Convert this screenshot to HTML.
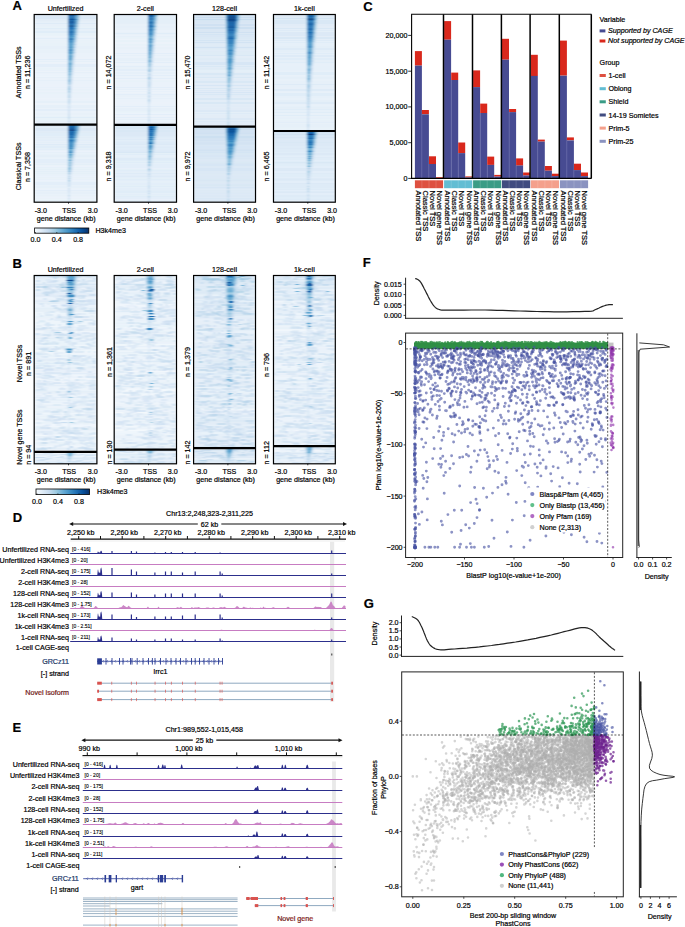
<!DOCTYPE html>
<html><head><meta charset="utf-8"><style>
html,body{margin:0;padding:0;background:#fff;}
body{width:685px;height:927px;overflow:hidden;}
svg{display:block;font-family:"Liberation Sans",sans-serif;font-size:7.15px;}
text{stroke:#000;stroke-width:0.2px;}
</style></head><body>
<svg width="685" height="927" viewBox="0 0 685 927">
<defs><filter id="hb" x="-2%" y="-1%" width="104%" height="102%"><feGaussianBlur stdDeviation="0.8 0.35"/></filter></defs>
<text x="12.6" y="10.1" font-size="13" font-weight="bold">A</text>
<text x="65.5" y="11.2" text-anchor="middle">Unfertilized</text>
<text x="145.3" y="11.2" text-anchor="middle">2-cell</text>
<text x="224.5" y="11.2" text-anchor="middle">128-cell</text>
<text x="304.4" y="11.2" text-anchor="middle">1k-cell</text>
<g filter="url(#hb)">
<path fill="#eaf3fb" d="M34.2 74.5h62.7v1.1h-62.7zM34.2 75.5h62.7v1.1h-62.7zM34.2 198.7h62.7v1.1h-62.7zM114.2 112.5h62.3v1.1h-62.3zM114.2 120.5h62.3v1.1h-62.3z"/>
<path fill="#e8f1fa" d="M34.2 35.5h62.7v1.1h-62.7zM34.2 41.5h62.7v1.1h-62.7zM34.2 57.5h62.7v1.1h-62.7zM34.2 62.5h62.7v1.1h-62.7zM34.2 69.5h62.7v1.1h-62.7zM34.2 70.5h62.7v1.1h-62.7zM34.2 84.5h62.7v1.1h-62.7zM34.2 86.5h62.7v1.1h-62.7zM34.2 87.5h62.7v1.1h-62.7zM34.2 90.5h62.7v1.1h-62.7zM34.2 98.5h62.7v1.1h-62.7zM34.2 103.5h62.7v1.1h-62.7zM34.2 150.7h62.7v1.1h-62.7zM34.2 165.7h62.7v1.1h-62.7zM34.2 174.7h62.7v1.1h-62.7zM34.2 175.7h62.7v1.1h-62.7zM34.2 178.7h62.7v1.1h-62.7zM34.2 179.7h62.7v1.1h-62.7zM34.2 188.7h62.7v1.1h-62.7zM34.2 196.7h62.7v1.1h-62.7zM34.2 201.7h62.7v0.6h-62.7zM114.2 38.5h62.3v1.1h-62.3zM114.2 42.5h62.3v1.1h-62.3zM114.2 45.5h62.3v1.1h-62.3zM114.2 51.5h62.3v1.1h-62.3zM114.2 63.5h62.3v1.1h-62.3zM114.2 79.5h62.3v1.1h-62.3zM114.2 90.5h62.3v1.1h-62.3zM114.2 91.5h62.3v1.1h-62.3zM114.2 102.5h62.3v1.1h-62.3zM114.2 115.5h62.3v1.1h-62.3zM114.2 122.5h62.3v1.1h-62.3zM114.2 124.5h62.3v0.4h-62.3zM114.2 167.8h62.3v1.1h-62.3zM114.2 198.8h62.3v1.1h-62.3z"/>
<path fill="#e6f0f9" d="M34.2 26.5h62.7v1.1h-62.7zM34.2 33.5h62.7v1.1h-62.7zM34.2 36.5h62.7v1.1h-62.7zM34.2 39.5h62.7v1.1h-62.7zM34.2 43.5h62.7v1.1h-62.7zM34.2 45.5h62.7v1.1h-62.7zM34.2 46.5h62.7v1.1h-62.7zM34.2 47.5h62.7v1.1h-62.7zM34.2 48.5h62.7v1.1h-62.7zM34.2 53.5h62.7v1.1h-62.7zM34.2 55.5h62.7v1.1h-62.7zM34.2 60.5h62.7v1.1h-62.7zM34.2 61.5h62.7v1.1h-62.7zM34.2 67.5h62.7v1.1h-62.7zM34.2 71.5h62.7v1.1h-62.7zM34.2 72.5h62.7v1.1h-62.7zM34.2 76.5h62.7v1.1h-62.7zM34.2 77.5h62.7v1.1h-62.7zM34.2 79.5h62.7v1.1h-62.7zM34.2 80.5h62.7v1.1h-62.7zM34.2 82.5h62.7v1.1h-62.7zM34.2 93.5h62.7v1.1h-62.7zM34.2 95.5h62.7v1.1h-62.7zM34.2 97.5h62.7v1.1h-62.7zM34.2 100.5h62.7v1.1h-62.7zM34.2 101.5h62.7v1.1h-62.7zM34.2 102.5h62.7v1.1h-62.7zM34.2 104.5h62.7v1.1h-62.7zM34.2 105.5h62.7v1.1h-62.7zM34.2 106.5h62.7v1.1h-62.7zM34.2 107.5h62.7v1.1h-62.7zM34.2 111.5h62.7v1.1h-62.7zM34.2 115.5h62.7v1.1h-62.7zM34.2 118.5h62.7v1.1h-62.7zM34.2 120.5h62.7v1.1h-62.7zM34.2 121.5h62.7v1.1h-62.7zM34.2 124.5h62.7v0.3h-62.7zM34.2 151.7h62.7v1.1h-62.7zM34.2 152.7h62.7v1.1h-62.7zM34.2 157.7h62.7v1.1h-62.7zM34.2 164.7h62.7v1.1h-62.7zM34.2 166.7h62.7v1.1h-62.7zM34.2 167.7h62.7v1.1h-62.7zM34.2 169.7h62.7v1.1h-62.7zM34.2 177.7h62.7v1.1h-62.7zM34.2 180.7h62.7v1.1h-62.7zM34.2 185.7h62.7v1.1h-62.7zM34.2 186.7h62.7v1.1h-62.7zM34.2 187.7h62.7v1.1h-62.7zM34.2 191.7h62.7v1.1h-62.7zM34.2 192.7h62.7v1.1h-62.7zM34.2 193.7h62.7v1.1h-62.7zM34.2 195.7h62.7v1.1h-62.7zM34.2 197.7h62.7v1.1h-62.7zM34.2 200.7h62.7v1.1h-62.7zM114.2 30.5h62.3v1.1h-62.3zM114.2 35.5h62.3v1.1h-62.3zM114.2 36.5h62.3v1.1h-62.3zM114.2 39.5h62.3v1.1h-62.3zM114.2 41.5h62.3v1.1h-62.3zM114.2 43.5h62.3v1.1h-62.3zM114.2 49.5h62.3v1.1h-62.3zM114.2 54.5h62.3v1.1h-62.3zM114.2 55.5h62.3v1.1h-62.3zM114.2 57.5h62.3v1.1h-62.3zM114.2 58.5h62.3v1.1h-62.3zM114.2 59.5h62.3v1.1h-62.3zM114.2 60.5h62.3v1.1h-62.3zM114.2 64.5h62.3v1.1h-62.3zM114.2 71.5h62.3v1.1h-62.3zM114.2 72.5h62.3v1.1h-62.3zM114.2 73.5h62.3v1.1h-62.3zM114.2 76.5h62.3v1.1h-62.3zM114.2 81.5h62.3v1.1h-62.3zM114.2 83.5h62.3v1.1h-62.3zM114.2 85.5h62.3v1.1h-62.3zM114.2 88.5h62.3v1.1h-62.3zM114.2 89.5h62.3v1.1h-62.3zM114.2 92.5h62.3v1.1h-62.3zM114.2 97.5h62.3v1.1h-62.3zM114.2 98.5h62.3v1.1h-62.3zM114.2 100.5h62.3v1.1h-62.3zM114.2 104.5h62.3v1.1h-62.3zM114.2 107.5h62.3v1.1h-62.3zM114.2 108.5h62.3v1.1h-62.3zM114.2 109.5h62.3v1.1h-62.3zM114.2 110.5h62.3v1.1h-62.3zM114.2 118.5h62.3v1.1h-62.3zM114.2 119.5h62.3v1.1h-62.3zM114.2 152.8h62.3v1.1h-62.3zM114.2 154.8h62.3v1.1h-62.3zM114.2 155.8h62.3v1.1h-62.3zM114.2 156.8h62.3v1.1h-62.3zM114.2 160.8h62.3v1.1h-62.3zM114.2 162.8h62.3v1.1h-62.3zM114.2 168.8h62.3v1.1h-62.3zM114.2 171.8h62.3v1.1h-62.3zM114.2 177.8h62.3v1.1h-62.3zM114.2 180.8h62.3v1.1h-62.3zM114.2 181.8h62.3v1.1h-62.3zM114.2 184.8h62.3v1.1h-62.3zM114.2 186.8h62.3v1.1h-62.3zM114.2 192.8h62.3v1.1h-62.3zM114.2 194.8h62.3v1.1h-62.3zM114.2 199.8h62.3v1.1h-62.3zM114.2 201.8h62.3v0.5h-62.3zM273.5 119.5h61.8v1.1h-61.8zM273.5 127.5h61.8v1.1h-61.8zM273.5 200h61.8v1.1h-61.8z"/>
<path fill="#e3eef9" d="M34.2 24.5h62.7v1.1h-62.7zM34.2 37.5h62.7v1.1h-62.7zM34.2 38.5h62.7v1.1h-62.7zM34.2 50.5h62.7v1.1h-62.7zM34.2 52.5h62.7v1.1h-62.7zM34.2 54.5h62.7v1.1h-62.7zM34.2 56.5h62.7v1.1h-62.7zM34.2 58.5h62.7v1.1h-62.7zM34.2 59.5h62.7v1.1h-62.7zM34.2 63.5h62.7v1.1h-62.7zM34.2 64.5h62.7v1.1h-62.7zM34.2 65.5h62.7v1.1h-62.7zM34.2 66.5h62.7v1.1h-62.7zM34.2 73.5h62.7v1.1h-62.7zM34.2 78.5h62.7v1.1h-62.7zM34.2 81.5h62.7v1.1h-62.7zM34.2 83.5h62.7v1.1h-62.7zM34.2 85.5h62.7v1.1h-62.7zM34.2 88.5h62.7v1.1h-62.7zM34.2 91.5h62.7v1.1h-62.7zM34.2 94.5h62.7v1.1h-62.7zM34.2 96.5h62.7v1.1h-62.7zM34.2 99.5h62.7v1.1h-62.7zM34.2 108.5h62.7v1.1h-62.7zM34.2 109.5h62.7v1.1h-62.7zM34.2 110.5h62.7v1.1h-62.7zM34.2 112.5h62.7v1.1h-62.7zM34.2 114.5h62.7v1.1h-62.7zM34.2 122.5h62.7v1.1h-62.7zM34.2 123.5h62.7v1.1h-62.7zM34.2 139.7h62.7v1.1h-62.7zM34.2 140.7h62.7v1.1h-62.7zM34.2 142.7h62.7v1.1h-62.7zM34.2 148.7h62.7v1.1h-62.7zM34.2 149.7h62.7v1.1h-62.7zM34.2 153.7h62.7v1.1h-62.7zM34.2 156.7h62.7v1.1h-62.7zM34.2 158.7h62.7v1.1h-62.7zM34.2 159.7h62.7v1.1h-62.7zM34.2 160.7h62.7v1.1h-62.7zM34.2 161.7h62.7v1.1h-62.7zM34.2 162.7h62.7v1.1h-62.7zM34.2 171.7h62.7v1.1h-62.7zM34.2 173.7h62.7v1.1h-62.7zM34.2 176.7h62.7v1.1h-62.7zM34.2 181.7h62.7v1.1h-62.7zM34.2 182.7h62.7v1.1h-62.7zM34.2 183.7h62.7v1.1h-62.7zM34.2 184.7h62.7v1.1h-62.7zM34.2 189.7h62.7v1.1h-62.7zM34.2 190.7h62.7v1.1h-62.7zM34.2 194.7h62.7v1.1h-62.7zM114.2 24.5h62.3v1.1h-62.3zM114.2 27.5h62.3v1.1h-62.3zM114.2 29.5h62.3v1.1h-62.3zM114.2 31.5h62.3v1.1h-62.3zM114.2 34.5h62.3v1.1h-62.3zM114.2 46.5h62.3v1.1h-62.3zM114.2 48.5h62.3v1.1h-62.3zM114.2 50.5h62.3v1.1h-62.3zM114.2 52.5h62.3v1.1h-62.3zM114.2 53.5h62.3v1.1h-62.3zM114.2 56.5h62.3v1.1h-62.3zM114.2 61.5h62.3v1.1h-62.3zM114.2 62.5h62.3v1.1h-62.3zM114.2 65.5h62.3v1.1h-62.3zM114.2 66.5h62.3v1.1h-62.3zM114.2 68.5h62.3v1.1h-62.3zM114.2 69.5h62.3v1.1h-62.3zM114.2 70.5h62.3v1.1h-62.3zM114.2 74.5h62.3v1.1h-62.3zM114.2 75.5h62.3v1.1h-62.3zM114.2 77.5h62.3v1.1h-62.3zM114.2 78.5h62.3v1.1h-62.3zM114.2 82.5h62.3v1.1h-62.3zM114.2 84.5h62.3v1.1h-62.3zM114.2 86.5h62.3v1.1h-62.3zM114.2 87.5h62.3v1.1h-62.3zM114.2 93.5h62.3v1.1h-62.3zM114.2 94.5h62.3v1.1h-62.3zM114.2 96.5h62.3v1.1h-62.3zM114.2 99.5h62.3v1.1h-62.3zM114.2 101.5h62.3v1.1h-62.3zM114.2 103.5h62.3v1.1h-62.3zM114.2 105.5h62.3v1.1h-62.3zM114.2 106.5h62.3v1.1h-62.3zM114.2 113.5h62.3v1.1h-62.3zM114.2 114.5h62.3v1.1h-62.3zM114.2 116.5h62.3v1.1h-62.3zM114.2 117.5h62.3v1.1h-62.3zM114.2 121.5h62.3v1.1h-62.3zM114.2 123.5h62.3v1.1h-62.3zM114.2 137.8h62.3v1.1h-62.3zM114.2 139.8h62.3v1.1h-62.3zM114.2 144.8h62.3v1.1h-62.3zM114.2 163.8h62.3v1.1h-62.3zM114.2 164.8h62.3v1.1h-62.3zM114.2 165.8h62.3v1.1h-62.3zM114.2 166.8h62.3v1.1h-62.3zM114.2 170.8h62.3v1.1h-62.3zM114.2 173.8h62.3v1.1h-62.3zM114.2 174.8h62.3v1.1h-62.3zM114.2 176.8h62.3v1.1h-62.3zM114.2 179.8h62.3v1.1h-62.3zM114.2 182.8h62.3v1.1h-62.3zM114.2 183.8h62.3v1.1h-62.3zM114.2 187.8h62.3v1.1h-62.3zM114.2 188.8h62.3v1.1h-62.3zM114.2 189.8h62.3v1.1h-62.3zM114.2 193.8h62.3v1.1h-62.3zM114.2 196.8h62.3v1.1h-62.3zM114.2 197.8h62.3v1.1h-62.3zM273.5 64.5h61.8v1.1h-61.8zM273.5 70.5h61.8v1.1h-61.8zM273.5 75.5h61.8v1.1h-61.8zM273.5 79.5h61.8v1.1h-61.8zM273.5 87.5h61.8v1.1h-61.8zM273.5 91.5h61.8v1.1h-61.8zM273.5 98.5h61.8v1.1h-61.8zM273.5 104.5h61.8v1.1h-61.8zM273.5 113.5h61.8v1.1h-61.8zM273.5 116.5h61.8v1.1h-61.8zM273.5 121.5h61.8v1.1h-61.8zM273.5 122.5h61.8v1.1h-61.8zM273.5 129.5h61.8v1.1h-61.8zM273.5 156h61.8v1.1h-61.8zM273.5 160h61.8v1.1h-61.8zM273.5 166h61.8v1.1h-61.8zM273.5 167h61.8v1.1h-61.8zM273.5 171h61.8v1.1h-61.8zM273.5 172h61.8v1.1h-61.8zM273.5 177h61.8v1.1h-61.8zM273.5 181h61.8v1.1h-61.8zM273.5 182h61.8v1.1h-61.8zM273.5 190h61.8v1.1h-61.8zM273.5 193h61.8v1.1h-61.8zM273.5 194h61.8v1.1h-61.8zM273.5 202h61.8v0.3h-61.8z"/>
<path fill="#e0edf8" d="M34.2 21.5h62.7v1.1h-62.7zM34.2 27.5h62.7v1.1h-62.7zM34.2 28.5h62.7v1.1h-62.7zM34.2 30.5h62.7v1.1h-62.7zM34.2 31.5h62.7v1.1h-62.7zM34.2 32.5h62.7v1.1h-62.7zM34.2 34.5h62.7v1.1h-62.7zM34.2 40.5h62.7v1.1h-62.7zM34.2 42.5h62.7v1.1h-62.7zM34.2 44.5h62.7v1.1h-62.7zM34.2 49.5h62.7v1.1h-62.7zM34.2 51.5h62.7v1.1h-62.7zM34.2 68.5h62.7v1.1h-62.7zM34.2 89.5h62.7v1.1h-62.7zM34.2 92.5h62.7v1.1h-62.7zM34.2 113.5h62.7v1.1h-62.7zM34.2 116.5h62.7v1.1h-62.7zM34.2 117.5h62.7v1.1h-62.7zM34.2 119.5h62.7v1.1h-62.7zM34.2 132.7h62.7v1.1h-62.7zM34.2 133.7h62.7v1.1h-62.7zM34.2 134.7h62.7v1.1h-62.7zM34.2 135.7h62.7v1.1h-62.7zM34.2 137.7h62.7v1.1h-62.7zM34.2 145.7h62.7v1.1h-62.7zM34.2 146.7h62.7v1.1h-62.7zM34.2 147.7h62.7v1.1h-62.7zM34.2 154.7h62.7v1.1h-62.7zM34.2 168.7h62.7v1.1h-62.7zM34.2 172.7h62.7v1.1h-62.7zM34.2 199.7h62.7v1.1h-62.7zM114.2 23.5h62.3v1.1h-62.3zM114.2 25.5h62.3v1.1h-62.3zM114.2 28.5h62.3v1.1h-62.3zM114.2 32.5h62.3v1.1h-62.3zM114.2 33.5h62.3v1.1h-62.3zM114.2 37.5h62.3v1.1h-62.3zM114.2 40.5h62.3v1.1h-62.3zM114.2 44.5h62.3v1.1h-62.3zM114.2 47.5h62.3v1.1h-62.3zM114.2 67.5h62.3v1.1h-62.3zM114.2 80.5h62.3v1.1h-62.3zM114.2 95.5h62.3v1.1h-62.3zM114.2 111.5h62.3v1.1h-62.3zM114.2 136.8h62.3v1.1h-62.3zM114.2 140.8h62.3v1.1h-62.3zM114.2 145.8h62.3v1.1h-62.3zM114.2 147.8h62.3v1.1h-62.3zM114.2 148.8h62.3v1.1h-62.3zM114.2 153.8h62.3v1.1h-62.3zM114.2 159.8h62.3v1.1h-62.3zM114.2 161.8h62.3v1.1h-62.3zM114.2 169.8h62.3v1.1h-62.3zM114.2 178.8h62.3v1.1h-62.3zM114.2 185.8h62.3v1.1h-62.3zM114.2 190.8h62.3v1.1h-62.3zM114.2 191.8h62.3v1.1h-62.3zM114.2 195.8h62.3v1.1h-62.3zM114.2 200.8h62.3v1.1h-62.3zM273.5 41.5h61.8v1.1h-61.8zM273.5 42.5h61.8v1.1h-61.8zM273.5 44.5h61.8v1.1h-61.8zM273.5 52.5h61.8v1.1h-61.8zM273.5 53.5h61.8v1.1h-61.8zM273.5 57.5h61.8v1.1h-61.8zM273.5 58.5h61.8v1.1h-61.8zM273.5 59.5h61.8v1.1h-61.8zM273.5 61.5h61.8v1.1h-61.8zM273.5 62.5h61.8v1.1h-61.8zM273.5 66.5h61.8v1.1h-61.8zM273.5 68.5h61.8v1.1h-61.8zM273.5 71.5h61.8v1.1h-61.8zM273.5 72.5h61.8v1.1h-61.8zM273.5 73.5h61.8v1.1h-61.8zM273.5 74.5h61.8v1.1h-61.8zM273.5 78.5h61.8v1.1h-61.8zM273.5 80.5h61.8v1.1h-61.8zM273.5 82.5h61.8v1.1h-61.8zM273.5 85.5h61.8v1.1h-61.8zM273.5 92.5h61.8v1.1h-61.8zM273.5 93.5h61.8v1.1h-61.8zM273.5 94.5h61.8v1.1h-61.8zM273.5 95.5h61.8v1.1h-61.8zM273.5 97.5h61.8v1.1h-61.8zM273.5 99.5h61.8v1.1h-61.8zM273.5 105.5h61.8v1.1h-61.8zM273.5 108.5h61.8v1.1h-61.8zM273.5 109.5h61.8v1.1h-61.8zM273.5 111.5h61.8v1.1h-61.8zM273.5 112.5h61.8v1.1h-61.8zM273.5 114.5h61.8v1.1h-61.8zM273.5 115.5h61.8v1.1h-61.8zM273.5 118.5h61.8v1.1h-61.8zM273.5 123.5h61.8v1.1h-61.8zM273.5 125.5h61.8v1.1h-61.8zM273.5 128.5h61.8v1.1h-61.8zM273.5 152h61.8v1.1h-61.8zM273.5 155h61.8v1.1h-61.8zM273.5 158h61.8v1.1h-61.8zM273.5 159h61.8v1.1h-61.8zM273.5 161h61.8v1.1h-61.8zM273.5 164h61.8v1.1h-61.8zM273.5 165h61.8v1.1h-61.8zM273.5 174h61.8v1.1h-61.8zM273.5 175h61.8v1.1h-61.8zM273.5 176h61.8v1.1h-61.8zM273.5 188h61.8v1.1h-61.8zM273.5 197h61.8v1.1h-61.8zM273.5 198h61.8v1.1h-61.8z"/>
<path fill="#deebf7" d="M34.2 22.5h62.7v1.1h-62.7zM34.2 23.5h62.7v1.1h-62.7zM34.2 25.5h62.7v1.1h-62.7zM34.2 29.5h62.7v1.1h-62.7zM34.2 126.7h62.7v1.1h-62.7zM34.2 138.7h62.7v1.1h-62.7zM34.2 141.7h62.7v1.1h-62.7zM34.2 143.7h62.7v1.1h-62.7zM34.2 144.7h62.7v1.1h-62.7zM34.2 155.7h62.7v1.1h-62.7zM34.2 163.7h62.7v1.1h-62.7zM34.2 170.7h62.7v1.1h-62.7zM114.2 17.5h62.3v1.1h-62.3zM114.2 19.5h62.3v1.1h-62.3zM114.2 21.5h62.3v1.1h-62.3zM114.2 26.5h62.3v1.1h-62.3zM114.2 128.8h62.3v1.1h-62.3zM114.2 135.8h62.3v1.1h-62.3zM114.2 138.8h62.3v1.1h-62.3zM114.2 141.8h62.3v1.1h-62.3zM114.2 142.8h62.3v1.1h-62.3zM114.2 146.8h62.3v1.1h-62.3zM114.2 149.8h62.3v1.1h-62.3zM114.2 150.8h62.3v1.1h-62.3zM114.2 157.8h62.3v1.1h-62.3zM114.2 158.8h62.3v1.1h-62.3zM114.2 172.8h62.3v1.1h-62.3zM114.2 175.8h62.3v1.1h-62.3zM193.6 70.5h61.9v1.1h-61.9zM193.6 112.5h61.9v1.1h-61.9zM193.6 113.5h61.9v1.1h-61.9zM193.6 120.5h61.9v1.1h-61.9zM193.6 121.5h61.9v1.1h-61.9zM193.6 123.5h61.9v1.1h-61.9zM193.6 188.6h61.9v1.1h-61.9zM273.5 29.5h61.8v1.1h-61.8zM273.5 30.5h61.8v1.1h-61.8zM273.5 39.5h61.8v1.1h-61.8zM273.5 40.5h61.8v1.1h-61.8zM273.5 43.5h61.8v1.1h-61.8zM273.5 45.5h61.8v1.1h-61.8zM273.5 47.5h61.8v1.1h-61.8zM273.5 48.5h61.8v1.1h-61.8zM273.5 49.5h61.8v1.1h-61.8zM273.5 51.5h61.8v1.1h-61.8zM273.5 54.5h61.8v1.1h-61.8zM273.5 55.5h61.8v1.1h-61.8zM273.5 56.5h61.8v1.1h-61.8zM273.5 63.5h61.8v1.1h-61.8zM273.5 65.5h61.8v1.1h-61.8zM273.5 67.5h61.8v1.1h-61.8zM273.5 69.5h61.8v1.1h-61.8zM273.5 76.5h61.8v1.1h-61.8zM273.5 81.5h61.8v1.1h-61.8zM273.5 83.5h61.8v1.1h-61.8zM273.5 84.5h61.8v1.1h-61.8zM273.5 86.5h61.8v1.1h-61.8zM273.5 88.5h61.8v1.1h-61.8zM273.5 89.5h61.8v1.1h-61.8zM273.5 90.5h61.8v1.1h-61.8zM273.5 96.5h61.8v1.1h-61.8zM273.5 101.5h61.8v1.1h-61.8zM273.5 102.5h61.8v1.1h-61.8zM273.5 103.5h61.8v1.1h-61.8zM273.5 106.5h61.8v1.1h-61.8zM273.5 110.5h61.8v1.1h-61.8zM273.5 117.5h61.8v1.1h-61.8zM273.5 120.5h61.8v1.1h-61.8zM273.5 124.5h61.8v1.1h-61.8zM273.5 126.5h61.8v1.1h-61.8zM273.5 139h61.8v1.1h-61.8zM273.5 146h61.8v1.1h-61.8zM273.5 147h61.8v1.1h-61.8zM273.5 149h61.8v1.1h-61.8zM273.5 150h61.8v1.1h-61.8zM273.5 151h61.8v1.1h-61.8zM273.5 157h61.8v1.1h-61.8zM273.5 163h61.8v1.1h-61.8zM273.5 173h61.8v1.1h-61.8zM273.5 178h61.8v1.1h-61.8zM273.5 180h61.8v1.1h-61.8zM273.5 184h61.8v1.1h-61.8zM273.5 185h61.8v1.1h-61.8zM273.5 186h61.8v1.1h-61.8zM273.5 187h61.8v1.1h-61.8zM273.5 189h61.8v1.1h-61.8zM273.5 191h61.8v1.1h-61.8zM273.5 195h61.8v1.1h-61.8zM273.5 196h61.8v1.1h-61.8zM273.5 199h61.8v1.1h-61.8zM273.5 201h61.8v1.1h-61.8z"/>
<path fill="#dce9f6" d="M34.2 15.5h62.7v1.1h-62.7zM34.2 16.5h62.7v1.1h-62.7zM34.2 17.5h62.7v1.1h-62.7zM34.2 18.5h62.7v1.1h-62.7zM34.2 20.5h62.7v1.1h-62.7zM34.2 124.7h62.7v1.1h-62.7zM34.2 127.7h62.7v1.1h-62.7zM34.2 128.7h62.7v1.1h-62.7zM34.2 129.7h62.7v1.1h-62.7zM34.2 130.7h62.7v1.1h-62.7zM34.2 136.7h62.7v1.1h-62.7zM114.2 16.5h62.3v1.1h-62.3zM114.2 20.5h62.3v1.1h-62.3zM114.2 22.5h62.3v1.1h-62.3zM114.2 131.8h62.3v1.1h-62.3zM114.2 132.8h62.3v1.1h-62.3zM114.2 133.8h62.3v1.1h-62.3zM114.2 134.8h62.3v1.1h-62.3zM114.2 143.8h62.3v1.1h-62.3zM193.6 56.5h61.9v1.1h-61.9zM193.6 69.5h61.9v1.1h-61.9zM193.6 71.5h61.9v1.1h-61.9zM193.6 78.5h61.9v1.1h-61.9zM193.6 83.5h61.9v1.1h-61.9zM193.6 86.5h61.9v1.1h-61.9zM193.6 89.5h61.9v1.1h-61.9zM193.6 90.5h61.9v1.1h-61.9zM193.6 96.5h61.9v1.1h-61.9zM193.6 100.5h61.9v1.1h-61.9zM193.6 104.5h61.9v1.1h-61.9zM193.6 107.5h61.9v1.1h-61.9zM193.6 109.5h61.9v1.1h-61.9zM193.6 110.5h61.9v1.1h-61.9zM193.6 111.5h61.9v1.1h-61.9zM193.6 115.5h61.9v1.1h-61.9zM193.6 117.5h61.9v1.1h-61.9zM193.6 118.5h61.9v1.1h-61.9zM193.6 119.5h61.9v1.1h-61.9zM193.6 125.5h61.9v1.1h-61.9zM193.6 126.5h61.9v0.2h-61.9zM193.6 159.6h61.9v1.1h-61.9zM193.6 174.6h61.9v1.1h-61.9zM193.6 182.6h61.9v1.1h-61.9zM193.6 190.6h61.9v1.1h-61.9zM193.6 192.6h61.9v1.1h-61.9zM193.6 193.6h61.9v1.1h-61.9zM193.6 196.6h61.9v1.1h-61.9zM193.6 200.6h61.9v1.1h-61.9zM193.6 201.6h61.9v0.7h-61.9zM273.5 26.5h61.8v1.1h-61.8zM273.5 31.5h61.8v1.1h-61.8zM273.5 32.5h61.8v1.1h-61.8zM273.5 33.5h61.8v1.1h-61.8zM273.5 34.5h61.8v1.1h-61.8zM273.5 35.5h61.8v1.1h-61.8zM273.5 46.5h61.8v1.1h-61.8zM273.5 50.5h61.8v1.1h-61.8zM273.5 60.5h61.8v1.1h-61.8zM273.5 77.5h61.8v1.1h-61.8zM273.5 100.5h61.8v1.1h-61.8zM273.5 107.5h61.8v1.1h-61.8zM273.5 130.5h61.8v0.6h-61.8zM273.5 136h61.8v1.1h-61.8zM273.5 138h61.8v1.1h-61.8zM273.5 140h61.8v1.1h-61.8zM273.5 141h61.8v1.1h-61.8zM273.5 143h61.8v1.1h-61.8zM273.5 144h61.8v1.1h-61.8zM273.5 145h61.8v1.1h-61.8zM273.5 148h61.8v1.1h-61.8zM273.5 153h61.8v1.1h-61.8zM273.5 154h61.8v1.1h-61.8zM273.5 168h61.8v1.1h-61.8zM273.5 169h61.8v1.1h-61.8zM273.5 170h61.8v1.1h-61.8zM273.5 179h61.8v1.1h-61.8zM273.5 183h61.8v1.1h-61.8zM273.5 192h61.8v1.1h-61.8z"/>
<path fill="#d9e8f5" d="M34.2 14.5h62.7v1.1h-62.7zM34.2 19.5h62.7v1.1h-62.7zM34.2 131.7h62.7v1.1h-62.7zM114.2 15.5h62.3v1.1h-62.3zM114.2 18.5h62.3v1.1h-62.3zM114.2 125.8h62.3v1.1h-62.3zM114.2 126.8h62.3v1.1h-62.3zM114.2 127.8h62.3v1.1h-62.3zM114.2 129.8h62.3v1.1h-62.3zM114.2 130.8h62.3v1.1h-62.3zM114.2 151.8h62.3v1.1h-62.3zM193.6 49.5h61.9v1.1h-61.9zM193.6 52.5h61.9v1.1h-61.9zM193.6 54.5h61.9v1.1h-61.9zM193.6 55.5h61.9v1.1h-61.9zM193.6 57.5h61.9v1.1h-61.9zM193.6 60.5h61.9v1.1h-61.9zM193.6 65.5h61.9v1.1h-61.9zM193.6 66.5h61.9v1.1h-61.9zM193.6 72.5h61.9v1.1h-61.9zM193.6 73.5h61.9v1.1h-61.9zM193.6 74.5h61.9v1.1h-61.9zM193.6 76.5h61.9v1.1h-61.9zM193.6 77.5h61.9v1.1h-61.9zM193.6 80.5h61.9v1.1h-61.9zM193.6 81.5h61.9v1.1h-61.9zM193.6 82.5h61.9v1.1h-61.9zM193.6 87.5h61.9v1.1h-61.9zM193.6 88.5h61.9v1.1h-61.9zM193.6 93.5h61.9v1.1h-61.9zM193.6 94.5h61.9v1.1h-61.9zM193.6 97.5h61.9v1.1h-61.9zM193.6 98.5h61.9v1.1h-61.9zM193.6 99.5h61.9v1.1h-61.9zM193.6 101.5h61.9v1.1h-61.9zM193.6 102.5h61.9v1.1h-61.9zM193.6 103.5h61.9v1.1h-61.9zM193.6 106.5h61.9v1.1h-61.9zM193.6 114.5h61.9v1.1h-61.9zM193.6 116.5h61.9v1.1h-61.9zM193.6 153.6h61.9v1.1h-61.9zM193.6 161.6h61.9v1.1h-61.9zM193.6 166.6h61.9v1.1h-61.9zM193.6 171.6h61.9v1.1h-61.9zM193.6 173.6h61.9v1.1h-61.9zM193.6 176.6h61.9v1.1h-61.9zM193.6 178.6h61.9v1.1h-61.9zM193.6 181.6h61.9v1.1h-61.9zM193.6 185.6h61.9v1.1h-61.9zM193.6 189.6h61.9v1.1h-61.9zM193.6 191.6h61.9v1.1h-61.9zM193.6 194.6h61.9v1.1h-61.9zM193.6 197.6h61.9v1.1h-61.9zM193.6 198.6h61.9v1.1h-61.9zM273.5 19.5h61.8v1.1h-61.8zM273.5 20.5h61.8v1.1h-61.8zM273.5 21.5h61.8v1.1h-61.8zM273.5 22.5h61.8v1.1h-61.8zM273.5 23.5h61.8v1.1h-61.8zM273.5 25.5h61.8v1.1h-61.8zM273.5 27.5h61.8v1.1h-61.8zM273.5 28.5h61.8v1.1h-61.8zM273.5 36.5h61.8v1.1h-61.8zM273.5 37.5h61.8v1.1h-61.8zM273.5 38.5h61.8v1.1h-61.8zM273.5 133h61.8v1.1h-61.8zM273.5 135h61.8v1.1h-61.8zM273.5 142h61.8v1.1h-61.8zM273.5 162h61.8v1.1h-61.8z"/>
<path fill="#d7e6f5" d="M114.2 14.5h62.3v1.1h-62.3zM193.6 44.5h61.9v1.1h-61.9zM193.6 50.5h61.9v1.1h-61.9zM193.6 59.5h61.9v1.1h-61.9zM193.6 61.5h61.9v1.1h-61.9zM193.6 62.5h61.9v1.1h-61.9zM193.6 63.5h61.9v1.1h-61.9zM193.6 64.5h61.9v1.1h-61.9zM193.6 67.5h61.9v1.1h-61.9zM193.6 75.5h61.9v1.1h-61.9zM193.6 79.5h61.9v1.1h-61.9zM193.6 84.5h61.9v1.1h-61.9zM193.6 85.5h61.9v1.1h-61.9zM193.6 91.5h61.9v1.1h-61.9zM193.6 92.5h61.9v1.1h-61.9zM193.6 95.5h61.9v1.1h-61.9zM193.6 105.5h61.9v1.1h-61.9zM193.6 108.5h61.9v1.1h-61.9zM193.6 122.5h61.9v1.1h-61.9zM193.6 124.5h61.9v1.1h-61.9zM193.6 145.6h61.9v1.1h-61.9zM193.6 146.6h61.9v1.1h-61.9zM193.6 147.6h61.9v1.1h-61.9zM193.6 155.6h61.9v1.1h-61.9zM193.6 156.6h61.9v1.1h-61.9zM193.6 158.6h61.9v1.1h-61.9zM193.6 160.6h61.9v1.1h-61.9zM193.6 163.6h61.9v1.1h-61.9zM193.6 164.6h61.9v1.1h-61.9zM193.6 165.6h61.9v1.1h-61.9zM193.6 167.6h61.9v1.1h-61.9zM193.6 168.6h61.9v1.1h-61.9zM193.6 169.6h61.9v1.1h-61.9zM193.6 170.6h61.9v1.1h-61.9zM193.6 172.6h61.9v1.1h-61.9zM193.6 175.6h61.9v1.1h-61.9zM193.6 177.6h61.9v1.1h-61.9zM193.6 180.6h61.9v1.1h-61.9zM193.6 183.6h61.9v1.1h-61.9zM193.6 186.6h61.9v1.1h-61.9zM193.6 187.6h61.9v1.1h-61.9zM193.6 195.6h61.9v1.1h-61.9zM193.6 199.6h61.9v1.1h-61.9zM273.5 14.5h61.8v1.1h-61.8zM273.5 16.5h61.8v1.1h-61.8zM273.5 24.5h61.8v1.1h-61.8zM273.5 137h61.8v1.1h-61.8z"/>
<path fill="#d4e5f4" d="M34.2 125.7h62.7v1.1h-62.7zM114.2 124.8h62.3v1.1h-62.3zM193.6 33.5h61.9v1.1h-61.9zM193.6 34.5h61.9v1.1h-61.9zM193.6 39.5h61.9v1.1h-61.9zM193.6 40.5h61.9v1.1h-61.9zM193.6 43.5h61.9v1.1h-61.9zM193.6 45.5h61.9v1.1h-61.9zM193.6 48.5h61.9v1.1h-61.9zM193.6 51.5h61.9v1.1h-61.9zM193.6 53.5h61.9v1.1h-61.9zM193.6 58.5h61.9v1.1h-61.9zM193.6 68.5h61.9v1.1h-61.9zM193.6 134.6h61.9v1.1h-61.9zM193.6 144.6h61.9v1.1h-61.9zM193.6 151.6h61.9v1.1h-61.9zM193.6 152.6h61.9v1.1h-61.9zM193.6 157.6h61.9v1.1h-61.9zM193.6 162.6h61.9v1.1h-61.9zM193.6 179.6h61.9v1.1h-61.9zM193.6 184.6h61.9v1.1h-61.9zM273.5 17.5h61.8v1.1h-61.8zM273.5 18.5h61.8v1.1h-61.8zM273.5 131h61.8v1.1h-61.8z"/>
<path fill="#d2e3f3" d="M193.6 36.5h61.9v1.1h-61.9zM193.6 38.5h61.9v1.1h-61.9zM193.6 41.5h61.9v1.1h-61.9zM193.6 42.5h61.9v1.1h-61.9zM193.6 46.5h61.9v1.1h-61.9zM193.6 47.5h61.9v1.1h-61.9zM193.6 138.6h61.9v1.1h-61.9zM193.6 140.6h61.9v1.1h-61.9zM193.6 149.6h61.9v1.1h-61.9zM193.6 150.6h61.9v1.1h-61.9zM193.6 154.6h61.9v1.1h-61.9zM273.5 132h61.8v1.1h-61.8zM273.5 134h61.8v1.1h-61.8z"/>
<path fill="#d0e1f2" d="M193.6 23.5h61.9v1.1h-61.9zM193.6 24.5h61.9v1.1h-61.9zM193.6 25.5h61.9v1.1h-61.9zM193.6 29.5h61.9v1.1h-61.9zM193.6 31.5h61.9v1.1h-61.9zM193.6 32.5h61.9v1.1h-61.9zM193.6 37.5h61.9v1.1h-61.9zM193.6 130.6h61.9v1.1h-61.9zM193.6 132.6h61.9v1.1h-61.9zM193.6 133.6h61.9v1.1h-61.9zM193.6 141.6h61.9v1.1h-61.9zM193.6 143.6h61.9v1.1h-61.9zM193.6 148.6h61.9v1.1h-61.9zM273.5 15.5h61.8v1.1h-61.8z"/>
<path fill="#cde0f1" d="M193.6 20.5h61.9v1.1h-61.9zM193.6 22.5h61.9v1.1h-61.9zM193.6 26.5h61.9v1.1h-61.9zM193.6 27.5h61.9v1.1h-61.9zM193.6 28.5h61.9v1.1h-61.9zM193.6 30.5h61.9v1.1h-61.9zM193.6 128.6h61.9v1.1h-61.9zM193.6 129.6h61.9v1.1h-61.9zM193.6 135.6h61.9v1.1h-61.9zM193.6 136.6h61.9v1.1h-61.9zM193.6 137.6h61.9v1.1h-61.9zM193.6 142.6h61.9v1.1h-61.9z"/>
<path fill="#cbdef1" d="M193.6 16.5h61.9v1.1h-61.9zM193.6 17.5h61.9v1.1h-61.9zM193.6 21.5h61.9v1.1h-61.9zM193.6 35.5h61.9v1.1h-61.9zM193.6 131.6h61.9v1.1h-61.9zM193.6 139.6h61.9v1.1h-61.9z"/>
<path fill="#c8ddf0" d="M193.6 15.5h61.9v1.1h-61.9zM193.6 18.5h61.9v1.1h-61.9zM193.6 19.5h61.9v1.1h-61.9zM193.6 126.6h61.9v1.1h-61.9zM193.6 127.6h61.9v1.1h-61.9z"/>
<path fill="#c2d9ee" d="M193.6 14.5h61.9v1.1h-61.9z"/>
<path fill="#e6f0f9" d="M67.7 104.5h3v1.1h-3zM67.7 186.7h2.8v1.1h-2.8z"/>
<path fill="#e0edf8" d="M147.7 88.5h3.5v1.1h-3.5zM147.7 97.5h3v1.1h-3zM147.7 102.5h2.8v1.1h-2.8zM147.7 171.8h3.5v1.1h-3.5z"/>
<path fill="#deebf7" d="M67.7 98.5h3.4v1.1h-3.4zM67.7 102.5h3.1v1.1h-3.1zM67.7 106.5h2.9v1.1h-2.9zM67.7 174.7h4.2v1.1h-4.2zM67.7 178.7h3.7v1.1h-3.7zM67.7 185.7h2.9v1.1h-2.9zM147.7 72.5h4.7v1.1h-4.7zM147.7 91.5h3.3v1.1h-3.3zM147.7 93.5h3.2v1.1h-3.2zM147.7 166.8h4.1v1.1h-4.1zM147.7 167.8h4v1.1h-4zM147.7 176.8h3v1.1h-3zM147.7 177.8h2.9v1.1h-2.9zM147.7 178.8h2.8v1.1h-2.8zM306.9 104.5h3.3v1.1h-3.3zM307 112.5h2.8v1.1h-2.8z"/>
<path fill="#dce9f6" d="M67.7 93.5h3.8v1.1h-3.8zM67.7 97.5h3.5v1.1h-3.5zM67.7 100.5h3.3v1.1h-3.3zM67.7 103.5h3.1v1.1h-3.1zM67.7 105.5h2.9v1.1h-2.9zM67.7 107.5h2.8v1.1h-2.8zM67.7 176.7h3.9v1.1h-3.9zM67.7 181.7h3.3v1.1h-3.3zM67.7 182.7h3.2v1.1h-3.2zM67.7 183.7h3.1v1.1h-3.1zM67.7 184.7h3v1.1h-3zM147.7 71.5h4.7v1.1h-4.7zM147.7 90.5h3.4v1.1h-3.4zM147.7 94.5h3.1v1.1h-3.1zM147.7 98.5h2.9v1.1h-2.9zM147.7 101.5h2.8v1.1h-2.8zM147.7 174.8h3.2v1.1h-3.2zM307 109.5h3v1.1h-3zM307 110.5h2.9v1.1h-2.9zM306.9 181h3.4v1.1h-3.4zM307 184h2.9v1.1h-2.9z"/>
<path fill="#d9e8f5" d="M67.7 75.5h5.5v1.1h-5.5zM67.7 84.5h4.6v1.1h-4.6zM67.7 95.5h3.7v1.1h-3.7zM67.7 175.7h4.1v1.1h-4.1zM147.7 73.5h4.6v1.1h-4.6zM147.7 75.5h4.4v1.1h-4.4zM147.7 79.5h4.1v1.1h-4.1zM147.7 80.5h4.1v1.1h-4.1zM147.7 86.5h3.6v1.1h-3.6zM147.7 87.5h3.6v1.1h-3.6zM147.7 89.5h3.4v1.1h-3.4zM147.7 165.8h4.3v1.1h-4.3zM147.7 170.8h3.6v1.1h-3.6zM147.7 172.8h3.4v1.1h-3.4zM147.7 173.8h3.3v1.1h-3.3zM226.9 171.6h4.5v1.1h-4.5zM307 107.5h3.1v1.1h-3.1zM307 111.5h2.9v1.1h-2.9zM307 113.5h2.8v1.1h-2.8zM306.7 167h5.7v1.1h-5.7zM306.9 180h3.5v1.1h-3.5zM307 182h3.2v1.1h-3.2z"/>
<path fill="#d7e6f5" d="M67.7 85.5h4.5v1.1h-4.5zM67.7 87.5h4.3v1.1h-4.3zM67.7 101.5h3.2v1.1h-3.2zM67.7 171.7h4.6v1.1h-4.6zM67.7 173.7h4.3v1.1h-4.3zM67.7 180.7h3.4v1.1h-3.4zM147.7 67.5h5.1v1.1h-5.1zM147.7 74.5h4.5v1.1h-4.5zM147.7 76.5h4.4v1.1h-4.4zM147.7 81.5h4v1.1h-4zM147.7 82.5h3.9v1.1h-3.9zM147.7 83.5h3.8v1.1h-3.8zM147.7 84.5h3.8v1.1h-3.8zM147.7 95.5h3.1v1.1h-3.1zM147.7 96.5h3v1.1h-3zM147.7 100.5h2.9v1.1h-2.9zM147.7 162.8h4.7v1.1h-4.7zM147.7 175.8h3.1v1.1h-3.1zM227 99.5h3.4v1.1h-3.4zM227.1 178.6h3v1.1h-3zM306.7 82.5h5v1.1h-5zM306.9 102.5h3.5v1.1h-3.5zM307 108.5h3.1v1.1h-3.1zM306.9 176h4.2v1.1h-4.2zM306.9 177h4v1.1h-4zM306.9 178h3.9v1.1h-3.9z"/>
<path fill="#d4e5f4" d="M67.7 77.5h5.3v1.1h-5.3zM67.7 90.5h4.1v1.1h-4.1zM67.7 92.5h3.9v1.1h-3.9zM67.7 94.5h3.7v1.1h-3.7zM67.7 99.5h3.3v1.1h-3.3zM67.7 165.7h5.5v1.1h-5.5zM67.7 177.7h3.8v1.1h-3.8zM67.7 179.7h3.5v1.1h-3.5zM147.7 62.5h5.5v1.1h-5.5zM147.7 66.5h5.2v1.1h-5.2zM147.7 85.5h3.7v1.1h-3.7zM147.7 92.5h3.3v1.1h-3.3zM147.7 160.8h5v1.1h-5zM147.7 169.8h3.8v1.1h-3.8zM227 100.5h3.3v1.1h-3.3zM227.1 102.5h3v1.1h-3zM227.1 103.5h2.9v1.1h-2.9zM227 175.6h3.7v1.1h-3.7zM306.8 91.5h4.3v1.1h-4.3zM306.8 92.5h4.2v1.1h-4.2zM306.9 97.5h3.8v1.1h-3.8zM306.9 99.5h3.7v1.1h-3.7zM306.8 169h5.3v1.1h-5.3zM306.8 170h5.2v1.1h-5.2zM306.8 172h4.8v1.1h-4.8zM306.8 174h4.5v1.1h-4.5zM306.9 175h4.3v1.1h-4.3z"/>
<path fill="#d2e3f3" d="M67.7 72.5h5.8v1.1h-5.8zM67.7 81.5h4.9v1.1h-4.9zM67.7 82.5h4.8v1.1h-4.8zM67.7 83.5h4.7v1.1h-4.7zM67.7 86.5h4.4v1.1h-4.4zM67.7 89.5h4.2v1.1h-4.2zM67.7 96.5h3.6v1.1h-3.6zM67.7 157.7h6.8v1.1h-6.8zM67.7 158.7h6.7v1.1h-6.7zM67.7 160.7h6.3v1.1h-6.3zM67.7 166.7h5.4v1.1h-5.4zM67.7 169.7h4.9v1.1h-4.9zM67.7 172.7h4.5v1.1h-4.5zM147.7 58.5h5.9v1.1h-5.9zM147.7 63.5h5.4v1.1h-5.4zM147.7 64.5h5.3v1.1h-5.3zM147.7 68.5h5v1.1h-5zM147.7 69.5h4.9v1.1h-4.9zM147.7 78.5h4.2v1.1h-4.2zM147.7 99.5h2.9v1.1h-2.9zM147.7 159.8h5.1v1.1h-5.1zM147.7 163.8h4.5v1.1h-4.5zM147.7 164.8h4.4v1.1h-4.4zM147.7 168.8h3.9v1.1h-3.9zM227.1 101.5h3.1v1.1h-3.1zM227 174.6h3.9v1.1h-3.9zM227 176.6h3.4v1.1h-3.4zM306.8 83.5h5v1.1h-5zM306.8 87.5h4.6v1.1h-4.6zM306.8 88.5h4.5v1.1h-4.5zM306.8 93.5h4.1v1.1h-4.1zM306.8 94.5h4.1v1.1h-4.1zM306.9 96.5h3.9v1.1h-3.9zM306.9 98.5h3.8v1.1h-3.8zM306.9 100.5h3.6v1.1h-3.6zM306.9 101.5h3.5v1.1h-3.5zM306.9 103.5h3.4v1.1h-3.4zM306.9 105.5h3.3v1.1h-3.3zM306.6 161h6.7v1.1h-6.7zM306.7 164h6.2v1.1h-6.2zM306.7 165h6v1.1h-6zM306.8 168h5.5v1.1h-5.5zM306.8 171h5v1.1h-5zM306.8 173h4.7v1.1h-4.7zM306.9 179h3.7v1.1h-3.7zM307 183h3v1.1h-3z"/>
<path fill="#d0e1f2" d="M67.7 60.5h7v1.1h-7zM67.7 61.5h6.9v1.1h-6.9zM67.7 62.5h6.8v1.1h-6.8zM67.7 67.5h6.3v1.1h-6.3zM67.7 70.5h6v1.1h-6zM67.7 71.5h5.9v1.1h-5.9zM67.7 74.5h5.6v1.1h-5.6zM67.7 76.5h5.4v1.1h-5.4zM67.7 78.5h5.2v1.1h-5.2zM67.7 79.5h5.1v1.1h-5.1zM67.7 91.5h4v1.1h-4zM67.7 152.7h7.7v1.1h-7.7zM67.7 161.7h6.2v1.1h-6.2zM67.7 162.7h6v1.1h-6zM67.7 163.7h5.8v1.1h-5.8zM67.7 164.7h5.7v1.1h-5.7zM147.7 65.5h5.2v1.1h-5.2zM147.7 152.8h6.1v1.1h-6.1zM147.7 153.8h6v1.1h-6zM147.7 154.8h5.8v1.1h-5.8zM147.7 156.8h5.5v1.1h-5.5zM147.7 161.8h4.8v1.1h-4.8zM226.8 83.5h5.5v1.1h-5.5zM226.8 87.5h4.9v1.1h-4.9zM226.7 165.6h5.8v1.1h-5.8zM306.6 66.5h6.5v1.1h-6.5zM306.7 74.5h5.7v1.1h-5.7zM306.7 79.5h5.3v1.1h-5.3zM306.7 80.5h5.2v1.1h-5.2zM306.7 81.5h5.1v1.1h-5.1zM306.8 84.5h4.9v1.1h-4.9zM306.8 89.5h4.5v1.1h-4.5zM306.9 106.5h3.2v1.1h-3.2zM306.6 159h7v1.1h-7z"/>
<path fill="#cde0f1" d="M67.7 48.5h8.3v1.1h-8.3zM67.7 53.5h7.8v1.1h-7.8zM67.7 57.5h7.3v1.1h-7.3zM67.7 64.5h6.6v1.1h-6.6zM67.7 69.5h6.1v1.1h-6.1zM67.7 73.5h5.7v1.1h-5.7zM67.7 156.7h7v1.1h-7zM67.7 167.7h5.2v1.1h-5.2zM147.7 42.5h7.4v1.1h-7.4zM147.7 55.5h6.1v1.1h-6.1zM147.7 57.5h5.9v1.1h-5.9zM147.7 59.5h5.8v1.1h-5.8zM147.7 70.5h4.8v1.1h-4.8zM147.7 77.5h4.3v1.1h-4.3zM147.7 149.8h6.6v1.1h-6.6zM147.7 155.8h5.7v1.1h-5.7zM147.7 157.8h5.4v1.1h-5.4zM147.7 158.8h5.2v1.1h-5.2zM226.6 76.5h6.3v1.1h-6.3zM226.8 86.5h5.1v1.1h-5.1zM226.9 90.5h4.6v1.1h-4.6zM226.9 92.5h4.3v1.1h-4.3zM227 97.5h3.7v1.1h-3.7zM226.8 169.6h5v1.1h-5zM227 177.6h3.2v1.1h-3.2zM306.7 70.5h6.1v1.1h-6.1zM306.7 73.5h5.8v1.1h-5.8zM306.7 76.5h5.6v1.1h-5.6zM306.8 85.5h4.8v1.1h-4.8zM306.8 90.5h4.4v1.1h-4.4zM306.9 95.5h4v1.1h-4zM306.6 155h7.6v1.1h-7.6zM306.6 160h6.8v1.1h-6.8zM306.7 162h6.5v1.1h-6.5zM306.7 166h5.8v1.1h-5.8z"/>
<path fill="#cbdef1" d="M67.7 45.5h8.7v1.1h-8.7zM67.7 54.5h7.7v1.1h-7.7zM67.7 66.5h6.4v1.1h-6.4zM67.7 80.5h5v1.1h-5zM67.7 88.5h4.3v1.1h-4.3zM67.7 149.7h8.2v1.1h-8.2zM67.7 150.7h8v1.1h-8zM67.7 155.7h7.2v1.1h-7.2zM67.7 159.7h6.5v1.1h-6.5zM67.7 168.7h5.1v1.1h-5.1zM67.7 170.7h4.8v1.1h-4.8zM147.7 36.5h8v1.1h-8zM147.7 43.5h7.3v1.1h-7.3zM147.7 48.5h6.8v1.1h-6.8zM147.7 50.5h6.6v1.1h-6.6zM147.7 51.5h6.5v1.1h-6.5zM147.7 54.5h6.2v1.1h-6.2zM147.7 56.5h6v1.1h-6zM147.7 60.5h5.7v1.1h-5.7zM147.7 61.5h5.6v1.1h-5.6zM226.7 78.5h6.1v1.1h-6.1zM226.7 82.5h5.6v1.1h-5.6zM226.8 88.5h4.8v1.1h-4.8zM226.9 89.5h4.7v1.1h-4.7zM226.9 91.5h4.4v1.1h-4.4zM226.9 93.5h4.2v1.1h-4.2zM226.9 94.5h4v1.1h-4zM227 96.5h3.8v1.1h-3.8zM227 98.5h3.5v1.1h-3.5zM226.5 159.6h7.1v1.1h-7.1zM226.7 166.6h5.6v1.1h-5.6zM226.8 167.6h5.4v1.1h-5.4zM226.8 168.6h5.2v1.1h-5.2zM306.6 64.5h6.6v1.1h-6.6zM306.6 65.5h6.5v1.1h-6.5zM306.6 67.5h6.4v1.1h-6.4zM306.6 68.5h6.3v1.1h-6.3zM306.7 71.5h6v1.1h-6zM306.7 75.5h5.6v1.1h-5.6zM306.8 86.5h4.7v1.1h-4.7zM306.5 149h8.6v1.1h-8.6zM306.5 152h8.1v1.1h-8.1zM306.6 156h7.5v1.1h-7.5zM306.6 157h7.3v1.1h-7.3zM306.7 163h6.3v1.1h-6.3z"/>
<path fill="#c8ddf0" d="M67.7 42.5h9v1.1h-9zM67.7 50.5h8.1v1.1h-8.1zM67.7 55.5h7.6v1.1h-7.6zM67.7 59.5h7.1v1.1h-7.1zM67.7 65.5h6.5v1.1h-6.5zM67.7 148.7h8.4v1.1h-8.4zM67.7 153.7h7.5v1.1h-7.5zM67.7 154.7h7.3v1.1h-7.3zM147.7 37.5h7.9v1.1h-7.9zM147.7 40.5h7.6v1.1h-7.6zM147.7 46.5h7v1.1h-7zM147.7 52.5h6.4v1.1h-6.4zM147.7 53.5h6.3v1.1h-6.3zM147.7 139.8h8.2v1.1h-8.2zM147.7 144.8h7.4v1.1h-7.4zM147.7 148.8h6.8v1.1h-6.8zM226.5 70.5h7.1v1.1h-7.1zM226.6 73.5h6.7v1.1h-6.7zM226.7 80.5h5.8v1.1h-5.8zM226.8 84.5h5.3v1.1h-5.3zM226.6 161.6h6.7v1.1h-6.7zM226.7 164.6h6v1.1h-6zM226.8 170.6h4.7v1.1h-4.7zM226.9 172.6h4.3v1.1h-4.3zM226.9 173.6h4.1v1.1h-4.1zM306.7 72.5h5.9v1.1h-5.9zM306.7 77.5h5.5v1.1h-5.5zM306.5 148h8.8v1.1h-8.8zM306.6 158h7.2v1.1h-7.2z"/>
<path fill="#c6dbef" d="M67.7 35.5h9.8v1.1h-9.8zM67.7 43.5h8.9v1.1h-8.9zM67.7 44.5h8.8v1.1h-8.8zM67.7 46.5h8.6v1.1h-8.6zM67.7 47.5h8.4v1.1h-8.4zM67.7 56.5h7.5v1.1h-7.5zM67.7 58.5h7.2v1.1h-7.2zM67.7 68.5h6.2v1.1h-6.2zM147.7 34.5h8.2v1.1h-8.2zM147.7 35.5h8.1v1.1h-8.1zM147.7 38.5h7.8v1.1h-7.8zM147.7 39.5h7.7v1.1h-7.7zM147.7 44.5h7.2v1.1h-7.2zM147.7 45.5h7.1v1.1h-7.1zM147.7 49.5h6.7v1.1h-6.7zM147.7 137.8h8.6v1.1h-8.6zM147.7 140.8h8.1v1.1h-8.1zM147.7 143.8h7.6v1.1h-7.6zM147.7 147.8h6.9v1.1h-6.9zM147.7 150.8h6.5v1.1h-6.5zM147.7 151.8h6.3v1.1h-6.3zM226.5 69.5h7.2v1.1h-7.2zM226.7 77.5h6.2v1.1h-6.2zM226.7 79.5h6v1.1h-6zM226.7 81.5h5.7v1.1h-5.7zM227 95.5h3.9v1.1h-3.9zM226.5 158.6h7.3v1.1h-7.3zM226.6 160.6h6.9v1.1h-6.9zM226.6 162.6h6.5v1.1h-6.5zM306.4 42.5h8.7v1.1h-8.7zM306.5 48.5h8.2v1.1h-8.2zM306.5 50.5h8v1.1h-8zM306.5 54.5h7.6v1.1h-7.6zM306.5 55.5h7.5v1.1h-7.5zM306.5 57.5h7.3v1.1h-7.3zM306.6 58.5h7.2v1.1h-7.2zM306.6 62.5h6.8v1.1h-6.8zM306.7 78.5h5.4v1.1h-5.4zM306.5 150h8.5v1.1h-8.5zM306.5 153h8v1.1h-8z"/>
<path fill="#c2d9ee" d="M67.7 36.5h9.7v1.1h-9.7zM67.7 37.5h9.6v1.1h-9.6zM67.7 39.5h9.3v1.1h-9.3zM67.7 40.5h9.2v1.1h-9.2zM67.7 41.5h9.1v1.1h-9.1zM67.7 51.5h8v1.1h-8zM67.7 52.5h7.9v1.1h-7.9zM67.7 63.5h6.7v1.1h-6.7zM67.7 137.7h10.3v1.1h-10.3zM67.7 142.7h9.4v1.1h-9.4zM67.7 145.7h8.9v1.1h-8.9zM67.7 146.7h8.7v1.1h-8.7zM67.7 151.7h7.8v1.1h-7.8zM147.7 27.5h8.9v1.1h-8.9zM147.7 30.5h8.6v1.1h-8.6zM147.7 41.5h7.5v1.1h-7.5zM147.7 47.5h6.9v1.1h-6.9zM147.7 135.8h8.9v1.1h-8.9zM147.7 145.8h7.2v1.1h-7.2zM147.7 146.8h7.1v1.1h-7.1zM226.3 56.5h8.9v1.1h-8.9zM226.3 57.5h8.8v1.1h-8.8zM226.5 66.5h7.6v1.1h-7.6zM226.6 71.5h7v1.1h-7zM226.8 85.5h5.2v1.1h-5.2zM226.4 154.6h8.2v1.1h-8.2zM226.5 157.6h7.6v1.1h-7.6zM306.4 44.5h8.5v1.1h-8.5zM306.5 47.5h8.3v1.1h-8.3zM306.5 49.5h8.1v1.1h-8.1zM306.5 53.5h7.7v1.1h-7.7zM306.6 59.5h7.1v1.1h-7.1zM306.6 60.5h7v1.1h-7zM306.6 61.5h6.9v1.1h-6.9zM306.6 69.5h6.2v1.1h-6.2zM306.4 146h9.1v1.1h-9.1zM306.5 154h7.8v1.1h-7.8z"/>
<path fill="#bed8ec" d="M67.7 24.5h11.1v1.1h-11.1zM67.7 30.5h10.4v1.1h-10.4zM67.7 144.7h9.1v1.1h-9.1zM147.7 23.5h9.3v1.1h-9.3zM147.7 31.5h8.5v1.1h-8.5zM147.7 32.5h8.4v1.1h-8.4zM147.7 141.8h7.9v1.1h-7.9zM226.3 54.5h9.2v1.1h-9.2zM226.4 63.5h8v1.1h-8zM226.5 65.5h7.8v1.1h-7.8zM226.6 72.5h6.9v1.1h-6.9zM226.6 75.5h6.5v1.1h-6.5zM226.4 153.6h8.4v1.1h-8.4zM226.4 155.6h8v1.1h-8zM226.5 156.6h7.8v1.1h-7.8zM306.4 43.5h8.6v1.1h-8.6zM306.5 45.5h8.4v1.1h-8.4zM306.5 56.5h7.4v1.1h-7.4zM306.6 63.5h6.7v1.1h-6.7zM306.3 139h10.3v1.1h-10.3z"/>
<path fill="#bad6eb" d="M67.7 26.5h10.9v1.1h-10.9zM67.7 33.5h10v1.1h-10zM67.7 34.5h9.9v1.1h-9.9zM67.7 49.5h8.2v1.1h-8.2zM67.7 138.7h10.2v1.1h-10.2zM67.7 139.7h10v1.1h-10zM67.7 140.7h9.8v1.1h-9.8zM67.7 141.7h9.6v1.1h-9.6zM67.7 143.7h9.2v1.1h-9.2zM67.7 147.7h8.5v1.1h-8.5zM147.7 136.8h8.7v1.1h-8.7zM226.3 55.5h9v1.1h-9zM226.4 64.5h7.9v1.1h-7.9zM226.6 74.5h6.6v1.1h-6.6zM226.2 146.6h10v1.1h-10zM226.6 163.6h6.3v1.1h-6.3zM306.4 40.5h8.9v1.1h-8.9zM306.4 41.5h8.8v1.1h-8.8zM306.5 51.5h7.9v1.1h-7.9zM306.4 145h9.3v1.1h-9.3zM306.4 147h9v1.1h-9zM306.5 151h8.3v1.1h-8.3z"/>
<path fill="#b6d4e9" d="M67.7 27.5h10.7v1.1h-10.7zM67.7 28.5h10.6v1.1h-10.6zM67.7 32.5h10.2v1.1h-10.2zM67.7 38.5h9.5v1.1h-9.5zM67.7 135.7h10.7v1.1h-10.7zM147.7 17.5h10v1.1h-10zM147.7 19.5h9.8v1.1h-9.8zM147.7 20.5h9.6v1.1h-9.6zM147.7 24.5h9.2v1.1h-9.2zM147.7 28.5h8.8v1.1h-8.8zM147.7 29.5h8.7v1.1h-8.7zM147.7 33.5h8.3v1.1h-8.3zM147.7 138.8h8.4v1.1h-8.4zM226.2 49.5h9.8v1.1h-9.8zM226.2 52.5h9.4v1.1h-9.4zM226.4 60.5h8.4v1.1h-8.4zM226.4 61.5h8.3v1.1h-8.3zM226.4 62.5h8.1v1.1h-8.1zM226.5 67.5h7.5v1.1h-7.5zM226.5 68.5h7.4v1.1h-7.4zM226.1 145.6h10.2v1.1h-10.2zM226.2 147.6h9.7v1.1h-9.7zM226.3 149.6h9.3v1.1h-9.3zM226.3 152.6h8.6v1.1h-8.6zM306.3 30.5h9.9v1.1h-9.9zM306.4 38.5h9.1v1.1h-9.1zM306.4 39.5h9v1.1h-9zM306.5 46.5h8.3v1.1h-8.3zM306.5 52.5h7.8v1.1h-7.8zM306.3 140h10.1v1.1h-10.1z"/>
<path fill="#b2d2e8" d="M67.7 29.5h10.5v1.1h-10.5zM67.7 134.7h10.9v1.1h-10.9zM147.7 16.5h10.1v1.1h-10.1zM147.7 21.5h9.5v1.1h-9.5zM147.7 125.8h10.6v1.1h-10.6zM147.7 131.8h9.6v1.1h-9.6zM147.7 132.8h9.4v1.1h-9.4zM147.7 134.8h9.1v1.1h-9.1zM147.7 142.8h7.7v1.1h-7.7zM226.1 43.5h10.6v1.1h-10.6zM226.1 45.5h10.3v1.1h-10.3zM226.1 46.5h10.2v1.1h-10.2zM226.2 47.5h10.1v1.1h-10.1zM226.2 48.5h9.9v1.1h-9.9zM226.2 50.5h9.7v1.1h-9.7zM226.2 51.5h9.6v1.1h-9.6zM226.3 58.5h8.7v1.1h-8.7zM226.4 59.5h8.5v1.1h-8.5zM226 141.6h11v1.1h-11zM226.1 142.6h10.8v1.1h-10.8zM226.2 148.6h9.5v1.1h-9.5zM226.3 150.6h9.1v1.1h-9.1zM226.3 151.6h8.9v1.1h-8.9zM306.4 34.5h9.5v1.1h-9.5zM306.4 37.5h9.2v1.1h-9.2zM306.3 136h10.8v1.1h-10.8zM306.3 141h10v1.1h-10zM306.4 143h9.6v1.1h-9.6zM306.4 144h9.5v1.1h-9.5z"/>
<path fill="#aed1e7" d="M67.7 15.5h12.2v1.1h-12.2zM67.7 16.5h12.1v1.1h-12.1zM67.7 17.5h11.9v1.1h-11.9zM67.7 132.7h11.3v1.1h-11.3zM67.7 133.7h11.1v1.1h-11.1zM147.7 25.5h9.1v1.1h-9.1zM147.7 26.5h9v1.1h-9zM147.7 127.8h10.3v1.1h-10.3zM147.7 129.8h9.9v1.1h-9.9zM147.7 130.8h9.7v1.1h-9.7zM147.7 133.8h9.2v1.1h-9.2zM226.1 44.5h10.5v1.1h-10.5zM306.2 20.5h11v1.1h-11zM306.3 25.5h10.5v1.1h-10.5zM306.3 27.5h10.3v1.1h-10.3zM306.3 29.5h10v1.1h-10zM306.3 31.5h9.8v1.1h-9.8zM306.3 32.5h9.7v1.1h-9.7zM306.4 33.5h9.6v1.1h-9.6zM306.4 35.5h9.4v1.1h-9.4zM306.3 135h10.9v1.1h-10.9zM306.3 137h10.6v1.1h-10.6zM306.4 142h9.8v1.1h-9.8z"/>
<path fill="#aacfe5" d="M67.7 20.5h11.6v1.1h-11.6zM67.7 22.5h11.3v1.1h-11.3zM67.7 23.5h11.2v1.1h-11.2zM67.7 31.5h10.3v1.1h-10.3zM67.7 126.7h12.4v1.1h-12.4zM67.7 130.7h11.7v1.1h-11.7zM67.7 136.7h10.5v1.1h-10.5zM147.7 18.5h9.9v1.1h-9.9zM147.7 22.5h9.4v1.1h-9.4zM147.7 128.8h10.1v1.1h-10.1zM225.9 33.5h11.9v1.1h-11.9zM226 39.5h11.1v1.1h-11.1zM226.1 41.5h10.8v1.1h-10.8zM226.3 53.5h9.3v1.1h-9.3zM226 140.6h11.3v1.1h-11.3zM226.1 143.6h10.6v1.1h-10.6zM226.1 144.6h10.4v1.1h-10.4zM306.2 14.5h11.6v1.1h-11.6zM306.2 17.5h11.3v1.1h-11.3zM306.3 21.5h10.9v1.1h-10.9zM306.3 22.5h10.8v1.1h-10.8zM306.3 26.5h10.4v1.1h-10.4zM306.4 36.5h9.3v1.1h-9.3zM306.3 138h10.4v1.1h-10.4z"/>
<path fill="#a6cde4" d="M67.7 21.5h11.5v1.1h-11.5zM67.7 124.7h12.8v1.1h-12.8zM67.7 127.7h12.2v1.1h-12.2zM67.7 131.7h11.5v1.1h-11.5zM147.7 126.8h10.4v1.1h-10.4zM225.9 34.5h11.7v1.1h-11.7zM226 35.5h11.6v1.1h-11.6zM226 40.5h11v1.1h-11zM225.9 138.6h11.7v1.1h-11.7zM226 139.6h11.5v1.1h-11.5zM306.3 24.5h10.6v1.1h-10.6zM306.2 133h11.3v1.1h-11.3z"/>
<path fill="#a2cce2" d="M67.7 18.5h11.8v1.1h-11.8zM67.7 19.5h11.7v1.1h-11.7zM67.7 25.5h11v1.1h-11zM67.7 125.7h12.6v1.1h-12.6zM67.7 128.7h12v1.1h-12zM147.7 124.8h10.8v1.1h-10.8zM225.8 28.5h12.5v1.1h-12.5zM225.9 32.5h12v1.1h-12zM226 37.5h11.4v1.1h-11.4zM226 38.5h11.2v1.1h-11.2zM226.1 42.5h10.7v1.1h-10.7zM225.8 134.6h12.6v1.1h-12.6zM225.9 135.6h12.3v1.1h-12.3zM225.9 137.6h11.9v1.1h-11.9zM306.2 16.5h11.4v1.1h-11.4zM306.2 19.5h11.1v1.1h-11.1zM306.3 23.5h10.7v1.1h-10.7zM306.3 28.5h10.1v1.1h-10.1zM306.2 132h11.4v1.1h-11.4z"/>
<path fill="#9ecae1" d="M67.7 14.5h12.3v1.1h-12.3zM147.7 14.5h10.3v1.1h-10.3zM147.7 15.5h10.2v1.1h-10.2zM225.8 23.5h13.1v1.1h-13.1zM225.9 30.5h12.2v1.1h-12.2zM225.9 31.5h12.1v1.1h-12.1zM225.6 127.6h14.1v1.1h-14.1zM225.8 133.6h12.8v1.1h-12.8zM225.9 136.6h12.1v1.1h-12.1z"/>
<path fill="#99c7e0" d="M67.7 129.7h11.8v1.1h-11.8zM225.8 25.5h12.9v1.1h-12.9zM226 36.5h11.5v1.1h-11.5zM225.8 132.6h13v1.1h-13zM306.2 131h11.6v1.1h-11.6z"/>
<path fill="#94c4df" d="M225.7 21.5h13.4v1.1h-13.4zM225.8 24.5h13v1.1h-13zM225.9 29.5h12.4v1.1h-12.4zM306.2 15.5h11.5v1.1h-11.5z"/>
<path fill="#8fc2de" d="M225.7 22.5h13.3v1.1h-13.3zM225.8 26.5h12.8v1.1h-12.8zM225.8 27.5h12.6v1.1h-12.6zM225.6 126.6h14.3v1.1h-14.3zM225.7 129.6h13.6v1.1h-13.6zM225.7 130.6h13.4v1.1h-13.4zM225.7 131.6h13.2v1.1h-13.2zM306.2 18.5h11.2v1.1h-11.2zM306.2 134h11.1v1.1h-11.1z"/>
<path fill="#8abfdd" d="M225.6 15.5h14.2v1.1h-14.2zM225.7 17.5h13.9v1.1h-13.9zM225.7 20.5h13.5v1.1h-13.5zM225.7 128.6h13.9v1.1h-13.9z"/>
<path fill="#7fb9da" d="M225.6 14.5h14.3v1.1h-14.3zM225.6 16.5h14v1.1h-14zM225.7 19.5h13.7v1.1h-13.7z"/>
<path fill="#7ab6d9" d="M225.7 18.5h13.8v1.1h-13.8z"/>
<path fill="#e3eef9" d="M68.5 104.5h1.2v1.1h-1.2zM68.5 186.7h1.2v1.1h-1.2z"/>
<path fill="#dce9f6" d="M148.5 178.8h1.2v1.1h-1.2z"/>
<path fill="#d9e8f5" d="M68.2 124.5h1.6v0.3h-1.6zM68.2 193.7h1.6v1.1h-1.6zM148.5 88.5h1.2v1.1h-1.2zM148.2 107.5h1.6v1.1h-1.6zM148.2 122.5h1.6v1.1h-1.6zM148.5 171.8h1.2v1.1h-1.2zM148.5 176.8h1.2v1.1h-1.2zM148.2 194.8h1.6v1.1h-1.6zM307.8 110.5h1.2v1.1h-1.2zM307.8 184h1.2v1.1h-1.2z"/>
<path fill="#d7e6f5" d="M68.2 196.7h1.6v1.1h-1.6zM148.5 93.5h1.2v1.1h-1.2zM148.5 97.5h1.2v1.1h-1.2zM148.2 180.8h1.6v1.1h-1.6zM148.2 188.8h1.6v1.1h-1.6zM148.2 191.8h1.6v1.1h-1.6zM148.2 198.8h1.6v1.1h-1.6zM148.2 201.8h1.6v0.5h-1.6zM227.7 171.6h1.7v1.1h-1.7zM307.8 107.5h1.2v1.1h-1.2zM307.8 109.5h1.2v1.1h-1.2zM307.8 112.5h1.2v1.1h-1.2zM307.5 193h1.6v1.1h-1.6z"/>
<path fill="#d4e5f4" d="M68.5 98.5h1.2v1.1h-1.2zM68.5 106.5h1.2v1.1h-1.2zM68.2 108.5h1.6v1.1h-1.6zM68.2 122.5h1.6v1.1h-1.6zM68.5 181.7h1.2v1.1h-1.2zM68.2 198.7h1.6v1.1h-1.6zM68.2 199.7h1.6v1.1h-1.6zM148.5 91.5h1.2v1.1h-1.2zM148.5 102.5h1.2v1.1h-1.2zM148.2 104.5h1.6v1.1h-1.6zM148.2 124.5h1.6v0.4h-1.6zM148.5 166.8h1.3v1.1h-1.3zM148.5 174.8h1.2v1.1h-1.2zM148.5 177.8h1.2v1.1h-1.2zM148.2 183.8h1.6v1.1h-1.6zM148.2 193.8h1.6v1.1h-1.6zM227.9 178.6h1.2v1.1h-1.2zM307.7 104.5h1.2v1.1h-1.2zM307.7 180h1.2v1.1h-1.2zM307.7 181h1.2v1.1h-1.2z"/>
<path fill="#d2e3f3" d="M68.5 102.5h1.2v1.1h-1.2zM68.5 105.5h1.2v1.1h-1.2zM68.5 107.5h1.2v1.1h-1.2zM68.5 174.7h1.4v1.1h-1.4zM68.5 183.7h1.2v1.1h-1.2zM68.5 185.7h1.2v1.1h-1.2zM68.2 192.7h1.6v1.1h-1.6zM68.2 200.7h1.6v1.1h-1.6zM148.5 72.5h1.9v1.1h-1.9zM148.5 94.5h1.2v1.1h-1.2zM148.2 115.5h1.6v1.1h-1.6zM148.5 172.8h1.2v1.1h-1.2zM148.2 179.8h1.6v1.1h-1.6zM148.2 197.8h1.6v1.1h-1.6zM227.8 99.5h1.2v1.1h-1.2zM307.5 115.5h1.6v1.1h-1.6zM307.5 116.5h1.6v1.1h-1.6zM307.5 185h1.6v1.1h-1.6zM307.5 200h1.6v1.1h-1.6z"/>
<path fill="#d0e1f2" d="M68.5 93.5h1.2v1.1h-1.2zM68.5 100.5h1.2v1.1h-1.2zM68.5 178.7h1.2v1.1h-1.2zM68.5 182.7h1.2v1.1h-1.2zM68.5 184.7h1.2v1.1h-1.2zM68.2 188.7h1.6v1.1h-1.6zM68.2 189.7h1.6v1.1h-1.6zM68.2 191.7h1.6v1.1h-1.6zM148.5 80.5h1.3v1.1h-1.3zM148.5 98.5h1.2v1.1h-1.2zM148.5 101.5h1.2v1.1h-1.2zM148.2 117.5h1.6v1.1h-1.6zM148.2 121.5h1.6v1.1h-1.6zM148.5 175.8h1.2v1.1h-1.2zM148.2 182.8h1.6v1.1h-1.6zM227.9 103.5h1.2v1.1h-1.2zM227.6 120.5h1.6v1.1h-1.6zM227.8 175.6h1.2v1.1h-1.2zM227.6 188.6h1.6v1.1h-1.6zM307.8 111.5h1.2v1.1h-1.2zM307.5 117.5h1.6v1.1h-1.6zM307.8 182h1.2v1.1h-1.2zM307.5 187h1.6v1.1h-1.6zM307.5 197h1.6v1.1h-1.6zM307.5 202h1.6v0.3h-1.6z"/>
<path fill="#cde0f1" d="M68.5 97.5h1.2v1.1h-1.2zM68.2 119.5h1.6v1.1h-1.6zM68.5 176.7h1.2v1.1h-1.2zM68.2 201.7h1.6v0.6h-1.6zM148.5 71.5h1.9v1.1h-1.9zM148.5 75.5h1.6v1.1h-1.6zM148.5 86.5h1.2v1.1h-1.2zM148.5 89.5h1.2v1.1h-1.2zM148.5 90.5h1.2v1.1h-1.2zM148.2 105.5h1.6v1.1h-1.6zM148.2 109.5h1.6v1.1h-1.6zM148.2 114.5h1.6v1.1h-1.6zM148.5 167.8h1.2v1.1h-1.2zM148.5 170.8h1.2v1.1h-1.2zM148.2 181.8h1.6v1.1h-1.6zM148.2 187.8h1.6v1.1h-1.6zM148.2 189.8h1.6v1.1h-1.6zM227.9 102.5h1.2v1.1h-1.2zM227.6 106.5h1.6v1.1h-1.6zM227.6 126.5h1.6v0.2h-1.6zM227.6 194.6h1.6v1.1h-1.6zM227.6 197.6h1.6v1.1h-1.6zM227.6 200.6h1.6v1.1h-1.6zM307.8 113.5h1.2v1.1h-1.2zM307.5 120.5h1.6v1.1h-1.6zM307.5 122.5h1.6v1.1h-1.6zM307.5 127.5h1.6v1.1h-1.6zM307.7 178h1.2v1.1h-1.2zM307.5 192h1.6v1.1h-1.6zM307.5 194h1.6v1.1h-1.6zM307.5 196h1.6v1.1h-1.6z"/>
<path fill="#cbdef1" d="M68.5 85.5h1.7v1.1h-1.7zM68.5 103.5h1.2v1.1h-1.2zM68.2 111.5h1.6v1.1h-1.6zM68.2 113.5h1.6v1.1h-1.6zM68.2 120.5h1.6v1.1h-1.6zM68.2 121.5h1.6v1.1h-1.6zM68.2 123.5h1.6v1.1h-1.6zM68.2 187.7h1.6v1.1h-1.6zM68.2 195.7h1.6v1.1h-1.6zM148.5 82.5h1.2v1.1h-1.2zM148.5 87.5h1.2v1.1h-1.2zM148.5 95.5h1.2v1.1h-1.2zM148.2 103.5h1.6v1.1h-1.6zM148.2 106.5h1.6v1.1h-1.6zM148.5 165.8h1.5v1.1h-1.5zM148.5 173.8h1.2v1.1h-1.2zM227.8 100.5h1.2v1.1h-1.2zM227.6 108.5h1.6v1.1h-1.6zM227.8 176.6h1.2v1.1h-1.2zM227.6 185.6h1.6v1.1h-1.6zM227.6 196.6h1.6v1.1h-1.6zM307.5 82.5h2.2v1.1h-2.2zM307.7 102.5h1.2v1.1h-1.2zM307.8 108.5h1.2v1.1h-1.2zM307.5 119.5h1.6v1.1h-1.6zM307.5 128.5h1.6v1.1h-1.6zM307.5 167h2.9v1.1h-2.9zM307.6 169h2.5v1.1h-2.5zM307.6 170h2.4v1.1h-2.4z"/>
<path fill="#c8ddf0" d="M68.5 84.5h1.8v1.1h-1.8zM68.5 95.5h1.2v1.1h-1.2zM68.2 109.5h1.6v1.1h-1.6zM68.2 190.7h1.6v1.1h-1.6zM68.2 197.7h1.6v1.1h-1.6zM148.5 67.5h2.3v1.1h-2.3zM148.5 79.5h1.3v1.1h-1.3zM148.5 96.5h1.2v1.1h-1.2zM148.2 108.5h1.6v1.1h-1.6zM148.2 111.5h1.6v1.1h-1.6zM148.2 184.8h1.6v1.1h-1.6zM148.2 185.8h1.6v1.1h-1.6zM148.2 199.8h1.6v1.1h-1.6zM227.9 101.5h1.2v1.1h-1.2zM227.6 104.5h1.6v1.1h-1.6zM227.6 105.5h1.6v1.1h-1.6zM227.6 121.5h1.6v1.1h-1.6zM227.6 198.6h1.6v1.1h-1.6zM307.7 99.5h1.2v1.1h-1.2zM307.7 176h1.4v1.1h-1.4zM307.7 177h1.2v1.1h-1.2zM307.5 198h1.6v1.1h-1.6z"/>
<path fill="#c6dbef" d="M68.2 118.5h1.6v1.1h-1.6zM68.5 171.7h1.8v1.1h-1.8zM68.5 173.7h1.5v1.1h-1.5zM68.5 175.7h1.3v1.1h-1.3zM148.5 73.5h1.8v1.1h-1.8zM148.5 84.5h1.2v1.1h-1.2zM148.2 112.5h1.6v1.1h-1.6zM148.2 119.5h1.6v1.1h-1.6zM148.2 120.5h1.6v1.1h-1.6zM148.5 162.8h1.9v1.1h-1.9zM148.2 186.8h1.6v1.1h-1.6zM148.2 190.8h1.6v1.1h-1.6zM148.2 196.8h1.6v1.1h-1.6zM227.6 87.5h2.1v1.1h-2.1zM227.6 119.5h1.6v1.1h-1.6zM227.6 123.5h1.6v1.1h-1.6zM227.5 165.6h3v1.1h-3zM227.8 174.6h1.2v1.1h-1.2zM227.6 182.6h1.6v1.1h-1.6zM227.6 189.6h1.6v1.1h-1.6zM307.7 97.5h1.2v1.1h-1.2zM307.7 100.5h1.2v1.1h-1.2zM307.5 118.5h1.6v1.1h-1.6zM307.5 121.5h1.6v1.1h-1.6zM307.5 123.5h1.6v1.1h-1.6zM307.6 173h1.9v1.1h-1.9zM307.6 174h1.7v1.1h-1.7zM307.7 175h1.5v1.1h-1.5zM307.8 183h1.2v1.1h-1.2z"/>
<path fill="#c2d9ee" d="M68.5 75.5h2.7v1.1h-2.7zM68.5 92.5h1.2v1.1h-1.2zM68.5 99.5h1.2v1.1h-1.2zM68.2 110.5h1.6v1.1h-1.6zM68.2 112.5h1.6v1.1h-1.6zM68.2 115.5h1.6v1.1h-1.6zM68.5 180.7h1.2v1.1h-1.2zM148.5 74.5h1.7v1.1h-1.7zM148.5 76.5h1.6v1.1h-1.6zM148.5 83.5h1.2v1.1h-1.2zM148.5 100.5h1.2v1.1h-1.2zM148.2 116.5h1.6v1.1h-1.6zM148.2 118.5h1.6v1.1h-1.6zM148.5 169.8h1.2v1.1h-1.2zM148.2 200.8h1.6v1.1h-1.6zM227.6 110.5h1.6v1.1h-1.6zM227.6 181.6h1.6v1.1h-1.6zM227.6 183.6h1.6v1.1h-1.6zM227.6 186.6h1.6v1.1h-1.6zM227.6 192.6h1.6v1.1h-1.6zM227.6 193.6h1.6v1.1h-1.6zM307.6 92.5h1.4v1.1h-1.4zM307.7 96.5h1.2v1.1h-1.2zM307.7 101.5h1.2v1.1h-1.2zM307.5 114.5h1.6v1.1h-1.6zM307.5 129.5h1.6v1.1h-1.6zM307.6 168h2.7v1.1h-2.7zM307.7 179h1.2v1.1h-1.2zM307.5 190h1.6v1.1h-1.6zM307.5 195h1.6v1.1h-1.6zM307.5 199h1.6v1.1h-1.6z"/>
<path fill="#bed8ec" d="M68.5 89.5h1.4v1.1h-1.4zM68.5 94.5h1.2v1.1h-1.2zM68.2 114.5h1.6v1.1h-1.6zM68.2 116.5h1.6v1.1h-1.6zM68.2 194.7h1.6v1.1h-1.6zM148.5 62.5h2.7v1.1h-2.7zM148.5 81.5h1.2v1.1h-1.2zM148.5 159.8h2.3v1.1h-2.3zM148.5 160.8h2.2v1.1h-2.2zM148.2 192.8h1.6v1.1h-1.6zM148.2 195.8h1.6v1.1h-1.6zM227.6 109.5h1.6v1.1h-1.6zM227.6 113.5h1.6v1.1h-1.6zM227.6 118.5h1.6v1.1h-1.6zM227.6 169.6h2.2v1.1h-2.2zM227.8 177.6h1.2v1.1h-1.2zM227.6 195.6h1.6v1.1h-1.6zM307.6 88.5h1.7v1.1h-1.7zM307.6 91.5h1.5v1.1h-1.5zM307.7 105.5h1.2v1.1h-1.2zM307.5 126.5h1.6v1.1h-1.6zM307.5 164h3.4v1.1h-3.4zM307.5 186h1.6v1.1h-1.6zM307.5 201h1.6v1.1h-1.6z"/>
<path fill="#bad6eb" d="M68.5 101.5h1.2v1.1h-1.2zM68.5 160.7h3.5v1.1h-3.5zM68.5 177.7h1.2v1.1h-1.2zM68.5 179.7h1.2v1.1h-1.2zM148.5 66.5h2.4v1.1h-2.4zM148.5 85.5h1.2v1.1h-1.2zM148.5 99.5h1.2v1.1h-1.2zM148.2 110.5h1.6v1.1h-1.6zM148.2 113.5h1.6v1.1h-1.6zM148.2 123.5h1.6v1.1h-1.6zM227.6 83.5h2.7v1.1h-2.7zM227.7 91.5h1.6v1.1h-1.6zM227.7 92.5h1.5v1.1h-1.5zM227.8 97.5h1.2v1.1h-1.2zM227.6 116.5h1.6v1.1h-1.6zM227.6 125.5h1.6v1.1h-1.6zM227.6 167.6h2.6v1.1h-2.6zM307.6 83.5h2.2v1.1h-2.2zM307.6 94.5h1.3v1.1h-1.3zM307.7 103.5h1.2v1.1h-1.2zM307.4 161h3.9v1.1h-3.9zM307.6 171h2.2v1.1h-2.2zM307.6 172h2v1.1h-2zM307.5 189h1.6v1.1h-1.6zM307.5 191h1.6v1.1h-1.6z"/>
<path fill="#b6d4e9" d="M68.5 77.5h2.5v1.1h-2.5zM68.5 87.5h1.5v1.1h-1.5zM68.5 96.5h1.2v1.1h-1.2zM68.2 117.5h1.6v1.1h-1.6zM68.5 158.7h3.9v1.1h-3.9zM68.5 165.7h2.7v1.1h-2.7zM68.5 172.7h1.7v1.1h-1.7zM148.5 68.5h2.2v1.1h-2.2zM148.5 92.5h1.2v1.1h-1.2zM227.4 76.5h3.5v1.1h-3.5zM227.6 114.5h1.6v1.1h-1.6zM227.6 201.6h1.6v0.7h-1.6zM307.6 93.5h1.3v1.1h-1.3zM307.5 125.5h1.6v1.1h-1.6zM307.5 165h3.2v1.1h-3.2zM307.5 188h1.6v1.1h-1.6z"/>
<path fill="#b2d2e8" d="M68.5 81.5h2.1v1.1h-2.1zM68.5 82.5h2v1.1h-2zM68.5 83.5h1.9v1.1h-1.9zM68.5 90.5h1.3v1.1h-1.3zM68.5 157.7h4v1.1h-4zM68.5 163.7h3v1.1h-3zM68.5 169.7h2.1v1.1h-2.1zM148.5 64.5h2.5v1.1h-2.5zM148.5 69.5h2.1v1.1h-2.1zM148.5 78.5h1.4v1.1h-1.4zM148.5 163.8h1.7v1.1h-1.7zM148.5 164.8h1.6v1.1h-1.6zM227.5 82.5h2.8v1.1h-2.8zM227.7 90.5h1.8v1.1h-1.8zM227.6 107.5h1.6v1.1h-1.6zM227.6 111.5h1.6v1.1h-1.6zM227.6 115.5h1.6v1.1h-1.6zM307.5 74.5h2.9v1.1h-2.9zM307.5 81.5h2.3v1.1h-2.3zM307.6 84.5h2.1v1.1h-2.1zM307.6 87.5h1.8v1.1h-1.8zM307.6 89.5h1.7v1.1h-1.7zM307.7 98.5h1.2v1.1h-1.2zM307.7 106.5h1.2v1.1h-1.2zM307.5 162h3.7v1.1h-3.7z"/>
<path fill="#aed1e7" d="M68.5 78.5h2.4v1.1h-2.4zM68.5 86.5h1.6v1.1h-1.6zM68.5 91.5h1.2v1.1h-1.2zM68.5 161.7h3.4v1.1h-3.4zM68.5 162.7h3.2v1.1h-3.2zM68.5 166.7h2.6v1.1h-2.6zM148.5 58.5h3.1v1.1h-3.1zM148.5 153.8h3.2v1.1h-3.2zM148.5 154.8h3v1.1h-3zM148.5 168.8h1.2v1.1h-1.2zM227.6 86.5h2.3v1.1h-2.3zM227.6 88.5h2v1.1h-2zM227.7 94.5h1.2v1.1h-1.2zM227.8 98.5h1.2v1.1h-1.2zM227.5 166.6h2.8v1.1h-2.8zM227.6 168.6h2.4v1.1h-2.4zM227.6 170.6h1.9v1.1h-1.9zM227.7 172.6h1.5v1.1h-1.5zM227.6 190.6h1.6v1.1h-1.6zM227.6 191.6h1.6v1.1h-1.6zM227.6 199.6h1.6v1.1h-1.6zM307.4 66.5h3.7v1.1h-3.7zM307.5 80.5h2.4v1.1h-2.4zM307.6 90.5h1.6v1.1h-1.6zM307.5 124.5h1.6v1.1h-1.6z"/>
<path fill="#aacfe5" d="M68.5 72.5h3v1.1h-3zM68.5 164.7h2.9v1.1h-2.9zM148.5 149.8h3.8v1.1h-3.8zM148.5 152.8h3.3v1.1h-3.3zM148.5 158.8h2.4v1.1h-2.4zM148.5 161.8h2v1.1h-2zM227.7 89.5h1.9v1.1h-1.9zM227.7 93.5h1.4v1.1h-1.4zM227.6 112.5h1.6v1.1h-1.6zM227.6 117.5h1.6v1.1h-1.6zM227.3 159.6h4.3v1.1h-4.3zM227.4 161.6h3.9v1.1h-3.9zM227.7 173.6h1.3v1.1h-1.3zM227.6 180.6h1.6v1.1h-1.6zM227.6 184.6h1.6v1.1h-1.6zM307.5 73.5h3v1.1h-3zM307.5 76.5h2.8v1.1h-2.8zM307.5 79.5h2.5v1.1h-2.5zM307.6 86.5h1.9v1.1h-1.9zM307.4 155h4.8v1.1h-4.8zM307.4 159h4.2v1.1h-4.2z"/>
<path fill="#a6cde4" d="M68.5 60.5h4.2v1.1h-4.2zM68.5 76.5h2.6v1.1h-2.6zM68.5 79.5h2.3v1.1h-2.3zM68.5 152.7h4.9v1.1h-4.9zM148.5 63.5h2.6v1.1h-2.6zM148.5 65.5h2.4v1.1h-2.4zM148.5 156.8h2.7v1.1h-2.7zM148.5 157.8h2.6v1.1h-2.6zM227.4 73.5h3.9v1.1h-3.9zM227.5 78.5h3.3v1.1h-3.3zM227.5 80.5h3v1.1h-3zM227.6 84.5h2.5v1.1h-2.5zM227.8 95.5h1.2v1.1h-1.2zM227.8 96.5h1.2v1.1h-1.2zM227.6 122.5h1.6v1.1h-1.6zM227.3 158.6h4.5v1.1h-4.5zM227.5 164.6h3.2v1.1h-3.2zM227.6 179.6h1.6v1.1h-1.6zM227.6 187.6h1.6v1.1h-1.6zM307.4 67.5h3.6v1.1h-3.6zM307.5 70.5h3.3v1.1h-3.3zM307.6 85.5h2v1.1h-2zM307.7 95.5h1.2v1.1h-1.2zM307.5 130.5h1.6v0.6h-1.6zM307.5 163h3.5v1.1h-3.5z"/>
<path fill="#a2cce2" d="M68.5 61.5h4.1v1.1h-4.1zM68.5 67.5h3.5v1.1h-3.5zM68.5 70.5h3.2v1.1h-3.2zM68.5 71.5h3.1v1.1h-3.1zM68.5 168.7h2.3v1.1h-2.3zM68.5 170.7h2v1.1h-2zM148.5 70.5h2v1.1h-2zM227.6 124.5h1.6v1.1h-1.6zM227.2 154.6h5.4v1.1h-5.4zM227.4 160.6h4.1v1.1h-4.1zM227.4 162.6h3.7v1.1h-3.7zM307.4 157h4.5v1.1h-4.5zM307.4 160h4v1.1h-4zM307.5 166h3v1.1h-3z"/>
<path fill="#9ecae1" d="M68.5 62.5h4v1.1h-4zM68.5 73.5h2.9v1.1h-2.9zM68.5 155.7h4.4v1.1h-4.4zM68.5 156.7h4.2v1.1h-4.2zM68.5 167.7h2.4v1.1h-2.4zM148.5 77.5h1.5v1.1h-1.5zM227.3 70.5h4.3v1.1h-4.3zM227.5 77.5h3.4v1.1h-3.4zM227.5 79.5h3.2v1.1h-3.2zM227.5 81.5h2.9v1.1h-2.9zM307.4 65.5h3.7v1.1h-3.7zM307.4 68.5h3.5v1.1h-3.5zM307.3 149h5.8v1.1h-5.8z"/>
<path fill="#99c7e0" d="M68.5 48.5h5.5v1.1h-5.5zM68.5 54.5h4.9v1.1h-4.9zM68.5 64.5h3.8v1.1h-3.8zM68.5 69.5h3.3v1.1h-3.3zM68.5 74.5h2.8v1.1h-2.8zM68.5 88.5h1.5v1.1h-1.5zM68.5 159.7h3.7v1.1h-3.7zM148.5 42.5h4.6v1.1h-4.6zM148.5 48.5h4v1.1h-4zM148.5 55.5h3.3v1.1h-3.3zM148.5 56.5h3.2v1.1h-3.2zM148.5 57.5h3.1v1.1h-3.1zM148.5 59.5h3v1.1h-3zM148.5 143.8h4.8v1.1h-4.8zM148.5 151.8h3.5v1.1h-3.5zM148.5 155.8h2.9v1.1h-2.9zM227.6 85.5h2.4v1.1h-2.4zM227.3 157.6h4.8v1.1h-4.8zM307.4 64.5h3.8v1.1h-3.8zM307.5 71.5h3.2v1.1h-3.2zM307.5 75.5h2.8v1.1h-2.8zM307.5 77.5h2.7v1.1h-2.7zM307.3 148h6v1.1h-6zM307.3 152h5.3v1.1h-5.3zM307.3 153h5.2v1.1h-5.2z"/>
<path fill="#94c4df" d="M68.5 53.5h5v1.1h-5zM68.5 59.5h4.3v1.1h-4.3zM68.5 66.5h3.6v1.1h-3.6zM68.5 80.5h2.2v1.1h-2.2zM68.5 149.7h5.4v1.1h-5.4zM148.5 36.5h5.2v1.1h-5.2zM148.5 43.5h4.5v1.1h-4.5zM148.5 50.5h3.8v1.1h-3.8zM148.5 54.5h3.4v1.1h-3.4zM148.5 61.5h2.8v1.1h-2.8zM148.5 148.8h4v1.1h-4zM227.3 69.5h4.4v1.1h-4.4zM307.5 72.5h3.1v1.1h-3.1zM307.4 156h4.7v1.1h-4.7z"/>
<path fill="#8fc2de" d="M68.5 45.5h5.9v1.1h-5.9zM68.5 57.5h4.5v1.1h-4.5zM68.5 65.5h3.7v1.1h-3.7zM68.5 148.7h5.6v1.1h-5.6zM68.5 153.7h4.7v1.1h-4.7zM68.5 154.7h4.5v1.1h-4.5zM148.5 40.5h4.8v1.1h-4.8zM148.5 46.5h4.2v1.1h-4.2zM148.5 51.5h3.7v1.1h-3.7zM148.5 144.8h4.6v1.1h-4.6zM148.5 150.8h3.7v1.1h-3.7zM227.4 71.5h4.2v1.1h-4.2zM307.3 50.5h5.2v1.1h-5.2zM307.3 54.5h4.8v1.1h-4.8zM307.4 62.5h4v1.1h-4zM307.3 150h5.7v1.1h-5.7zM307.3 154h5v1.1h-5zM307.4 158h4.4v1.1h-4.4z"/>
<path fill="#8abfdd" d="M68.5 42.5h6.2v1.1h-6.2zM68.5 44.5h6v1.1h-6zM68.5 68.5h3.4v1.1h-3.4zM68.5 150.7h5.2v1.1h-5.2zM148.5 37.5h5.1v1.1h-5.1zM148.5 44.5h4.4v1.1h-4.4zM148.5 53.5h3.5v1.1h-3.5zM148.5 60.5h2.9v1.1h-2.9zM148.5 139.8h5.4v1.1h-5.4zM148.5 147.8h4.1v1.1h-4.1zM227.1 57.5h6v1.1h-6zM227.3 66.5h4.8v1.1h-4.8zM227.4 75.5h3.7v1.1h-3.7zM227.2 155.6h5.2v1.1h-5.2zM227.3 156.6h5v1.1h-5zM307.2 42.5h5.9v1.1h-5.9zM307.3 48.5h5.4v1.1h-5.4zM307.3 55.5h4.7v1.1h-4.7zM307.4 58.5h4.4v1.1h-4.4zM307.4 60.5h4.2v1.1h-4.2zM307.5 78.5h2.6v1.1h-2.6z"/>
<path fill="#84bcdc" d="M68.5 50.5h5.3v1.1h-5.3zM68.5 55.5h4.8v1.1h-4.8zM148.5 52.5h3.6v1.1h-3.6zM148.5 135.8h6.1v1.1h-6.1zM148.5 140.8h5.3v1.1h-5.3zM227.1 56.5h6.1v1.1h-6.1zM227.2 63.5h5.2v1.1h-5.2zM227.3 65.5h5v1.1h-5zM227 146.6h7.2v1.1h-7.2zM307.3 47.5h5.5v1.1h-5.5zM307.4 59.5h4.3v1.1h-4.3zM307.4 69.5h3.4v1.1h-3.4z"/>
<path fill="#7fb9da" d="M68.5 56.5h4.7v1.1h-4.7zM148.5 34.5h5.4v1.1h-5.4zM148.5 137.8h5.8v1.1h-5.8zM148.5 146.8h4.3v1.1h-4.3zM227.1 54.5h6.4v1.1h-6.4zM227.4 72.5h4.1v1.1h-4.1zM227.1 149.6h6.5v1.1h-6.5zM227.2 153.6h5.6v1.1h-5.6zM227.4 163.6h3.5v1.1h-3.5zM307.3 49.5h5.3v1.1h-5.3zM307.3 53.5h4.9v1.1h-4.9zM307.3 57.5h4.5v1.1h-4.5zM307.4 61.5h4.1v1.1h-4.1z"/>
<path fill="#7ab6d9" d="M68.5 43.5h6.1v1.1h-6.1zM68.5 47.5h5.6v1.1h-5.6zM68.5 58.5h4.4v1.1h-4.4zM68.5 63.5h3.9v1.1h-3.9zM148.5 35.5h5.3v1.1h-5.3zM148.5 47.5h4.1v1.1h-4.1zM227.2 64.5h5.1v1.1h-5.1zM226.9 142.6h8v1.1h-8zM227.1 152.6h5.8v1.1h-5.8zM307.2 44.5h5.7v1.1h-5.7zM307.4 63.5h3.9v1.1h-3.9zM307.2 146h6.3v1.1h-6.3z"/>
<path fill="#75b4d8" d="M68.5 37.5h6.8v1.1h-6.8zM68.5 40.5h6.4v1.1h-6.4zM68.5 46.5h5.8v1.1h-5.8zM68.5 51.5h5.2v1.1h-5.2zM68.5 137.7h7.5v1.1h-7.5zM68.5 142.7h6.6v1.1h-6.6zM68.5 145.7h6.1v1.1h-6.1zM68.5 146.7h5.9v1.1h-5.9zM148.5 27.5h6.1v1.1h-6.1zM148.5 38.5h5v1.1h-5zM148.5 39.5h4.9v1.1h-4.9zM148.5 49.5h3.9v1.1h-3.9zM148.5 145.8h4.4v1.1h-4.4zM227 47.5h7.3v1.1h-7.3zM227.1 55.5h6.2v1.1h-6.2zM227.3 67.5h4.7v1.1h-4.7zM227.3 68.5h4.6v1.1h-4.6zM227 148.6h6.7v1.1h-6.7zM307.3 56.5h4.6v1.1h-4.6zM307.2 145h6.5v1.1h-6.5z"/>
<path fill="#70b1d7" d="M68.5 35.5h7v1.1h-7zM68.5 36.5h6.9v1.1h-6.9zM68.5 52.5h5.1v1.1h-5.1zM68.5 144.7h6.3v1.1h-6.3zM148.5 32.5h5.6v1.1h-5.6zM148.5 41.5h4.7v1.1h-4.7zM148.5 45.5h4.3v1.1h-4.3zM226.9 46.5h7.4v1.1h-7.4zM227 48.5h7.1v1.1h-7.1zM227.1 58.5h5.9v1.1h-5.9zM227.2 60.5h5.6v1.1h-5.6zM227.2 61.5h5.5v1.1h-5.5zM227.2 62.5h5.3v1.1h-5.3zM227.4 74.5h3.8v1.1h-3.8zM226.8 141.6h8.2v1.1h-8.2zM227 147.6h6.9v1.1h-6.9zM227.1 151.6h6.1v1.1h-6.1zM307.2 40.5h6.1v1.1h-6.1zM307.2 43.5h5.8v1.1h-5.8zM307.3 45.5h5.6v1.1h-5.6zM307.3 51.5h5.1v1.1h-5.1zM307.1 139h7.5v1.1h-7.5z"/>
<path fill="#6baed6" d="M68.5 39.5h6.5v1.1h-6.5zM68.5 41.5h6.3v1.1h-6.3zM68.5 138.7h7.4v1.1h-7.4zM68.5 141.7h6.8v1.1h-6.8zM68.5 143.7h6.4v1.1h-6.4zM68.5 151.7h5v1.1h-5zM148.5 23.5h6.5v1.1h-6.5zM148.5 30.5h5.8v1.1h-5.8zM148.5 141.8h5.1v1.1h-5.1zM226.9 43.5h7.8v1.1h-7.8zM227 51.5h6.8v1.1h-6.8zM227.2 59.5h5.7v1.1h-5.7zM226.8 139.6h8.7v1.1h-8.7zM226.9 145.6h7.4v1.1h-7.4zM227.1 150.6h6.3v1.1h-6.3zM307.2 41.5h6v1.1h-6zM307.3 151h5.5v1.1h-5.5z"/>
<path fill="#67abd4" d="M68.5 24.5h8.3v1.1h-8.3zM68.5 30.5h7.6v1.1h-7.6zM68.5 147.7h5.7v1.1h-5.7zM148.5 31.5h5.7v1.1h-5.7zM226.9 45.5h7.5v1.1h-7.5zM227 49.5h7v1.1h-7zM227 50.5h6.9v1.1h-6.9zM227 52.5h6.6v1.1h-6.6zM307.2 37.5h6.4v1.1h-6.4zM307.2 38.5h6.3v1.1h-6.3zM307.1 140h7.3v1.1h-7.3zM307.2 147h6.2v1.1h-6.2z"/>
<path fill="#63a8d3" d="M68.5 34.5h7.1v1.1h-7.1zM68.5 49.5h5.4v1.1h-5.4zM148.5 20.5h6.8v1.1h-6.8zM148.5 125.8h7.8v1.1h-7.8zM148.5 138.8h5.6v1.1h-5.6zM226.9 44.5h7.7v1.1h-7.7zM226.9 143.6h7.8v1.1h-7.8zM307.2 34.5h6.7v1.1h-6.7zM307.3 46.5h5.5v1.1h-5.5z"/>
<path fill="#5fa6d1" d="M68.5 26.5h8.1v1.1h-8.1zM68.5 32.5h7.4v1.1h-7.4zM68.5 139.7h7.2v1.1h-7.2zM68.5 140.7h7v1.1h-7zM148.5 19.5h7v1.1h-7zM148.5 28.5h6v1.1h-6zM148.5 131.8h6.8v1.1h-6.8zM148.5 136.8h5.9v1.1h-5.9zM226.7 33.5h9.1v1.1h-9.1zM226.8 35.5h8.8v1.1h-8.8zM226.9 41.5h8v1.1h-8zM227.1 53.5h6.5v1.1h-6.5zM226.8 140.6h8.5v1.1h-8.5zM307.1 30.5h7.1v1.1h-7.1zM307.2 39.5h6.2v1.1h-6.2zM307.3 52.5h5v1.1h-5zM307.1 136h8v1.1h-8zM307.1 141h7.2v1.1h-7.2zM307.2 143h6.8v1.1h-6.8z"/>
<path fill="#5ba3d0" d="M68.5 27.5h7.9v1.1h-7.9zM68.5 28.5h7.8v1.1h-7.8zM148.5 17.5h7.2v1.1h-7.2zM148.5 33.5h5.5v1.1h-5.5zM148.5 129.8h7.1v1.1h-7.1zM226.9 144.6h7.6v1.1h-7.6zM307.1 135h8.1v1.1h-8.1zM307.1 137h7.8v1.1h-7.8zM307.2 144h6.7v1.1h-6.7z"/>
<path fill="#56a0ce" d="M68.5 33.5h7.2v1.1h-7.2zM68.5 134.7h8.1v1.1h-8.1zM68.5 135.7h7.9v1.1h-7.9zM148.5 16.5h7.3v1.1h-7.3zM148.5 24.5h6.4v1.1h-6.4zM148.5 29.5h5.9v1.1h-5.9zM148.5 127.8h7.5v1.1h-7.5zM148.5 132.8h6.6v1.1h-6.6zM148.5 133.8h6.4v1.1h-6.4zM148.5 134.8h6.3v1.1h-6.3zM226.6 28.5h9.7v1.1h-9.7zM226.8 39.5h8.3v1.1h-8.3zM226.4 127.6h11.3v1.1h-11.3zM226.7 137.6h9.1v1.1h-9.1zM226.7 138.6h8.9v1.1h-8.9zM307 14.5h8.8v1.1h-8.8zM307 17.5h8.5v1.1h-8.5zM307 20.5h8.2v1.1h-8.2zM307.1 25.5h7.7v1.1h-7.7zM307.1 27.5h7.5v1.1h-7.5zM307.2 35.5h6.6v1.1h-6.6zM307.2 142h7v1.1h-7z"/>
<path fill="#529dcc" d="M68.5 15.5h9.4v1.1h-9.4zM68.5 17.5h9.1v1.1h-9.1zM68.5 29.5h7.7v1.1h-7.7zM68.5 38.5h6.7v1.1h-6.7zM148.5 21.5h6.7v1.1h-6.7zM148.5 130.8h6.9v1.1h-6.9zM148.5 142.8h4.9v1.1h-4.9zM226.7 34.5h8.9v1.1h-8.9zM226.8 40.5h8.2v1.1h-8.2zM307.1 21.5h8.1v1.1h-8.1zM307.1 31.5h7v1.1h-7zM307.1 32.5h6.9v1.1h-6.9z"/>
<path fill="#4e9acb" d="M68.5 16.5h9.3v1.1h-9.3zM68.5 136.7h7.7v1.1h-7.7zM148.5 25.5h6.3v1.1h-6.3zM148.5 26.5h6.2v1.1h-6.2zM226.9 42.5h7.9v1.1h-7.9zM226.7 135.6h9.5v1.1h-9.5zM226.7 136.6h9.3v1.1h-9.3zM307.1 26.5h7.6v1.1h-7.6zM307.1 29.5h7.2v1.1h-7.2zM307.2 33.5h6.8v1.1h-6.8zM307.1 138h7.6v1.1h-7.6z"/>
<path fill="#4a98c9" d="M68.5 20.5h8.8v1.1h-8.8zM68.5 130.7h8.9v1.1h-8.9zM68.5 132.7h8.5v1.1h-8.5zM148.5 18.5h7.1v1.1h-7.1zM148.5 124.8h8v1.1h-8zM226.7 30.5h9.4v1.1h-9.4zM226.7 32.5h9.2v1.1h-9.2zM226.8 37.5h8.6v1.1h-8.6zM226.8 38.5h8.4v1.1h-8.4zM307.1 22.5h8v1.1h-8zM307.2 36.5h6.5v1.1h-6.5z"/>
<path fill="#4695c8" d="M68.5 124.7h10v1.1h-10zM68.5 125.7h9.8v1.1h-9.8zM68.5 133.7h8.3v1.1h-8.3zM148.5 22.5h6.6v1.1h-6.6zM148.5 126.8h7.6v1.1h-7.6zM226.6 23.5h10.3v1.1h-10.3zM226.7 31.5h9.3v1.1h-9.3zM226.6 134.6h9.8v1.1h-9.8zM307.1 24.5h7.8v1.1h-7.8zM307 132h8.6v1.1h-8.6zM307 133h8.5v1.1h-8.5z"/>
<path fill="#4292c6" d="M68.5 22.5h8.5v1.1h-8.5zM68.5 126.7h9.6v1.1h-9.6zM68.5 131.7h8.7v1.1h-8.7zM148.5 128.8h7.3v1.1h-7.3zM226.5 21.5h10.6v1.1h-10.6zM226.6 133.6h10v1.1h-10zM307 16.5h8.6v1.1h-8.6z"/>
<path fill="#3f8fc4" d="M68.5 23.5h8.4v1.1h-8.4zM68.5 31.5h7.5v1.1h-7.5zM68.5 127.7h9.4v1.1h-9.4zM226.6 25.5h10.1v1.1h-10.1zM226.8 36.5h8.7v1.1h-8.7zM226.6 132.6h10.2v1.1h-10.2zM307.1 28.5h7.3v1.1h-7.3z"/>
<path fill="#3b8bc3" d="M68.5 18.5h9v1.1h-9zM68.5 19.5h8.9v1.1h-8.9zM148.5 14.5h7.5v1.1h-7.5zM226.4 126.6h11.5v1.1h-11.5zM307 19.5h8.3v1.1h-8.3zM307.1 23.5h7.9v1.1h-7.9z"/>
<path fill="#3888c1" d="M68.5 128.7h9.2v1.1h-9.2zM148.5 15.5h7.4v1.1h-7.4zM226.4 15.5h11.4v1.1h-11.4zM226.7 29.5h9.6v1.1h-9.6zM226.5 129.6h10.8v1.1h-10.8zM307 15.5h8.7v1.1h-8.7z"/>
<path fill="#3585bf" d="M68.5 21.5h8.7v1.1h-8.7zM226.5 17.5h11.1v1.1h-11.1zM226.5 22.5h10.5v1.1h-10.5zM226.6 24.5h10.2v1.1h-10.2zM226.6 27.5h9.8v1.1h-9.8zM226.5 131.6h10.4v1.1h-10.4zM307 131h8.8v1.1h-8.8z"/>
<path fill="#3282be" d="M68.5 14.5h9.5v1.1h-9.5zM68.5 25.5h8.2v1.1h-8.2zM226.4 14.5h11.5v1.1h-11.5zM226.6 26.5h10v1.1h-10zM226.5 130.6h10.6v1.1h-10.6z"/>
<path fill="#2e7ebc" d="M68.5 129.7h9v1.1h-9z"/>
<path fill="#2b7bba" d="M226.5 128.6h11.1v1.1h-11.1z"/>
<path fill="#2878b8" d="M226.5 19.5h10.9v1.1h-10.9zM226.5 20.5h10.7v1.1h-10.7zM307 134h8.3v1.1h-8.3z"/>
<path fill="#2474b7" d="M307 18.5h8.4v1.1h-8.4z"/>
<path fill="#2171b5" d="M226.4 16.5h11.2v1.1h-11.2z"/>
<path fill="#1f6eb2" d="M226.5 18.5h11v1.1h-11z"/>
<path fill="#e0edf8" d="M68.5 104.5h1v1.1h-1zM68.5 186.7h1v1.1h-1z"/>
<path fill="#d9e8f5" d="M148.5 178.8h1v1.1h-1z"/>
<path fill="#d7e6f5" d="M307.8 184h1v1.1h-1z"/>
<path fill="#d4e5f4" d="M148.5 88.5h1v1.1h-1zM148.5 176.8h1v1.1h-1zM227.9 171.6h1.2v1.1h-1.2zM307.8 107.5h1v1.1h-1zM307.8 110.5h1v1.1h-1zM307.8 112.5h1v1.1h-1z"/>
<path fill="#d2e3f3" d="M148.5 93.5h1v1.1h-1zM148.5 171.8h1v1.1h-1zM227.9 178.6h1v1.1h-1zM307.8 109.5h1v1.1h-1z"/>
<path fill="#d0e1f2" d="M68.5 181.7h1v1.1h-1zM148.5 97.5h1v1.1h-1zM227.9 99.5h1v1.1h-1zM307.8 104.5h1v1.1h-1zM307.8 180h1v1.1h-1z"/>
<path fill="#cde0f1" d="M68.5 98.5h1v1.1h-1zM68.5 106.5h1v1.1h-1zM148.5 102.5h1v1.1h-1zM148.5 166.8h1v1.1h-1zM148.5 174.8h1v1.1h-1zM148.5 177.8h1v1.1h-1zM227.9 175.6h1v1.1h-1zM307.8 181h1v1.1h-1z"/>
<path fill="#cbdef1" d="M68.5 102.5h1v1.1h-1zM68.5 107.5h1v1.1h-1zM68.5 174.7h1v1.1h-1zM68.5 183.7h1v1.1h-1zM148.5 80.5h1v1.1h-1zM148.5 91.5h1v1.1h-1zM148.5 94.5h1v1.1h-1zM148.5 172.8h1v1.1h-1z"/>
<path fill="#c8ddf0" d="M68.5 105.5h1v1.1h-1zM68.5 182.7h1v1.1h-1zM68.5 184.7h1v1.1h-1zM68.5 185.7h1v1.1h-1zM148.5 72.5h1.3v1.1h-1.3zM148.5 98.5h1v1.1h-1zM148.5 175.8h1v1.1h-1zM227.9 102.5h1v1.1h-1zM227.9 103.5h1v1.1h-1zM307.8 111.5h1v1.1h-1zM307.8 182h1v1.1h-1z"/>
<path fill="#c6dbef" d="M68.5 93.5h1v1.1h-1zM68.5 100.5h1v1.1h-1zM68.5 176.7h1v1.1h-1zM68.5 178.7h1v1.1h-1zM148.5 101.5h1v1.1h-1zM307.8 178h1v1.1h-1z"/>
<path fill="#c2d9ee" d="M148.5 71.5h1.4v1.1h-1.4zM148.5 86.5h1v1.1h-1zM148.5 90.5h1v1.1h-1zM148.5 170.8h1v1.1h-1zM227.9 100.5h1v1.1h-1zM227.9 176.6h1v1.1h-1zM307.8 102.5h1v1.1h-1zM307.8 113.5h1v1.1h-1zM307.8 169h1.8v1.1h-1.8z"/>
<path fill="#bed8ec" d="M68.5 97.5h1v1.1h-1zM68.5 103.5h1v1.1h-1zM148.5 75.5h1.1v1.1h-1.1zM148.5 87.5h1v1.1h-1zM148.5 89.5h1v1.1h-1zM148.5 167.8h1v1.1h-1zM227.9 101.5h1v1.1h-1zM307.8 82.5h1.6v1.1h-1.6zM307.8 108.5h1v1.1h-1zM307.8 167h2v1.1h-2zM307.8 170h1.7v1.1h-1.7z"/>
<path fill="#bad6eb" d="M68.5 85.5h1.2v1.1h-1.2zM148.5 67.5h1.6v1.1h-1.6zM148.5 82.5h1v1.1h-1zM148.5 95.5h1v1.1h-1zM148.5 165.8h1v1.1h-1zM148.5 173.8h1v1.1h-1zM227.9 165.6h2.1v1.1h-2.1zM307.8 176h1v1.1h-1z"/>
<path fill="#b6d4e9" d="M148.5 79.5h1v1.1h-1zM148.5 96.5h1v1.1h-1zM227.9 87.5h1.5v1.1h-1.5zM227.9 174.6h1v1.1h-1zM307.8 99.5h1v1.1h-1zM307.8 100.5h1v1.1h-1zM307.8 173h1.3v1.1h-1.3zM307.8 177h1v1.1h-1zM307.8 183h1v1.1h-1z"/>
<path fill="#b2d2e8" d="M68.5 84.5h1.3v1.1h-1.3zM68.5 95.5h1v1.1h-1zM148.5 84.5h1v1.1h-1zM307.8 96.5h1v1.1h-1zM307.8 97.5h1v1.1h-1zM307.8 168h1.9v1.1h-1.9zM307.8 174h1.2v1.1h-1.2zM307.8 175h1.1v1.1h-1.1zM307.8 179h1v1.1h-1z"/>
<path fill="#aed1e7" d="M68.5 92.5h1v1.1h-1zM68.5 99.5h1v1.1h-1zM68.5 171.7h1.3v1.1h-1.3zM68.5 173.7h1.1v1.1h-1.1zM68.5 175.7h1v1.1h-1zM148.5 73.5h1.2v1.1h-1.2zM148.5 74.5h1.2v1.1h-1.2zM148.5 162.8h1.3v1.1h-1.3zM227.9 169.6h1.5v1.1h-1.5zM227.9 177.6h1v1.1h-1zM307.8 101.5h1v1.1h-1z"/>
<path fill="#aacfe5" d="M68.5 180.7h1v1.1h-1zM148.5 76.5h1.1v1.1h-1.1zM148.5 100.5h1v1.1h-1zM148.5 169.8h1v1.1h-1zM227.9 92.5h1v1.1h-1zM307.8 88.5h1.2v1.1h-1.2zM307.8 91.5h1v1.1h-1zM307.8 92.5h1v1.1h-1zM307.8 105.5h1v1.1h-1z"/>
<path fill="#a6cde4" d="M68.5 75.5h1.9v1.1h-1.9zM68.5 89.5h1v1.1h-1zM148.5 62.5h1.9v1.1h-1.9zM148.5 81.5h1v1.1h-1zM148.5 83.5h1v1.1h-1zM148.5 159.8h1.6v1.1h-1.6zM148.5 160.8h1.5v1.1h-1.5zM227.9 76.5h2.5v1.1h-2.5zM227.9 83.5h1.9v1.1h-1.9zM227.9 91.5h1.1v1.1h-1.1zM227.9 97.5h1v1.1h-1zM227.9 167.6h1.8v1.1h-1.8zM307.8 103.5h1v1.1h-1zM307.8 164h2.4v1.1h-2.4z"/>
<path fill="#a2cce2" d="M68.5 94.5h1v1.1h-1zM68.5 101.5h1v1.1h-1zM148.5 66.5h1.7v1.1h-1.7zM148.5 99.5h1v1.1h-1zM307.8 83.5h1.5v1.1h-1.5zM307.8 172h1.4v1.1h-1.4z"/>
<path fill="#9ecae1" d="M68.5 160.7h2.5v1.1h-2.5zM68.5 177.7h1v1.1h-1zM148.5 68.5h1.5v1.1h-1.5zM148.5 85.5h1v1.1h-1zM307.8 93.5h1v1.1h-1zM307.8 94.5h1v1.1h-1zM307.8 161h2.7v1.1h-2.7zM307.8 171h1.5v1.1h-1.5z"/>
<path fill="#99c7e0" d="M68.5 77.5h1.7v1.1h-1.7zM68.5 87.5h1.1v1.1h-1.1zM68.5 96.5h1v1.1h-1zM68.5 158.7h2.7v1.1h-2.7zM68.5 165.7h1.9v1.1h-1.9zM68.5 172.7h1.2v1.1h-1.2zM68.5 179.7h1v1.1h-1zM148.5 92.5h1v1.1h-1zM227.9 82.5h1.9v1.1h-1.9zM227.9 168.6h1.7v1.1h-1.7zM227.9 170.6h1.4v1.1h-1.4zM307.8 81.5h1.6v1.1h-1.6zM307.8 84.5h1.4v1.1h-1.4zM307.8 89.5h1.2v1.1h-1.2zM307.8 162h2.6v1.1h-2.6zM307.8 165h2.2v1.1h-2.2z"/>
<path fill="#94c4df" d="M68.5 81.5h1.5v1.1h-1.5zM68.5 82.5h1.4v1.1h-1.4zM68.5 157.7h2.8v1.1h-2.8zM68.5 163.7h2.1v1.1h-2.1zM148.5 64.5h1.8v1.1h-1.8zM148.5 78.5h1v1.1h-1zM148.5 163.8h1.2v1.1h-1.2zM227.9 88.5h1.4v1.1h-1.4zM227.9 90.5h1.2v1.1h-1.2zM227.9 94.5h1v1.1h-1zM227.9 166.6h2v1.1h-2zM227.9 172.6h1.1v1.1h-1.1zM307.8 74.5h2.1v1.1h-2.1zM307.8 80.5h1.7v1.1h-1.7zM307.8 98.5h1v1.1h-1zM307.8 106.5h1v1.1h-1z"/>
<path fill="#8fc2de" d="M68.5 83.5h1.3v1.1h-1.3zM68.5 161.7h2.4v1.1h-2.4zM68.5 169.7h1.5v1.1h-1.5zM148.5 69.5h1.5v1.1h-1.5zM148.5 164.8h1.1v1.1h-1.1zM227.9 86.5h1.6v1.1h-1.6zM227.9 98.5h1v1.1h-1zM307.8 66.5h2.6v1.1h-2.6zM307.8 87.5h1.3v1.1h-1.3zM307.8 90.5h1.1v1.1h-1.1z"/>
<path fill="#8abfdd" d="M68.5 78.5h1.7v1.1h-1.7zM68.5 90.5h1v1.1h-1zM68.5 91.5h1v1.1h-1zM68.5 162.7h2.2v1.1h-2.2zM68.5 166.7h1.8v1.1h-1.8zM148.5 58.5h2.1v1.1h-2.1zM148.5 149.8h2.7v1.1h-2.7zM148.5 153.8h2.2v1.1h-2.2zM148.5 168.8h1v1.1h-1zM227.9 73.5h2.8v1.1h-2.8zM227.9 84.5h1.8v1.1h-1.8zM227.9 89.5h1.3v1.1h-1.3zM227.9 93.5h1v1.1h-1zM227.9 159.6h3v1.1h-3zM227.9 161.6h2.7v1.1h-2.7zM227.9 173.6h1v1.1h-1zM307.8 76.5h1.9v1.1h-1.9z"/>
<path fill="#84bcdc" d="M68.5 72.5h2.1v1.1h-2.1zM68.5 86.5h1.1v1.1h-1.1zM148.5 152.8h2.3v1.1h-2.3zM148.5 154.8h2.1v1.1h-2.1zM148.5 158.8h1.7v1.1h-1.7zM148.5 161.8h1.4v1.1h-1.4zM227.9 80.5h2.1v1.1h-2.1zM227.9 95.5h1v1.1h-1zM227.9 96.5h1v1.1h-1zM227.9 154.6h3.8v1.1h-3.8zM227.9 158.6h3.2v1.1h-3.2zM227.9 162.6h2.6v1.1h-2.6zM227.9 164.6h2.3v1.1h-2.3zM307.8 73.5h2.1v1.1h-2.1zM307.8 86.5h1.3v1.1h-1.3zM307.8 155h3.4v1.1h-3.4zM307.8 159h2.9v1.1h-2.9zM307.8 163h2.5v1.1h-2.5z"/>
<path fill="#7fb9da" d="M68.5 164.7h2v1.1h-2zM148.5 65.5h1.7v1.1h-1.7zM148.5 157.8h1.8v1.1h-1.8zM227.9 78.5h2.3v1.1h-2.3zM227.9 160.6h2.9v1.1h-2.9zM307.8 67.5h2.5v1.1h-2.5zM307.8 79.5h1.7v1.1h-1.7zM307.8 85.5h1.4v1.1h-1.4zM307.8 95.5h1v1.1h-1z"/>
<path fill="#7ab6d9" d="M68.5 60.5h3v1.1h-3zM68.5 76.5h1.8v1.1h-1.8zM68.5 79.5h1.6v1.1h-1.6zM68.5 152.7h3.4v1.1h-3.4zM68.5 168.7h1.6v1.1h-1.6zM148.5 156.8h1.9v1.1h-1.9zM307.8 70.5h2.3v1.1h-2.3zM307.8 157h3.2v1.1h-3.2z"/>
<path fill="#75b4d8" d="M68.5 67.5h2.4v1.1h-2.4zM68.5 155.7h3v1.1h-3zM68.5 170.7h1.4v1.1h-1.4zM148.5 63.5h1.8v1.1h-1.8zM227.9 77.5h2.4v1.1h-2.4zM227.9 79.5h2.2v1.1h-2.2zM227.9 81.5h2v1.1h-2zM227.9 157.6h3.3v1.1h-3.3zM307.8 149h4.1v1.1h-4.1zM307.8 160h2.8v1.1h-2.8zM307.8 166h2.1v1.1h-2.1z"/>
<path fill="#70b1d7" d="M68.5 61.5h2.9v1.1h-2.9zM68.5 70.5h2.2v1.1h-2.2zM68.5 71.5h2.2v1.1h-2.2zM68.5 73.5h2v1.1h-2zM68.5 156.7h2.9v1.1h-2.9zM148.5 70.5h1.4v1.1h-1.4zM148.5 77.5h1v1.1h-1zM148.5 151.8h2.4v1.1h-2.4zM227.9 70.5h3v1.1h-3zM227.9 85.5h1.7v1.1h-1.7zM307.8 65.5h2.6v1.1h-2.6zM307.8 68.5h2.4v1.1h-2.4zM307.8 77.5h1.9v1.1h-1.9z"/>
<path fill="#6baed6" d="M68.5 88.5h1v1.1h-1zM68.5 167.7h1.7v1.1h-1.7zM148.5 143.8h3.3v1.1h-3.3zM307.8 71.5h2.2v1.1h-2.2zM307.8 148h4.2v1.1h-4.2zM307.8 152h3.7v1.1h-3.7zM307.8 153h3.6v1.1h-3.6z"/>
<path fill="#67abd4" d="M68.5 54.5h3.4v1.1h-3.4zM68.5 62.5h2.8v1.1h-2.8zM68.5 64.5h2.7v1.1h-2.7zM68.5 159.7h2.6v1.1h-2.6zM148.5 42.5h3.2v1.1h-3.2zM148.5 48.5h2.8v1.1h-2.8zM148.5 56.5h2.3v1.1h-2.3zM148.5 57.5h2.2v1.1h-2.2zM148.5 59.5h2.1v1.1h-2.1zM148.5 148.8h2.8v1.1h-2.8zM148.5 155.8h2v1.1h-2zM227.9 69.5h3.1v1.1h-3.1zM307.8 64.5h2.7v1.1h-2.7zM307.8 72.5h2.2v1.1h-2.2zM307.8 75.5h2v1.1h-2z"/>
<path fill="#63a8d3" d="M68.5 48.5h3.9v1.1h-3.9zM68.5 59.5h3v1.1h-3zM68.5 66.5h2.5v1.1h-2.5zM68.5 69.5h2.3v1.1h-2.3zM68.5 74.5h1.9v1.1h-1.9zM68.5 149.7h3.8v1.1h-3.8zM148.5 36.5h3.6v1.1h-3.6zM148.5 50.5h2.7v1.1h-2.7zM148.5 55.5h2.3v1.1h-2.3zM148.5 61.5h2v1.1h-2zM227.9 71.5h2.9v1.1h-2.9zM227.9 155.6h3.6v1.1h-3.6zM307.8 154h3.5v1.1h-3.5zM307.8 156h3.3v1.1h-3.3z"/>
<path fill="#5fa6d1" d="M68.5 53.5h3.5v1.1h-3.5zM68.5 80.5h1.5v1.1h-1.5zM68.5 148.7h3.9v1.1h-3.9zM68.5 153.7h3.3v1.1h-3.3zM68.5 154.7h3.2v1.1h-3.2zM148.5 40.5h3.3v1.1h-3.3zM148.5 43.5h3.1v1.1h-3.1zM148.5 54.5h2.4v1.1h-2.4zM148.5 150.8h2.6v1.1h-2.6zM227.9 57.5h4.2v1.1h-4.2zM227.9 75.5h2.6v1.1h-2.6zM227.9 156.6h3.5v1.1h-3.5zM307.8 50.5h3.6v1.1h-3.6zM307.8 62.5h2.8v1.1h-2.8zM307.8 150h4v1.1h-4z"/>
<path fill="#5ba3d0" d="M68.5 42.5h4.3v1.1h-4.3zM68.5 44.5h4.2v1.1h-4.2zM68.5 45.5h4.1v1.1h-4.1zM68.5 57.5h3.2v1.1h-3.2zM68.5 65.5h2.6v1.1h-2.6zM68.5 68.5h2.4v1.1h-2.4zM148.5 37.5h3.5v1.1h-3.5zM148.5 46.5h2.9v1.1h-2.9zM148.5 144.8h3.2v1.1h-3.2zM227.9 66.5h3.4v1.1h-3.4zM307.8 54.5h3.3v1.1h-3.3zM307.8 55.5h3.3v1.1h-3.3zM307.8 60.5h2.9v1.1h-2.9zM307.8 158h3v1.1h-3z"/>
<path fill="#56a0ce" d="M148.5 44.5h3.1v1.1h-3.1zM148.5 51.5h2.6v1.1h-2.6zM148.5 60.5h2v1.1h-2zM148.5 139.8h3.8v1.1h-3.8zM148.5 147.8h2.9v1.1h-2.9zM227.9 63.5h3.7v1.1h-3.7zM227.9 65.5h3.5v1.1h-3.5zM227.9 146.6h5v1.1h-5zM227.9 149.6h4.6v1.1h-4.6zM307.8 42.5h4.2v1.1h-4.2zM307.8 48.5h3.7v1.1h-3.7zM307.8 58.5h3.1v1.1h-3.1zM307.8 78.5h1.8v1.1h-1.8z"/>
<path fill="#529dcc" d="M68.5 150.7h3.6v1.1h-3.6zM148.5 53.5h2.5v1.1h-2.5zM148.5 135.8h4.3v1.1h-4.3zM148.5 140.8h3.7v1.1h-3.7zM227.9 56.5h4.3v1.1h-4.3zM227.9 72.5h2.8v1.1h-2.8zM227.9 142.6h5.6v1.1h-5.6zM227.9 153.6h3.9v1.1h-3.9zM227.9 163.6h2.4v1.1h-2.4zM307.8 47.5h3.8v1.1h-3.8zM307.8 59.5h3v1.1h-3zM307.8 69.5h2.4v1.1h-2.4z"/>
<path fill="#4e9acb" d="M68.5 50.5h3.7v1.1h-3.7zM68.5 55.5h3.3v1.1h-3.3zM148.5 52.5h2.5v1.1h-2.5zM227.9 47.5h5.1v1.1h-5.1zM227.9 54.5h4.5v1.1h-4.5zM227.9 64.5h3.6v1.1h-3.6zM227.9 152.6h4.1v1.1h-4.1zM307.8 49.5h3.7v1.1h-3.7zM307.8 53.5h3.4v1.1h-3.4zM307.8 57.5h3.1v1.1h-3.1zM307.8 61.5h2.9v1.1h-2.9z"/>
<path fill="#4a98c9" d="M68.5 56.5h3.3v1.1h-3.3zM148.5 34.5h3.8v1.1h-3.8zM148.5 137.8h4v1.1h-4zM148.5 146.8h3v1.1h-3zM227.9 55.5h4.4v1.1h-4.4zM227.9 68.5h3.2v1.1h-3.2zM227.9 141.6h5.8v1.1h-5.8zM227.9 148.6h4.7v1.1h-4.7zM307.8 44.5h4v1.1h-4zM307.8 146h4.4v1.1h-4.4z"/>
<path fill="#4695c8" d="M68.5 63.5h2.7v1.1h-2.7zM148.5 47.5h2.9v1.1h-2.9zM227.9 61.5h3.8v1.1h-3.8zM227.9 67.5h3.3v1.1h-3.3zM307.8 56.5h3.2v1.1h-3.2zM307.8 63.5h2.8v1.1h-2.8zM307.8 145h4.5v1.1h-4.5z"/>
<path fill="#4292c6" d="M68.5 43.5h4.3v1.1h-4.3zM68.5 47.5h3.9v1.1h-3.9zM68.5 58.5h3.1v1.1h-3.1zM68.5 137.7h5.3v1.1h-5.3zM148.5 35.5h3.7v1.1h-3.7zM148.5 145.8h3.1v1.1h-3.1zM227.9 46.5h5.2v1.1h-5.2zM227.9 48.5h5v1.1h-5zM227.9 58.5h4.1v1.1h-4.1zM227.9 74.5h2.7v1.1h-2.7zM227.9 139.6h6.1v1.1h-6.1zM227.9 147.6h4.9v1.1h-4.9zM227.9 151.6h4.2v1.1h-4.2z"/>
<path fill="#3f8fc4" d="M68.5 37.5h4.7v1.1h-4.7zM68.5 40.5h4.5v1.1h-4.5zM68.5 46.5h4v1.1h-4zM68.5 51.5h3.6v1.1h-3.6zM68.5 144.7h4.4v1.1h-4.4zM68.5 145.7h4.3v1.1h-4.3zM68.5 146.7h4.1v1.1h-4.1zM148.5 27.5h4.3v1.1h-4.3zM148.5 39.5h3.4v1.1h-3.4zM148.5 49.5h2.7v1.1h-2.7zM227.9 43.5h5.4v1.1h-5.4zM227.9 60.5h3.9v1.1h-3.9zM227.9 62.5h3.7v1.1h-3.7zM227.9 150.6h4.4v1.1h-4.4zM307.8 43.5h4.1v1.1h-4.1zM307.8 51.5h3.5v1.1h-3.5z"/>
<path fill="#3b8bc3" d="M68.5 36.5h4.8v1.1h-4.8zM68.5 52.5h3.6v1.1h-3.6zM68.5 142.7h4.6v1.1h-4.6zM148.5 32.5h3.9v1.1h-3.9zM148.5 38.5h3.5v1.1h-3.5zM148.5 141.8h3.6v1.1h-3.6zM227.9 45.5h5.3v1.1h-5.3zM227.9 51.5h4.7v1.1h-4.7zM227.9 59.5h4v1.1h-4zM227.9 145.6h5.2v1.1h-5.2zM307.8 40.5h4.3v1.1h-4.3zM307.8 45.5h4v1.1h-4zM307.8 139h5.2v1.1h-5.2z"/>
<path fill="#3888c1" d="M68.5 35.5h4.9v1.1h-4.9zM68.5 138.7h5.1v1.1h-5.1zM68.5 143.7h4.5v1.1h-4.5zM148.5 23.5h4.6v1.1h-4.6zM148.5 41.5h3.3v1.1h-3.3zM148.5 45.5h3v1.1h-3zM227.9 35.5h6.2v1.1h-6.2zM227.9 49.5h4.9v1.1h-4.9zM227.9 50.5h4.8v1.1h-4.8zM227.9 52.5h4.6v1.1h-4.6zM227.9 143.6h5.5v1.1h-5.5zM307.8 151h3.9v1.1h-3.9z"/>
<path fill="#3585bf" d="M68.5 30.5h5.3v1.1h-5.3zM68.5 141.7h4.8v1.1h-4.8zM68.5 147.7h4v1.1h-4zM68.5 151.7h3.5v1.1h-3.5zM148.5 30.5h4v1.1h-4zM307.8 37.5h4.5v1.1h-4.5zM307.8 38.5h4.4v1.1h-4.4zM307.8 41.5h4.2v1.1h-4.2zM307.8 140h5.1v1.1h-5.1zM307.8 147h4.3v1.1h-4.3z"/>
<path fill="#3282be" d="M68.5 24.5h5.8v1.1h-5.8zM68.5 39.5h4.6v1.1h-4.6zM68.5 41.5h4.4v1.1h-4.4zM148.5 20.5h4.8v1.1h-4.8zM148.5 125.8h5.5v1.1h-5.5zM227.9 33.5h6.3v1.1h-6.3zM227.9 41.5h5.6v1.1h-5.6zM227.9 44.5h5.4v1.1h-5.4zM227.9 140.6h5.9v1.1h-5.9zM307.8 46.5h3.9v1.1h-3.9z"/>
<path fill="#2e7ebc" d="M148.5 31.5h4v1.1h-4zM148.5 138.8h3.9v1.1h-3.9zM227.9 53.5h4.5v1.1h-4.5zM307.8 30.5h5v1.1h-5zM307.8 34.5h4.7v1.1h-4.7z"/>
<path fill="#2b7bba" d="M68.5 32.5h5.1v1.1h-5.1zM68.5 34.5h5v1.1h-5zM68.5 49.5h3.8v1.1h-3.8zM148.5 19.5h4.9v1.1h-4.9zM148.5 131.8h4.7v1.1h-4.7zM148.5 136.8h4.1v1.1h-4.1zM227.9 28.5h6.8v1.1h-6.8zM227.9 127.6h7.9v1.1h-7.9zM227.9 137.6h6.4v1.1h-6.4zM227.9 144.6h5.3v1.1h-5.3zM307.8 39.5h4.4v1.1h-4.4zM307.8 52.5h3.5v1.1h-3.5zM307.8 136h5.6v1.1h-5.6zM307.8 141h5v1.1h-5zM307.8 143h4.8v1.1h-4.8z"/>
<path fill="#2878b8" d="M68.5 139.7h5v1.1h-5zM68.5 140.7h4.9v1.1h-4.9zM148.5 17.5h5v1.1h-5zM148.5 28.5h4.2v1.1h-4.2zM148.5 129.8h5v1.1h-5zM227.9 39.5h5.8v1.1h-5.8zM227.9 138.6h6.2v1.1h-6.2zM307.8 14.5h6.2v1.1h-6.2zM307.8 17.5h5.9v1.1h-5.9zM307.8 135h5.7v1.1h-5.7zM307.8 137h5.5v1.1h-5.5zM307.8 144h4.7v1.1h-4.7z"/>
<path fill="#2474b7" d="M68.5 26.5h5.6v1.1h-5.6zM68.5 27.5h5.6v1.1h-5.6zM68.5 28.5h5.5v1.1h-5.5zM148.5 33.5h3.8v1.1h-3.8zM148.5 132.8h4.6v1.1h-4.6zM148.5 134.8h4.4v1.1h-4.4zM227.9 135.6h6.7v1.1h-6.7zM307.8 20.5h5.7v1.1h-5.7zM307.8 27.5h5.2v1.1h-5.2z"/>
<path fill="#2171b5" d="M68.5 135.7h5.5v1.1h-5.5zM148.5 16.5h5.1v1.1h-5.1zM148.5 24.5h4.5v1.1h-4.5zM148.5 127.8h5.2v1.1h-5.2zM148.5 130.8h4.9v1.1h-4.9zM148.5 133.8h4.5v1.1h-4.5zM227.9 34.5h6.3v1.1h-6.3zM227.9 40.5h5.7v1.1h-5.7zM227.9 136.6h6.5v1.1h-6.5zM307.8 25.5h5.4v1.1h-5.4zM307.8 35.5h4.6v1.1h-4.6zM307.8 142h4.9v1.1h-4.9z"/>
<path fill="#1f6eb2" d="M68.5 15.5h6.6v1.1h-6.6zM68.5 29.5h5.4v1.1h-5.4zM68.5 33.5h5.1v1.1h-5.1zM68.5 134.7h5.7v1.1h-5.7zM148.5 29.5h4.1v1.1h-4.1zM148.5 142.8h3.4v1.1h-3.4zM227.9 42.5h5.5v1.1h-5.5zM307.8 21.5h5.6v1.1h-5.6zM307.8 31.5h4.9v1.1h-4.9zM307.8 32.5h4.9v1.1h-4.9z"/>
<path fill="#1c6bb0" d="M68.5 17.5h6.4v1.1h-6.4zM68.5 38.5h4.7v1.1h-4.7zM148.5 21.5h4.7v1.1h-4.7zM148.5 26.5h4.3v1.1h-4.3zM227.9 30.5h6.6v1.1h-6.6zM227.9 32.5h6.4v1.1h-6.4zM227.9 37.5h6v1.1h-6zM227.9 38.5h5.9v1.1h-5.9zM307.8 26.5h5.3v1.1h-5.3zM307.8 138h5.4v1.1h-5.4z"/>
<path fill="#1a67ae" d="M68.5 16.5h6.5v1.1h-6.5zM68.5 136.7h5.4v1.1h-5.4zM148.5 18.5h4.9v1.1h-4.9zM148.5 25.5h4.4v1.1h-4.4zM148.5 124.8h5.6v1.1h-5.6zM227.9 23.5h7.2v1.1h-7.2zM227.9 31.5h6.5v1.1h-6.5zM307.8 29.5h5.1v1.1h-5.1zM307.8 33.5h4.8v1.1h-4.8zM307.8 36.5h4.6v1.1h-4.6zM307.8 132h6v1.1h-6z"/>
<path fill="#1764ab" d="M68.5 20.5h6.1v1.1h-6.1zM68.5 125.7h6.9v1.1h-6.9zM68.5 130.7h6.2v1.1h-6.2zM148.5 126.8h5.4v1.1h-5.4zM227.9 21.5h7.4v1.1h-7.4zM227.9 134.6h6.8v1.1h-6.8zM307.8 22.5h5.6v1.1h-5.6zM307.8 133h5.9v1.1h-5.9z"/>
<path fill="#1461a8" d="M68.5 132.7h5.9v1.1h-5.9zM227.9 133.6h7v1.1h-7zM307.8 24.5h5.4v1.1h-5.4z"/>
<path fill="#125ea6" d="M68.5 124.7h7v1.1h-7zM68.5 131.7h6.1v1.1h-6.1zM68.5 133.7h5.8v1.1h-5.8zM148.5 22.5h4.6v1.1h-4.6zM227.9 25.5h7.1v1.1h-7.1zM227.9 36.5h6.1v1.1h-6.1zM227.9 126.6h8v1.1h-8zM227.9 132.6h7.1v1.1h-7.1zM307.8 16.5h6v1.1h-6z"/>
<path fill="#0f5ba4" d="M68.5 22.5h6v1.1h-6zM68.5 126.7h6.7v1.1h-6.7zM148.5 128.8h5.1v1.1h-5.1z"/>
<path fill="#0d57a1" d="M68.5 23.5h5.9v1.1h-5.9zM68.5 31.5h5.2v1.1h-5.2zM68.5 127.7h6.6v1.1h-6.6zM227.9 15.5h8v1.1h-8zM307.8 28.5h5.1v1.1h-5.1z"/>
<path fill="#0a549e" d="M68.5 18.5h6.3v1.1h-6.3zM68.5 19.5h6.2v1.1h-6.2zM148.5 14.5h5.2v1.1h-5.2zM227.9 27.5h6.9v1.1h-6.9zM227.9 129.6h7.6v1.1h-7.6zM307.8 15.5h6.1v1.1h-6.1zM307.8 19.5h5.8v1.1h-5.8zM307.8 23.5h5.5v1.1h-5.5z"/>
<path fill="#08519c" d="M148.5 15.5h5.2v1.1h-5.2zM227.9 14.5h8v1.1h-8zM227.9 17.5h7.8v1.1h-7.8zM227.9 24.5h7.2v1.1h-7.2zM227.9 29.5h6.7v1.1h-6.7zM227.9 131.6h7.3v1.1h-7.3z"/>
<path fill="#084e97" d="M68.5 128.7h6.5v1.1h-6.5zM227.9 22.5h7.3v1.1h-7.3z"/>
<path fill="#084a92" d="M227.9 26.5h7v1.1h-7zM227.9 130.6h7.4v1.1h-7.4zM307.8 131h6.2v1.1h-6.2z"/>
<path fill="#08478d" d="M68.5 14.5h6.6v1.1h-6.6zM68.5 21.5h6.1v1.1h-6.1z"/>
<path fill="#084488" d="M227.9 19.5h7.6v1.1h-7.6z"/>
<path fill="#084084" d="M68.5 25.5h5.7v1.1h-5.7zM227.9 20.5h7.5v1.1h-7.5zM227.9 128.6h7.7v1.1h-7.7z"/>
<path fill="#083d7f" d="M68.5 129.7h6.3v1.1h-6.3zM307.8 134h5.8v1.1h-5.8z"/>
<path fill="#083775" d="M227.9 16.5h7.9v1.1h-7.9zM307.8 18.5h5.9v1.1h-5.9z"/>
<path fill="#083370" d="M227.9 18.5h7.7v1.1h-7.7z"/>
</g>
<rect x="34.2" y="14.5" width="62.7" height="187.7" fill="none" stroke="#000" stroke-width="1.2"/>
<line x1="34.2" y1="124.7" x2="96.9" y2="124.7" stroke="#000" stroke-width="2.2"/>
<line x1="68.5" y1="202.2" x2="68.5" y2="203.7" stroke="#000" stroke-width="0.8"/>
<rect x="114.2" y="14.5" width="62.3" height="187.7" fill="none" stroke="#000" stroke-width="1.2"/>
<line x1="114.2" y1="124.8" x2="176.5" y2="124.8" stroke="#000" stroke-width="2.2"/>
<line x1="148.5" y1="202.2" x2="148.5" y2="203.7" stroke="#000" stroke-width="0.8"/>
<rect x="193.6" y="14.5" width="61.9" height="187.7" fill="none" stroke="#000" stroke-width="1.2"/>
<line x1="193.6" y1="126.6" x2="255.5" y2="126.6" stroke="#000" stroke-width="2.2"/>
<line x1="227.9" y1="202.2" x2="227.9" y2="203.7" stroke="#000" stroke-width="0.8"/>
<rect x="273.5" y="14.5" width="61.8" height="187.7" fill="none" stroke="#000" stroke-width="1.2"/>
<line x1="273.5" y1="131" x2="335.3" y2="131" stroke="#000" stroke-width="2.2"/>
<line x1="307.8" y1="202.2" x2="307.8" y2="203.7" stroke="#000" stroke-width="0.8"/>
<text transform="translate(21.3,72.3) rotate(-90)" text-anchor="middle">Annotated TSSs</text>
<text transform="translate(29.9,72.3) rotate(-90)" text-anchor="middle">n = 11,236</text>
<text transform="translate(21.3,166.4) rotate(-90)" text-anchor="middle">Classical TSSs</text>
<text transform="translate(29.9,167) rotate(-90)" text-anchor="middle">n = 7,358</text>
<text transform="translate(110.8,72.5) rotate(-90)" text-anchor="middle">n = 14,072</text>
<text transform="translate(110.8,166.4) rotate(-90)" text-anchor="middle">n = 9,318</text>
<text transform="translate(190.4,72.5) rotate(-90)" text-anchor="middle">n = 15,470</text>
<text transform="translate(190.4,166.4) rotate(-90)" text-anchor="middle">n = 9,972</text>
<text transform="translate(269.4,72.5) rotate(-90)" text-anchor="middle">n = 11,142</text>
<text transform="translate(269.4,166.4) rotate(-90)" text-anchor="middle">n = 6,465</text>
<text x="40.9" y="212.6" text-anchor="middle">-3.0</text>
<text x="69.2" y="212.6" text-anchor="middle">TSS</text>
<text x="92.8" y="212.6" text-anchor="middle">3.0</text>
<text x="66.2" y="221" text-anchor="middle">gene distance (kb)</text>
<text x="121.7" y="212.6" text-anchor="middle">-3.0</text>
<text x="150" y="212.6" text-anchor="middle">TSS</text>
<text x="172.8" y="212.6" text-anchor="middle">3.0</text>
<text x="146.2" y="221" text-anchor="middle">gene distance (kb)</text>
<text x="201.1" y="212.6" text-anchor="middle">-3.0</text>
<text x="229.4" y="212.6" text-anchor="middle">TSS</text>
<text x="252.2" y="212.6" text-anchor="middle">3.0</text>
<text x="225.6" y="221" text-anchor="middle">gene distance (kb)</text>
<text x="281" y="212.6" text-anchor="middle">-3.0</text>
<text x="309.3" y="212.6" text-anchor="middle">TSS</text>
<text x="332.1" y="212.6" text-anchor="middle">3.0</text>
<text x="305.5" y="221" text-anchor="middle">gene distance (kb)</text>
<defs><linearGradient id="cb228" x1="0" x2="1" y1="0" y2="0">
<stop offset="0%" stop-color="#f7fbff"/>
<stop offset="12.5%" stop-color="#deebf7"/>
<stop offset="25%" stop-color="#c6dbef"/>
<stop offset="37.5%" stop-color="#9ecae1"/>
<stop offset="50%" stop-color="#6baed6"/>
<stop offset="62.5%" stop-color="#4292c6"/>
<stop offset="75%" stop-color="#2171b5"/>
<stop offset="87.5%" stop-color="#08519c"/>
<stop offset="100%" stop-color="#08306b"/>
</linearGradient></defs>
<rect x="34.6" y="228" width="54.2" height="5.2" fill="url(#cb228)" stroke="#000" stroke-width="0.8"/>
<line x1="35.5" y1="232" x2="35.5" y2="233.2" stroke="#000" stroke-width="0.6"/>
<text x="35.5" y="242.3" text-anchor="middle">0.0</text>
<line x1="56.8" y1="232" x2="56.8" y2="233.2" stroke="#000" stroke-width="0.6"/>
<text x="56.8" y="242.3" text-anchor="middle">0.4</text>
<line x1="78.1" y1="232" x2="78.1" y2="233.2" stroke="#000" stroke-width="0.6"/>
<text x="78.1" y="242.3" text-anchor="middle">0.8</text>
<text x="95.4" y="233.2">H3k4me3</text>
<text x="12.5" y="267.6" font-size="13" font-weight="bold">B</text>
<text x="65.5" y="272.3" text-anchor="middle">Unfertilized</text>
<text x="145.3" y="272.3" text-anchor="middle">2-cell</text>
<text x="224.5" y="272.3" text-anchor="middle">128-cell</text>
<text x="304.4" y="272.3" text-anchor="middle">1k-cell</text>
<g filter="url(#hb)">
<path fill="#f7fbff" d="M114.2 389.5h62.3v1.1h-62.3zM114.2 393.5h62.3v1.1h-62.3zM114.2 429.5h62.3v1.1h-62.3z"/>
<path fill="#f4f9fe" d="M114.2 362.5h62.3v1.1h-62.3zM114.2 412.5h62.3v1.1h-62.3zM114.2 425.5h62.3v1.1h-62.3zM273.5 329.5h61.8v1.1h-61.8zM273.5 389.5h61.8v1.1h-61.8z"/>
<path fill="#f2f8fd" d="M34.2 350.5h62.7v1.1h-62.7zM34.2 417.5h62.7v1.1h-62.7zM34.2 434.5h62.7v1.1h-62.7zM114.2 344.5h62.3v1.1h-62.3zM114.2 350.5h62.3v1.1h-62.3zM114.2 353.5h62.3v1.1h-62.3zM114.2 373.5h62.3v1.1h-62.3zM114.2 376.5h62.3v1.1h-62.3zM114.2 409.5h62.3v1.1h-62.3zM114.2 441.5h62.3v1.1h-62.3zM114.2 444.5h62.3v1.1h-62.3zM273.5 450.2h61.8v1.1h-61.8z"/>
<path fill="#f0f6fd" d="M34.2 325.5h62.7v1.1h-62.7zM34.2 331.5h62.7v1.1h-62.7zM34.2 336.5h62.7v1.1h-62.7zM34.2 352.5h62.7v1.1h-62.7zM34.2 378.5h62.7v1.1h-62.7zM34.2 381.5h62.7v1.1h-62.7zM34.2 423.5h62.7v1.1h-62.7zM34.2 424.5h62.7v1.1h-62.7zM34.2 425.5h62.7v1.1h-62.7zM34.2 446.5h62.7v1.1h-62.7zM34.2 449.5h62.7v1.1h-62.7zM34.2 450.5h62.7v1.1h-62.7zM114.2 304.5h62.3v1.1h-62.3zM114.2 370.5h62.3v1.1h-62.3zM114.2 387.5h62.3v1.1h-62.3zM114.2 395.5h62.3v1.1h-62.3zM114.2 452.6h62.3v1.1h-62.3zM193.6 409.5h61.9v1.1h-61.9zM273.5 300.5h61.8v1.1h-61.8zM273.5 341.5h61.8v1.1h-61.8zM273.5 363.5h61.8v1.1h-61.8zM273.5 396.5h61.8v1.1h-61.8zM273.5 430.5h61.8v1.1h-61.8zM273.5 437.5h61.8v1.1h-61.8z"/>
<path fill="#edf5fc" d="M34.2 319.5h62.7v1.1h-62.7zM34.2 321.5h62.7v1.1h-62.7zM34.2 344.5h62.7v1.1h-62.7zM34.2 347.5h62.7v1.1h-62.7zM34.2 349.5h62.7v1.1h-62.7zM34.2 375.5h62.7v1.1h-62.7zM34.2 389.5h62.7v1.1h-62.7zM34.2 412.5h62.7v1.1h-62.7zM34.2 420.5h62.7v1.1h-62.7zM34.2 435.5h62.7v1.1h-62.7zM34.2 440.5h62.7v1.1h-62.7zM34.2 452.9h62.7v1.1h-62.7zM34.2 455.9h62.7v1.1h-62.7zM114.2 282.5h62.3v1.1h-62.3zM114.2 301.5h62.3v1.1h-62.3zM114.2 306.5h62.3v1.1h-62.3zM114.2 314.5h62.3v1.1h-62.3zM114.2 327.5h62.3v1.1h-62.3zM114.2 334.5h62.3v1.1h-62.3zM114.2 338.5h62.3v1.1h-62.3zM114.2 347.5h62.3v1.1h-62.3zM114.2 371.5h62.3v1.1h-62.3zM114.2 390.5h62.3v1.1h-62.3zM114.2 402.5h62.3v1.1h-62.3zM114.2 411.5h62.3v1.1h-62.3zM114.2 430.5h62.3v1.1h-62.3zM114.2 432.5h62.3v1.1h-62.3zM114.2 433.5h62.3v1.1h-62.3zM193.6 331.5h61.9v1.1h-61.9zM273.5 305.5h61.8v1.1h-61.8zM273.5 365.5h61.8v1.1h-61.8zM273.5 377.5h61.8v1.1h-61.8zM273.5 378.5h61.8v1.1h-61.8zM273.5 384.5h61.8v1.1h-61.8zM273.5 419.5h61.8v1.1h-61.8zM273.5 429.5h61.8v1.1h-61.8zM273.5 446.2h61.8v1.1h-61.8z"/>
<path fill="#eaf3fb" d="M34.2 297.5h62.7v1.1h-62.7zM34.2 304.5h62.7v1.1h-62.7zM34.2 306.5h62.7v1.1h-62.7zM34.2 312.5h62.7v1.1h-62.7zM34.2 314.5h62.7v1.1h-62.7zM34.2 323.5h62.7v1.1h-62.7zM34.2 326.5h62.7v1.1h-62.7zM34.2 339.5h62.7v1.1h-62.7zM34.2 340.5h62.7v1.1h-62.7zM34.2 342.5h62.7v1.1h-62.7zM34.2 345.5h62.7v1.1h-62.7zM34.2 351.5h62.7v1.1h-62.7zM34.2 354.5h62.7v1.1h-62.7zM34.2 356.5h62.7v1.1h-62.7zM34.2 364.5h62.7v1.1h-62.7zM34.2 365.5h62.7v1.1h-62.7zM34.2 374.5h62.7v1.1h-62.7zM34.2 377.5h62.7v1.1h-62.7zM34.2 379.5h62.7v1.1h-62.7zM34.2 387.5h62.7v1.1h-62.7zM34.2 395.5h62.7v1.1h-62.7zM34.2 398.5h62.7v1.1h-62.7zM34.2 401.5h62.7v1.1h-62.7zM34.2 402.5h62.7v1.1h-62.7zM34.2 409.5h62.7v1.1h-62.7zM34.2 410.5h62.7v1.1h-62.7zM34.2 413.5h62.7v1.1h-62.7zM34.2 421.5h62.7v1.1h-62.7zM34.2 426.5h62.7v1.1h-62.7zM34.2 431.5h62.7v1.1h-62.7zM34.2 437.5h62.7v1.1h-62.7zM34.2 441.5h62.7v1.1h-62.7zM34.2 445.5h62.7v1.1h-62.7zM114.2 294.5h62.3v1.1h-62.3zM114.2 303.5h62.3v1.1h-62.3zM114.2 305.5h62.3v1.1h-62.3zM114.2 312.5h62.3v1.1h-62.3zM114.2 321.5h62.3v1.1h-62.3zM114.2 324.5h62.3v1.1h-62.3zM114.2 326.5h62.3v1.1h-62.3zM114.2 330.5h62.3v1.1h-62.3zM114.2 339.5h62.3v1.1h-62.3zM114.2 343.5h62.3v1.1h-62.3zM114.2 348.5h62.3v1.1h-62.3zM114.2 356.5h62.3v1.1h-62.3zM114.2 358.5h62.3v1.1h-62.3zM114.2 364.5h62.3v1.1h-62.3zM114.2 365.5h62.3v1.1h-62.3zM114.2 367.5h62.3v1.1h-62.3zM114.2 377.5h62.3v1.1h-62.3zM114.2 378.5h62.3v1.1h-62.3zM114.2 388.5h62.3v1.1h-62.3zM114.2 399.5h62.3v1.1h-62.3zM114.2 401.5h62.3v1.1h-62.3zM114.2 418.5h62.3v1.1h-62.3zM114.2 422.5h62.3v1.1h-62.3zM114.2 426.5h62.3v1.1h-62.3zM114.2 431.5h62.3v1.1h-62.3zM114.2 438.5h62.3v1.1h-62.3zM114.2 451.6h62.3v1.1h-62.3zM114.2 457.6h62.3v1.1h-62.3zM193.6 408.5h61.9v1.1h-61.9zM193.6 432.5h61.9v1.1h-61.9zM193.6 458.2h61.9v1.1h-61.9zM273.5 313.5h61.8v1.1h-61.8zM273.5 316.5h61.8v1.1h-61.8zM273.5 330.5h61.8v1.1h-61.8zM273.5 344.5h61.8v1.1h-61.8zM273.5 367.5h61.8v1.1h-61.8zM273.5 382.5h61.8v1.1h-61.8zM273.5 386.5h61.8v1.1h-61.8zM273.5 387.5h61.8v1.1h-61.8zM273.5 402.5h61.8v1.1h-61.8zM273.5 409.5h61.8v1.1h-61.8zM273.5 417.5h61.8v1.1h-61.8zM273.5 439.5h61.8v1.1h-61.8zM273.5 448.2h61.8v1.1h-61.8zM273.5 451.2h61.8v1.1h-61.8z"/>
<path fill="#e8f1fa" d="M34.2 288.5h62.7v1.1h-62.7zM34.2 311.5h62.7v1.1h-62.7zM34.2 313.5h62.7v1.1h-62.7zM34.2 317.5h62.7v1.1h-62.7zM34.2 320.5h62.7v1.1h-62.7zM34.2 322.5h62.7v1.1h-62.7zM34.2 324.5h62.7v1.1h-62.7zM34.2 328.5h62.7v1.1h-62.7zM34.2 330.5h62.7v1.1h-62.7zM34.2 332.5h62.7v1.1h-62.7zM34.2 353.5h62.7v1.1h-62.7zM34.2 357.5h62.7v1.1h-62.7zM34.2 358.5h62.7v1.1h-62.7zM34.2 359.5h62.7v1.1h-62.7zM34.2 369.5h62.7v1.1h-62.7zM34.2 370.5h62.7v1.1h-62.7zM34.2 371.5h62.7v1.1h-62.7zM34.2 392.5h62.7v1.1h-62.7zM34.2 393.5h62.7v1.1h-62.7zM34.2 403.5h62.7v1.1h-62.7zM34.2 406.5h62.7v1.1h-62.7zM34.2 415.5h62.7v1.1h-62.7zM34.2 444.5h62.7v1.1h-62.7zM34.2 451.5h62.7v0.5h-62.7zM34.2 459.9h62.7v1.1h-62.7zM114.2 276.5h62.3v1.1h-62.3zM114.2 290.5h62.3v1.1h-62.3zM114.2 300.5h62.3v1.1h-62.3zM114.2 302.5h62.3v1.1h-62.3zM114.2 309.5h62.3v1.1h-62.3zM114.2 313.5h62.3v1.1h-62.3zM114.2 329.5h62.3v1.1h-62.3zM114.2 341.5h62.3v1.1h-62.3zM114.2 345.5h62.3v1.1h-62.3zM114.2 346.5h62.3v1.1h-62.3zM114.2 359.5h62.3v1.1h-62.3zM114.2 363.5h62.3v1.1h-62.3zM114.2 379.5h62.3v1.1h-62.3zM114.2 381.5h62.3v1.1h-62.3zM114.2 384.5h62.3v1.1h-62.3zM114.2 391.5h62.3v1.1h-62.3zM114.2 394.5h62.3v1.1h-62.3zM114.2 397.5h62.3v1.1h-62.3zM114.2 403.5h62.3v1.1h-62.3zM114.2 405.5h62.3v1.1h-62.3zM114.2 415.5h62.3v1.1h-62.3zM114.2 416.5h62.3v1.1h-62.3zM114.2 420.5h62.3v1.1h-62.3zM114.2 428.5h62.3v1.1h-62.3zM114.2 434.5h62.3v1.1h-62.3zM114.2 439.5h62.3v1.1h-62.3zM114.2 446.5h62.3v1.1h-62.3zM114.2 456.6h62.3v1.1h-62.3zM114.2 460.6h62.3v1.1h-62.3zM193.6 348.5h61.9v1.1h-61.9zM193.6 359.5h61.9v1.1h-61.9zM193.6 387.5h61.9v1.1h-61.9zM193.6 392.5h61.9v1.1h-61.9zM273.5 289.5h61.8v1.1h-61.8zM273.5 301.5h61.8v1.1h-61.8zM273.5 326.5h61.8v1.1h-61.8zM273.5 334.5h61.8v1.1h-61.8zM273.5 337.5h61.8v1.1h-61.8zM273.5 339.5h61.8v1.1h-61.8zM273.5 342.5h61.8v1.1h-61.8zM273.5 345.5h61.8v1.1h-61.8zM273.5 346.5h61.8v1.1h-61.8zM273.5 352.5h61.8v1.1h-61.8zM273.5 354.5h61.8v1.1h-61.8zM273.5 366.5h61.8v1.1h-61.8zM273.5 368.5h61.8v1.1h-61.8zM273.5 373.5h61.8v1.1h-61.8zM273.5 374.5h61.8v1.1h-61.8zM273.5 376.5h61.8v1.1h-61.8zM273.5 381.5h61.8v1.1h-61.8zM273.5 400.5h61.8v1.1h-61.8zM273.5 424.5h61.8v1.1h-61.8zM273.5 433.5h61.8v1.1h-61.8zM273.5 444.5h61.8v1.1h-61.8zM273.5 447.2h61.8v1.1h-61.8zM273.5 460.2h61.8v1.1h-61.8zM273.5 461.2h61.8v1.1h-61.8z"/>
<path fill="#e6f0f9" d="M34.2 281.5h62.7v1.1h-62.7zM34.2 298.5h62.7v1.1h-62.7zM34.2 302.5h62.7v1.1h-62.7zM34.2 303.5h62.7v1.1h-62.7zM34.2 309.5h62.7v1.1h-62.7zM34.2 315.5h62.7v1.1h-62.7zM34.2 361.5h62.7v1.1h-62.7zM34.2 366.5h62.7v1.1h-62.7zM34.2 380.5h62.7v1.1h-62.7zM34.2 382.5h62.7v1.1h-62.7zM34.2 383.5h62.7v1.1h-62.7zM34.2 386.5h62.7v1.1h-62.7zM34.2 388.5h62.7v1.1h-62.7zM34.2 394.5h62.7v1.1h-62.7zM34.2 400.5h62.7v1.1h-62.7zM34.2 404.5h62.7v1.1h-62.7zM34.2 405.5h62.7v1.1h-62.7zM34.2 407.5h62.7v1.1h-62.7zM34.2 414.5h62.7v1.1h-62.7zM34.2 430.5h62.7v1.1h-62.7zM34.2 438.5h62.7v1.1h-62.7zM34.2 443.5h62.7v1.1h-62.7zM34.2 454.9h62.7v1.1h-62.7zM34.2 457.9h62.7v1.1h-62.7zM114.2 281.5h62.3v1.1h-62.3zM114.2 285.5h62.3v1.1h-62.3zM114.2 288.5h62.3v1.1h-62.3zM114.2 315.5h62.3v1.1h-62.3zM114.2 317.5h62.3v1.1h-62.3zM114.2 319.5h62.3v1.1h-62.3zM114.2 333.5h62.3v1.1h-62.3zM114.2 335.5h62.3v1.1h-62.3zM114.2 336.5h62.3v1.1h-62.3zM114.2 351.5h62.3v1.1h-62.3zM114.2 355.5h62.3v1.1h-62.3zM114.2 372.5h62.3v1.1h-62.3zM114.2 380.5h62.3v1.1h-62.3zM114.2 404.5h62.3v1.1h-62.3zM114.2 406.5h62.3v1.1h-62.3zM114.2 407.5h62.3v1.1h-62.3zM114.2 413.5h62.3v1.1h-62.3zM114.2 417.5h62.3v1.1h-62.3zM114.2 419.5h62.3v1.1h-62.3zM114.2 427.5h62.3v1.1h-62.3zM114.2 435.5h62.3v1.1h-62.3zM114.2 437.5h62.3v1.1h-62.3zM114.2 440.5h62.3v1.1h-62.3zM114.2 455.6h62.3v1.1h-62.3zM114.2 462.6h62.3v1.1h-62.3zM193.6 294.5h61.9v1.1h-61.9zM193.6 316.5h61.9v1.1h-61.9zM193.6 324.5h61.9v1.1h-61.9zM193.6 341.5h61.9v1.1h-61.9zM193.6 371.5h61.9v1.1h-61.9zM193.6 375.5h61.9v1.1h-61.9zM193.6 376.5h61.9v1.1h-61.9zM193.6 389.5h61.9v1.1h-61.9zM193.6 390.5h61.9v1.1h-61.9zM193.6 396.5h61.9v1.1h-61.9zM193.6 399.5h61.9v1.1h-61.9zM193.6 405.5h61.9v1.1h-61.9zM273.5 296.5h61.8v1.1h-61.8zM273.5 302.5h61.8v1.1h-61.8zM273.5 306.5h61.8v1.1h-61.8zM273.5 311.5h61.8v1.1h-61.8zM273.5 312.5h61.8v1.1h-61.8zM273.5 314.5h61.8v1.1h-61.8zM273.5 315.5h61.8v1.1h-61.8zM273.5 317.5h61.8v1.1h-61.8zM273.5 320.5h61.8v1.1h-61.8zM273.5 325.5h61.8v1.1h-61.8zM273.5 328.5h61.8v1.1h-61.8zM273.5 332.5h61.8v1.1h-61.8zM273.5 335.5h61.8v1.1h-61.8zM273.5 336.5h61.8v1.1h-61.8zM273.5 338.5h61.8v1.1h-61.8zM273.5 347.5h61.8v1.1h-61.8zM273.5 349.5h61.8v1.1h-61.8zM273.5 351.5h61.8v1.1h-61.8zM273.5 355.5h61.8v1.1h-61.8zM273.5 361.5h61.8v1.1h-61.8zM273.5 362.5h61.8v1.1h-61.8zM273.5 364.5h61.8v1.1h-61.8zM273.5 369.5h61.8v1.1h-61.8zM273.5 375.5h61.8v1.1h-61.8zM273.5 391.5h61.8v1.1h-61.8zM273.5 394.5h61.8v1.1h-61.8zM273.5 406.5h61.8v1.1h-61.8zM273.5 408.5h61.8v1.1h-61.8zM273.5 413.5h61.8v1.1h-61.8zM273.5 420.5h61.8v1.1h-61.8zM273.5 422.5h61.8v1.1h-61.8zM273.5 431.5h61.8v1.1h-61.8zM273.5 442.5h61.8v1.1h-61.8zM273.5 449.2h61.8v1.1h-61.8zM273.5 454.2h61.8v1.1h-61.8z"/>
<path fill="#e3eef9" d="M34.2 278.5h62.7v1.1h-62.7zM34.2 287.5h62.7v1.1h-62.7zM34.2 292.5h62.7v1.1h-62.7zM34.2 293.5h62.7v1.1h-62.7zM34.2 296.5h62.7v1.1h-62.7zM34.2 299.5h62.7v1.1h-62.7zM34.2 305.5h62.7v1.1h-62.7zM34.2 318.5h62.7v1.1h-62.7zM34.2 368.5h62.7v1.1h-62.7zM34.2 372.5h62.7v1.1h-62.7zM34.2 373.5h62.7v1.1h-62.7zM34.2 376.5h62.7v1.1h-62.7zM34.2 384.5h62.7v1.1h-62.7zM34.2 385.5h62.7v1.1h-62.7zM34.2 396.5h62.7v1.1h-62.7zM34.2 397.5h62.7v1.1h-62.7zM34.2 419.5h62.7v1.1h-62.7zM34.2 429.5h62.7v1.1h-62.7zM34.2 433.5h62.7v1.1h-62.7zM34.2 456.9h62.7v1.1h-62.7zM34.2 458.9h62.7v1.1h-62.7zM34.2 460.9h62.7v1.1h-62.7zM114.2 280.5h62.3v1.1h-62.3zM114.2 291.5h62.3v1.1h-62.3zM114.2 298.5h62.3v1.1h-62.3zM114.2 307.5h62.3v1.1h-62.3zM114.2 310.5h62.3v1.1h-62.3zM114.2 311.5h62.3v1.1h-62.3zM114.2 316.5h62.3v1.1h-62.3zM114.2 318.5h62.3v1.1h-62.3zM114.2 320.5h62.3v1.1h-62.3zM114.2 323.5h62.3v1.1h-62.3zM114.2 328.5h62.3v1.1h-62.3zM114.2 332.5h62.3v1.1h-62.3zM114.2 342.5h62.3v1.1h-62.3zM114.2 357.5h62.3v1.1h-62.3zM114.2 369.5h62.3v1.1h-62.3zM114.2 383.5h62.3v1.1h-62.3zM114.2 398.5h62.3v1.1h-62.3zM114.2 400.5h62.3v1.1h-62.3zM114.2 410.5h62.3v1.1h-62.3zM114.2 423.5h62.3v1.1h-62.3zM114.2 436.5h62.3v1.1h-62.3zM114.2 447.5h62.3v1.1h-62.3zM114.2 459.6h62.3v1.1h-62.3zM114.2 463.6h62.3v0.3h-62.3zM193.6 309.5h61.9v1.1h-61.9zM193.6 318.5h61.9v1.1h-61.9zM193.6 320.5h61.9v1.1h-61.9zM193.6 322.5h61.9v1.1h-61.9zM193.6 326.5h61.9v1.1h-61.9zM193.6 340.5h61.9v1.1h-61.9zM193.6 379.5h61.9v1.1h-61.9zM193.6 381.5h61.9v1.1h-61.9zM193.6 397.5h61.9v1.1h-61.9zM193.6 413.5h61.9v1.1h-61.9zM193.6 441.5h61.9v1.1h-61.9zM193.6 442.5h61.9v1.1h-61.9zM193.6 448.2h61.9v1.1h-61.9zM273.5 290.5h61.8v1.1h-61.8zM273.5 291.5h61.8v1.1h-61.8zM273.5 292.5h61.8v1.1h-61.8zM273.5 303.5h61.8v1.1h-61.8zM273.5 321.5h61.8v1.1h-61.8zM273.5 331.5h61.8v1.1h-61.8zM273.5 348.5h61.8v1.1h-61.8zM273.5 350.5h61.8v1.1h-61.8zM273.5 371.5h61.8v1.1h-61.8zM273.5 372.5h61.8v1.1h-61.8zM273.5 398.5h61.8v1.1h-61.8zM273.5 403.5h61.8v1.1h-61.8zM273.5 410.5h61.8v1.1h-61.8zM273.5 412.5h61.8v1.1h-61.8zM273.5 414.5h61.8v1.1h-61.8zM273.5 416.5h61.8v1.1h-61.8zM273.5 418.5h61.8v1.1h-61.8zM273.5 421.5h61.8v1.1h-61.8zM273.5 428.5h61.8v1.1h-61.8zM273.5 434.5h61.8v1.1h-61.8zM273.5 440.5h61.8v1.1h-61.8zM273.5 443.5h61.8v1.1h-61.8zM273.5 455.2h61.8v1.1h-61.8zM273.5 459.2h61.8v1.1h-61.8zM273.5 462.2h61.8v1.1h-61.8zM273.5 463.2h61.8v0.7h-61.8z"/>
<path fill="#e0edf8" d="M34.2 279.5h62.7v1.1h-62.7zM34.2 285.5h62.7v1.1h-62.7zM34.2 291.5h62.7v1.1h-62.7zM34.2 316.5h62.7v1.1h-62.7zM34.2 334.5h62.7v1.1h-62.7zM34.2 338.5h62.7v1.1h-62.7zM34.2 341.5h62.7v1.1h-62.7zM34.2 343.5h62.7v1.1h-62.7zM34.2 346.5h62.7v1.1h-62.7zM34.2 360.5h62.7v1.1h-62.7zM34.2 362.5h62.7v1.1h-62.7zM34.2 363.5h62.7v1.1h-62.7zM34.2 367.5h62.7v1.1h-62.7zM34.2 390.5h62.7v1.1h-62.7zM34.2 408.5h62.7v1.1h-62.7zM34.2 416.5h62.7v1.1h-62.7zM34.2 422.5h62.7v1.1h-62.7zM34.2 427.5h62.7v1.1h-62.7zM34.2 432.5h62.7v1.1h-62.7zM34.2 439.5h62.7v1.1h-62.7zM34.2 442.5h62.7v1.1h-62.7zM34.2 451.9h62.7v1.1h-62.7zM114.2 289.5h62.3v1.1h-62.3zM114.2 292.5h62.3v1.1h-62.3zM114.2 295.5h62.3v1.1h-62.3zM114.2 322.5h62.3v1.1h-62.3zM114.2 325.5h62.3v1.1h-62.3zM114.2 331.5h62.3v1.1h-62.3zM114.2 337.5h62.3v1.1h-62.3zM114.2 340.5h62.3v1.1h-62.3zM114.2 354.5h62.3v1.1h-62.3zM114.2 366.5h62.3v1.1h-62.3zM114.2 368.5h62.3v1.1h-62.3zM114.2 374.5h62.3v1.1h-62.3zM114.2 382.5h62.3v1.1h-62.3zM114.2 385.5h62.3v1.1h-62.3zM114.2 386.5h62.3v1.1h-62.3zM114.2 392.5h62.3v1.1h-62.3zM114.2 421.5h62.3v1.1h-62.3zM114.2 443.5h62.3v1.1h-62.3zM114.2 445.5h62.3v1.1h-62.3zM114.2 449.5h62.3v0.2h-62.3zM114.2 453.6h62.3v1.1h-62.3zM114.2 454.6h62.3v1.1h-62.3zM193.6 295.5h61.9v1.1h-61.9zM193.6 299.5h61.9v1.1h-61.9zM193.6 300.5h61.9v1.1h-61.9zM193.6 333.5h61.9v1.1h-61.9zM193.6 337.5h61.9v1.1h-61.9zM193.6 339.5h61.9v1.1h-61.9zM193.6 344.5h61.9v1.1h-61.9zM193.6 357.5h61.9v1.1h-61.9zM193.6 364.5h61.9v1.1h-61.9zM193.6 365.5h61.9v1.1h-61.9zM193.6 372.5h61.9v1.1h-61.9zM193.6 373.5h61.9v1.1h-61.9zM193.6 374.5h61.9v1.1h-61.9zM193.6 385.5h61.9v1.1h-61.9zM193.6 386.5h61.9v1.1h-61.9zM193.6 391.5h61.9v1.1h-61.9zM193.6 398.5h61.9v1.1h-61.9zM193.6 402.5h61.9v1.1h-61.9zM193.6 407.5h61.9v1.1h-61.9zM193.6 411.5h61.9v1.1h-61.9zM193.6 417.5h61.9v1.1h-61.9zM193.6 418.5h61.9v1.1h-61.9zM193.6 424.5h61.9v1.1h-61.9zM193.6 429.5h61.9v1.1h-61.9zM193.6 433.5h61.9v1.1h-61.9zM193.6 435.5h61.9v1.1h-61.9zM193.6 437.5h61.9v1.1h-61.9zM193.6 444.5h61.9v1.1h-61.9zM193.6 459.2h61.9v1.1h-61.9zM273.5 285.5h61.8v1.1h-61.8zM273.5 307.5h61.8v1.1h-61.8zM273.5 309.5h61.8v1.1h-61.8zM273.5 318.5h61.8v1.1h-61.8zM273.5 319.5h61.8v1.1h-61.8zM273.5 323.5h61.8v1.1h-61.8zM273.5 324.5h61.8v1.1h-61.8zM273.5 327.5h61.8v1.1h-61.8zM273.5 353.5h61.8v1.1h-61.8zM273.5 356.5h61.8v1.1h-61.8zM273.5 370.5h61.8v1.1h-61.8zM273.5 379.5h61.8v1.1h-61.8zM273.5 380.5h61.8v1.1h-61.8zM273.5 392.5h61.8v1.1h-61.8zM273.5 393.5h61.8v1.1h-61.8zM273.5 399.5h61.8v1.1h-61.8zM273.5 411.5h61.8v1.1h-61.8zM273.5 423.5h61.8v1.1h-61.8zM273.5 425.5h61.8v1.1h-61.8zM273.5 426.5h61.8v1.1h-61.8zM273.5 427.5h61.8v1.1h-61.8zM273.5 432.5h61.8v1.1h-61.8zM273.5 438.5h61.8v1.1h-61.8zM273.5 445.5h61.8v0.8h-61.8zM273.5 456.2h61.8v1.1h-61.8zM273.5 457.2h61.8v1.1h-61.8zM273.5 458.2h61.8v1.1h-61.8z"/>
<path fill="#deebf7" d="M34.2 280.5h62.7v1.1h-62.7zM34.2 282.5h62.7v1.1h-62.7zM34.2 290.5h62.7v1.1h-62.7zM34.2 307.5h62.7v1.1h-62.7zM34.2 327.5h62.7v1.1h-62.7zM34.2 333.5h62.7v1.1h-62.7zM34.2 348.5h62.7v1.1h-62.7zM34.2 355.5h62.7v1.1h-62.7zM34.2 399.5h62.7v1.1h-62.7zM34.2 447.5h62.7v1.1h-62.7zM34.2 453.9h62.7v1.1h-62.7zM34.2 461.9h62.7v1.1h-62.7zM34.2 462.9h62.7v1h-62.7zM114.2 275.5h62.3v1.1h-62.3zM114.2 278.5h62.3v1.1h-62.3zM114.2 279.5h62.3v1.1h-62.3zM114.2 287.5h62.3v1.1h-62.3zM114.2 293.5h62.3v1.1h-62.3zM114.2 296.5h62.3v1.1h-62.3zM114.2 308.5h62.3v1.1h-62.3zM114.2 352.5h62.3v1.1h-62.3zM114.2 360.5h62.3v1.1h-62.3zM114.2 361.5h62.3v1.1h-62.3zM114.2 414.5h62.3v1.1h-62.3zM114.2 424.5h62.3v1.1h-62.3zM114.2 442.5h62.3v1.1h-62.3zM193.6 287.5h61.9v1.1h-61.9zM193.6 288.5h61.9v1.1h-61.9zM193.6 301.5h61.9v1.1h-61.9zM193.6 306.5h61.9v1.1h-61.9zM193.6 307.5h61.9v1.1h-61.9zM193.6 319.5h61.9v1.1h-61.9zM193.6 330.5h61.9v1.1h-61.9zM193.6 332.5h61.9v1.1h-61.9zM193.6 335.5h61.9v1.1h-61.9zM193.6 355.5h61.9v1.1h-61.9zM193.6 358.5h61.9v1.1h-61.9zM193.6 362.5h61.9v1.1h-61.9zM193.6 378.5h61.9v1.1h-61.9zM193.6 388.5h61.9v1.1h-61.9zM193.6 393.5h61.9v1.1h-61.9zM193.6 412.5h61.9v1.1h-61.9zM193.6 414.5h61.9v1.1h-61.9zM193.6 415.5h61.9v1.1h-61.9zM193.6 416.5h61.9v1.1h-61.9zM193.6 425.5h61.9v1.1h-61.9zM193.6 430.5h61.9v1.1h-61.9zM193.6 431.5h61.9v1.1h-61.9zM193.6 434.5h61.9v1.1h-61.9zM193.6 447.5h61.9v0.8h-61.9zM193.6 451.2h61.9v1.1h-61.9zM193.6 456.2h61.9v1.1h-61.9zM273.5 276.5h61.8v1.1h-61.8zM273.5 277.5h61.8v1.1h-61.8zM273.5 280.5h61.8v1.1h-61.8zM273.5 288.5h61.8v1.1h-61.8zM273.5 293.5h61.8v1.1h-61.8zM273.5 294.5h61.8v1.1h-61.8zM273.5 295.5h61.8v1.1h-61.8zM273.5 308.5h61.8v1.1h-61.8zM273.5 322.5h61.8v1.1h-61.8zM273.5 343.5h61.8v1.1h-61.8zM273.5 357.5h61.8v1.1h-61.8zM273.5 360.5h61.8v1.1h-61.8zM273.5 385.5h61.8v1.1h-61.8zM273.5 388.5h61.8v1.1h-61.8zM273.5 404.5h61.8v1.1h-61.8zM273.5 407.5h61.8v1.1h-61.8zM273.5 435.5h61.8v1.1h-61.8zM273.5 452.2h61.8v1.1h-61.8z"/>
<path fill="#dce9f6" d="M34.2 277.5h62.7v1.1h-62.7zM34.2 301.5h62.7v1.1h-62.7zM34.2 308.5h62.7v1.1h-62.7zM34.2 310.5h62.7v1.1h-62.7zM34.2 329.5h62.7v1.1h-62.7zM34.2 335.5h62.7v1.1h-62.7zM34.2 337.5h62.7v1.1h-62.7zM34.2 391.5h62.7v1.1h-62.7zM34.2 411.5h62.7v1.1h-62.7zM34.2 428.5h62.7v1.1h-62.7zM34.2 436.5h62.7v1.1h-62.7zM34.2 448.5h62.7v1.1h-62.7zM114.2 277.5h62.3v1.1h-62.3zM114.2 349.5h62.3v1.1h-62.3zM114.2 375.5h62.3v1.1h-62.3zM114.2 408.5h62.3v1.1h-62.3zM114.2 448.5h62.3v1.1h-62.3zM114.2 449.6h62.3v1.1h-62.3zM114.2 458.6h62.3v1.1h-62.3zM193.6 298.5h61.9v1.1h-61.9zM193.6 302.5h61.9v1.1h-61.9zM193.6 303.5h61.9v1.1h-61.9zM193.6 321.5h61.9v1.1h-61.9zM193.6 323.5h61.9v1.1h-61.9zM193.6 327.5h61.9v1.1h-61.9zM193.6 329.5h61.9v1.1h-61.9zM193.6 334.5h61.9v1.1h-61.9zM193.6 342.5h61.9v1.1h-61.9zM193.6 346.5h61.9v1.1h-61.9zM193.6 350.5h61.9v1.1h-61.9zM193.6 356.5h61.9v1.1h-61.9zM193.6 360.5h61.9v1.1h-61.9zM193.6 368.5h61.9v1.1h-61.9zM193.6 370.5h61.9v1.1h-61.9zM193.6 380.5h61.9v1.1h-61.9zM193.6 384.5h61.9v1.1h-61.9zM193.6 422.5h61.9v1.1h-61.9zM193.6 427.5h61.9v1.1h-61.9zM193.6 436.5h61.9v1.1h-61.9zM193.6 453.2h61.9v1.1h-61.9zM193.6 462.2h61.9v1.1h-61.9zM273.5 286.5h61.8v1.1h-61.8zM273.5 359.5h61.8v1.1h-61.8zM273.5 390.5h61.8v1.1h-61.8zM273.5 395.5h61.8v1.1h-61.8zM273.5 397.5h61.8v1.1h-61.8zM273.5 401.5h61.8v1.1h-61.8zM273.5 405.5h61.8v1.1h-61.8zM273.5 415.5h61.8v1.1h-61.8zM273.5 441.5h61.8v1.1h-61.8z"/>
<path fill="#d9e8f5" d="M34.2 275.5h62.7v1.1h-62.7zM34.2 276.5h62.7v1.1h-62.7zM34.2 283.5h62.7v1.1h-62.7zM34.2 284.5h62.7v1.1h-62.7zM34.2 289.5h62.7v1.1h-62.7zM34.2 294.5h62.7v1.1h-62.7zM34.2 418.5h62.7v1.1h-62.7zM114.2 283.5h62.3v1.1h-62.3zM114.2 284.5h62.3v1.1h-62.3zM114.2 286.5h62.3v1.1h-62.3zM114.2 297.5h62.3v1.1h-62.3zM114.2 299.5h62.3v1.1h-62.3zM114.2 396.5h62.3v1.1h-62.3zM114.2 450.6h62.3v1.1h-62.3zM114.2 461.6h62.3v1.1h-62.3zM193.6 283.5h61.9v1.1h-61.9zM193.6 285.5h61.9v1.1h-61.9zM193.6 290.5h61.9v1.1h-61.9zM193.6 293.5h61.9v1.1h-61.9zM193.6 305.5h61.9v1.1h-61.9zM193.6 308.5h61.9v1.1h-61.9zM193.6 315.5h61.9v1.1h-61.9zM193.6 325.5h61.9v1.1h-61.9zM193.6 336.5h61.9v1.1h-61.9zM193.6 338.5h61.9v1.1h-61.9zM193.6 343.5h61.9v1.1h-61.9zM193.6 349.5h61.9v1.1h-61.9zM193.6 351.5h61.9v1.1h-61.9zM193.6 353.5h61.9v1.1h-61.9zM193.6 363.5h61.9v1.1h-61.9zM193.6 366.5h61.9v1.1h-61.9zM193.6 367.5h61.9v1.1h-61.9zM193.6 377.5h61.9v1.1h-61.9zM193.6 383.5h61.9v1.1h-61.9zM193.6 400.5h61.9v1.1h-61.9zM193.6 401.5h61.9v1.1h-61.9zM193.6 404.5h61.9v1.1h-61.9zM193.6 406.5h61.9v1.1h-61.9zM193.6 410.5h61.9v1.1h-61.9zM193.6 421.5h61.9v1.1h-61.9zM193.6 423.5h61.9v1.1h-61.9zM193.6 426.5h61.9v1.1h-61.9zM193.6 428.5h61.9v1.1h-61.9zM193.6 438.5h61.9v1.1h-61.9zM193.6 440.5h61.9v1.1h-61.9zM193.6 445.5h61.9v1.1h-61.9zM193.6 446.5h61.9v1.1h-61.9zM193.6 449.2h61.9v1.1h-61.9zM193.6 452.2h61.9v1.1h-61.9zM193.6 454.2h61.9v1.1h-61.9zM193.6 457.2h61.9v1.1h-61.9zM193.6 461.2h61.9v1.1h-61.9zM273.5 278.5h61.8v1.1h-61.8zM273.5 279.5h61.8v1.1h-61.8zM273.5 297.5h61.8v1.1h-61.8zM273.5 304.5h61.8v1.1h-61.8zM273.5 310.5h61.8v1.1h-61.8zM273.5 333.5h61.8v1.1h-61.8zM273.5 340.5h61.8v1.1h-61.8zM273.5 358.5h61.8v1.1h-61.8zM273.5 436.5h61.8v1.1h-61.8z"/>
<path fill="#d7e6f5" d="M34.2 295.5h62.7v1.1h-62.7zM34.2 300.5h62.7v1.1h-62.7zM193.6 276.5h61.9v1.1h-61.9zM193.6 284.5h61.9v1.1h-61.9zM193.6 296.5h61.9v1.1h-61.9zM193.6 311.5h61.9v1.1h-61.9zM193.6 317.5h61.9v1.1h-61.9zM193.6 345.5h61.9v1.1h-61.9zM193.6 352.5h61.9v1.1h-61.9zM193.6 382.5h61.9v1.1h-61.9zM193.6 394.5h61.9v1.1h-61.9zM193.6 439.5h61.9v1.1h-61.9zM193.6 443.5h61.9v1.1h-61.9zM273.5 275.5h61.8v1.1h-61.8zM273.5 383.5h61.8v1.1h-61.8z"/>
<path fill="#d4e5f4" d="M193.6 275.5h61.9v1.1h-61.9zM193.6 282.5h61.9v1.1h-61.9zM193.6 289.5h61.9v1.1h-61.9zM193.6 292.5h61.9v1.1h-61.9zM193.6 312.5h61.9v1.1h-61.9zM193.6 313.5h61.9v1.1h-61.9zM193.6 328.5h61.9v1.1h-61.9zM193.6 347.5h61.9v1.1h-61.9zM193.6 354.5h61.9v1.1h-61.9zM193.6 361.5h61.9v1.1h-61.9zM193.6 369.5h61.9v1.1h-61.9zM193.6 395.5h61.9v1.1h-61.9zM193.6 419.5h61.9v1.1h-61.9zM193.6 450.2h61.9v1.1h-61.9zM193.6 460.2h61.9v1.1h-61.9zM273.5 281.5h61.8v1.1h-61.8zM273.5 283.5h61.8v1.1h-61.8zM273.5 284.5h61.8v1.1h-61.8zM273.5 298.5h61.8v1.1h-61.8z"/>
<path fill="#d2e3f3" d="M34.2 286.5h62.7v1.1h-62.7zM193.6 277.5h61.9v1.1h-61.9zM193.6 280.5h61.9v1.1h-61.9zM193.6 286.5h61.9v1.1h-61.9zM193.6 291.5h61.9v1.1h-61.9zM193.6 310.5h61.9v1.1h-61.9zM193.6 403.5h61.9v1.1h-61.9zM193.6 420.5h61.9v1.1h-61.9zM193.6 455.2h61.9v1.1h-61.9zM273.5 287.5h61.8v1.1h-61.8zM273.5 453.2h61.8v1.1h-61.8z"/>
<path fill="#d0e1f2" d="M193.6 281.5h61.9v1.1h-61.9zM193.6 297.5h61.9v1.1h-61.9zM193.6 304.5h61.9v1.1h-61.9zM193.6 314.5h61.9v1.1h-61.9zM193.6 463.2h61.9v0.7h-61.9zM273.5 282.5h61.8v1.1h-61.8zM273.5 299.5h61.8v1.1h-61.8z"/>
<path fill="#cde0f1" d="M193.6 279.5h61.9v1.1h-61.9z"/>
<path fill="#c6dbef" d="M193.6 278.5h61.9v1.1h-61.9z"/>
<path fill="#f0f6fd" d="M320 389.5h5v1.1h-5z"/>
<path fill="#edf5fc" d="M60 434.5h7v1.1h-7zM169 362.5h7v1.1h-7zM161 425.5h2v1.1h-2z"/>
<path fill="#eaf3fb" d="M80 350.5h6v1.1h-6zM88 350.5h4v1.1h-4zM63 417.5h6v1.1h-6zM150 373.5h8v1.1h-8zM151 409.5h9v1.1h-9zM149 412.5h8v1.1h-8zM157 444.5h4v1.1h-4zM280 450.2h8v1.1h-8z"/>
<path fill="#e8f1fa" d="M81 325.5h10v1.1h-10zM62 336.5h9v1.1h-9zM43 344.5h4v1.1h-4zM37 423.5h6v1.1h-6zM82 423.5h8v1.1h-8zM37 425.5h6v1.1h-6zM59 446.5h3v1.1h-3zM138 362.5h7v1.1h-7zM152 362.5h9v1.1h-9zM139 389.5h8v1.1h-8zM129 409.5h4v1.1h-4zM170 412.5h3v1.1h-3zM144 425.5h4v1.1h-4zM143 432.5h10v1.1h-10zM154 444.5h8v1.1h-8zM324 300.5h5v1.1h-5zM288 363.5h4v1.1h-4zM299 450.2h5v1.1h-5z"/>
<path fill="#e6f0f9" d="M78 297.5h4v1.1h-4zM37 354.5h7v1.1h-7zM63 375.5h9v1.1h-9zM93 375.5h3v1.1h-3zM91 378.5h4v1.1h-4zM43 378.5h6v1.1h-6zM69 381.5h8v1.1h-8zM71 423.5h9v1.1h-9zM71 423.5h5v1.1h-5zM84 435.5h5v1.1h-5zM89 455.9h3v1.1h-3zM142 282.5h8v1.1h-8zM147 301.5h6v1.1h-6zM138 373.5h5v1.1h-5zM142 376.5h6v1.1h-6zM156 393.5h10v1.1h-10zM129 409.5h8v1.1h-8zM155 425.5h7v1.1h-7zM144 433.5h5v1.1h-5zM147 444.5h2v1.1h-2zM230 331.5h7v1.1h-7zM311 341.5h3v1.1h-3zM310 365.5h7v1.1h-7zM278 429.5h8v1.1h-8zM320 429.5h2v1.1h-2zM289 430.5h5v1.1h-5zM315 430.5h8v1.1h-8zM292 446.2h3v1.1h-3zM325 450.2h8v1.1h-8z"/>
<path fill="#e3eef9" d="M82 319.5h6v1.1h-6zM88 324.5h7v1.1h-7zM73 326.5h3v1.1h-3zM36 340.5h8v1.1h-8zM76 340.5h5v1.1h-5zM38 347.5h5v1.1h-5zM63 349.5h9v1.1h-9zM35 352.5h6v1.1h-6zM73 357.5h4v1.1h-4zM85 375.5h3v1.1h-3zM36 395.5h6v1.1h-6zM39 398.5h3v1.1h-3zM87 409.5h7v1.1h-7zM86 410.5h4v1.1h-4zM36 417.5h3v1.1h-3zM81 420.5h8v1.1h-8zM52 421.5h5v1.1h-5zM83 426.5h5v1.1h-5zM47 435.5h8v1.1h-8zM89 440.5h4v1.1h-4zM120 294.5h5v1.1h-5zM143 301.5h10v1.1h-10zM166 305.5h9v1.1h-9zM133 305.5h3v1.1h-3zM126 305.5h8v1.1h-8zM167 312.5h3v1.1h-3zM158 312.5h5v1.1h-5zM133 313.5h7v1.1h-7zM170 321.5h6v1.1h-6zM127 345.5h9v1.1h-9zM134 358.5h5v1.1h-5zM168 373.5h5v1.1h-5zM163 387.5h4v1.1h-4zM150 388.5h3v1.1h-3zM152 389.5h5v1.1h-5zM170 394.5h5v1.1h-5zM158 401.5h4v1.1h-4zM158 401.5h8v1.1h-8zM151 411.5h5v1.1h-5zM171 415.5h5v1.1h-5zM118 422.5h7v1.1h-7zM160 426.5h6v1.1h-6zM152 430.5h8v1.1h-8zM168 431.5h2v1.1h-2zM162 432.5h5v1.1h-5zM126 439.5h7v1.1h-7zM135 441.5h8v1.1h-8zM149 444.5h7v1.1h-7zM122 451.6h7v1.1h-7zM209 331.5h3v1.1h-3zM212 408.5h5v1.1h-5zM208 409.5h8v1.1h-8zM195 432.5h6v1.1h-6zM316 316.5h3v1.1h-3zM319 329.5h8v1.1h-8zM329 329.5h4v1.1h-4zM325 365.5h7v1.1h-7zM292 386.5h6v1.1h-6zM278 387.5h6v1.1h-6zM314 389.5h9v1.1h-9zM328 396.5h7v1.1h-7zM276 396.5h10v1.1h-10zM291 402.5h7v1.1h-7zM305 417.5h7v1.1h-7zM278 430.5h2v1.1h-2zM299 439.5h3v1.1h-3zM283 446.2h6v1.1h-6zM291 450.2h5v1.1h-5zM304 450.2h7v1.1h-7z"/>
<path fill="#e0edf8" d="M47 311.5h7v1.1h-7zM68 315.5h2v1.1h-2zM48 319.5h4v1.1h-4zM38 321.5h8v1.1h-8zM46 324.5h6v1.1h-6zM66 325.5h8v1.1h-8zM65 325.5h5v1.1h-5zM44 331.5h10v1.1h-10zM78 331.5h2v1.1h-2zM53 332.5h9v1.1h-9zM88 344.5h2v1.1h-2zM60 345.5h10v1.1h-10zM48 354.5h3v1.1h-3zM36 357.5h3v1.1h-3zM71 359.5h2v1.1h-2zM39 364.5h5v1.1h-5zM44 364.5h5v1.1h-5zM77 364.5h8v1.1h-8zM88 366.5h8v1.1h-8zM44 366.5h5v1.1h-5zM46 371.5h6v1.1h-6zM48 378.5h10v1.1h-10zM77 379.5h9v1.1h-9zM72 392.5h3v1.1h-3zM85 395.5h9v1.1h-9zM94 401.5h2v1.1h-2zM81 402.5h5v1.1h-5zM40 406.5h7v1.1h-7zM39 406.5h6v1.1h-6zM94 409.5h2v1.1h-2zM65 413.5h5v1.1h-5zM68 415.5h3v1.1h-3zM83 434.5h9v1.1h-9zM39 444.5h6v1.1h-6zM44 444.5h2v1.1h-2zM89 449.5h7v1.1h-7zM72 450.5h3v1.1h-3zM47 451.5h4v0.5h-4zM46 452.9h4v1.1h-4zM47 455.9h6v1.1h-6zM41 459.9h4v1.1h-4zM130 282.5h5v1.1h-5zM170 282.5h3v1.1h-3zM120 290.5h3v1.1h-3zM121 300.5h7v1.1h-7zM149 300.5h4v1.1h-4zM128 300.5h7v1.1h-7zM130 303.5h4v1.1h-4zM153 303.5h10v1.1h-10zM172 304.5h4v1.1h-4zM128 309.5h3v1.1h-3zM165 312.5h5v1.1h-5zM173 324.5h3v1.1h-3zM119 327.5h4v1.1h-4zM128 333.5h9v1.1h-9zM115 334.5h6v1.1h-6zM167 338.5h3v1.1h-3zM116 338.5h7v1.1h-7zM157 345.5h6v1.1h-6zM159 350.5h6v1.1h-6zM136 350.5h6v1.1h-6zM169 356.5h4v1.1h-4zM116 358.5h8v1.1h-8zM155 359.5h10v1.1h-10zM116 370.5h5v1.1h-5zM119 371.5h9v1.1h-9zM131 384.5h9v1.1h-9zM168 387.5h6v1.1h-6zM118 388.5h8v1.1h-8zM167 390.5h4v1.1h-4zM154 397.5h4v1.1h-4zM132 402.5h6v1.1h-6zM171 403.5h5v1.1h-5zM160 405.5h10v1.1h-10zM130 412.5h4v1.1h-4zM132 417.5h9v1.1h-9zM148 420.5h8v1.1h-8zM161 430.5h6v1.1h-6zM117 452.6h3v1.1h-3zM222 392.5h7v1.1h-7zM234 408.5h4v1.1h-4zM199 409.5h3v1.1h-3zM286 289.5h6v1.1h-6zM284 301.5h8v1.1h-8zM308 305.5h2v1.1h-2zM326 325.5h7v1.1h-7zM322 326.5h6v1.1h-6zM328 330.5h3v1.1h-3zM280 338.5h7v1.1h-7zM291 341.5h8v1.1h-8zM330 341.5h5v1.1h-5zM296 341.5h6v1.1h-6zM304 342.5h5v1.1h-5zM278 345.5h3v1.1h-3zM274 363.5h3v1.1h-3zM322 366.5h9v1.1h-9zM275 374.5h4v1.1h-4zM277 382.5h5v1.1h-5zM274 396.5h10v1.1h-10zM282 400.5h10v1.1h-10zM322 430.5h4v1.1h-4zM298 437.5h6v1.1h-6zM301 439.5h4v1.1h-4zM328 444.5h7v1.1h-7zM297 447.2h4v1.1h-4zM324 448.2h8v1.1h-8zM286 449.2h9v1.1h-9z"/>
<path fill="#deebf7" d="M92 288.5h3v1.1h-3zM89 302.5h5v1.1h-5zM74 313.5h7v1.1h-7zM38 313.5h3v1.1h-3zM66 319.5h7v1.1h-7zM74 320.5h8v1.1h-8zM47 322.5h3v1.1h-3zM63 326.5h7v1.1h-7zM72 330.5h3v1.1h-3zM81 332.5h8v1.1h-8zM76 349.5h4v1.1h-4zM45 350.5h4v1.1h-4zM54 352.5h10v1.1h-10zM35 352.5h4v1.1h-4zM82 358.5h6v1.1h-6zM39 364.5h5v1.1h-5zM80 369.5h6v1.1h-6zM39 374.5h6v1.1h-6zM42 375.5h4v1.1h-4zM59 377.5h5v1.1h-5zM63 379.5h5v1.1h-5zM87 380.5h5v1.1h-5zM48 381.5h5v1.1h-5zM79 386.5h7v1.1h-7zM43 387.5h5v1.1h-5zM73 387.5h9v1.1h-9zM70 388.5h7v1.1h-7zM57 392.5h4v1.1h-4zM92 393.5h4v1.1h-4zM39 397.5h9v1.1h-9zM44 398.5h6v1.1h-6zM81 398.5h5v1.1h-5zM72 401.5h9v1.1h-9zM38 403.5h5v1.1h-5zM38 405.5h4v1.1h-4zM65 407.5h8v1.1h-8zM58 410.5h5v1.1h-5zM51 413.5h10v1.1h-10zM47 415.5h7v1.1h-7zM56 417.5h5v1.1h-5zM45 420.5h9v1.1h-9zM56 424.5h6v1.1h-6zM45 424.5h6v1.1h-6zM35 426.5h5v1.1h-5zM36 426.5h5v1.1h-5zM63 430.5h7v1.1h-7zM76 435.5h5v1.1h-5zM63 435.5h5v1.1h-5zM68 438.5h4v1.1h-4zM41 438.5h10v1.1h-10zM85 446.5h4v1.1h-4zM87 456.9h5v1.1h-5zM57 459.9h3v1.1h-3zM145 281.5h7v1.1h-7zM170 285.5h2v1.1h-2zM168 294.5h3v1.1h-3zM158 304.5h4v1.1h-4zM171 309.5h5v1.1h-5zM163 309.5h3v1.1h-3zM118 319.5h5v1.1h-5zM133 329.5h6v1.1h-6zM119 335.5h9v1.1h-9zM119 336.5h8v1.1h-8zM157 339.5h5v1.1h-5zM127 343.5h4v1.1h-4zM136 343.5h7v1.1h-7zM133 344.5h6v1.1h-6zM133 346.5h4v1.1h-4zM171 348.5h5v1.1h-5zM130 357.5h5v1.1h-5zM166 358.5h4v1.1h-4zM118 365.5h3v1.1h-3zM117 376.5h2v1.1h-2zM172 377.5h4v1.1h-4zM151 377.5h8v1.1h-8zM150 379.5h8v1.1h-8zM135 391.5h8v1.1h-8zM130 393.5h10v1.1h-10zM144 395.5h3v1.1h-3zM119 397.5h3v1.1h-3zM161 399.5h3v1.1h-3zM154 401.5h2v1.1h-2zM116 406.5h6v1.1h-6zM148 411.5h9v1.1h-9zM151 412.5h6v1.1h-6zM124 412.5h7v1.1h-7zM155 413.5h5v1.1h-5zM132 419.5h6v1.1h-6zM170 425.5h6v1.1h-6zM139 425.5h8v1.1h-8zM146 430.5h6v1.1h-6zM156 432.5h5v1.1h-5zM154 434.5h10v1.1h-10zM144 434.5h8v1.1h-8zM159 439.5h3v1.1h-3zM156 452.6h7v1.1h-7zM131 456.6h8v1.1h-8zM117 462.6h4v1.1h-4zM121 463.6h7v0.3h-7zM210 316.5h8v1.1h-8zM214 359.5h9v1.1h-9zM227 390.5h6v1.1h-6zM214 397.5h5v1.1h-5zM211 409.5h6v1.1h-6zM316 296.5h4v1.1h-4zM295 301.5h8v1.1h-8zM320 312.5h6v1.1h-6zM284 313.5h5v1.1h-5zM302 314.5h3v1.1h-3zM321 317.5h8v1.1h-8zM306 325.5h9v1.1h-9zM316 334.5h8v1.1h-8zM319 335.5h8v1.1h-8zM298 339.5h6v1.1h-6zM287 349.5h4v1.1h-4zM291 352.5h7v1.1h-7zM299 362.5h6v1.1h-6zM312 375.5h3v1.1h-3zM330 376.5h5v1.1h-5zM319 403.5h7v1.1h-7zM293 417.5h10v1.1h-10zM320 417.5h6v1.1h-6zM285 433.5h4v1.1h-4zM315 443.5h6v1.1h-6zM279 444.5h7v1.1h-7zM292 451.2h3v1.1h-3zM303 454.2h2v1.1h-2zM324 455.2h4v1.1h-4zM299 462.2h8v1.1h-8z"/>
<path fill="#dce9f6" d="M54 296.5h7v1.1h-7zM57 296.5h10v1.1h-10zM70 302.5h6v1.1h-6zM52 302.5h5v1.1h-5zM51 302.5h7v1.1h-7zM47 303.5h3v1.1h-3zM74 305.5h7v1.1h-7zM79 321.5h5v1.1h-5zM73 322.5h4v1.1h-4zM36 322.5h3v1.1h-3zM46 322.5h3v1.1h-3zM39 328.5h8v1.1h-8zM77 328.5h7v1.1h-7zM68 331.5h5v1.1h-5zM84 332.5h2v1.1h-2zM49 332.5h2v1.1h-2zM73 346.5h4v1.1h-4zM40 351.5h5v1.1h-5zM37 353.5h5v1.1h-5zM64 358.5h3v1.1h-3zM47 359.5h9v1.1h-9zM38 359.5h8v1.1h-8zM55 369.5h4v1.1h-4zM58 374.5h8v1.1h-8zM79 376.5h4v1.1h-4zM84 382.5h5v1.1h-5zM49 383.5h5v1.1h-5zM37 384.5h10v1.1h-10zM77 392.5h4v1.1h-4zM74 394.5h3v1.1h-3zM81 397.5h9v1.1h-9zM77 400.5h9v1.1h-9zM85 400.5h9v1.1h-9zM93 403.5h3v1.1h-3zM79 403.5h10v1.1h-10zM87 404.5h7v1.1h-7zM53 410.5h9v1.1h-9zM85 412.5h10v1.1h-10zM64 413.5h5v1.1h-5zM77 421.5h6v1.1h-6zM41 426.5h4v1.1h-4zM75 430.5h4v1.1h-4zM54 430.5h9v1.1h-9zM35 431.5h9v1.1h-9zM76 432.5h8v1.1h-8zM84 449.5h9v1.1h-9zM43 452.9h7v1.1h-7zM76 454.9h5v1.1h-5zM84 455.9h3v1.1h-3zM62 457.9h5v1.1h-5zM81 457.9h9v1.1h-9zM79 457.9h3v1.1h-3zM82 458.9h8v1.1h-8zM123 280.5h2v1.1h-2zM162 285.5h4v1.1h-4zM119 294.5h4v1.1h-4zM166 295.5h4v1.1h-4zM120 295.5h7v1.1h-7zM136 303.5h10v1.1h-10zM151 306.5h3v1.1h-3zM154 307.5h10v1.1h-10zM121 310.5h9v1.1h-9zM170 312.5h6v1.1h-6zM150 313.5h3v1.1h-3zM132 314.5h7v1.1h-7zM148 317.5h5v1.1h-5zM129 320.5h4v1.1h-4zM171 321.5h5v1.1h-5zM167 321.5h9v1.1h-9zM148 322.5h6v1.1h-6zM171 323.5h3v1.1h-3zM168 324.5h3v1.1h-3zM153 332.5h3v1.1h-3zM161 335.5h3v1.1h-3zM147 338.5h9v1.1h-9zM161 338.5h4v1.1h-4zM135 343.5h5v1.1h-5zM165 353.5h6v1.1h-6zM143 355.5h6v1.1h-6zM133 356.5h4v1.1h-4zM164 356.5h5v1.1h-5zM126 363.5h4v1.1h-4zM165 365.5h10v1.1h-10zM171 367.5h5v1.1h-5zM118 371.5h6v1.1h-6zM162 376.5h7v1.1h-7zM120 376.5h7v1.1h-7zM119 380.5h8v1.1h-8zM116 389.5h9v1.1h-9zM163 391.5h10v1.1h-10zM155 394.5h7v1.1h-7zM119 395.5h7v1.1h-7zM128 397.5h5v1.1h-5zM146 399.5h3v1.1h-3zM165 399.5h3v1.1h-3zM138 401.5h4v1.1h-4zM140 402.5h6v1.1h-6zM132 407.5h9v1.1h-9zM155 418.5h4v1.1h-4zM173 418.5h3v1.1h-3zM146 419.5h4v1.1h-4zM119 422.5h8v1.1h-8zM152 422.5h8v1.1h-8zM138 426.5h3v1.1h-3zM163 429.5h5v1.1h-5zM124 429.5h4v1.1h-4zM148 430.5h9v1.1h-9zM151 431.5h8v1.1h-8zM149 433.5h9v1.1h-9zM166 435.5h4v1.1h-4zM147 437.5h3v1.1h-3zM119 440.5h8v1.1h-8zM152 447.5h4v1.1h-4zM147 455.6h4v1.1h-4zM138 459.6h2v1.1h-2zM130 460.6h3v1.1h-3zM252 294.5h3v1.1h-3zM197 326.5h5v1.1h-5zM219 340.5h8v1.1h-8zM196 441.5h6v1.1h-6zM206 448.2h9v1.1h-9zM197 458.2h4v1.1h-4zM277 291.5h9v1.1h-9zM323 300.5h3v1.1h-3zM298 302.5h8v1.1h-8zM293 305.5h7v1.1h-7zM305 314.5h3v1.1h-3zM291 314.5h5v1.1h-5zM315 320.5h9v1.1h-9zM316 320.5h5v1.1h-5zM311 325.5h4v1.1h-4zM331 328.5h4v1.1h-4zM292 330.5h7v1.1h-7zM306 332.5h8v1.1h-8zM326 337.5h6v1.1h-6zM306 337.5h8v1.1h-8zM305 339.5h9v1.1h-9zM316 344.5h7v1.1h-7zM300 346.5h3v1.1h-3zM286 349.5h5v1.1h-5zM295 351.5h9v1.1h-9zM303 352.5h5v1.1h-5zM307 367.5h8v1.1h-8zM321 367.5h6v1.1h-6zM326 368.5h7v1.1h-7zM324 369.5h7v1.1h-7zM321 381.5h7v1.1h-7zM281 381.5h4v1.1h-4zM276 382.5h8v1.1h-8zM313 382.5h7v1.1h-7zM311 386.5h3v1.1h-3zM326 387.5h4v1.1h-4zM309 391.5h5v1.1h-5zM280 394.5h5v1.1h-5zM282 396.5h5v1.1h-5zM281 400.5h9v1.1h-9zM297 400.5h6v1.1h-6zM277 412.5h7v1.1h-7zM320 414.5h8v1.1h-8zM311 418.5h5v1.1h-5zM282 428.5h3v1.1h-3zM304 431.5h4v1.1h-4zM326 437.5h9v1.1h-9zM304 439.5h9v1.1h-9zM285 440.5h3v1.1h-3zM321 443.5h3v1.1h-3zM286 444.5h5v1.1h-5zM281 447.2h4v1.1h-4zM325 451.2h7v1.1h-7zM331 451.2h4v1.1h-4zM280 454.2h3v1.1h-3zM323 455.2h3v1.1h-3zM304 459.2h8v1.1h-8zM289 460.2h6v1.1h-6zM318 461.2h2v1.1h-2zM279 462.2h4v1.1h-4z"/>
<path fill="#d9e8f5" d="M75 287.5h6v1.1h-6zM56 288.5h5v1.1h-5zM61 291.5h2v1.1h-2zM58 309.5h10v1.1h-10zM56 309.5h3v1.1h-3zM44 312.5h6v1.1h-6zM89 312.5h7v1.1h-7zM77 313.5h9v1.1h-9zM91 315.5h2v1.1h-2zM54 319.5h10v1.1h-10zM88 323.5h3v1.1h-3zM36 325.5h6v1.1h-6zM59 326.5h8v1.1h-8zM40 339.5h7v1.1h-7zM72 345.5h2v1.1h-2zM59 347.5h6v1.1h-6zM48 349.5h9v1.1h-9zM43 350.5h2v1.1h-2zM45 362.5h4v1.1h-4zM93 362.5h3v1.1h-3zM54 362.5h4v1.1h-4zM62 363.5h9v1.1h-9zM60 365.5h4v1.1h-4zM60 368.5h10v1.1h-10zM90 371.5h2v1.1h-2zM64 372.5h6v1.1h-6zM44 372.5h9v1.1h-9zM87 374.5h7v1.1h-7zM46 375.5h5v1.1h-5zM37 376.5h5v1.1h-5zM73 383.5h8v1.1h-8zM94 388.5h2v1.1h-2zM90 394.5h5v1.1h-5zM41 397.5h7v1.1h-7zM77 401.5h10v1.1h-10zM93 403.5h3v1.1h-3zM37 406.5h8v1.1h-8zM85 407.5h5v1.1h-5zM72 409.5h7v1.1h-7zM90 417.5h6v1.1h-6zM47 417.5h7v1.1h-7zM50 420.5h8v1.1h-8zM36 422.5h5v1.1h-5zM61 426.5h5v1.1h-5zM63 429.5h7v1.1h-7zM61 433.5h6v1.1h-6zM46 433.5h7v1.1h-7zM62 435.5h5v1.1h-5zM84 437.5h8v1.1h-8zM69 438.5h10v1.1h-10zM88 438.5h5v1.1h-5zM89 441.5h5v1.1h-5zM72 443.5h3v1.1h-3zM82 443.5h6v1.1h-6zM54 445.5h8v1.1h-8zM74 452.9h2v1.1h-2zM50 454.9h7v1.1h-7zM91 456.9h5v1.1h-5zM71 457.9h8v1.1h-8zM116 288.5h5v1.1h-5zM156 294.5h4v1.1h-4zM134 295.5h8v1.1h-8zM162 301.5h4v1.1h-4zM171 302.5h5v1.1h-5zM118 306.5h5v1.1h-5zM122 307.5h7v1.1h-7zM144 309.5h8v1.1h-8zM134 310.5h3v1.1h-3zM154 311.5h9v1.1h-9zM165 312.5h9v1.1h-9zM159 314.5h7v1.1h-7zM149 317.5h5v1.1h-5zM166 323.5h5v1.1h-5zM128 326.5h2v1.1h-2zM155 331.5h3v1.1h-3zM138 332.5h8v1.1h-8zM140 338.5h7v1.1h-7zM126 341.5h6v1.1h-6zM152 342.5h5v1.1h-5zM128 342.5h8v1.1h-8zM152 345.5h3v1.1h-3zM128 345.5h9v1.1h-9zM170 346.5h4v1.1h-4zM169 363.5h7v1.1h-7zM119 365.5h6v1.1h-6zM123 367.5h8v1.1h-8zM123 369.5h5v1.1h-5zM128 377.5h4v1.1h-4zM138 381.5h6v1.1h-6zM167 384.5h9v1.1h-9zM162 387.5h5v1.1h-5zM155 390.5h6v1.1h-6zM146 397.5h9v1.1h-9zM120 401.5h5v1.1h-5zM160 404.5h8v1.1h-8zM136 413.5h7v1.1h-7zM146 419.5h10v1.1h-10zM146 420.5h5v1.1h-5zM161 423.5h8v1.1h-8zM116 427.5h5v1.1h-5zM127 428.5h9v1.1h-9zM130 428.5h5v1.1h-5zM138 431.5h8v1.1h-8zM136 436.5h8v1.1h-8zM151 438.5h4v1.1h-4zM172 440.5h2v1.1h-2zM138 444.5h6v1.1h-6zM158 446.5h5v1.1h-5zM168 453.6h6v1.1h-6zM162 454.6h3v1.1h-3zM137 459.6h6v1.1h-6zM147 460.6h2v1.1h-2zM123 460.6h9v1.1h-9zM148 460.6h3v1.1h-3zM138 462.6h8v1.1h-8zM122 462.6h4v1.1h-4zM204 295.5h7v1.1h-7zM218 300.5h5v1.1h-5zM199 316.5h9v1.1h-9zM203 316.5h6v1.1h-6zM249 318.5h4v1.1h-4zM225 319.5h3v1.1h-3zM227 337.5h6v1.1h-6zM222 344.5h10v1.1h-10zM202 344.5h3v1.1h-3zM215 365.5h3v1.1h-3zM230 371.5h7v1.1h-7zM223 371.5h4v1.1h-4zM199 373.5h6v1.1h-6zM213 375.5h8v1.1h-8zM240 381.5h8v1.1h-8zM246 390.5h8v1.1h-8zM232 391.5h5v1.1h-5zM214 392.5h8v1.1h-8zM246 396.5h2v1.1h-2zM196 396.5h8v1.1h-8zM245 405.5h3v1.1h-3zM236 411.5h4v1.1h-4zM230 417.5h3v1.1h-3zM252 429.5h3v1.1h-3zM198 429.5h8v1.1h-8zM199 435.5h8v1.1h-8zM211 437.5h5v1.1h-5zM249 444.5h6v1.1h-6zM251 448.2h4v1.1h-4zM327 302.5h7v1.1h-7zM305 303.5h4v1.1h-4zM281 314.5h9v1.1h-9zM288 317.5h2v1.1h-2zM285 317.5h6v1.1h-6zM286 318.5h5v1.1h-5zM289 321.5h9v1.1h-9zM315 324.5h7v1.1h-7zM317 326.5h8v1.1h-8zM326 326.5h7v1.1h-7zM323 328.5h4v1.1h-4zM316 328.5h3v1.1h-3zM317 330.5h8v1.1h-8zM331 349.5h4v1.1h-4zM290 351.5h10v1.1h-10zM305 351.5h10v1.1h-10zM286 352.5h4v1.1h-4zM324 363.5h4v1.1h-4zM328 365.5h7v1.1h-7zM308 368.5h6v1.1h-6zM312 369.5h3v1.1h-3zM316 373.5h9v1.1h-9zM291 375.5h6v1.1h-6zM314 376.5h9v1.1h-9zM322 400.5h9v1.1h-9zM314 406.5h4v1.1h-4zM307 406.5h7v1.1h-7zM290 409.5h8v1.1h-8zM323 411.5h8v1.1h-8zM310 414.5h3v1.1h-3zM313 420.5h6v1.1h-6zM317 428.5h8v1.1h-8zM299 430.5h8v1.1h-8zM279 431.5h4v1.1h-4zM293 433.5h6v1.1h-6zM315 443.5h5v1.1h-5zM313 448.2h10v1.1h-10zM304 448.2h6v1.1h-6zM290 449.2h7v1.1h-7zM278 452.2h2v1.1h-2zM329 454.2h6v1.1h-6zM294 457.2h8v1.1h-8zM318 457.2h9v1.1h-9zM322 460.2h3v1.1h-3zM309 460.2h6v1.1h-6zM316 461.2h9v1.1h-9z"/>
<path fill="#d7e6f5" d="M50 293.5h3v1.1h-3zM70 296.5h8v1.1h-8zM79 306.5h6v1.1h-6zM57 316.5h9v1.1h-9zM55 317.5h4v1.1h-4zM44 324.5h7v1.1h-7zM68 326.5h2v1.1h-2zM80 327.5h9v1.1h-9zM62 329.5h3v1.1h-3zM51 330.5h9v1.1h-9zM82 332.5h8v1.1h-8zM73 333.5h7v1.1h-7zM66 334.5h8v1.1h-8zM41 337.5h8v1.1h-8zM78 337.5h4v1.1h-4zM85 338.5h4v1.1h-4zM93 341.5h3v1.1h-3zM52 341.5h4v1.1h-4zM39 343.5h3v1.1h-3zM72 343.5h5v1.1h-5zM42 347.5h8v1.1h-8zM69 350.5h5v1.1h-5zM54 353.5h4v1.1h-4zM55 355.5h6v1.1h-6zM41 356.5h5v1.1h-5zM64 359.5h3v1.1h-3zM94 361.5h2v1.1h-2zM80 364.5h5v1.1h-5zM49 365.5h5v1.1h-5zM49 365.5h6v1.1h-6zM92 366.5h4v1.1h-4zM66 370.5h3v1.1h-3zM45 372.5h8v1.1h-8zM94 377.5h2v1.1h-2zM76 379.5h2v1.1h-2zM36 382.5h8v1.1h-8zM71 382.5h9v1.1h-9zM48 383.5h6v1.1h-6zM61 387.5h2v1.1h-2zM71 390.5h9v1.1h-9zM47 392.5h4v1.1h-4zM51 398.5h5v1.1h-5zM74 401.5h9v1.1h-9zM63 402.5h7v1.1h-7zM73 402.5h5v1.1h-5zM87 403.5h8v1.1h-8zM91 406.5h5v1.1h-5zM87 408.5h9v1.1h-9zM44 410.5h6v1.1h-6zM83 414.5h9v1.1h-9zM81 414.5h2v1.1h-2zM58 417.5h6v1.1h-6zM79 420.5h7v1.1h-7zM43 425.5h6v1.1h-6zM47 431.5h6v1.1h-6zM41 431.5h6v1.1h-6zM61 435.5h2v1.1h-2zM82 437.5h5v1.1h-5zM77 439.5h7v1.1h-7zM78 439.5h8v1.1h-8zM85 439.5h6v1.1h-6zM50 441.5h7v1.1h-7zM82 447.5h8v1.1h-8zM66 452.9h4v1.1h-4zM50 452.9h3v1.1h-3zM68 453.9h5v1.1h-5zM60 455.9h4v1.1h-4zM62 455.9h2v1.1h-2zM83 456.9h3v1.1h-3zM92 456.9h4v1.1h-4zM91 457.9h5v1.1h-5zM40 459.9h3v1.1h-3zM145 276.5h8v1.1h-8zM120 281.5h5v1.1h-5zM118 282.5h5v1.1h-5zM135 285.5h9v1.1h-9zM129 288.5h4v1.1h-4zM145 291.5h4v1.1h-4zM116 292.5h3v1.1h-3zM124 300.5h4v1.1h-4zM121 302.5h10v1.1h-10zM160 306.5h10v1.1h-10zM142 314.5h6v1.1h-6zM157 316.5h4v1.1h-4zM162 321.5h9v1.1h-9zM147 322.5h4v1.1h-4zM152 329.5h7v1.1h-7zM125 330.5h3v1.1h-3zM152 331.5h7v1.1h-7zM133 332.5h7v1.1h-7zM151 334.5h7v1.1h-7zM150 337.5h2v1.1h-2zM142 339.5h7v1.1h-7zM124 340.5h9v1.1h-9zM145 342.5h4v1.1h-4zM134 351.5h9v1.1h-9zM160 351.5h5v1.1h-5zM146 358.5h6v1.1h-6zM122 359.5h6v1.1h-6zM126 362.5h7v1.1h-7zM135 362.5h8v1.1h-8zM149 364.5h7v1.1h-7zM141 364.5h5v1.1h-5zM157 366.5h6v1.1h-6zM167 373.5h8v1.1h-8zM160 374.5h4v1.1h-4zM129 381.5h7v1.1h-7zM131 381.5h4v1.1h-4zM153 389.5h8v1.1h-8zM118 391.5h3v1.1h-3zM161 399.5h5v1.1h-5zM145 402.5h8v1.1h-8zM160 402.5h6v1.1h-6zM147 403.5h5v1.1h-5zM164 409.5h4v1.1h-4zM130 411.5h7v1.1h-7zM171 411.5h4v1.1h-4zM154 421.5h8v1.1h-8zM135 423.5h10v1.1h-10zM136 423.5h6v1.1h-6zM141 424.5h7v1.1h-7zM122 425.5h2v1.1h-2zM143 437.5h8v1.1h-8zM150 441.5h3v1.1h-3zM146 446.5h7v1.1h-7zM125 451.6h9v1.1h-9zM152 454.6h8v1.1h-8zM230 301.5h8v1.1h-8zM201 324.5h8v1.1h-8zM213 330.5h7v1.1h-7zM218 333.5h8v1.1h-8zM203 335.5h9v1.1h-9zM223 341.5h4v1.1h-4zM198 357.5h7v1.1h-7zM239 357.5h8v1.1h-8zM205 359.5h8v1.1h-8zM217 364.5h8v1.1h-8zM248 365.5h3v1.1h-3zM222 368.5h8v1.1h-8zM217 371.5h8v1.1h-8zM201 375.5h5v1.1h-5zM252 376.5h3v1.1h-3zM204 378.5h5v1.1h-5zM223 379.5h8v1.1h-8zM219 379.5h4v1.1h-4zM247 387.5h3v1.1h-3zM211 389.5h10v1.1h-10zM219 408.5h6v1.1h-6zM198 413.5h8v1.1h-8zM212 413.5h9v1.1h-9zM204 416.5h2v1.1h-2zM236 432.5h5v1.1h-5zM249 433.5h3v1.1h-3zM210 433.5h3v1.1h-3zM205 444.5h7v1.1h-7zM224 459.2h5v1.1h-5zM279 277.5h3v1.1h-3zM325 277.5h10v1.1h-10zM289 280.5h5v1.1h-5zM332 296.5h3v1.1h-3zM284 296.5h9v1.1h-9zM327 300.5h8v1.1h-8zM321 303.5h10v1.1h-10zM329 305.5h6v1.1h-6zM331 309.5h4v1.1h-4zM329 309.5h6v1.1h-6zM302 312.5h2v1.1h-2zM324 312.5h9v1.1h-9zM305 315.5h7v1.1h-7zM325 317.5h7v1.1h-7zM296 321.5h3v1.1h-3zM298 321.5h9v1.1h-9zM285 322.5h2v1.1h-2zM292 324.5h2v1.1h-2zM315 332.5h7v1.1h-7zM295 336.5h8v1.1h-8zM309 341.5h8v1.1h-8zM291 346.5h2v1.1h-2zM293 351.5h10v1.1h-10zM296 354.5h3v1.1h-3zM307 355.5h5v1.1h-5zM275 356.5h7v1.1h-7zM285 361.5h4v1.1h-4zM311 361.5h5v1.1h-5zM287 362.5h8v1.1h-8zM311 363.5h4v1.1h-4zM325 370.5h3v1.1h-3zM309 371.5h3v1.1h-3zM308 372.5h9v1.1h-9zM318 377.5h8v1.1h-8zM309 378.5h6v1.1h-6zM332 382.5h3v1.1h-3zM330 384.5h4v1.1h-4zM295 388.5h9v1.1h-9zM319 393.5h7v1.1h-7zM312 395.5h10v1.1h-10zM288 399.5h4v1.1h-4zM309 406.5h6v1.1h-6zM304 406.5h5v1.1h-5zM326 407.5h7v1.1h-7zM293 408.5h6v1.1h-6zM284 409.5h3v1.1h-3zM287 409.5h10v1.1h-10zM290 409.5h8v1.1h-8zM304 410.5h3v1.1h-3zM327 415.5h5v1.1h-5zM296 416.5h6v1.1h-6zM306 417.5h8v1.1h-8zM306 417.5h9v1.1h-9zM284 422.5h9v1.1h-9zM327 427.5h8v1.1h-8zM295 431.5h9v1.1h-9zM323 431.5h9v1.1h-9zM300 450.2h7v1.1h-7zM285 452.2h5v1.1h-5zM279 454.2h5v1.1h-5zM293 456.2h4v1.1h-4zM305 458.2h7v1.1h-7zM277 459.2h2v1.1h-2zM315 462.2h7v1.1h-7zM322 463.2h4v0.7h-4z"/>
<path fill="#d4e5f4" d="M46 279.5h5v1.1h-5zM93 280.5h3v1.1h-3zM72 282.5h2v1.1h-2zM42 293.5h5v1.1h-5zM64 296.5h2v1.1h-2zM57 298.5h5v1.1h-5zM79 301.5h6v1.1h-6zM75 303.5h9v1.1h-9zM51 305.5h6v1.1h-6zM60 311.5h9v1.1h-9zM57 315.5h4v1.1h-4zM57 317.5h10v1.1h-10zM39 320.5h6v1.1h-6zM93 321.5h3v1.1h-3zM61 321.5h9v1.1h-9zM57 336.5h7v1.1h-7zM81 336.5h7v1.1h-7zM45 342.5h2v1.1h-2zM92 342.5h3v1.1h-3zM46 342.5h7v1.1h-7zM50 342.5h9v1.1h-9zM91 345.5h5v1.1h-5zM79 346.5h8v1.1h-8zM56 347.5h5v1.1h-5zM41 349.5h5v1.1h-5zM47 350.5h10v1.1h-10zM88 351.5h2v1.1h-2zM73 355.5h5v1.1h-5zM73 359.5h7v1.1h-7zM57 360.5h3v1.1h-3zM85 361.5h5v1.1h-5zM61 364.5h4v1.1h-4zM49 366.5h2v1.1h-2zM44 374.5h7v1.1h-7zM44 375.5h8v1.1h-8zM44 381.5h5v1.1h-5zM70 385.5h2v1.1h-2zM35 389.5h5v1.1h-5zM74 390.5h5v1.1h-5zM89 400.5h7v1.1h-7zM53 404.5h8v1.1h-8zM57 409.5h5v1.1h-5zM65 415.5h7v1.1h-7zM72 422.5h4v1.1h-4zM73 430.5h3v1.1h-3zM93 433.5h3v1.1h-3zM40 442.5h8v1.1h-8zM59 444.5h6v1.1h-6zM87 445.5h9v1.1h-9zM54 446.5h3v1.1h-3zM73 449.5h4v1.1h-4zM51 450.5h4v1.1h-4zM84 451.5h4v0.5h-4zM75 451.9h7v1.1h-7zM85 454.9h10v1.1h-10zM56 456.9h8v1.1h-8zM45 457.9h7v1.1h-7zM76 459.9h7v1.1h-7zM71 461.9h7v1.1h-7zM167 279.5h3v1.1h-3zM125 289.5h2v1.1h-2zM157 291.5h2v1.1h-2zM143 293.5h3v1.1h-3zM124 296.5h8v1.1h-8zM135 300.5h5v1.1h-5zM150 302.5h3v1.1h-3zM135 306.5h2v1.1h-2zM171 315.5h5v1.1h-5zM128 316.5h7v1.1h-7zM150 316.5h4v1.1h-4zM147 319.5h2v1.1h-2zM136 325.5h6v1.1h-6zM168 327.5h4v1.1h-4zM173 340.5h3v1.1h-3zM141 341.5h3v1.1h-3zM167 345.5h9v1.1h-9zM159 351.5h6v1.1h-6zM164 352.5h2v1.1h-2zM168 353.5h3v1.1h-3zM122 355.5h4v1.1h-4zM161 356.5h5v1.1h-5zM142 364.5h3v1.1h-3zM158 369.5h7v1.1h-7zM140 370.5h6v1.1h-6zM139 371.5h6v1.1h-6zM149 374.5h6v1.1h-6zM118 376.5h8v1.1h-8zM137 380.5h2v1.1h-2zM167 380.5h2v1.1h-2zM139 383.5h2v1.1h-2zM162 384.5h5v1.1h-5zM116 385.5h3v1.1h-3zM116 387.5h6v1.1h-6zM129 392.5h6v1.1h-6zM173 394.5h3v1.1h-3zM133 394.5h8v1.1h-8zM148 395.5h5v1.1h-5zM125 402.5h7v1.1h-7zM149 403.5h2v1.1h-2zM134 407.5h5v1.1h-5zM126 409.5h5v1.1h-5zM154 411.5h8v1.1h-8zM161 412.5h8v1.1h-8zM117 415.5h5v1.1h-5zM139 418.5h7v1.1h-7zM152 418.5h9v1.1h-9zM171 420.5h5v1.1h-5zM173 428.5h3v1.1h-3zM137 444.5h6v1.1h-6zM127 448.5h2v1.1h-2zM117 448.5h10v1.1h-10zM133 448.5h8v1.1h-8zM139 449.5h3v0.2h-3zM159 449.6h3v1.1h-3zM138 451.6h4v1.1h-4zM156 462.6h5v1.1h-5zM235 288.5h6v1.1h-6zM237 295.5h9v1.1h-9zM211 300.5h10v1.1h-10zM218 302.5h8v1.1h-8zM245 307.5h4v1.1h-4zM208 307.5h3v1.1h-3zM248 320.5h7v1.1h-7zM235 335.5h6v1.1h-6zM231 335.5h9v1.1h-9zM197 337.5h3v1.1h-3zM219 338.5h4v1.1h-4zM236 340.5h9v1.1h-9zM217 341.5h4v1.1h-4zM231 342.5h7v1.1h-7zM210 350.5h4v1.1h-4zM247 355.5h3v1.1h-3zM207 355.5h7v1.1h-7zM223 356.5h7v1.1h-7zM231 358.5h3v1.1h-3zM226 365.5h5v1.1h-5zM218 372.5h6v1.1h-6zM197 373.5h4v1.1h-4zM225 378.5h7v1.1h-7zM236 386.5h10v1.1h-10zM207 388.5h8v1.1h-8zM242 389.5h5v1.1h-5zM237 407.5h5v1.1h-5zM204 408.5h6v1.1h-6zM244 409.5h3v1.1h-3zM226 416.5h10v1.1h-10zM217 416.5h9v1.1h-9zM233 416.5h7v1.1h-7zM237 416.5h4v1.1h-4zM196 425.5h8v1.1h-8zM220 428.5h7v1.1h-7zM234 428.5h2v1.1h-2zM237 429.5h8v1.1h-8zM224 432.5h5v1.1h-5zM231 433.5h7v1.1h-7zM204 435.5h7v1.1h-7zM216 441.5h7v1.1h-7zM247 442.5h8v1.1h-8zM236 451.2h4v1.1h-4zM213 453.2h5v1.1h-5zM221 453.2h3v1.1h-3zM219 458.2h9v1.1h-9zM230 462.2h8v1.1h-8zM321 277.5h5v1.1h-5zM276 280.5h2v1.1h-2zM299 288.5h5v1.1h-5zM285 293.5h3v1.1h-3zM294 296.5h6v1.1h-6zM312 306.5h8v1.1h-8zM277 308.5h5v1.1h-5zM322 311.5h8v1.1h-8zM279 313.5h4v1.1h-4zM326 327.5h5v1.1h-5zM292 327.5h4v1.1h-4zM318 335.5h7v1.1h-7zM289 335.5h5v1.1h-5zM309 336.5h4v1.1h-4zM305 336.5h7v1.1h-7zM319 342.5h7v1.1h-7zM293 344.5h8v1.1h-8zM326 345.5h7v1.1h-7zM297 346.5h5v1.1h-5zM283 349.5h3v1.1h-3zM302 349.5h3v1.1h-3zM275 357.5h8v1.1h-8zM328 360.5h7v1.1h-7zM308 360.5h5v1.1h-5zM277 361.5h7v1.1h-7zM331 362.5h4v1.1h-4zM297 365.5h10v1.1h-10zM329 367.5h6v1.1h-6zM276 368.5h5v1.1h-5zM326 369.5h3v1.1h-3zM327 369.5h8v1.1h-8zM290 377.5h2v1.1h-2zM287 378.5h5v1.1h-5zM306 378.5h3v1.1h-3zM290 379.5h5v1.1h-5zM290 384.5h10v1.1h-10zM311 390.5h10v1.1h-10zM309 392.5h8v1.1h-8zM309 393.5h4v1.1h-4zM322 393.5h4v1.1h-4zM323 398.5h2v1.1h-2zM294 402.5h8v1.1h-8zM290 405.5h3v1.1h-3zM331 407.5h4v1.1h-4zM327 410.5h4v1.1h-4zM284 415.5h10v1.1h-10zM331 416.5h4v1.1h-4zM275 421.5h2v1.1h-2zM295 425.5h7v1.1h-7zM279 430.5h7v1.1h-7zM307 432.5h9v1.1h-9zM330 434.5h4v1.1h-4zM292 437.5h3v1.1h-3zM282 438.5h5v1.1h-5zM277 439.5h3v1.1h-3zM328 447.2h4v1.1h-4zM321 449.2h10v1.1h-10zM304 452.2h9v1.1h-9zM284 454.2h9v1.1h-9zM276 454.2h2v1.1h-2z"/>
<path fill="#d2e3f3" d="M62 282.5h2v1.1h-2zM49 285.5h8v1.1h-8zM66 287.5h5v1.1h-5zM45 292.5h4v1.1h-4zM45 293.5h4v1.1h-4zM87 299.5h9v1.1h-9zM59 299.5h9v1.1h-9zM87 301.5h9v1.1h-9zM69 306.5h8v1.1h-8zM83 307.5h4v1.1h-4zM59 309.5h6v1.1h-6zM50 311.5h5v1.1h-5zM74 314.5h4v1.1h-4zM40 315.5h3v1.1h-3zM45 323.5h5v1.1h-5zM50 324.5h5v1.1h-5zM58 324.5h3v1.1h-3zM46 325.5h4v1.1h-4zM66 326.5h2v1.1h-2zM58 327.5h9v1.1h-9zM42 327.5h3v1.1h-3zM77 327.5h3v1.1h-3zM54 334.5h3v1.1h-3zM91 338.5h5v1.1h-5zM46 340.5h3v1.1h-3zM48 343.5h7v1.1h-7zM88 344.5h5v1.1h-5zM61 346.5h9v1.1h-9zM42 349.5h6v1.1h-6zM42 349.5h4v1.1h-4zM38 353.5h10v1.1h-10zM45 356.5h3v1.1h-3zM85 357.5h6v1.1h-6zM81 358.5h3v1.1h-3zM92 358.5h4v1.1h-4zM92 361.5h4v1.1h-4zM69 362.5h10v1.1h-10zM35 365.5h6v1.1h-6zM52 372.5h10v1.1h-10zM78 376.5h3v1.1h-3zM37 380.5h4v1.1h-4zM91 380.5h5v1.1h-5zM79 384.5h5v1.1h-5zM89 386.5h7v1.1h-7zM37 389.5h10v1.1h-10zM78 393.5h2v1.1h-2zM43 393.5h3v1.1h-3zM77 396.5h7v1.1h-7zM61 396.5h10v1.1h-10zM86 404.5h9v1.1h-9zM78 412.5h2v1.1h-2zM36 413.5h6v1.1h-6zM76 414.5h7v1.1h-7zM52 416.5h8v1.1h-8zM92 422.5h3v1.1h-3zM88 426.5h3v1.1h-3zM73 427.5h5v1.1h-5zM73 428.5h5v1.1h-5zM53 429.5h6v1.1h-6zM70 430.5h10v1.1h-10zM92 432.5h4v1.1h-4zM74 433.5h9v1.1h-9zM89 433.5h4v1.1h-4zM65 436.5h10v1.1h-10zM73 437.5h9v1.1h-9zM89 437.5h6v1.1h-6zM79 440.5h6v1.1h-6zM85 442.5h8v1.1h-8zM81 446.5h3v1.1h-3zM37 449.5h2v1.1h-2zM40 458.9h9v1.1h-9zM43 458.9h6v1.1h-6zM36 459.9h9v1.1h-9zM72 460.9h9v1.1h-9zM90 460.9h2v1.1h-2zM168 275.5h5v1.1h-5zM117 277.5h4v1.1h-4zM169 277.5h3v1.1h-3zM159 281.5h3v1.1h-3zM139 284.5h6v1.1h-6zM137 288.5h4v1.1h-4zM123 292.5h5v1.1h-5zM173 293.5h3v1.1h-3zM162 295.5h5v1.1h-5zM150 296.5h4v1.1h-4zM138 298.5h3v1.1h-3zM122 298.5h6v1.1h-6zM165 300.5h8v1.1h-8zM140 301.5h5v1.1h-5zM120 301.5h8v1.1h-8zM141 302.5h8v1.1h-8zM165 304.5h3v1.1h-3zM160 304.5h3v1.1h-3zM150 305.5h4v1.1h-4zM119 308.5h9v1.1h-9zM157 308.5h7v1.1h-7zM144 310.5h9v1.1h-9zM162 310.5h5v1.1h-5zM169 311.5h7v1.1h-7zM164 313.5h10v1.1h-10zM171 313.5h5v1.1h-5zM131 316.5h10v1.1h-10zM147 317.5h9v1.1h-9zM136 322.5h4v1.1h-4zM151 324.5h9v1.1h-9zM151 327.5h6v1.1h-6zM144 328.5h9v1.1h-9zM157 329.5h6v1.1h-6zM138 330.5h7v1.1h-7zM154 334.5h9v1.1h-9zM137 336.5h6v1.1h-6zM149 337.5h4v1.1h-4zM119 340.5h7v1.1h-7zM147 344.5h8v1.1h-8zM131 347.5h4v1.1h-4zM151 349.5h6v1.1h-6zM159 351.5h10v1.1h-10zM125 357.5h5v1.1h-5zM157 358.5h5v1.1h-5zM158 359.5h7v1.1h-7zM117 361.5h5v1.1h-5zM172 363.5h4v1.1h-4zM140 363.5h3v1.1h-3zM157 366.5h8v1.1h-8zM153 369.5h3v1.1h-3zM169 370.5h3v1.1h-3zM127 372.5h7v1.1h-7zM128 375.5h7v1.1h-7zM154 375.5h3v1.1h-3zM125 381.5h8v1.1h-8zM145 381.5h7v1.1h-7zM170 383.5h6v1.1h-6zM160 383.5h3v1.1h-3zM119 384.5h2v1.1h-2zM160 387.5h4v1.1h-4zM141 387.5h4v1.1h-4zM136 390.5h7v1.1h-7zM153 391.5h5v1.1h-5zM170 395.5h2v1.1h-2zM142 396.5h9v1.1h-9zM133 397.5h7v1.1h-7zM128 403.5h3v1.1h-3zM150 407.5h8v1.1h-8zM148 408.5h3v1.1h-3zM129 409.5h10v1.1h-10zM154 410.5h9v1.1h-9zM156 414.5h10v1.1h-10zM173 417.5h2v1.1h-2zM171 428.5h5v1.1h-5zM170 432.5h5v1.1h-5zM156 438.5h7v1.1h-7zM173 443.5h3v1.1h-3zM171 448.5h3v1.1h-3zM138 453.6h9v1.1h-9zM158 457.6h8v1.1h-8zM140 460.6h7v1.1h-7zM131 462.6h10v1.1h-10zM247 287.5h5v1.1h-5zM251 288.5h4v1.1h-4zM228 288.5h7v1.1h-7zM219 294.5h8v1.1h-8zM238 302.5h10v1.1h-10zM204 307.5h5v1.1h-5zM233 308.5h6v1.1h-6zM232 309.5h4v1.1h-4zM197 315.5h5v1.1h-5zM224 316.5h9v1.1h-9zM221 334.5h8v1.1h-8zM226 335.5h5v1.1h-5zM205 337.5h8v1.1h-8zM200 346.5h8v1.1h-8zM242 348.5h4v1.1h-4zM226 353.5h5v1.1h-5zM240 356.5h4v1.1h-4zM234 359.5h4v1.1h-4zM219 367.5h5v1.1h-5zM246 372.5h4v1.1h-4zM194 374.5h9v1.1h-9zM218 378.5h4v1.1h-4zM245 378.5h3v1.1h-3zM216 378.5h9v1.1h-9zM231 380.5h6v1.1h-6zM205 381.5h7v1.1h-7zM195 385.5h9v1.1h-9zM228 385.5h3v1.1h-3zM229 386.5h9v1.1h-9zM245 390.5h6v1.1h-6zM205 390.5h2v1.1h-2zM224 400.5h6v1.1h-6zM196 401.5h10v1.1h-10zM211 408.5h6v1.1h-6zM205 411.5h5v1.1h-5zM229 413.5h10v1.1h-10zM224 421.5h5v1.1h-5zM227 423.5h4v1.1h-4zM233 423.5h7v1.1h-7zM214 426.5h8v1.1h-8zM223 427.5h7v1.1h-7zM236 432.5h4v1.1h-4zM226 433.5h3v1.1h-3zM210 435.5h5v1.1h-5zM233 437.5h7v1.1h-7zM202 439.5h7v1.1h-7zM217 440.5h3v1.1h-3zM241 444.5h3v1.1h-3zM208 447.5h5v0.8h-5zM231 448.2h10v1.1h-10zM246 453.2h9v1.1h-9zM232 459.2h3v1.1h-3zM317 276.5h8v1.1h-8zM329 279.5h6v1.1h-6zM325 280.5h7v1.1h-7zM315 290.5h8v1.1h-8zM320 295.5h5v1.1h-5zM298 297.5h6v1.1h-6zM296 308.5h6v1.1h-6zM276 313.5h5v1.1h-5zM312 315.5h9v1.1h-9zM292 316.5h3v1.1h-3zM283 320.5h9v1.1h-9zM325 327.5h10v1.1h-10zM290 327.5h8v1.1h-8zM290 331.5h8v1.1h-8zM318 332.5h6v1.1h-6zM327 334.5h3v1.1h-3zM282 337.5h5v1.1h-5zM312 337.5h9v1.1h-9zM317 337.5h7v1.1h-7zM297 341.5h9v1.1h-9zM285 342.5h10v1.1h-10zM306 342.5h4v1.1h-4zM306 343.5h6v1.1h-6zM327 345.5h8v1.1h-8zM305 345.5h6v1.1h-6zM308 345.5h5v1.1h-5zM326 345.5h6v1.1h-6zM307 347.5h6v1.1h-6zM327 348.5h8v1.1h-8zM306 350.5h6v1.1h-6zM312 351.5h6v1.1h-6zM329 355.5h5v1.1h-5zM328 357.5h5v1.1h-5zM288 358.5h3v1.1h-3zM328 363.5h3v1.1h-3zM283 364.5h7v1.1h-7zM300 366.5h3v1.1h-3zM311 367.5h7v1.1h-7zM312 371.5h7v1.1h-7zM303 376.5h9v1.1h-9zM291 382.5h3v1.1h-3zM311 385.5h5v1.1h-5zM332 387.5h3v1.1h-3zM275 390.5h6v1.1h-6zM303 391.5h7v1.1h-7zM304 391.5h4v1.1h-4zM327 396.5h3v1.1h-3zM328 397.5h4v1.1h-4zM310 404.5h4v1.1h-4zM312 404.5h9v1.1h-9zM328 406.5h4v1.1h-4zM313 409.5h2v1.1h-2zM290 411.5h10v1.1h-10zM274 413.5h6v1.1h-6zM315 413.5h5v1.1h-5zM293 415.5h8v1.1h-8zM299 420.5h9v1.1h-9zM320 420.5h8v1.1h-8zM294 423.5h5v1.1h-5zM294 424.5h4v1.1h-4zM318 424.5h4v1.1h-4zM323 425.5h8v1.1h-8zM282 428.5h4v1.1h-4zM283 431.5h5v1.1h-5zM329 433.5h3v1.1h-3zM310 435.5h7v1.1h-7zM294 437.5h7v1.1h-7zM295 438.5h3v1.1h-3zM309 439.5h7v1.1h-7zM322 439.5h10v1.1h-10zM304 444.5h5v1.1h-5zM307 445.5h10v0.8h-10zM317 446.2h2v1.1h-2zM280 447.2h2v1.1h-2zM314 447.2h5v1.1h-5zM316 448.2h5v1.1h-5zM277 455.2h8v1.1h-8zM289 455.2h8v1.1h-8zM329 456.2h6v1.1h-6zM301 456.2h9v1.1h-9zM310 458.2h5v1.1h-5zM277 458.2h3v1.1h-3zM323 459.2h3v1.1h-3zM309 460.2h9v1.1h-9z"/>
<path fill="#d0e1f2" d="M35 275.5h6v1.1h-6zM48 276.5h7v1.1h-7zM86 276.5h6v1.1h-6zM87 280.5h7v1.1h-7zM44 285.5h7v1.1h-7zM44 288.5h8v1.1h-8zM58 288.5h7v1.1h-7zM87 288.5h9v1.1h-9zM51 290.5h6v1.1h-6zM86 290.5h7v1.1h-7zM44 292.5h10v1.1h-10zM68 293.5h8v1.1h-8zM82 296.5h3v1.1h-3zM78 297.5h7v1.1h-7zM43 298.5h4v1.1h-4zM85 303.5h6v1.1h-6zM45 314.5h8v1.1h-8zM83 319.5h10v1.1h-10zM62 320.5h5v1.1h-5zM93 320.5h3v1.1h-3zM73 322.5h8v1.1h-8zM88 322.5h7v1.1h-7zM91 323.5h5v1.1h-5zM93 324.5h2v1.1h-2zM78 325.5h8v1.1h-8zM85 335.5h10v1.1h-10zM47 335.5h3v1.1h-3zM73 335.5h3v1.1h-3zM59 339.5h8v1.1h-8zM86 339.5h8v1.1h-8zM69 344.5h5v1.1h-5zM65 348.5h4v1.1h-4zM74 351.5h10v1.1h-10zM72 355.5h8v1.1h-8zM78 356.5h4v1.1h-4zM83 359.5h5v1.1h-5zM93 362.5h3v1.1h-3zM67 363.5h3v1.1h-3zM76 367.5h8v1.1h-8zM43 370.5h3v1.1h-3zM71 370.5h10v1.1h-10zM75 379.5h4v1.1h-4zM55 379.5h5v1.1h-5zM65 382.5h9v1.1h-9zM88 382.5h8v1.1h-8zM68 383.5h2v1.1h-2zM49 392.5h2v1.1h-2zM69 393.5h7v1.1h-7zM88 393.5h5v1.1h-5zM45 395.5h7v1.1h-7zM71 406.5h3v1.1h-3zM86 409.5h6v1.1h-6zM75 414.5h2v1.1h-2zM48 415.5h5v1.1h-5zM43 419.5h8v1.1h-8zM93 420.5h3v1.1h-3zM74 427.5h5v1.1h-5zM47 427.5h4v1.1h-4zM58 432.5h6v1.1h-6zM80 442.5h3v1.1h-3zM90 443.5h6v1.1h-6zM85 444.5h2v1.1h-2zM53 447.5h2v1.1h-2zM46 447.5h5v1.1h-5zM41 451.5h9v0.5h-9zM80 453.9h4v1.1h-4zM135 278.5h4v1.1h-4zM138 279.5h8v1.1h-8zM144 279.5h7v1.1h-7zM126 281.5h8v1.1h-8zM153 282.5h9v1.1h-9zM127 282.5h2v1.1h-2zM130 286.5h5v1.1h-5zM139 287.5h8v1.1h-8zM169 287.5h7v1.1h-7zM132 288.5h8v1.1h-8zM140 291.5h6v1.1h-6zM154 292.5h4v1.1h-4zM173 293.5h3v1.1h-3zM157 294.5h3v1.1h-3zM135 294.5h6v1.1h-6zM154 298.5h2v1.1h-2zM149 301.5h5v1.1h-5zM164 302.5h7v1.1h-7zM147 306.5h8v1.1h-8zM164 309.5h5v1.1h-5zM130 311.5h10v1.1h-10zM145 313.5h7v1.1h-7zM123 315.5h7v1.1h-7zM121 316.5h4v1.1h-4zM120 317.5h8v1.1h-8zM148 318.5h7v1.1h-7zM165 320.5h8v1.1h-8zM132 328.5h5v1.1h-5zM121 333.5h9v1.1h-9zM153 334.5h8v1.1h-8zM142 334.5h5v1.1h-5zM161 334.5h7v1.1h-7zM150 336.5h5v1.1h-5zM145 338.5h9v1.1h-9zM128 340.5h2v1.1h-2zM119 342.5h7v1.1h-7zM169 347.5h5v1.1h-5zM139 352.5h8v1.1h-8zM147 356.5h6v1.1h-6zM160 360.5h9v1.1h-9zM144 365.5h8v1.1h-8zM159 367.5h8v1.1h-8zM123 378.5h9v1.1h-9zM118 380.5h6v1.1h-6zM130 380.5h6v1.1h-6zM117 382.5h6v1.1h-6zM139 382.5h9v1.1h-9zM168 386.5h8v1.1h-8zM129 390.5h3v1.1h-3zM123 392.5h6v1.1h-6zM155 394.5h6v1.1h-6zM166 395.5h7v1.1h-7zM156 395.5h4v1.1h-4zM147 398.5h6v1.1h-6zM129 400.5h4v1.1h-4zM126 402.5h6v1.1h-6zM160 404.5h3v1.1h-3zM135 404.5h8v1.1h-8zM145 405.5h10v1.1h-10zM162 406.5h10v1.1h-10zM154 407.5h6v1.1h-6zM151 413.5h5v1.1h-5zM137 415.5h2v1.1h-2zM123 416.5h3v1.1h-3zM134 418.5h5v1.1h-5zM161 419.5h9v1.1h-9zM123 420.5h6v1.1h-6zM169 420.5h7v1.1h-7zM123 420.5h7v1.1h-7zM154 423.5h5v1.1h-5zM115 423.5h9v1.1h-9zM154 428.5h7v1.1h-7zM173 431.5h2v1.1h-2zM144 433.5h8v1.1h-8zM152 434.5h6v1.1h-6zM171 439.5h5v1.1h-5zM123 442.5h9v1.1h-9zM131 446.5h6v1.1h-6zM162 446.5h2v1.1h-2zM158 449.5h2v0.2h-2zM172 449.6h4v1.1h-4zM150 450.6h4v1.1h-4zM131 456.6h3v1.1h-3zM168 457.6h5v1.1h-5zM160 458.6h3v1.1h-3zM152 458.6h7v1.1h-7zM170 461.6h4v1.1h-4zM167 463.6h7v0.3h-7zM241 284.5h2v1.1h-2zM237 299.5h4v1.1h-4zM228 299.5h8v1.1h-8zM201 303.5h5v1.1h-5zM203 306.5h6v1.1h-6zM235 307.5h9v1.1h-9zM234 311.5h6v1.1h-6zM204 316.5h5v1.1h-5zM222 317.5h2v1.1h-2zM226 319.5h5v1.1h-5zM204 320.5h5v1.1h-5zM226 321.5h8v1.1h-8zM234 321.5h3v1.1h-3zM247 322.5h8v1.1h-8zM216 322.5h4v1.1h-4zM206 324.5h2v1.1h-2zM195 325.5h8v1.1h-8zM235 325.5h4v1.1h-4zM200 326.5h2v1.1h-2zM223 327.5h6v1.1h-6zM228 333.5h9v1.1h-9zM212 334.5h8v1.1h-8zM202 337.5h5v1.1h-5zM216 338.5h2v1.1h-2zM244 339.5h7v1.1h-7zM241 339.5h8v1.1h-8zM228 342.5h3v1.1h-3zM214 343.5h4v1.1h-4zM229 344.5h5v1.1h-5zM246 345.5h6v1.1h-6zM207 345.5h3v1.1h-3zM248 346.5h4v1.1h-4zM241 348.5h10v1.1h-10zM235 351.5h10v1.1h-10zM231 352.5h5v1.1h-5zM232 356.5h6v1.1h-6zM223 360.5h5v1.1h-5zM223 364.5h7v1.1h-7zM205 365.5h7v1.1h-7zM248 370.5h7v1.1h-7zM224 371.5h10v1.1h-10zM195 376.5h6v1.1h-6zM197 376.5h9v1.1h-9zM214 384.5h5v1.1h-5zM226 388.5h9v1.1h-9zM240 389.5h7v1.1h-7zM197 393.5h5v1.1h-5zM218 397.5h5v1.1h-5zM229 399.5h7v1.1h-7zM195 408.5h5v1.1h-5zM244 410.5h2v1.1h-2zM227 412.5h5v1.1h-5zM206 415.5h9v1.1h-9zM207 415.5h9v1.1h-9zM200 418.5h2v1.1h-2zM216 426.5h3v1.1h-3zM245 426.5h8v1.1h-8zM233 431.5h6v1.1h-6zM236 432.5h10v1.1h-10zM250 433.5h4v1.1h-4zM199 436.5h2v1.1h-2zM243 439.5h4v1.1h-4zM249 443.5h6v1.1h-6zM217 443.5h7v1.1h-7zM243 448.2h6v1.1h-6zM225 451.2h3v1.1h-3zM217 454.2h5v1.1h-5zM237 454.2h8v1.1h-8zM202 457.2h4v1.1h-4zM206 461.2h2v1.1h-2zM305 283.5h6v1.1h-6zM275 288.5h5v1.1h-5zM301 289.5h5v1.1h-5zM277 290.5h10v1.1h-10zM329 301.5h2v1.1h-2zM319 301.5h5v1.1h-5zM283 306.5h5v1.1h-5zM315 307.5h8v1.1h-8zM320 308.5h2v1.1h-2zM298 311.5h3v1.1h-3zM289 313.5h6v1.1h-6zM285 314.5h10v1.1h-10zM302 319.5h2v1.1h-2zM327 320.5h6v1.1h-6zM307 320.5h6v1.1h-6zM284 323.5h8v1.1h-8zM320 323.5h3v1.1h-3zM320 324.5h4v1.1h-4zM315 325.5h10v1.1h-10zM313 325.5h4v1.1h-4zM291 326.5h9v1.1h-9zM331 327.5h4v1.1h-4zM307 330.5h6v1.1h-6zM282 335.5h7v1.1h-7zM293 337.5h7v1.1h-7zM277 339.5h3v1.1h-3zM311 339.5h8v1.1h-8zM292 347.5h7v1.1h-7zM309 349.5h9v1.1h-9zM276 358.5h5v1.1h-5zM303 359.5h9v1.1h-9zM288 366.5h2v1.1h-2zM323 366.5h6v1.1h-6zM283 371.5h8v1.1h-8zM288 371.5h9v1.1h-9zM274 373.5h2v1.1h-2zM287 373.5h9v1.1h-9zM328 376.5h4v1.1h-4zM324 378.5h2v1.1h-2zM320 379.5h8v1.1h-8zM312 382.5h4v1.1h-4zM310 385.5h7v1.1h-7zM332 387.5h3v1.1h-3zM296 394.5h6v1.1h-6zM332 394.5h3v1.1h-3zM328 395.5h5v1.1h-5zM274 396.5h3v1.1h-3zM302 397.5h3v1.1h-3zM276 399.5h8v1.1h-8zM303 403.5h4v1.1h-4zM331 407.5h4v1.1h-4zM325 410.5h10v1.1h-10zM329 411.5h6v1.1h-6zM321 412.5h4v1.1h-4zM303 416.5h8v1.1h-8zM295 424.5h9v1.1h-9zM324 425.5h7v1.1h-7zM310 425.5h7v1.1h-7zM314 425.5h9v1.1h-9zM295 426.5h8v1.1h-8zM284 426.5h9v1.1h-9zM304 427.5h10v1.1h-10zM332 434.5h3v1.1h-3zM321 436.5h10v1.1h-10zM282 440.5h2v1.1h-2zM325 440.5h6v1.1h-6zM307 442.5h10v1.1h-10zM287 445.5h4v0.8h-4zM293 445.5h4v0.8h-4zM306 451.2h2v1.1h-2zM275 455.2h7v1.1h-7zM314 455.2h5v1.1h-5zM313 456.2h4v1.1h-4zM292 462.2h7v1.1h-7z"/>
<path fill="#cde0f1" d="M43 275.5h9v1.1h-9zM51 280.5h4v1.1h-4zM81 281.5h7v1.1h-7zM43 287.5h8v1.1h-8zM83 290.5h7v1.1h-7zM54 291.5h5v1.1h-5zM90 294.5h5v1.1h-5zM59 295.5h9v1.1h-9zM53 300.5h6v1.1h-6zM39 303.5h5v1.1h-5zM79 304.5h9v1.1h-9zM42 305.5h2v1.1h-2zM90 308.5h2v1.1h-2zM80 308.5h6v1.1h-6zM58 314.5h2v1.1h-2zM66 318.5h4v1.1h-4zM65 328.5h2v1.1h-2zM36 328.5h9v1.1h-9zM77 329.5h6v1.1h-6zM52 329.5h2v1.1h-2zM90 333.5h6v1.1h-6zM39 340.5h5v1.1h-5zM70 342.5h7v1.1h-7zM89 345.5h3v1.1h-3zM84 347.5h7v1.1h-7zM94 351.5h2v1.1h-2zM36 353.5h2v1.1h-2zM70 357.5h10v1.1h-10zM43 365.5h7v1.1h-7zM45 368.5h9v1.1h-9zM78 368.5h7v1.1h-7zM36 373.5h5v1.1h-5zM41 377.5h8v1.1h-8zM37 383.5h8v1.1h-8zM37 386.5h6v1.1h-6zM70 386.5h9v1.1h-9zM68 388.5h5v1.1h-5zM89 388.5h7v1.1h-7zM59 388.5h7v1.1h-7zM92 396.5h4v1.1h-4zM41 401.5h9v1.1h-9zM71 406.5h3v1.1h-3zM89 415.5h7v1.1h-7zM87 416.5h5v1.1h-5zM53 419.5h8v1.1h-8zM84 421.5h9v1.1h-9zM80 427.5h5v1.1h-5zM64 431.5h8v1.1h-8zM69 432.5h5v1.1h-5zM75 432.5h7v1.1h-7zM44 437.5h7v1.1h-7zM49 438.5h7v1.1h-7zM38 438.5h10v1.1h-10zM42 439.5h5v1.1h-5zM64 443.5h5v1.1h-5zM55 451.5h6v0.5h-6zM68 453.9h8v1.1h-8zM57 461.9h6v1.1h-6zM39 462.9h6v1h-6zM92 462.9h3v1h-3zM166 275.5h4v1.1h-4zM118 275.5h6v1.1h-6zM122 280.5h3v1.1h-3zM170 283.5h4v1.1h-4zM122 283.5h9v1.1h-9zM133 298.5h6v1.1h-6zM154 313.5h6v1.1h-6zM158 316.5h8v1.1h-8zM138 326.5h4v1.1h-4zM125 331.5h5v1.1h-5zM170 331.5h5v1.1h-5zM168 335.5h6v1.1h-6zM115 342.5h3v1.1h-3zM167 348.5h2v1.1h-2zM128 354.5h9v1.1h-9zM140 359.5h2v1.1h-2zM128 364.5h5v1.1h-5zM128 367.5h4v1.1h-4zM137 367.5h9v1.1h-9zM163 368.5h9v1.1h-9zM124 369.5h6v1.1h-6zM166 372.5h6v1.1h-6zM139 374.5h9v1.1h-9zM135 375.5h8v1.1h-8zM120 377.5h8v1.1h-8zM128 377.5h7v1.1h-7zM165 391.5h7v1.1h-7zM130 392.5h8v1.1h-8zM130 394.5h4v1.1h-4zM133 408.5h4v1.1h-4zM116 413.5h5v1.1h-5zM162 414.5h6v1.1h-6zM126 415.5h7v1.1h-7zM165 417.5h4v1.1h-4zM159 421.5h6v1.1h-6zM166 430.5h8v1.1h-8zM171 430.5h5v1.1h-5zM126 434.5h6v1.1h-6zM168 435.5h6v1.1h-6zM152 436.5h9v1.1h-9zM122 438.5h3v1.1h-3zM143 438.5h8v1.1h-8zM150 443.5h2v1.1h-2zM116 450.6h9v1.1h-9zM131 450.6h5v1.1h-5zM157 453.6h8v1.1h-8zM139 456.6h9v1.1h-9zM152 459.6h6v1.1h-6zM139 459.6h5v1.1h-5zM132 462.6h4v1.1h-4zM208 282.5h7v1.1h-7zM221 283.5h6v1.1h-6zM225 284.5h8v1.1h-8zM207 294.5h5v1.1h-5zM236 295.5h6v1.1h-6zM208 296.5h8v1.1h-8zM237 296.5h6v1.1h-6zM205 298.5h9v1.1h-9zM219 299.5h6v1.1h-6zM233 301.5h6v1.1h-6zM230 305.5h5v1.1h-5zM197 308.5h2v1.1h-2zM206 309.5h7v1.1h-7zM214 317.5h7v1.1h-7zM196 326.5h6v1.1h-6zM221 330.5h3v1.1h-3zM205 340.5h3v1.1h-3zM223 343.5h8v1.1h-8zM225 345.5h6v1.1h-6zM248 349.5h7v1.1h-7zM246 353.5h8v1.1h-8zM203 354.5h7v1.1h-7zM242 355.5h3v1.1h-3zM210 356.5h7v1.1h-7zM241 356.5h6v1.1h-6zM205 356.5h2v1.1h-2zM241 358.5h3v1.1h-3zM244 359.5h5v1.1h-5zM205 360.5h7v1.1h-7zM249 362.5h5v1.1h-5zM225 363.5h6v1.1h-6zM212 364.5h9v1.1h-9zM208 365.5h7v1.1h-7zM203 374.5h6v1.1h-6zM245 374.5h8v1.1h-8zM246 385.5h8v1.1h-8zM233 386.5h5v1.1h-5zM204 388.5h4v1.1h-4zM201 390.5h3v1.1h-3zM229 395.5h2v1.1h-2zM223 396.5h5v1.1h-5zM203 404.5h3v1.1h-3zM234 405.5h2v1.1h-2zM222 411.5h3v1.1h-3zM234 413.5h8v1.1h-8zM250 414.5h3v1.1h-3zM210 415.5h6v1.1h-6zM201 416.5h6v1.1h-6zM205 421.5h4v1.1h-4zM236 424.5h5v1.1h-5zM198 425.5h9v1.1h-9zM248 427.5h6v1.1h-6zM223 427.5h6v1.1h-6zM226 430.5h6v1.1h-6zM242 434.5h9v1.1h-9zM205 435.5h5v1.1h-5zM223 436.5h7v1.1h-7zM233 437.5h3v1.1h-3zM251 442.5h3v1.1h-3zM224 448.2h5v1.1h-5zM229 449.2h9v1.1h-9zM244 450.2h3v1.1h-3zM249 451.2h6v1.1h-6zM203 452.2h3v1.1h-3zM244 454.2h10v1.1h-10zM238 454.2h6v1.1h-6zM206 459.2h7v1.1h-7zM246 462.2h7v1.1h-7zM323 279.5h8v1.1h-8zM312 280.5h3v1.1h-3zM308 283.5h7v1.1h-7zM316 284.5h5v1.1h-5zM301 285.5h3v1.1h-3zM303 285.5h10v1.1h-10zM308 286.5h9v1.1h-9zM318 290.5h9v1.1h-9zM300 291.5h10v1.1h-10zM317 297.5h3v1.1h-3zM297 302.5h7v1.1h-7zM301 303.5h10v1.1h-10zM315 304.5h7v1.1h-7zM291 308.5h5v1.1h-5zM303 309.5h9v1.1h-9zM330 311.5h5v1.1h-5zM304 317.5h3v1.1h-3zM290 318.5h4v1.1h-4zM326 319.5h6v1.1h-6zM325 323.5h6v1.1h-6zM301 324.5h4v1.1h-4zM317 331.5h9v1.1h-9zM293 332.5h9v1.1h-9zM291 334.5h9v1.1h-9zM317 334.5h7v1.1h-7zM297 335.5h5v1.1h-5zM301 336.5h7v1.1h-7zM276 336.5h8v1.1h-8zM327 338.5h8v1.1h-8zM309 342.5h6v1.1h-6zM306 343.5h9v1.1h-9zM313 343.5h8v1.1h-8zM279 343.5h4v1.1h-4zM312 347.5h5v1.1h-5zM285 348.5h8v1.1h-8zM300 357.5h6v1.1h-6zM311 360.5h6v1.1h-6zM282 364.5h2v1.1h-2zM302 367.5h4v1.1h-4zM302 368.5h8v1.1h-8zM322 373.5h5v1.1h-5zM315 374.5h2v1.1h-2zM322 375.5h9v1.1h-9zM298 375.5h10v1.1h-10zM284 380.5h8v1.1h-8zM316 383.5h7v1.1h-7zM319 387.5h8v1.1h-8zM331 387.5h4v1.1h-4zM289 388.5h7v1.1h-7zM285 392.5h6v1.1h-6zM299 394.5h9v1.1h-9zM285 395.5h6v1.1h-6zM329 395.5h6v1.1h-6zM296 399.5h2v1.1h-2zM324 400.5h8v1.1h-8zM297 407.5h8v1.1h-8zM291 409.5h10v1.1h-10zM306 416.5h4v1.1h-4zM329 416.5h4v1.1h-4zM317 418.5h3v1.1h-3zM276 419.5h3v1.1h-3zM301 419.5h3v1.1h-3zM304 422.5h3v1.1h-3zM326 427.5h5v1.1h-5zM275 434.5h9v1.1h-9zM283 441.5h9v1.1h-9zM303 441.5h8v1.1h-8zM328 442.5h7v1.1h-7zM289 457.2h3v1.1h-3zM288 458.2h5v1.1h-5zM324 459.2h5v1.1h-5zM324 460.2h5v1.1h-5zM305 461.2h7v1.1h-7z"/>
<path fill="#cbdef1" d="M47 281.5h9v1.1h-9zM62 282.5h6v1.1h-6zM59 285.5h6v1.1h-6zM66 287.5h6v1.1h-6zM67 288.5h10v1.1h-10zM51 289.5h4v1.1h-4zM82 289.5h2v1.1h-2zM84 300.5h8v1.1h-8zM90 303.5h6v1.1h-6zM61 304.5h8v1.1h-8zM62 305.5h7v1.1h-7zM52 305.5h4v1.1h-4zM87 310.5h9v1.1h-9zM72 316.5h7v1.1h-7zM80 316.5h9v1.1h-9zM54 333.5h10v1.1h-10zM93 337.5h3v1.1h-3zM80 340.5h7v1.1h-7zM65 341.5h4v1.1h-4zM38 342.5h3v1.1h-3zM51 348.5h9v1.1h-9zM80 355.5h6v1.1h-6zM88 356.5h3v1.1h-3zM56 358.5h8v1.1h-8zM44 369.5h10v1.1h-10zM88 371.5h3v1.1h-3zM43 380.5h3v1.1h-3zM53 382.5h8v1.1h-8zM89 385.5h3v1.1h-3zM67 390.5h4v1.1h-4zM65 393.5h8v1.1h-8zM83 396.5h4v1.1h-4zM69 403.5h7v1.1h-7zM75 410.5h8v1.1h-8zM49 416.5h7v1.1h-7zM58 418.5h8v1.1h-8zM56 422.5h5v1.1h-5zM40 427.5h10v1.1h-10zM43 433.5h4v1.1h-4zM72 437.5h6v1.1h-6zM65 441.5h7v1.1h-7zM81 451.9h5v1.1h-5zM35 456.9h10v1.1h-10zM81 461.9h9v1.1h-9zM126 275.5h5v1.1h-5zM166 284.5h8v1.1h-8zM160 288.5h5v1.1h-5zM170 290.5h6v1.1h-6zM164 292.5h6v1.1h-6zM130 296.5h3v1.1h-3zM153 296.5h8v1.1h-8zM117 297.5h6v1.1h-6zM158 299.5h9v1.1h-9zM142 307.5h8v1.1h-8zM167 309.5h9v1.1h-9zM169 315.5h7v1.1h-7zM135 317.5h8v1.1h-8zM163 321.5h8v1.1h-8zM161 323.5h10v1.1h-10zM136 329.5h9v1.1h-9zM115 335.5h5v1.1h-5zM140 336.5h3v1.1h-3zM151 341.5h3v1.1h-3zM161 345.5h5v1.1h-5zM117 346.5h8v1.1h-8zM119 348.5h8v1.1h-8zM156 349.5h3v1.1h-3zM154 354.5h5v1.1h-5zM148 355.5h4v1.1h-4zM124 357.5h3v1.1h-3zM131 357.5h3v1.1h-3zM172 359.5h3v1.1h-3zM163 369.5h4v1.1h-4zM129 372.5h4v1.1h-4zM125 374.5h7v1.1h-7zM157 378.5h9v1.1h-9zM139 378.5h3v1.1h-3zM118 379.5h6v1.1h-6zM164 384.5h4v1.1h-4zM145 391.5h3v1.1h-3zM142 398.5h5v1.1h-5zM143 400.5h7v1.1h-7zM150 407.5h2v1.1h-2zM140 410.5h4v1.1h-4zM127 413.5h3v1.1h-3zM144 416.5h9v1.1h-9zM149 419.5h3v1.1h-3zM138 421.5h3v1.1h-3zM117 421.5h7v1.1h-7zM156 427.5h7v1.1h-7zM154 436.5h2v1.1h-2zM150 436.5h4v1.1h-4zM168 440.5h4v1.1h-4zM128 442.5h9v1.1h-9zM148 442.5h9v1.1h-9zM149 449.6h6v1.1h-6zM172 455.6h4v1.1h-4zM144 461.6h5v1.1h-5zM157 461.6h8v1.1h-8zM169 463.6h4v0.3h-4zM243 275.5h10v1.1h-10zM251 285.5h4v1.1h-4zM245 285.5h4v1.1h-4zM241 287.5h5v1.1h-5zM219 289.5h7v1.1h-7zM241 298.5h2v1.1h-2zM210 301.5h7v1.1h-7zM223 304.5h2v1.1h-2zM204 305.5h10v1.1h-10zM225 309.5h4v1.1h-4zM216 313.5h6v1.1h-6zM227 315.5h7v1.1h-7zM247 319.5h2v1.1h-2zM214 321.5h6v1.1h-6zM229 321.5h4v1.1h-4zM233 324.5h3v1.1h-3zM213 325.5h3v1.1h-3zM208 330.5h5v1.1h-5zM199 337.5h3v1.1h-3zM205 339.5h2v1.1h-2zM201 339.5h4v1.1h-4zM218 340.5h7v1.1h-7zM247 341.5h5v1.1h-5zM218 345.5h5v1.1h-5zM225 346.5h5v1.1h-5zM227 346.5h8v1.1h-8zM225 352.5h7v1.1h-7zM212 353.5h4v1.1h-4zM195 355.5h6v1.1h-6zM219 357.5h8v1.1h-8zM208 367.5h10v1.1h-10zM252 370.5h3v1.1h-3zM208 373.5h6v1.1h-6zM198 377.5h9v1.1h-9zM208 385.5h5v1.1h-5zM248 385.5h7v1.1h-7zM234 387.5h6v1.1h-6zM226 389.5h2v1.1h-2zM228 391.5h3v1.1h-3zM196 391.5h5v1.1h-5zM208 391.5h8v1.1h-8zM197 395.5h6v1.1h-6zM204 396.5h6v1.1h-6zM218 396.5h2v1.1h-2zM238 397.5h5v1.1h-5zM230 399.5h3v1.1h-3zM236 399.5h6v1.1h-6zM200 402.5h7v1.1h-7zM241 411.5h9v1.1h-9zM248 413.5h7v1.1h-7zM209 419.5h2v1.1h-2zM196 427.5h9v1.1h-9zM215 429.5h8v1.1h-8zM233 430.5h7v1.1h-7zM246 435.5h9v1.1h-9zM241 436.5h4v1.1h-4zM240 439.5h5v1.1h-5zM239 442.5h3v1.1h-3zM199 442.5h9v1.1h-9zM221 442.5h7v1.1h-7zM229 444.5h5v1.1h-5zM225 445.5h9v1.1h-9zM240 446.5h6v1.1h-6zM237 448.2h8v1.1h-8zM212 452.2h5v1.1h-5zM205 456.2h10v1.1h-10zM222 459.2h8v1.1h-8zM231 462.2h3v1.1h-3zM195 463.2h5v0.7h-5zM327 278.5h7v1.1h-7zM311 283.5h3v1.1h-3zM306 290.5h8v1.1h-8zM302 294.5h4v1.1h-4zM299 296.5h8v1.1h-8zM298 298.5h8v1.1h-8zM330 298.5h4v1.1h-4zM282 304.5h3v1.1h-3zM316 307.5h6v1.1h-6zM315 309.5h9v1.1h-9zM310 314.5h4v1.1h-4zM289 315.5h2v1.1h-2zM278 323.5h5v1.1h-5zM308 332.5h7v1.1h-7zM313 335.5h4v1.1h-4zM306 338.5h2v1.1h-2zM279 339.5h3v1.1h-3zM287 340.5h4v1.1h-4zM302 351.5h2v1.1h-2zM311 352.5h2v1.1h-2zM299 352.5h2v1.1h-2zM308 362.5h8v1.1h-8zM314 373.5h5v1.1h-5zM328 390.5h6v1.1h-6zM286 393.5h6v1.1h-6zM284 397.5h4v1.1h-4zM289 397.5h4v1.1h-4zM305 399.5h5v1.1h-5zM277 406.5h8v1.1h-8zM299 412.5h6v1.1h-6zM318 412.5h9v1.1h-9zM276 416.5h8v1.1h-8zM280 420.5h2v1.1h-2zM314 424.5h9v1.1h-9zM285 431.5h3v1.1h-3zM314 434.5h6v1.1h-6zM292 442.5h7v1.1h-7zM320 443.5h2v1.1h-2zM316 453.2h6v1.1h-6zM318 456.2h8v1.1h-8zM295 457.2h9v1.1h-9z"/>
<path fill="#c8ddf0" d="M69 278.5h8v1.1h-8zM72 284.5h10v1.1h-10zM60 286.5h7v1.1h-7zM86 287.5h5v1.1h-5zM85 290.5h8v1.1h-8zM63 290.5h10v1.1h-10zM44 291.5h9v1.1h-9zM89 294.5h7v1.1h-7zM56 298.5h9v1.1h-9zM35 333.5h5v1.1h-5zM42 334.5h9v1.1h-9zM75 338.5h6v1.1h-6zM81 346.5h3v1.1h-3zM56 367.5h6v1.1h-6zM86 376.5h10v1.1h-10zM40 388.5h4v1.1h-4zM66 391.5h4v1.1h-4zM58 394.5h9v1.1h-9zM67 405.5h9v1.1h-9zM77 414.5h3v1.1h-3zM68 418.5h7v1.1h-7zM53 422.5h4v1.1h-4zM59 427.5h6v1.1h-6zM55 436.5h3v1.1h-3zM49 447.5h3v1.1h-3zM58 451.5h8v0.5h-8zM152 275.5h8v1.1h-8zM166 276.5h6v1.1h-6zM134 279.5h3v1.1h-3zM167 281.5h8v1.1h-8zM137 286.5h7v1.1h-7zM118 288.5h7v1.1h-7zM128 289.5h9v1.1h-9zM141 297.5h6v1.1h-6zM125 299.5h5v1.1h-5zM145 302.5h7v1.1h-7zM161 310.5h4v1.1h-4zM159 310.5h9v1.1h-9zM158 315.5h5v1.1h-5zM173 318.5h3v1.1h-3zM128 319.5h5v1.1h-5zM147 320.5h9v1.1h-9zM147 320.5h6v1.1h-6zM165 323.5h5v1.1h-5zM130 325.5h3v1.1h-3zM145 332.5h2v1.1h-2zM140 333.5h2v1.1h-2zM119 333.5h9v1.1h-9zM140 333.5h7v1.1h-7zM166 335.5h3v1.1h-3zM156 335.5h8v1.1h-8zM121 336.5h7v1.1h-7zM146 352.5h10v1.1h-10zM158 355.5h3v1.1h-3zM164 360.5h8v1.1h-8zM165 368.5h9v1.1h-9zM127 369.5h6v1.1h-6zM120 375.5h2v1.1h-2zM152 380.5h6v1.1h-6zM155 382.5h4v1.1h-4zM124 383.5h5v1.1h-5zM141 384.5h5v1.1h-5zM159 392.5h4v1.1h-4zM129 398.5h8v1.1h-8zM172 404.5h4v1.1h-4zM143 410.5h3v1.1h-3zM158 421.5h4v1.1h-4zM171 421.5h5v1.1h-5zM126 424.5h7v1.1h-7zM141 437.5h6v1.1h-6zM169 442.5h4v1.1h-4zM147 442.5h8v1.1h-8zM136 445.5h2v1.1h-2zM126 447.5h3v1.1h-3zM116 449.6h4v1.1h-4zM158 449.6h9v1.1h-9zM130 463.6h7v0.3h-7zM200 275.5h7v1.1h-7zM215 284.5h6v1.1h-6zM227 284.5h5v1.1h-5zM233 287.5h6v1.1h-6zM228 288.5h8v1.1h-8zM210 289.5h8v1.1h-8zM245 289.5h5v1.1h-5zM209 290.5h4v1.1h-4zM240 290.5h9v1.1h-9zM208 292.5h4v1.1h-4zM237 298.5h10v1.1h-10zM245 299.5h8v1.1h-8zM227 300.5h8v1.1h-8zM229 303.5h2v1.1h-2zM217 305.5h3v1.1h-3zM239 308.5h7v1.1h-7zM207 313.5h9v1.1h-9zM248 313.5h7v1.1h-7zM208 314.5h7v1.1h-7zM197 314.5h6v1.1h-6zM214 318.5h8v1.1h-8zM206 325.5h5v1.1h-5zM241 328.5h9v1.1h-9zM204 328.5h10v1.1h-10zM250 334.5h3v1.1h-3zM224 338.5h9v1.1h-9zM229 340.5h9v1.1h-9zM226 349.5h6v1.1h-6zM234 350.5h6v1.1h-6zM234 350.5h9v1.1h-9zM227 350.5h5v1.1h-5zM238 351.5h4v1.1h-4zM243 352.5h6v1.1h-6zM221 362.5h3v1.1h-3zM230 362.5h5v1.1h-5zM230 365.5h3v1.1h-3zM215 366.5h9v1.1h-9zM251 366.5h3v1.1h-3zM242 374.5h7v1.1h-7zM228 376.5h4v1.1h-4zM236 376.5h4v1.1h-4zM235 377.5h7v1.1h-7zM207 378.5h7v1.1h-7zM244 381.5h6v1.1h-6zM233 382.5h8v1.1h-8zM230 383.5h9v1.1h-9zM245 386.5h6v1.1h-6zM196 388.5h10v1.1h-10zM222 388.5h9v1.1h-9zM251 389.5h3v1.1h-3zM213 394.5h6v1.1h-6zM204 395.5h5v1.1h-5zM245 395.5h9v1.1h-9zM216 396.5h4v1.1h-4zM247 401.5h4v1.1h-4zM206 404.5h2v1.1h-2zM196 410.5h3v1.1h-3zM213 410.5h5v1.1h-5zM209 414.5h9v1.1h-9zM224 418.5h3v1.1h-3zM245 420.5h9v1.1h-9zM248 422.5h6v1.1h-6zM195 424.5h3v1.1h-3zM203 429.5h10v1.1h-10zM247 430.5h2v1.1h-2zM249 430.5h6v1.1h-6zM206 437.5h3v1.1h-3zM232 437.5h7v1.1h-7zM241 443.5h10v1.1h-10zM204 444.5h8v1.1h-8zM252 445.5h3v1.1h-3zM201 450.2h10v1.1h-10zM198 453.2h6v1.1h-6zM239 455.2h8v1.1h-8zM216 456.2h9v1.1h-9zM225 457.2h9v1.1h-9zM237 460.2h4v1.1h-4zM283 277.5h8v1.1h-8zM311 278.5h2v1.1h-2zM286 281.5h9v1.1h-9zM293 281.5h5v1.1h-5zM275 291.5h10v1.1h-10zM308 291.5h4v1.1h-4zM283 292.5h3v1.1h-3zM283 295.5h7v1.1h-7zM286 299.5h2v1.1h-2zM316 303.5h9v1.1h-9zM305 304.5h9v1.1h-9zM328 306.5h7v1.1h-7zM314 307.5h7v1.1h-7zM317 309.5h5v1.1h-5zM283 309.5h4v1.1h-4zM325 320.5h10v1.1h-10zM329 333.5h6v1.1h-6zM329 338.5h6v1.1h-6zM294 339.5h6v1.1h-6zM322 340.5h10v1.1h-10zM314 342.5h2v1.1h-2zM280 350.5h3v1.1h-3zM318 353.5h8v1.1h-8zM311 353.5h4v1.1h-4zM299 353.5h3v1.1h-3zM325 354.5h9v1.1h-9zM288 356.5h5v1.1h-5zM289 364.5h6v1.1h-6zM298 368.5h3v1.1h-3zM299 369.5h9v1.1h-9zM311 370.5h6v1.1h-6zM297 370.5h4v1.1h-4zM277 371.5h9v1.1h-9zM325 379.5h4v1.1h-4zM318 380.5h7v1.1h-7zM283 391.5h8v1.1h-8zM313 393.5h8v1.1h-8zM292 397.5h7v1.1h-7zM291 398.5h3v1.1h-3zM314 399.5h9v1.1h-9zM319 408.5h5v1.1h-5zM300 410.5h5v1.1h-5zM320 410.5h9v1.1h-9zM283 415.5h8v1.1h-8zM320 418.5h6v1.1h-6zM327 421.5h5v1.1h-5zM301 423.5h8v1.1h-8zM299 427.5h9v1.1h-9zM328 428.5h7v1.1h-7zM322 428.5h9v1.1h-9zM280 435.5h7v1.1h-7zM326 438.5h7v1.1h-7zM323 443.5h10v1.1h-10zM306 444.5h3v1.1h-3zM288 457.2h8v1.1h-8zM298 463.2h4v0.7h-4z"/>
<path fill="#c6dbef" d="M68 277.5h6v1.1h-6zM67 289.5h10v1.1h-10zM79 291.5h7v1.1h-7zM42 292.5h9v1.1h-9zM63 296.5h2v1.1h-2zM70 303.5h8v1.1h-8zM51 318.5h2v1.1h-2zM42 327.5h6v1.1h-6zM77 334.5h4v1.1h-4zM42 338.5h2v1.1h-2zM86 343.5h4v1.1h-4zM81 360.5h2v1.1h-2zM55 362.5h10v1.1h-10zM73 363.5h7v1.1h-7zM35 367.5h9v1.1h-9zM66 373.5h3v1.1h-3zM62 373.5h9v1.1h-9zM49 376.5h6v1.1h-6zM44 383.5h3v1.1h-3zM67 384.5h8v1.1h-8zM40 400.5h3v1.1h-3zM62 430.5h7v1.1h-7zM61 439.5h3v1.1h-3zM55 439.5h9v1.1h-9zM41 447.5h4v1.1h-4zM78 447.5h9v1.1h-9zM85 448.5h8v1.1h-8zM61 453.9h2v1.1h-2zM46 461.9h3v1.1h-3zM148 283.5h6v1.1h-6zM157 289.5h10v1.1h-10zM116 291.5h5v1.1h-5zM151 292.5h9v1.1h-9zM172 320.5h4v1.1h-4zM127 322.5h8v1.1h-8zM117 328.5h4v1.1h-4zM167 332.5h5v1.1h-5zM124 340.5h3v1.1h-3zM146 357.5h9v1.1h-9zM161 361.5h5v1.1h-5zM124 368.5h3v1.1h-3zM169 372.5h7v1.1h-7zM167 374.5h2v1.1h-2zM134 383.5h7v1.1h-7zM152 408.5h4v1.1h-4zM134 410.5h7v1.1h-7zM157 423.5h8v1.1h-8zM159 443.5h9v1.1h-9zM153 448.5h6v1.1h-6zM173 453.6h3v1.1h-3zM132 461.6h4v1.1h-4zM246 275.5h6v1.1h-6zM249 280.5h6v1.1h-6zM200 282.5h4v1.1h-4zM225 282.5h4v1.1h-4zM222 292.5h5v1.1h-5zM229 293.5h9v1.1h-9zM216 296.5h6v1.1h-6zM225 297.5h7v1.1h-7zM240 298.5h4v1.1h-4zM203 301.5h5v1.1h-5zM230 302.5h8v1.1h-8zM234 305.5h6v1.1h-6zM231 310.5h9v1.1h-9zM223 314.5h8v1.1h-8zM228 317.5h3v1.1h-3zM237 319.5h7v1.1h-7zM247 325.5h8v1.1h-8zM213 332.5h3v1.1h-3zM200 333.5h3v1.1h-3zM235 333.5h7v1.1h-7zM210 336.5h6v1.1h-6zM232 338.5h3v1.1h-3zM214 340.5h9v1.1h-9zM219 343.5h8v1.1h-8zM218 344.5h10v1.1h-10zM244 358.5h6v1.1h-6zM212 367.5h2v1.1h-2zM229 369.5h6v1.1h-6zM213 376.5h8v1.1h-8zM223 379.5h3v1.1h-3zM229 380.5h8v1.1h-8zM233 382.5h2v1.1h-2zM225 384.5h8v1.1h-8zM219 391.5h7v1.1h-7zM234 394.5h4v1.1h-4zM196 398.5h3v1.1h-3zM237 400.5h6v1.1h-6zM247 400.5h6v1.1h-6zM210 402.5h7v1.1h-7zM220 404.5h7v1.1h-7zM214 407.5h8v1.1h-8zM251 410.5h4v1.1h-4zM212 411.5h9v1.1h-9zM232 417.5h6v1.1h-6zM246 420.5h8v1.1h-8zM234 428.5h8v1.1h-8zM232 429.5h4v1.1h-4zM219 430.5h3v1.1h-3zM223 431.5h9v1.1h-9zM210 445.5h7v1.1h-7zM214 446.5h4v1.1h-4zM211 447.5h5v0.8h-5zM224 447.5h9v0.8h-9zM233 449.2h6v1.1h-6zM194 451.2h9v1.1h-9zM225 451.2h5v1.1h-5zM242 452.2h2v1.1h-2zM225 460.2h9v1.1h-9zM196 462.2h10v1.1h-10zM236 462.2h5v1.1h-5zM302 276.5h3v1.1h-3zM279 281.5h3v1.1h-3zM304 282.5h9v1.1h-9zM313 288.5h5v1.1h-5zM324 292.5h4v1.1h-4zM297 293.5h2v1.1h-2zM318 298.5h4v1.1h-4zM314 298.5h2v1.1h-2zM327 298.5h4v1.1h-4zM291 303.5h2v1.1h-2zM290 311.5h3v1.1h-3zM320 319.5h5v1.1h-5zM312 322.5h5v1.1h-5zM332 324.5h3v1.1h-3zM297 327.5h6v1.1h-6zM280 353.5h3v1.1h-3zM303 356.5h6v1.1h-6zM321 359.5h5v1.1h-5zM308 385.5h7v1.1h-7zM286 388.5h4v1.1h-4zM282 390.5h4v1.1h-4zM275 390.5h4v1.1h-4zM287 392.5h3v1.1h-3zM307 398.5h5v1.1h-5zM291 398.5h8v1.1h-8zM295 399.5h10v1.1h-10zM319 404.5h7v1.1h-7zM314 408.5h9v1.1h-9zM326 412.5h6v1.1h-6zM294 420.5h2v1.1h-2zM314 427.5h3v1.1h-3zM290 434.5h3v1.1h-3zM332 434.5h3v1.1h-3zM322 440.5h9v1.1h-9zM293 443.5h7v1.1h-7zM283 445.5h3v0.8h-3zM276 452.2h3v1.1h-3zM301 457.2h3v1.1h-3zM327 458.2h8v1.1h-8z"/>
<path fill="#c2d9ee" d="M76 276.5h5v1.1h-5zM93 278.5h3v1.1h-3zM82 279.5h3v1.1h-3zM54 280.5h4v1.1h-4zM36 280.5h4v1.1h-4zM43 282.5h2v1.1h-2zM61 283.5h2v1.1h-2zM52 291.5h3v1.1h-3zM77 295.5h9v1.1h-9zM65 295.5h3v1.1h-3zM76 300.5h9v1.1h-9zM64 308.5h4v1.1h-4zM58 308.5h3v1.1h-3zM75 316.5h8v1.1h-8zM49 327.5h3v1.1h-3zM58 334.5h9v1.1h-9zM57 337.5h6v1.1h-6zM42 343.5h6v1.1h-6zM55 346.5h2v1.1h-2zM39 348.5h9v1.1h-9zM64 348.5h9v1.1h-9zM92 360.5h4v1.1h-4zM37 360.5h5v1.1h-5zM90 384.5h6v1.1h-6zM56 391.5h4v1.1h-4zM87 408.5h6v1.1h-6zM51 411.5h8v1.1h-8zM67 432.5h8v1.1h-8zM42 442.5h5v1.1h-5zM67 448.5h3v1.1h-3zM37 448.5h3v1.1h-3zM64 453.9h9v1.1h-9zM139 279.5h4v1.1h-4zM166 280.5h7v1.1h-7zM132 280.5h7v1.1h-7zM156 286.5h5v1.1h-5zM146 293.5h9v1.1h-9zM138 295.5h6v1.1h-6zM140 323.5h9v1.1h-9zM131 332.5h9v1.1h-9zM167 361.5h5v1.1h-5zM148 375.5h2v1.1h-2zM115 385.5h5v1.1h-5zM131 386.5h3v1.1h-3zM171 445.5h4v1.1h-4zM157 449.5h4v0.2h-4zM119 450.6h7v1.1h-7zM124 461.6h9v1.1h-9zM218 275.5h6v1.1h-6zM196 276.5h10v1.1h-10zM219 279.5h10v1.1h-10zM222 280.5h10v1.1h-10zM242 288.5h10v1.1h-10zM217 290.5h4v1.1h-4zM233 292.5h5v1.1h-5zM244 302.5h2v1.1h-2zM210 302.5h3v1.1h-3zM217 306.5h4v1.1h-4zM240 311.5h6v1.1h-6zM242 312.5h7v1.1h-7zM202 313.5h8v1.1h-8zM220 315.5h9v1.1h-9zM222 319.5h2v1.1h-2zM233 321.5h6v1.1h-6zM220 323.5h7v1.1h-7zM207 328.5h6v1.1h-6zM197 332.5h4v1.1h-4zM240 333.5h6v1.1h-6zM234 335.5h7v1.1h-7zM205 338.5h2v1.1h-2zM245 339.5h8v1.1h-8zM213 345.5h3v1.1h-3zM208 349.5h4v1.1h-4zM216 351.5h3v1.1h-3zM237 354.5h8v1.1h-8zM198 358.5h3v1.1h-3zM252 361.5h3v1.1h-3zM214 363.5h9v1.1h-9zM219 363.5h4v1.1h-4zM250 364.5h5v1.1h-5zM206 370.5h9v1.1h-9zM207 373.5h3v1.1h-3zM227 374.5h5v1.1h-5zM240 374.5h10v1.1h-10zM226 377.5h4v1.1h-4zM204 380.5h8v1.1h-8zM199 385.5h7v1.1h-7zM200 388.5h7v1.1h-7zM250 393.5h4v1.1h-4zM229 398.5h5v1.1h-5zM207 400.5h3v1.1h-3zM245 400.5h5v1.1h-5zM209 411.5h6v1.1h-6zM208 414.5h9v1.1h-9zM201 417.5h5v1.1h-5zM197 424.5h5v1.1h-5zM207 428.5h9v1.1h-9zM196 428.5h2v1.1h-2zM237 433.5h5v1.1h-5zM234 434.5h9v1.1h-9zM206 436.5h2v1.1h-2zM231 437.5h9v1.1h-9zM232 443.5h3v1.1h-3zM220 445.5h6v1.1h-6zM201 447.5h6v0.8h-6zM201 460.2h5v1.1h-5zM249 461.2h6v1.1h-6zM245 463.2h2v0.7h-2zM285 275.5h4v1.1h-4zM332 276.5h3v1.1h-3zM328 278.5h7v1.1h-7zM311 290.5h9v1.1h-9zM301 293.5h8v1.1h-8zM324 294.5h9v1.1h-9zM313 298.5h5v1.1h-5zM312 303.5h8v1.1h-8zM329 310.5h4v1.1h-4zM305 310.5h4v1.1h-4zM308 350.5h9v1.1h-9zM331 353.5h4v1.1h-4zM309 357.5h6v1.1h-6zM318 358.5h2v1.1h-2zM310 359.5h4v1.1h-4zM283 359.5h5v1.1h-5zM311 372.5h8v1.1h-8zM290 379.5h7v1.1h-7zM278 380.5h9v1.1h-9zM279 395.5h7v1.1h-7zM288 398.5h6v1.1h-6zM314 401.5h9v1.1h-9zM280 407.5h8v1.1h-8zM283 425.5h7v1.1h-7zM313 426.5h2v1.1h-2zM274 435.5h7v1.1h-7zM330 436.5h5v1.1h-5zM313 438.5h7v1.1h-7zM284 445.5h3v0.8h-3z"/>
<path fill="#bed8ec" d="M52 276.5h8v1.1h-8zM77 280.5h3v1.1h-3zM79 283.5h9v1.1h-9zM37 286.5h2v1.1h-2zM56 286.5h3v1.1h-3zM60 290.5h7v1.1h-7zM70 291.5h3v1.1h-3zM54 307.5h4v1.1h-4zM74 316.5h8v1.1h-8zM58 316.5h3v1.1h-3zM44 337.5h3v1.1h-3zM56 343.5h2v1.1h-2zM73 355.5h3v1.1h-3zM77 367.5h6v1.1h-6zM37 399.5h4v1.1h-4zM41 399.5h4v1.1h-4zM82 408.5h9v1.1h-9zM63 416.5h4v1.1h-4zM56 436.5h3v1.1h-3zM140 278.5h4v1.1h-4zM121 283.5h6v1.1h-6zM164 284.5h10v1.1h-10zM149 284.5h6v1.1h-6zM135 284.5h10v1.1h-10zM165 287.5h7v1.1h-7zM164 293.5h6v1.1h-6zM159 299.5h8v1.1h-8zM157 308.5h4v1.1h-4zM130 331.5h7v1.1h-7zM123 360.5h3v1.1h-3zM131 361.5h4v1.1h-4zM143 443.5h6v1.1h-6zM169 449.6h2v1.1h-2zM150 450.6h6v1.1h-6zM120 458.6h8v1.1h-8zM137 461.6h5v1.1h-5zM244 283.5h3v1.1h-3zM243 286.5h3v1.1h-3zM233 289.5h10v1.1h-10zM207 290.5h9v1.1h-9zM231 293.5h6v1.1h-6zM241 296.5h5v1.1h-5zM224 297.5h4v1.1h-4zM235 298.5h4v1.1h-4zM218 301.5h7v1.1h-7zM233 301.5h3v1.1h-3zM249 302.5h6v1.1h-6zM248 304.5h5v1.1h-5zM217 306.5h5v1.1h-5zM214 308.5h8v1.1h-8zM244 308.5h7v1.1h-7zM211 311.5h3v1.1h-3zM205 314.5h4v1.1h-4zM195 315.5h6v1.1h-6zM243 323.5h7v1.1h-7zM242 327.5h8v1.1h-8zM244 334.5h4v1.1h-4zM230 336.5h5v1.1h-5zM240 339.5h7v1.1h-7zM199 342.5h3v1.1h-3zM220 346.5h8v1.1h-8zM230 358.5h5v1.1h-5zM208 362.5h3v1.1h-3zM234 366.5h7v1.1h-7zM219 367.5h6v1.1h-6zM223 368.5h10v1.1h-10zM228 370.5h4v1.1h-4zM223 380.5h5v1.1h-5zM199 382.5h6v1.1h-6zM220 384.5h7v1.1h-7zM209 384.5h10v1.1h-10zM201 401.5h6v1.1h-6zM250 403.5h3v1.1h-3zM199 404.5h3v1.1h-3zM196 412.5h6v1.1h-6zM219 414.5h6v1.1h-6zM205 419.5h5v1.1h-5zM197 422.5h8v1.1h-8zM225 426.5h9v1.1h-9zM225 430.5h3v1.1h-3zM209 431.5h4v1.1h-4zM210 434.5h8v1.1h-8zM230 439.5h9v1.1h-9zM247 440.5h3v1.1h-3zM210 443.5h8v1.1h-8zM243 443.5h8v1.1h-8zM232 445.5h3v1.1h-3zM229 450.2h8v1.1h-8zM210 452.2h5v1.1h-5zM204 452.2h10v1.1h-10zM211 455.2h9v1.1h-9zM220 457.2h5v1.1h-5zM217 463.2h8v0.7h-8zM293 278.5h5v1.1h-5zM318 279.5h7v1.1h-7zM308 279.5h5v1.1h-5zM303 284.5h9v1.1h-9zM304 293.5h7v1.1h-7zM331 310.5h4v1.1h-4zM313 333.5h7v1.1h-7zM288 340.5h2v1.1h-2zM325 358.5h9v1.1h-9zM311 388.5h4v1.1h-4zM285 397.5h2v1.1h-2zM310 407.5h5v1.1h-5zM331 423.5h4v1.1h-4zM286 423.5h8v1.1h-8zM324 432.5h9v1.1h-9zM310 435.5h7v1.1h-7z"/>
<path fill="#bad6eb" d="M54 277.5h3v1.1h-3zM36 286.5h10v1.1h-10zM64 411.5h3v1.1h-3zM56 436.5h5v1.1h-5zM40 448.5h7v1.1h-7zM142 278.5h8v1.1h-8zM167 283.5h5v1.1h-5zM153 349.5h3v1.1h-3zM137 375.5h8v1.1h-8zM157 396.5h7v1.1h-7zM147 408.5h6v1.1h-6zM116 408.5h9v1.1h-9zM202 276.5h6v1.1h-6zM203 277.5h7v1.1h-7zM227 279.5h5v1.1h-5zM221 281.5h9v1.1h-9zM195 288.5h4v1.1h-4zM244 293.5h6v1.1h-6zM236 307.5h4v1.1h-4zM201 308.5h3v1.1h-3zM197 311.5h9v1.1h-9zM197 329.5h10v1.1h-10zM207 329.5h5v1.1h-5zM218 332.5h2v1.1h-2zM220 342.5h4v1.1h-4zM236 342.5h4v1.1h-4zM198 346.5h3v1.1h-3zM248 347.5h5v1.1h-5zM210 350.5h10v1.1h-10zM211 350.5h8v1.1h-8zM197 352.5h4v1.1h-4zM200 354.5h7v1.1h-7zM229 363.5h7v1.1h-7zM241 369.5h6v1.1h-6zM214 369.5h3v1.1h-3zM245 377.5h6v1.1h-6zM244 401.5h5v1.1h-5zM244 403.5h3v1.1h-3zM224 410.5h3v1.1h-3zM212 414.5h6v1.1h-6zM206 426.5h7v1.1h-7zM204 438.5h6v1.1h-6zM207 439.5h10v1.1h-10zM252 447.5h3v0.8h-3zM242 454.2h3v1.1h-3zM218 455.2h5v1.1h-5zM243 460.2h3v1.1h-3zM197 463.2h6v0.7h-6zM312 275.5h4v1.1h-4zM295 276.5h7v1.1h-7zM307 277.5h9v1.1h-9zM319 280.5h4v1.1h-4zM277 281.5h6v1.1h-6zM313 282.5h9v1.1h-9zM287 283.5h4v1.1h-4zM322 284.5h7v1.1h-7zM311 286.5h2v1.1h-2zM330 299.5h5v1.1h-5zM288 299.5h5v1.1h-5zM324 340.5h4v1.1h-4zM291 357.5h6v1.1h-6zM319 358.5h2v1.1h-2zM316 388.5h7v1.1h-7zM284 401.5h2v1.1h-2zM303 405.5h7v1.1h-7z"/>
<path fill="#b6d4e9" d="M62 276.5h4v1.1h-4zM36 289.5h4v1.1h-4zM84 310.5h10v1.1h-10zM82 428.5h6v1.1h-6zM149 284.5h4v1.1h-4zM116 286.5h2v1.1h-2zM171 286.5h5v1.1h-5zM149 299.5h5v1.1h-5zM220 276.5h5v1.1h-5zM215 279.5h4v1.1h-4zM217 279.5h7v1.1h-7zM230 282.5h3v1.1h-3zM213 289.5h4v1.1h-4zM204 296.5h5v1.1h-5zM224 297.5h6v1.1h-6zM228 297.5h10v1.1h-10zM217 311.5h7v1.1h-7zM198 325.5h2v1.1h-2zM223 349.5h8v1.1h-8zM230 361.5h2v1.1h-2zM242 366.5h5v1.1h-5zM199 369.5h9v1.1h-9zM242 370.5h3v1.1h-3zM217 383.5h4v1.1h-4zM239 394.5h2v1.1h-2zM200 395.5h7v1.1h-7zM203 395.5h9v1.1h-9zM242 401.5h6v1.1h-6zM242 404.5h4v1.1h-4zM209 406.5h4v1.1h-4zM222 406.5h3v1.1h-3zM212 419.5h4v1.1h-4zM218 423.5h8v1.1h-8zM217 423.5h4v1.1h-4zM252 426.5h3v1.1h-3zM198 436.5h3v1.1h-3zM246 436.5h8v1.1h-8zM200 438.5h9v1.1h-9zM241 439.5h4v1.1h-4zM233 440.5h6v1.1h-6zM218 440.5h10v1.1h-10zM207 440.5h4v1.1h-4zM251 450.2h4v1.1h-4zM237 460.2h7v1.1h-7zM284 284.5h2v1.1h-2zM306 297.5h8v1.1h-8zM291 340.5h3v1.1h-3zM288 340.5h8v1.1h-8zM324 453.2h5v1.1h-5z"/>
<path fill="#b2d2e8" d="M59 284.5h6v1.1h-6zM61 286.5h8v1.1h-8zM45 294.5h4v1.1h-4zM206 275.5h5v1.1h-5zM225 276.5h6v1.1h-6zM211 279.5h4v1.1h-4zM229 290.5h6v1.1h-6zM229 291.5h10v1.1h-10zM212 312.5h6v1.1h-6zM243 313.5h9v1.1h-9zM218 314.5h3v1.1h-3zM252 328.5h3v1.1h-3zM240 328.5h4v1.1h-4zM206 336.5h3v1.1h-3zM213 347.5h7v1.1h-7zM199 361.5h4v1.1h-4zM251 361.5h4v1.1h-4zM236 369.5h3v1.1h-3zM234 382.5h5v1.1h-5zM237 403.5h4v1.1h-4zM199 460.2h8v1.1h-8zM284 284.5h3v1.1h-3zM298 287.5h7v1.1h-7zM314 299.5h7v1.1h-7zM283 304.5h3v1.1h-3zM305 310.5h6v1.1h-6z"/>
<path fill="#aed1e7" d="M51 300.5h8v1.1h-8zM244 275.5h4v1.1h-4zM243 277.5h8v1.1h-8zM230 281.5h5v1.1h-5zM209 281.5h4v1.1h-4zM217 286.5h10v1.1h-10zM196 289.5h5v1.1h-5zM221 304.5h9v1.1h-9zM233 310.5h10v1.1h-10zM210 328.5h3v1.1h-3zM224 403.5h3v1.1h-3zM323 275.5h9v1.1h-9zM285 282.5h2v1.1h-2zM293 383.5h3v1.1h-3zM312 453.2h4v1.1h-4z"/>
<path fill="#aacfe5" d="M43 286.5h5v1.1h-5zM206 279.5h9v1.1h-9zM240 280.5h5v1.1h-5zM251 281.5h4v1.1h-4zM207 286.5h7v1.1h-7zM214 286.5h2v1.1h-2zM216 313.5h3v1.1h-3zM199 361.5h3v1.1h-3zM221 403.5h5v1.1h-5zM200 463.2h6v0.7h-6zM304 287.5h6v1.1h-6zM304 299.5h4v1.1h-4z"/>
<path fill="#a6cde4" d="M236 291.5h8v1.1h-8zM302 287.5h9v1.1h-9z"/>
<path fill="#a2cce2" d="M234 278.5h2v1.1h-2z"/>
<path fill="#9ecae1" d="M240 278.5h9v1.1h-9z"/>
<path fill="#99c7e0" d="M202 278.5h9v1.1h-9z"/>
<path fill="#94c4df" d="M211 278.5h9v1.1h-9zM239 278.5h6v1.1h-6z"/>
<path fill="#edf5fc" d="M67 325.5h6.3v1.1h-6.3zM306.8 341.5h3.6v1.1h-3.6z"/>
<path fill="#eaf3fb" d="M66.9 319.5h7v1.1h-7zM67 323.5h6.5v1.1h-6.5zM67.2 331.5h5.6v1.1h-5.6zM67.6 344.5h3.8v1.1h-3.8zM67.6 347.5h3.3v1.1h-3.3zM67.7 349.5h2.8v1.1h-2.8zM147.7 347.5h3v1.1h-3zM226.6 331.5h5.7v1.1h-5.7z"/>
<path fill="#e8f1fa" d="M67.1 328.5h5.9v1.1h-5.9zM67.4 339.5h4.5v1.1h-4.5zM67.6 345.5h3.6v1.1h-3.6zM147.1 327.5h5.2v1.1h-5.2zM147.2 330.5h4.9v1.1h-4.9zM147.5 339.5h4v1.1h-4zM147.6 344.5h3.4v1.1h-3.4zM147.6 345.5h3.3v1.1h-3.3zM147.7 348.5h2.8v1.1h-2.8zM306.5 329.5h4.9v1.1h-4.9zM306.5 330.5h4.8v1.1h-4.8z"/>
<path fill="#e6f0f9" d="M67 322.5h6.7v1.1h-6.7zM67.2 332.5h5.4v1.1h-5.4zM67.5 342.5h4.1v1.1h-4.1zM146.8 314.5h6.5v1.1h-6.5zM147.3 334.5h4.5v1.1h-4.5zM306.4 326.5h5.2v1.1h-5.2zM306.6 334.5h4.4v1.1h-4.4zM306.9 344.5h3.2v1.1h-3.2z"/>
<path fill="#e3eef9" d="M66.5 304.5h8.7v1.1h-8.7zM66.5 306.5h8.5v1.1h-8.5zM146.4 301.5h7.6v1.1h-7.6zM146.4 302.5h7.5v1.1h-7.5zM146.5 303.5h7.4v1.1h-7.4zM146.5 305.5h7.3v1.1h-7.3zM146.8 315.5h6.4v1.1h-6.4zM147.3 333.5h4.6v1.1h-4.6zM147.3 335.5h4.4v1.1h-4.4zM147.4 336.5h4.3v1.1h-4.3zM147.6 346.5h3.2v1.1h-3.2zM146.8 457.6h5.9v1.1h-5.9zM226.9 341.5h4.1v1.1h-4.1zM306.1 314.5h6.4v1.1h-6.4zM306.2 317.5h6.1v1.1h-6.1zM306.3 320.5h5.8v1.1h-5.8zM306.5 328.5h5v1.1h-5zM306.6 331.5h4.7v1.1h-4.7zM306.6 332.5h4.6v1.1h-4.6zM306.7 335.5h4.3v1.1h-4.3zM307 345.5h3.1v1.1h-3.1z"/>
<path fill="#e0edf8" d="M66.3 297.5h9.5v1.1h-9.5zM67.2 330.5h5.7v1.1h-5.7zM67.5 340.5h4.4v1.1h-4.4zM67.6 346.5h3.4v1.1h-3.4zM146.1 288.5h8.7v1.1h-8.7zM146.6 307.5h7.1v1.1h-7.1zM146.7 312.5h6.6v1.1h-6.6zM146.9 318.5h6.1v1.1h-6.1zM146.9 320.5h5.9v1.1h-5.9zM147 322.5h5.7v1.1h-5.7zM147 324.5h5.5v1.1h-5.5zM147.1 325.5h5.4v1.1h-5.4zM147.1 326.5h5.3v1.1h-5.3zM147.4 337.5h4.2v1.1h-4.2zM147.5 342.5h3.7v1.1h-3.7zM147.6 343.5h3.5v1.1h-3.5zM147.5 462.6h3.4v1.1h-3.4zM147.7 463.6h2.9v0.3h-2.9zM226 309.5h8.7v1.1h-8.7zM226.4 322.5h7v1.1h-7zM226.5 324.5h6.7v1.1h-6.7zM226.5 326.5h6.4v1.1h-6.4zM306.7 336.5h4.2v1.1h-4.2zM306.8 338.5h4v1.1h-4zM306.9 463.2h3v0.7h-3z"/>
<path fill="#deebf7" d="M66.2 293.5h9.9v1.1h-9.9zM66.5 303.5h8.8v1.1h-8.8zM66.8 316.5h7.4v1.1h-7.4zM66.8 317.5h7.3v1.1h-7.3zM66.9 320.5h6.9v1.1h-6.9zM67.1 326.5h6.2v1.1h-6.2zM67.5 341.5h4.2v1.1h-4.2zM67.5 343.5h3.9v1.1h-3.9zM66.4 455.9h7.4v1.1h-7.4zM67 459.9h5.1v1.1h-5.1zM146.4 300.5h7.7v1.1h-7.7zM147 321.5h5.8v1.1h-5.8zM147.5 340.5h3.9v1.1h-3.9zM226.7 333.5h5.4v1.1h-5.4zM226.8 335.5h5.1v1.1h-5.1zM226.8 337.5h4.8v1.1h-4.8zM226.9 339.5h4.5v1.1h-4.5zM227 344.5h3.6v1.1h-3.6zM305.7 300.5h7.7v1.1h-7.7zM306.2 318.5h6v1.1h-6zM306.2 319.5h5.9v1.1h-5.9zM306.3 321.5h5.7v1.1h-5.7zM306.8 339.5h3.9v1.1h-3.9zM306.9 342.5h3.5v1.1h-3.5zM307 346.5h2.9v1.1h-2.9zM306.6 460.2h4.2v1.1h-4.2z"/>
<path fill="#dce9f6" d="M66.3 298.5h9.4v1.1h-9.4zM66.4 302.5h8.9v1.1h-8.9zM66.9 318.5h7.1v1.1h-7.1zM67 324.5h6.4v1.1h-6.4zM67.1 327.5h6.1v1.1h-6.1zM67.2 329.5h5.8v1.1h-5.8zM67.3 334.5h5.2v1.1h-5.2zM67.3 336.5h4.9v1.1h-4.9zM67.4 337.5h4.8v1.1h-4.8zM67.4 338.5h4.6v1.1h-4.6zM67.7 348.5h3.1v1.1h-3.1zM66.9 458.9h5.7v1.1h-5.7zM67.4 461.9h3.9v1.1h-3.9zM67.5 462.9h3.3v1h-3.3zM146.6 309.5h6.9v1.1h-6.9zM146.8 317.5h6.2v1.1h-6.2zM146.9 319.5h6v1.1h-6zM147 323.5h5.6v1.1h-5.6zM147.3 332.5h4.7v1.1h-4.7zM147.4 338.5h4.1v1.1h-4.1zM147.5 341.5h3.8v1.1h-3.8zM146.1 452.6h8.3v1.1h-8.3zM146.3 453.6h7.8v1.1h-7.8zM146.7 456.6h6.3v1.1h-6.3zM147.1 459.6h4.9v1.1h-4.9zM226 306.5h9.1v1.1h-9.1zM226.2 316.5h7.8v1.1h-7.8zM226.3 320.5h7.2v1.1h-7.2zM226.7 332.5h5.6v1.1h-5.6zM226.9 340.5h4.3v1.1h-4.3zM226.4 458.2h5.3v1.1h-5.3zM305.8 302.5h7.5v1.1h-7.5zM305.9 306.5h7.1v1.1h-7.1zM306.1 313.5h6.5v1.1h-6.5zM306.1 316.5h6.2v1.1h-6.2zM306.4 324.5h5.4v1.1h-5.4zM306.7 337.5h4.1v1.1h-4.1zM306.9 343.5h3.4v1.1h-3.4zM306.7 461.2h3.8v1.1h-3.8z"/>
<path fill="#d9e8f5" d="M66.7 311.5h7.9v1.1h-7.9zM66.8 315.5h7.5v1.1h-7.5zM66.9 321.5h6.8v1.1h-6.8zM67.3 335.5h5v1.1h-5zM66.5 456.9h6.9v1.1h-6.9zM66.7 457.9h6.3v1.1h-6.3zM146 285.5h9v1.1h-9zM146.1 290.5h8.6v1.1h-8.6zM146.5 306.5h7.2v1.1h-7.2zM146.7 311.5h6.7v1.1h-6.7zM146.7 313.5h6.5v1.1h-6.5zM147.2 331.5h4.8v1.1h-4.8zM146.4 454.6h7.3v1.1h-7.3zM147.4 461.6h3.9v1.1h-3.9zM226.4 323.5h6.8v1.1h-6.8zM226.6 329.5h6v1.1h-6zM226.8 338.5h4.6v1.1h-4.6zM226.9 342.5h4v1.1h-4zM227.1 346.5h3.2v1.1h-3.2zM305.8 305.5h7.2v1.1h-7.2zM306 312.5h6.6v1.1h-6.6zM306.6 333.5h4.5v1.1h-4.5zM305.9 454.2h6.6v1.1h-6.6zM306.2 457.2h5.4v1.1h-5.4z"/>
<path fill="#d7e6f5" d="M66 285.5h10.8v1.1h-10.8zM66.1 290.5h10.2v1.1h-10.2zM66.2 292.5h10v1.1h-10zM66.5 305.5h8.6v1.1h-8.6zM66.7 313.5h7.7v1.1h-7.7zM66.8 314.5h7.6v1.1h-7.6zM67.3 333.5h5.3v1.1h-5.3zM65.9 452.9h9.2v1.1h-9.2zM67.2 460.9h4.5v1.1h-4.5zM146.1 291.5h8.5v1.1h-8.5zM146.4 299.5h7.8v1.1h-7.8zM146.5 455.6h6.8v1.1h-6.8zM147.2 460.6h4.4v1.1h-4.4zM225.8 302.5h9.6v1.1h-9.6zM226.3 317.5h7.6v1.1h-7.6zM226.3 319.5h7.4v1.1h-7.4zM226.5 327.5h6.3v1.1h-6.3zM227 343.5h3.8v1.1h-3.8zM226.9 462.2h3.5v1.1h-3.5zM305.9 309.5h6.8v1.1h-6.8zM306 311.5h6.7v1.1h-6.7zM305.5 450.2h8.2v1.1h-8.2zM306 455.2h6.2v1.1h-6.2zM306.5 459.2h4.6v1.1h-4.6zM306.8 462.2h3.4v1.1h-3.4z"/>
<path fill="#d4e5f4" d="M66.7 312.5h7.8v1.1h-7.8zM145.8 279.5h9.5v1.1h-9.5zM146.2 292.5h8.4v1.1h-8.4zM146.3 296.5h8v1.1h-8zM146.5 304.5h7.3v1.1h-7.3zM146.6 308.5h7v1.1h-7zM146.7 310.5h6.8v1.1h-6.8zM147.1 328.5h5.1v1.1h-5.1zM147.2 329.5h5v1.1h-5zM225.8 299.5h9.9v1.1h-9.9zM225.8 301.5h9.7v1.1h-9.7zM226.5 325.5h6.6v1.1h-6.6zM226.7 334.5h5.3v1.1h-5.3zM227 345.5h3.4v1.1h-3.4zM227.1 347.5h3v1.1h-3zM226.5 459.2h4.9v1.1h-4.9zM226.8 461.2h4v1.1h-4zM305.4 290.5h8.5v1.1h-8.5zM305.4 291.5h8.4v1.1h-8.4zM305.5 292.5h8.4v1.1h-8.4zM305.8 303.5h7.4v1.1h-7.4zM306 310.5h6.7v1.1h-6.7zM306.1 456.2h5.8v1.1h-5.8zM306.4 458.2h5v1.1h-5z"/>
<path fill="#d2e3f3" d="M65.8 278.5h11.5v1.1h-11.5zM66.3 296.5h9.6v1.1h-9.6zM66.4 300.5h9.2v1.1h-9.2zM66.2 454.9h8v1.1h-8zM145.7 275.5h9.8v1.1h-9.8zM146.2 293.5h8.3v1.1h-8.3zM146 451.6h8.8v1.1h-8.8zM147 458.6h5.4v1.1h-5.4zM226.1 311.5h8.4v1.1h-8.4zM226.3 318.5h7.5v1.1h-7.5zM226.6 328.5h6.1v1.1h-6.1zM226.8 336.5h5v1.1h-5zM305.6 296.5h8v1.1h-8zM305.9 307.5h7v1.1h-7zM305.9 308.5h6.9v1.1h-6.9zM306.5 327.5h5.1v1.1h-5.1zM306.8 340.5h3.7v1.1h-3.7zM305.6 451.2h7.8v1.1h-7.8z"/>
<path fill="#d0e1f2" d="M66.1 288.5h10.4v1.1h-10.4zM66.3 299.5h9.3v1.1h-9.3zM66.6 307.5h8.4v1.1h-8.4zM146.8 316.5h6.3v1.1h-6.3zM225.6 293.5h10.7v1.1h-10.7zM225.9 303.5h9.4v1.1h-9.4zM226.2 314.5h8v1.1h-8zM227 463.2h3.1v0.7h-3.1zM305.1 279.5h9.5v1.1h-9.5zM305.4 289.5h8.6v1.1h-8.6zM305.5 294.5h8.2v1.1h-8.2zM305.6 298.5h7.8v1.1h-7.8zM305.7 301.5h7.6v1.1h-7.6zM305.8 304.5h7.3v1.1h-7.3zM306.1 315.5h6.3v1.1h-6.3zM306.3 322.5h5.6v1.1h-5.6zM306.3 323.5h5.5v1.1h-5.5zM305 446.2h9.8v1.1h-9.8zM305.1 447.2h9.4v1.1h-9.4zM305.2 448.2h9v1.1h-9z"/>
<path fill="#cde0f1" d="M65.9 281.5h11.2v1.1h-11.2zM66 287.5h10.6v1.1h-10.6zM66.1 291.5h10.1v1.1h-10.1zM66.4 301.5h9.1v1.1h-9.1zM66.6 308.5h8.3v1.1h-8.3zM66.6 310.5h8.1v1.1h-8.1zM145.9 282.5h9.2v1.1h-9.2zM145.9 284.5h9.1v1.1h-9.1zM146.1 289.5h8.6v1.1h-8.6zM146.2 294.5h8.2v1.1h-8.2zM225.4 286.5h11.5v1.1h-11.5zM225.8 300.5h9.8v1.1h-9.8zM226 307.5h8.9v1.1h-8.9zM226 308.5h8.8v1.1h-8.8zM226.1 456.2h6.2v1.1h-6.2zM226.3 457.2h5.8v1.1h-5.8zM305.3 285.5h9v1.1h-9zM305.6 295.5h8.1v1.1h-8.1zM306.4 325.5h5.3v1.1h-5.3z"/>
<path fill="#cbdef1" d="M65.7 451.9h9.8v1.1h-9.8zM66 453.9h8.6v1.1h-8.6zM145.7 276.5h9.7v1.1h-9.7zM146.3 298.5h7.9v1.1h-7.9zM145.7 449.6h9.8v1.1h-9.8zM225.4 285.5h11.6v1.1h-11.6zM225.4 287.5h11.4v1.1h-11.4zM225.6 294.5h10.6v1.1h-10.6zM226.2 315.5h7.9v1.1h-7.9zM226.4 321.5h7.1v1.1h-7.1zM226.6 460.2h4.4v1.1h-4.4zM305.3 449.2h8.6v1.1h-8.6zM305.8 453.2h7v1.1h-7z"/>
<path fill="#c8ddf0" d="M65.9 282.5h11.1v1.1h-11.1zM66.6 309.5h8.2v1.1h-8.2zM145.8 277.5h9.6v1.1h-9.6zM145.9 281.5h9.3v1.1h-9.3zM145.9 283.5h9.1v1.1h-9.1zM146.2 295.5h8.1v1.1h-8.1zM145.8 450.6h9.3v1.1h-9.3zM225.5 288.5h11.3v1.1h-11.3zM225.6 292.5h10.8v1.1h-10.8zM226.1 312.5h8.3v1.1h-8.3zM226.6 330.5h5.9v1.1h-5.9zM225.7 453.2h7.6v1.1h-7.6zM225.9 454.2h7.1v1.1h-7.1zM305.1 280.5h9.4v1.1h-9.4zM305.5 293.5h8.3v1.1h-8.3zM305.6 297.5h7.9v1.1h-7.9zM305.7 452.2h7.4v1.1h-7.4z"/>
<path fill="#c6dbef" d="M225.3 284.5h11.7v1.1h-11.7zM225.9 305.5h9.2v1.1h-9.2zM226.1 313.5h8.2v1.1h-8.2zM305.1 277.5h9.6v1.1h-9.6zM305.7 299.5h7.7v1.1h-7.7z"/>
<path fill="#c2d9ee" d="M66.1 289.5h10.3v1.1h-10.3zM225.5 289.5h11.2v1.1h-11.2zM225.5 291.5h10.9v1.1h-10.9zM226.1 310.5h8.6v1.1h-8.6zM225.1 448.2h9.8v1.1h-9.8zM225.5 451.2h8.5v1.1h-8.5zM225.6 452.2h8v1.1h-8zM226 455.2h6.7v1.1h-6.7zM305.1 278.5h9.5v1.1h-9.5zM305.2 283.5h9.1v1.1h-9.1z"/>
<path fill="#bed8ec" d="M65.7 275.5h11.8v1.1h-11.8zM65.7 276.5h11.7v1.1h-11.7zM65.8 280.5h11.3v1.1h-11.3zM65.9 284.5h10.9v1.1h-10.9zM145.8 280.5h9.4v1.1h-9.4zM146 287.5h8.8v1.1h-8.8zM225.5 290.5h11v1.1h-11zM225.7 297.5h10.2v1.1h-10.2zM225.7 298.5h10.1v1.1h-10.1zM225.2 449.2h9.4v1.1h-9.4zM305.3 286.5h8.9v1.1h-8.9zM305.3 287.5h8.8v1.1h-8.8zM305.4 288.5h8.7v1.1h-8.7z"/>
<path fill="#bad6eb" d="M66 286.5h10.7v1.1h-10.7zM66.2 295.5h9.7v1.1h-9.7zM146.3 297.5h8v1.1h-8zM225.3 281.5h12.1v1.1h-12.1zM225.3 282.5h12v1.1h-12zM225.3 283.5h11.9v1.1h-11.9zM225.7 295.5h10.4v1.1h-10.4zM225.9 304.5h9.3v1.1h-9.3zM225.4 450.2h8.9v1.1h-8.9zM305 275.5h9.8v1.1h-9.8z"/>
<path fill="#b6d4e9" d="M65.8 277.5h11.6v1.1h-11.6zM65.8 279.5h11.4v1.1h-11.4zM65.9 283.5h11v1.1h-11zM66.2 294.5h9.8v1.1h-9.8zM145.8 278.5h9.6v1.1h-9.6zM146 286.5h8.9v1.1h-8.9zM225.1 276.5h12.7v1.1h-12.7z"/>
<path fill="#b2d2e8" d="M225.1 275.5h12.8v1.1h-12.8zM225.2 280.5h12.2v1.1h-12.2zM225.7 296.5h10.3v1.1h-10.3zM305 276.5h9.7v1.1h-9.7zM305.3 284.5h9v1.1h-9z"/>
<path fill="#aed1e7" d="M305.2 281.5h9.3v1.1h-9.3zM305.2 282.5h9.2v1.1h-9.2z"/>
<path fill="#aacfe5" d="M225.2 279.5h12.3v1.1h-12.3z"/>
<path fill="#a6cde4" d="M225.2 277.5h12.6v1.1h-12.6zM225.2 278.5h12.5v1.1h-12.5z"/>
<path fill="#edf5fc" d="M148.2 393.5h1.6v1.1h-1.6z"/>
<path fill="#eaf3fb" d="M67.8 325.5h3.5v1.1h-3.5zM307.6 341.5h1.2v1.1h-1.2zM307.5 389.5h1.6v1.1h-1.6z"/>
<path fill="#e8f1fa" d="M67.7 319.5h4.2v1.1h-4.2zM67.8 323.5h3.7v1.1h-3.7zM68.4 344.5h1.2v1.1h-1.2zM68.4 345.5h1.2v1.1h-1.2zM68.4 347.5h1.2v1.1h-1.2zM68.5 349.5h1.2v1.1h-1.2zM68.2 352.5h1.6v1.1h-1.6zM148 330.5h2.1v1.1h-2.1zM148.5 347.5h1.2v1.1h-1.2zM148.2 370.5h1.6v1.1h-1.6zM148.2 373.5h1.6v1.1h-1.6zM148.2 387.5h1.6v1.1h-1.6zM148.2 389.5h1.6v1.1h-1.6zM148.2 429.5h1.6v1.1h-1.6zM227.4 331.5h2.9v1.1h-2.9zM307.3 330.5h2v1.1h-2z"/>
<path fill="#e6f0f9" d="M67.9 328.5h3.1v1.1h-3.1zM68.2 339.5h1.7v1.1h-1.7zM68.2 350.5h1.6v1.1h-1.6zM68.2 354.5h1.6v1.1h-1.6zM68.2 375.5h1.6v1.1h-1.6zM68.2 378.5h1.6v1.1h-1.6zM68.2 389.5h1.6v1.1h-1.6zM68.2 450.5h1.6v1.1h-1.6zM148.3 339.5h1.2v1.1h-1.2zM148.4 345.5h1.2v1.1h-1.2zM148.5 348.5h1.2v1.1h-1.2zM148.2 399.5h1.6v1.1h-1.6zM148.2 409.5h1.6v1.1h-1.6zM148.2 422.5h1.6v1.1h-1.6zM148.2 425.5h1.6v1.1h-1.6zM227.6 409.5h1.6v1.1h-1.6zM307.5 363.5h1.6v1.1h-1.6zM307.5 377.5h1.6v1.1h-1.6zM307.5 429.5h1.6v1.1h-1.6z"/>
<path fill="#e3eef9" d="M67.8 322.5h3.9v1.1h-3.9zM68 331.5h2.8v1.1h-2.8zM68.2 365.5h1.6v1.1h-1.6zM68.2 374.5h1.6v1.1h-1.6zM68.2 379.5h1.6v1.1h-1.6zM68.2 381.5h1.6v1.1h-1.6zM68.2 413.5h1.6v1.1h-1.6zM68.2 420.5h1.6v1.1h-1.6zM68.2 424.5h1.6v1.1h-1.6zM68.2 434.5h1.6v1.1h-1.6zM68.2 441.5h1.6v1.1h-1.6zM147.9 327.5h2.4v1.1h-2.4zM148.2 336.5h1.5v1.1h-1.5zM148.2 353.5h1.6v1.1h-1.6zM148.2 358.5h1.6v1.1h-1.6zM148.2 362.5h1.6v1.1h-1.6zM148.2 367.5h1.6v1.1h-1.6zM148.2 377.5h1.6v1.1h-1.6zM148.2 402.5h1.6v1.1h-1.6zM148.2 412.5h1.6v1.1h-1.6zM148.2 418.5h1.6v1.1h-1.6zM148.2 444.5h1.6v1.1h-1.6zM227.6 432.5h1.6v1.1h-1.6zM307.2 326.5h2.4v1.1h-2.4zM307.4 332.5h1.8v1.1h-1.8zM307.4 334.5h1.6v1.1h-1.6zM307.5 376.5h1.6v1.1h-1.6zM307.5 378.5h1.6v1.1h-1.6zM307.5 396.5h1.6v1.1h-1.6zM307.5 430.5h1.6v1.1h-1.6z"/>
<path fill="#e0edf8" d="M68 332.5h2.6v1.1h-2.6zM68.2 356.5h1.6v1.1h-1.6zM68.2 377.5h1.6v1.1h-1.6zM68.2 387.5h1.6v1.1h-1.6zM68.2 393.5h1.6v1.1h-1.6zM68.2 402.5h1.6v1.1h-1.6zM68.2 417.5h1.6v1.1h-1.6zM68.2 421.5h1.6v1.1h-1.6zM68.2 437.5h1.6v1.1h-1.6zM68.2 440.5h1.6v1.1h-1.6zM68.2 445.5h1.6v1.1h-1.6zM68.2 451.5h1.6v0.5h-1.6zM147.7 320.5h3.1v1.1h-3.1zM148.1 335.5h1.6v1.1h-1.6zM148.2 364.5h1.6v1.1h-1.6zM148.2 376.5h1.6v1.1h-1.6zM148.2 381.5h1.6v1.1h-1.6zM148.2 395.5h1.6v1.1h-1.6zM148.2 415.5h1.6v1.1h-1.6zM227.7 341.5h1.3v1.1h-1.3zM227.6 359.5h1.6v1.1h-1.6zM306.9 314.5h3.6v1.1h-3.6zM307.1 320.5h3v1.1h-3zM307.3 328.5h2.2v1.1h-2.2zM307.4 331.5h1.9v1.1h-1.9zM307.7 344.5h1.2v1.1h-1.2zM307.5 352.5h1.6v1.1h-1.6zM307.5 367.5h1.6v1.1h-1.6zM307.5 368.5h1.6v1.1h-1.6zM307.5 386.5h1.6v1.1h-1.6zM307.5 437.5h1.6v1.1h-1.6z"/>
<path fill="#deebf7" d="M67.3 306.5h5.7v1.1h-5.7zM68.3 342.5h1.3v1.1h-1.3zM68.4 346.5h1.2v1.1h-1.2zM68.2 364.5h1.6v1.1h-1.6zM68.2 392.5h1.6v1.1h-1.6zM68.2 395.5h1.6v1.1h-1.6zM68.2 398.5h1.6v1.1h-1.6zM68.2 403.5h1.6v1.1h-1.6zM68.2 410.5h1.6v1.1h-1.6zM68.2 412.5h1.6v1.1h-1.6zM68.2 423.5h1.6v1.1h-1.6zM68.2 435.5h1.6v1.1h-1.6zM68.2 446.5h1.6v1.1h-1.6zM147.2 302.5h4.7v1.1h-4.7zM147.4 307.5h4.3v1.1h-4.3zM147.6 315.5h3.6v1.1h-3.6zM147.8 322.5h2.9v1.1h-2.9zM147.9 325.5h2.6v1.1h-2.6zM148.1 333.5h1.8v1.1h-1.8zM148.2 337.5h1.4v1.1h-1.4zM148.2 350.5h1.6v1.1h-1.6zM148.2 351.5h1.6v1.1h-1.6zM148.2 359.5h1.6v1.1h-1.6zM148.2 363.5h1.6v1.1h-1.6zM148.2 365.5h1.6v1.1h-1.6zM148.2 378.5h1.6v1.1h-1.6zM148.2 380.5h1.6v1.1h-1.6zM148.2 383.5h1.6v1.1h-1.6zM148.2 388.5h1.6v1.1h-1.6zM148.2 390.5h1.6v1.1h-1.6zM148.2 401.5h1.6v1.1h-1.6zM148.2 416.5h1.6v1.1h-1.6zM148.2 417.5h1.6v1.1h-1.6zM148.2 419.5h1.6v1.1h-1.6zM148.2 420.5h1.6v1.1h-1.6zM148.2 428.5h1.6v1.1h-1.6zM148.2 432.5h1.6v1.1h-1.6zM148.2 441.5h1.6v1.1h-1.6zM148.2 446.5h1.6v1.1h-1.6zM148.5 463.6h1.2v0.3h-1.2zM226.8 309.5h5.9v1.1h-5.9zM227.2 322.5h4.2v1.1h-4.2zM227.3 326.5h3.6v1.1h-3.6zM227.8 344.5h1.2v1.1h-1.2zM227.6 376.5h1.6v1.1h-1.6zM227.6 387.5h1.6v1.1h-1.6zM227.6 389.5h1.6v1.1h-1.6zM227.6 396.5h1.6v1.1h-1.6zM307 317.5h3.3v1.1h-3.3zM307.5 335.5h1.5v1.1h-1.5zM307.5 361.5h1.6v1.1h-1.6zM307.5 374.5h1.6v1.1h-1.6zM307.5 384.5h1.6v1.1h-1.6zM307.5 402.5h1.6v1.1h-1.6zM307.5 422.5h1.6v1.1h-1.6z"/>
<path fill="#dce9f6" d="M68.3 341.5h1.4v1.1h-1.4zM68.3 343.5h1.2v1.1h-1.2zM68.2 358.5h1.6v1.1h-1.6zM68.2 361.5h1.6v1.1h-1.6zM68.2 366.5h1.6v1.1h-1.6zM68.2 369.5h1.6v1.1h-1.6zM68.2 370.5h1.6v1.1h-1.6zM68.2 371.5h1.6v1.1h-1.6zM68.2 376.5h1.6v1.1h-1.6zM68.2 382.5h1.6v1.1h-1.6zM68.2 383.5h1.6v1.1h-1.6zM68.2 388.5h1.6v1.1h-1.6zM68.2 406.5h1.6v1.1h-1.6zM68.2 419.5h1.6v1.1h-1.6zM68.2 425.5h1.6v1.1h-1.6zM68.2 449.5h1.6v1.1h-1.6zM146.9 288.5h5.9v1.1h-5.9zM147.3 305.5h4.5v1.1h-4.5zM147.6 314.5h3.7v1.1h-3.7zM147.7 318.5h3.3v1.1h-3.3zM148.3 340.5h1.2v1.1h-1.2zM148.4 344.5h1.2v1.1h-1.2zM148.4 346.5h1.2v1.1h-1.2zM148.2 372.5h1.6v1.1h-1.6zM148.2 384.5h1.6v1.1h-1.6zM148.2 397.5h1.6v1.1h-1.6zM148.2 406.5h1.6v1.1h-1.6zM148.2 411.5h1.6v1.1h-1.6zM148.2 423.5h1.6v1.1h-1.6zM148.2 435.5h1.6v1.1h-1.6zM148.2 437.5h1.6v1.1h-1.6zM148.2 438.5h1.6v1.1h-1.6zM148.2 440.5h1.6v1.1h-1.6zM148.2 447.5h1.6v1.1h-1.6zM148.3 462.6h1.2v1.1h-1.2zM227.5 333.5h2.6v1.1h-2.6zM227.6 335.5h2.3v1.1h-2.3zM227.6 337.5h2v1.1h-2zM227.7 339.5h1.7v1.1h-1.7zM227.6 371.5h1.6v1.1h-1.6zM227.6 390.5h1.6v1.1h-1.6zM227.6 392.5h1.6v1.1h-1.6zM307 318.5h3.2v1.1h-3.2zM307 319.5h3.1v1.1h-3.1zM307.3 329.5h2.1v1.1h-2.1zM307.5 336.5h1.4v1.1h-1.4zM307.6 338.5h1.2v1.1h-1.2zM307.8 345.5h1.2v1.1h-1.2zM307.5 351.5h1.6v1.1h-1.6zM307.5 354.5h1.6v1.1h-1.6zM307.5 366.5h1.6v1.1h-1.6zM307.5 381.5h1.6v1.1h-1.6zM307.5 382.5h1.6v1.1h-1.6zM307.5 391.5h1.6v1.1h-1.6zM307.5 400.5h1.6v1.1h-1.6zM307.5 409.5h1.6v1.1h-1.6zM307.5 414.5h1.6v1.1h-1.6zM307.5 417.5h1.6v1.1h-1.6zM307.5 424.5h1.6v1.1h-1.6zM307.5 439.5h1.6v1.1h-1.6zM307.7 463.2h1.2v0.7h-1.2z"/>
<path fill="#d9e8f5" d="M67.3 304.5h5.9v1.1h-5.9zM67.6 316.5h4.6v1.1h-4.6zM68 329.5h3v1.1h-3zM68.2 337.5h2v1.1h-2zM68.5 348.5h1.2v1.1h-1.2zM68.2 351.5h1.6v1.1h-1.6zM68.2 359.5h1.6v1.1h-1.6zM68.2 372.5h1.6v1.1h-1.6zM68.2 373.5h1.6v1.1h-1.6zM68.2 394.5h1.6v1.1h-1.6zM68.2 401.5h1.6v1.1h-1.6zM68.2 407.5h1.6v1.1h-1.6zM68.2 415.5h1.6v1.1h-1.6zM68.2 416.5h1.6v1.1h-1.6zM68.2 422.5h1.6v1.1h-1.6zM68.2 426.5h1.6v1.1h-1.6zM68.2 431.5h1.6v1.1h-1.6zM68.2 461.9h1.2v1.1h-1.2zM148.1 334.5h1.7v1.1h-1.7zM148.3 342.5h1.2v1.1h-1.2zM148.2 354.5h1.6v1.1h-1.6zM148.2 369.5h1.6v1.1h-1.6zM148.2 371.5h1.6v1.1h-1.6zM148.2 379.5h1.6v1.1h-1.6zM148.2 385.5h1.6v1.1h-1.6zM148.2 404.5h1.6v1.1h-1.6zM148.2 405.5h1.6v1.1h-1.6zM148.2 410.5h1.6v1.1h-1.6zM148.2 421.5h1.6v1.1h-1.6zM148.2 424.5h1.6v1.1h-1.6zM148.2 426.5h1.6v1.1h-1.6zM148.2 430.5h1.6v1.1h-1.6zM148.2 431.5h1.6v1.1h-1.6zM148.2 433.5h1.6v1.1h-1.6zM148.2 439.5h1.6v1.1h-1.6zM147.6 457.6h3.1v1.1h-3.1zM227.3 324.5h3.9v1.1h-3.9zM227.5 332.5h2.8v1.1h-2.8zM227.6 365.5h1.6v1.1h-1.6zM227.6 391.5h1.6v1.1h-1.6zM227.6 399.5h1.6v1.1h-1.6zM227.6 429.5h1.6v1.1h-1.6zM227.6 435.5h1.6v1.1h-1.6zM307.1 321.5h2.9v1.1h-2.9zM307.5 356.5h1.6v1.1h-1.6zM307.5 365.5h1.6v1.1h-1.6zM307.5 373.5h1.6v1.1h-1.6zM307.5 387.5h1.6v1.1h-1.6zM307.5 403.5h1.6v1.1h-1.6zM307.5 406.5h1.6v1.1h-1.6zM307.5 419.5h1.6v1.1h-1.6zM307.5 420.5h1.6v1.1h-1.6zM307.5 426.5h1.6v1.1h-1.6zM307.5 431.5h1.6v1.1h-1.6zM307.5 443.5h1.6v1.1h-1.6zM307.5 444.5h1.6v1.1h-1.6z"/>
<path fill="#d7e6f5" d="M67.9 327.5h3.3v1.1h-3.3zM68 330.5h2.9v1.1h-2.9zM68.2 338.5h1.8v1.1h-1.8zM68.2 353.5h1.6v1.1h-1.6zM68.2 357.5h1.6v1.1h-1.6zM68.2 362.5h1.6v1.1h-1.6zM68.2 386.5h1.6v1.1h-1.6zM68.2 391.5h1.6v1.1h-1.6zM68.2 397.5h1.6v1.1h-1.6zM68.2 404.5h1.6v1.1h-1.6zM68.2 409.5h1.6v1.1h-1.6zM68.2 414.5h1.6v1.1h-1.6zM68.2 427.5h1.6v1.1h-1.6zM68.2 439.5h1.6v1.1h-1.6zM68.2 443.5h1.6v1.1h-1.6zM68.2 444.5h1.6v1.1h-1.6zM68.2 447.5h1.6v1.1h-1.6zM147.3 303.5h4.6v1.1h-4.6zM147.8 324.5h2.7v1.1h-2.7zM148.2 356.5h1.6v1.1h-1.6zM148.2 357.5h1.6v1.1h-1.6zM148.2 368.5h1.6v1.1h-1.6zM148.2 391.5h1.6v1.1h-1.6zM148.2 392.5h1.6v1.1h-1.6zM148.2 394.5h1.6v1.1h-1.6zM148.2 400.5h1.6v1.1h-1.6zM148.2 414.5h1.6v1.1h-1.6zM148.2 427.5h1.6v1.1h-1.6zM148.2 434.5h1.6v1.1h-1.6zM148.2 436.5h1.6v1.1h-1.6zM148.2 461.6h1.2v1.1h-1.2zM226.8 306.5h6.3v1.1h-6.3zM227.2 323.5h4v1.1h-4zM227.4 329.5h3.2v1.1h-3.2zM227.6 338.5h1.8v1.1h-1.8zM227.7 342.5h1.2v1.1h-1.2zM227.9 346.5h1.2v1.1h-1.2zM227.6 368.5h1.6v1.1h-1.6zM227.6 372.5h1.6v1.1h-1.6zM227.6 373.5h1.6v1.1h-1.6zM227.6 380.5h1.6v1.1h-1.6zM227.6 385.5h1.6v1.1h-1.6zM227.6 402.5h1.6v1.1h-1.6zM227.6 405.5h1.6v1.1h-1.6zM227.6 408.5h1.6v1.1h-1.6zM227.6 415.5h1.6v1.1h-1.6zM227.6 416.5h1.6v1.1h-1.6zM227.6 433.5h1.6v1.1h-1.6zM307.2 324.5h2.6v1.1h-2.6zM307.4 333.5h1.7v1.1h-1.7zM307.7 343.5h1.2v1.1h-1.2zM307.5 347.5h1.6v1.1h-1.6zM307.5 348.5h1.6v1.1h-1.6zM307.5 349.5h1.6v1.1h-1.6zM307.5 370.5h1.6v1.1h-1.6zM307.5 380.5h1.6v1.1h-1.6zM307.5 392.5h1.6v1.1h-1.6zM307.5 393.5h1.6v1.1h-1.6zM307.5 394.5h1.6v1.1h-1.6zM307.5 398.5h1.6v1.1h-1.6zM307.5 404.5h1.6v1.1h-1.6zM307.5 408.5h1.6v1.1h-1.6zM307.5 412.5h1.6v1.1h-1.6zM307.5 418.5h1.6v1.1h-1.6zM307.5 423.5h1.6v1.1h-1.6zM307.5 428.5h1.6v1.1h-1.6zM307.5 433.5h1.6v1.1h-1.6z"/>
<path fill="#d4e5f4" d="M67 293.5h7.1v1.1h-7.1zM67.3 303.5h6v1.1h-6zM68.1 334.5h2.4v1.1h-2.4zM68.1 335.5h2.2v1.1h-2.2zM68.3 340.5h1.6v1.1h-1.6zM68.2 355.5h1.6v1.1h-1.6zM68.2 380.5h1.6v1.1h-1.6zM68.2 384.5h1.6v1.1h-1.6zM68.2 396.5h1.6v1.1h-1.6zM68.2 405.5h1.6v1.1h-1.6zM68.2 411.5h1.6v1.1h-1.6zM68.2 428.5h1.6v1.1h-1.6zM68.2 430.5h1.6v1.1h-1.6zM68.2 433.5h1.6v1.1h-1.6zM68.2 438.5h1.6v1.1h-1.6zM67.8 459.9h2.3v1.1h-2.3zM68.3 462.9h1.2v1h-1.2zM147.2 299.5h5v1.1h-5zM147.2 301.5h4.8v1.1h-4.8zM147.5 312.5h3.8v1.1h-3.8zM147.8 323.5h2.8v1.1h-2.8zM148.4 343.5h1.2v1.1h-1.2zM148.2 355.5h1.6v1.1h-1.6zM148.2 360.5h1.6v1.1h-1.6zM148.2 361.5h1.6v1.1h-1.6zM148.2 398.5h1.6v1.1h-1.6zM148.2 403.5h1.6v1.1h-1.6zM148.2 407.5h1.6v1.1h-1.6zM148.2 408.5h1.6v1.1h-1.6zM148.2 413.5h1.6v1.1h-1.6zM147.1 453.6h5v1.1h-5zM227.1 317.5h4.8v1.1h-4.8zM227.8 343.5h1.2v1.1h-1.2zM227.6 348.5h1.6v1.1h-1.6zM227.6 366.5h1.6v1.1h-1.6zM227.6 370.5h1.6v1.1h-1.6zM227.6 378.5h1.6v1.1h-1.6zM227.6 418.5h1.6v1.1h-1.6zM227.6 424.5h1.6v1.1h-1.6zM227.6 447.5h1.6v0.8h-1.6zM307.6 339.5h1.2v1.1h-1.2zM307.7 342.5h1.2v1.1h-1.2zM307.5 355.5h1.6v1.1h-1.6zM307.5 359.5h1.6v1.1h-1.6zM307.5 369.5h1.6v1.1h-1.6zM307.5 371.5h1.6v1.1h-1.6zM307.5 372.5h1.6v1.1h-1.6zM307.5 379.5h1.6v1.1h-1.6zM307.5 390.5h1.6v1.1h-1.6zM307.5 410.5h1.6v1.1h-1.6zM307.5 413.5h1.6v1.1h-1.6zM307.5 436.5h1.6v1.1h-1.6zM307.5 440.5h1.6v1.1h-1.6zM307.5 442.5h1.6v1.1h-1.6zM307.4 460.2h1.4v1.1h-1.4z"/>
<path fill="#d2e3f3" d="M67.1 297.5h6.7v1.1h-6.7zM67.2 302.5h6.1v1.1h-6.1zM67.6 317.5h4.5v1.1h-4.5zM67.7 318.5h4.3v1.1h-4.3zM67.7 320.5h4.1v1.1h-4.1zM68.2 367.5h1.6v1.1h-1.6zM68.2 368.5h1.6v1.1h-1.6zM68.2 399.5h1.6v1.1h-1.6zM68.2 400.5h1.6v1.1h-1.6zM68.2 408.5h1.6v1.1h-1.6zM68.2 432.5h1.6v1.1h-1.6zM68.2 436.5h1.6v1.1h-1.6zM147.2 300.5h4.9v1.1h-4.9zM147.9 326.5h2.5v1.1h-2.5zM148 331.5h2v1.1h-2zM148.1 332.5h1.9v1.1h-1.9zM148.2 374.5h1.6v1.1h-1.6zM147.9 459.6h2.1v1.1h-2.1zM226.6 302.5h6.8v1.1h-6.8zM227.4 328.5h3.3v1.1h-3.3zM227.7 340.5h1.5v1.1h-1.5zM227.8 345.5h1.2v1.1h-1.2zM227.9 347.5h1.2v1.1h-1.2zM227.6 349.5h1.6v1.1h-1.6zM227.6 351.5h1.6v1.1h-1.6zM227.6 355.5h1.6v1.1h-1.6zM227.6 356.5h1.6v1.1h-1.6zM227.6 375.5h1.6v1.1h-1.6zM227.6 379.5h1.6v1.1h-1.6zM227.6 381.5h1.6v1.1h-1.6zM227.6 383.5h1.6v1.1h-1.6zM227.6 386.5h1.6v1.1h-1.6zM227.6 397.5h1.6v1.1h-1.6zM227.6 413.5h1.6v1.1h-1.6zM227.6 422.5h1.6v1.1h-1.6zM227.6 437.5h1.6v1.1h-1.6zM227.6 440.5h1.6v1.1h-1.6zM227.6 441.5h1.6v1.1h-1.6zM306.8 310.5h3.9v1.1h-3.9zM307.5 353.5h1.6v1.1h-1.6zM307.5 360.5h1.6v1.1h-1.6zM307.5 362.5h1.6v1.1h-1.6zM307.5 364.5h1.6v1.1h-1.6zM307.5 375.5h1.6v1.1h-1.6zM307.5 385.5h1.6v1.1h-1.6zM307.5 388.5h1.6v1.1h-1.6zM307.5 395.5h1.6v1.1h-1.6zM307.5 397.5h1.6v1.1h-1.6zM307.5 399.5h1.6v1.1h-1.6zM307.5 401.5h1.6v1.1h-1.6zM307.5 411.5h1.6v1.1h-1.6zM307.5 416.5h1.6v1.1h-1.6zM307.5 434.5h1.6v1.1h-1.6zM307.5 435.5h1.6v1.1h-1.6zM307.5 441.5h1.6v1.1h-1.6zM307.5 445.5h1.6v0.8h-1.6z"/>
<path fill="#d0e1f2" d="M66.9 290.5h7.4v1.1h-7.4zM67.1 298.5h6.6v1.1h-6.6zM67.2 300.5h6.4v1.1h-6.4zM68.1 333.5h2.5v1.1h-2.5zM68.2 360.5h1.6v1.1h-1.6zM68.2 385.5h1.6v1.1h-1.6zM68.2 418.5h1.6v1.1h-1.6zM68.2 429.5h1.6v1.1h-1.6zM68.2 442.5h1.6v1.1h-1.6zM68.2 448.5h1.6v1.1h-1.6zM67.7 458.9h2.9v1.1h-2.9zM147.7 319.5h3.2v1.1h-3.2zM148.2 349.5h1.6v1.1h-1.6zM148.2 382.5h1.6v1.1h-1.6zM148.2 443.5h1.6v1.1h-1.6zM148.2 449.5h1.6v0.2h-1.6zM227 316.5h5v1.1h-5zM227.1 319.5h4.6v1.1h-4.6zM227.3 325.5h3.8v1.1h-3.8zM227.3 327.5h3.5v1.1h-3.5zM227.6 357.5h1.6v1.1h-1.6zM227.6 358.5h1.6v1.1h-1.6zM227.6 360.5h1.6v1.1h-1.6zM227.6 364.5h1.6v1.1h-1.6zM227.6 374.5h1.6v1.1h-1.6zM227.6 388.5h1.6v1.1h-1.6zM227.6 398.5h1.6v1.1h-1.6zM227.6 406.5h1.6v1.1h-1.6zM227.6 411.5h1.6v1.1h-1.6zM227.6 412.5h1.6v1.1h-1.6zM227.6 423.5h1.6v1.1h-1.6zM227.6 426.5h1.6v1.1h-1.6zM227.6 427.5h1.6v1.1h-1.6zM227.6 431.5h1.6v1.1h-1.6zM227.6 438.5h1.6v1.1h-1.6zM227.6 442.5h1.6v1.1h-1.6zM227.6 444.5h1.6v1.1h-1.6zM227.7 462.2h1.2v1.1h-1.2zM307.8 346.5h1.2v1.1h-1.2zM307.5 350.5h1.6v1.1h-1.6zM307.5 407.5h1.6v1.1h-1.6zM307.5 421.5h1.6v1.1h-1.6zM307.5 425.5h1.6v1.1h-1.6zM307.5 427.5h1.6v1.1h-1.6zM307.5 438.5h1.6v1.1h-1.6z"/>
<path fill="#cde0f1" d="M68.2 363.5h1.6v1.1h-1.6zM68.2 390.5h1.6v1.1h-1.6zM147.6 317.5h3.4v1.1h-3.4zM148.2 352.5h1.6v1.1h-1.6zM148.2 366.5h1.6v1.1h-1.6zM148.2 375.5h1.6v1.1h-1.6zM148.2 386.5h1.6v1.1h-1.6zM148.2 442.5h1.6v1.1h-1.6zM148.2 445.5h1.6v1.1h-1.6zM147.2 454.6h4.5v1.1h-4.5zM227 314.5h5.2v1.1h-5.2zM227.1 320.5h4.4v1.1h-4.4zM227.5 334.5h2.5v1.1h-2.5zM227.6 350.5h1.6v1.1h-1.6zM227.6 377.5h1.6v1.1h-1.6zM227.6 384.5h1.6v1.1h-1.6zM227.6 393.5h1.6v1.1h-1.6zM227.6 394.5h1.6v1.1h-1.6zM227.6 407.5h1.6v1.1h-1.6zM227.6 414.5h1.6v1.1h-1.6zM227.6 417.5h1.6v1.1h-1.6zM227.6 425.5h1.6v1.1h-1.6zM227.6 443.5h1.6v1.1h-1.6zM227.6 446.5h1.6v1.1h-1.6zM227.6 461.2h1.2v1.1h-1.2zM227.8 463.2h1.2v0.7h-1.2zM306.6 302.5h4.7v1.1h-4.7zM306.7 306.5h4.3v1.1h-4.3zM306.8 312.5h3.8v1.1h-3.8zM307.5 337.5h1.3v1.1h-1.3zM307.5 358.5h1.6v1.1h-1.6zM307.5 383.5h1.6v1.1h-1.6zM307.5 432.5h1.6v1.1h-1.6zM307.1 457.2h2.6v1.1h-2.6zM307.5 461.2h1.2v1.1h-1.2z"/>
<path fill="#cbdef1" d="M67.8 324.5h3.6v1.1h-3.6zM67.9 326.5h3.4v1.1h-3.4zM67.3 456.9h4.1v1.1h-4.1zM146.8 285.5h6.2v1.1h-6.2zM146.9 291.5h5.7v1.1h-5.7zM147.5 311.5h3.9v1.1h-3.9zM147.8 321.5h3v1.1h-3zM148.3 341.5h1.2v1.1h-1.2zM148.2 448.5h1.6v1.1h-1.6zM147.5 456.6h3.5v1.1h-3.5zM226.9 311.5h5.6v1.1h-5.6zM227.6 353.5h1.6v1.1h-1.6zM227.6 354.5h1.6v1.1h-1.6zM227.6 362.5h1.6v1.1h-1.6zM227.6 367.5h1.6v1.1h-1.6zM227.6 369.5h1.6v1.1h-1.6zM227.6 395.5h1.6v1.1h-1.6zM227.6 400.5h1.6v1.1h-1.6zM227.6 419.5h1.6v1.1h-1.6zM227.6 421.5h1.6v1.1h-1.6zM227.6 430.5h1.6v1.1h-1.6zM227.6 434.5h1.6v1.1h-1.6zM227.6 445.5h1.6v1.1h-1.6zM306.4 298.5h5v1.1h-5zM306.5 300.5h4.9v1.1h-4.9zM307.5 357.5h1.6v1.1h-1.6zM307.5 405.5h1.6v1.1h-1.6zM307.5 415.5h1.6v1.1h-1.6z"/>
<path fill="#c8ddf0" d="M66.8 285.5h8v1.1h-8zM67.5 311.5h5.1v1.1h-5.1zM67.6 315.5h4.7v1.1h-4.7zM67.2 455.9h4.6v1.1h-4.6zM147.4 308.5h4.2v1.1h-4.2zM147.4 309.5h4.1v1.1h-4.1zM148.2 396.5h1.6v1.1h-1.6zM227.6 336.5h2.2v1.1h-2.2zM227.6 363.5h1.6v1.1h-1.6zM227.6 401.5h1.6v1.1h-1.6zM227.6 404.5h1.6v1.1h-1.6zM227.6 410.5h1.6v1.1h-1.6zM227.6 428.5h1.6v1.1h-1.6zM227.6 436.5h1.6v1.1h-1.6zM227.6 439.5h1.6v1.1h-1.6zM227.2 458.2h2.5v1.1h-2.5zM306.7 309.5h4v1.1h-4zM306.9 313.5h3.7v1.1h-3.7zM307.6 340.5h1.2v1.1h-1.2zM306.7 454.2h3.8v1.1h-3.8zM307.2 458.2h2.2v1.1h-2.2zM307.6 462.2h1.2v1.1h-1.2z"/>
<path fill="#c6dbef" d="M67 292.5h7.2v1.1h-7.2zM67.3 305.5h5.8v1.1h-5.8zM67.5 457.9h3.5v1.1h-3.5zM146.6 279.5h6.7v1.1h-6.7zM146.9 290.5h5.8v1.1h-5.8zM147 292.5h5.6v1.1h-5.6zM147.1 296.5h5.2v1.1h-5.2zM147.8 458.6h2.6v1.1h-2.6zM226.6 301.5h6.9v1.1h-6.9zM227.6 403.5h1.6v1.1h-1.6zM305.9 279.5h6.7v1.1h-6.7zM306.6 304.5h4.5v1.1h-4.5zM306.9 316.5h3.4v1.1h-3.4zM306.8 455.2h3.4v1.1h-3.4zM306.9 456.2h3v1.1h-3z"/>
<path fill="#c2d9ee" d="M68 460.9h1.7v1.1h-1.7zM146.5 275.5h7v1.1h-7zM147.5 313.5h3.7v1.1h-3.7zM148.2 338.5h1.3v1.1h-1.3zM146.9 452.6h5.5v1.1h-5.5zM147.3 455.6h4v1.1h-4zM148 460.6h1.6v1.1h-1.6zM226.2 286.5h8.7v1.1h-8.7zM226.4 293.5h7.9v1.1h-7.9zM226.6 299.5h7.1v1.1h-7.1zM227.6 352.5h1.6v1.1h-1.6zM227.6 361.5h1.6v1.1h-1.6zM227.6 382.5h1.6v1.1h-1.6zM227.6 420.5h1.6v1.1h-1.6zM227.3 459.2h2.1v1.1h-2.1zM306.2 291.5h5.6v1.1h-5.6zM306.8 311.5h3.9v1.1h-3.9zM307.3 459.2h1.8v1.1h-1.8z"/>
<path fill="#bed8ec" d="M67.5 313.5h4.9v1.1h-4.9zM67.7 321.5h4v1.1h-4zM68.1 336.5h2.1v1.1h-2.1zM147.5 310.5h4v1.1h-4zM306.2 290.5h5.7v1.1h-5.7zM306.3 292.5h5.6v1.1h-5.6zM306.6 303.5h4.6v1.1h-4.6zM306.7 308.5h4.1v1.1h-4.1zM306.6 453.2h4.2v1.1h-4.2z"/>
<path fill="#bad6eb" d="M146.7 284.5h6.3v1.1h-6.3zM147 293.5h5.5v1.1h-5.5zM147.9 328.5h2.3v1.1h-2.3zM226.7 303.5h6.6v1.1h-6.6zM227.4 460.2h1.6v1.1h-1.6zM306.6 305.5h4.4v1.1h-4.4zM306.7 307.5h4.2v1.1h-4.2z"/>
<path fill="#b6d4e9" d="M66.6 278.5h8.7v1.1h-8.7zM67.4 307.5h5.6v1.1h-5.6zM147.3 306.5h4.4v1.1h-4.4zM148 329.5h2.2v1.1h-2.2zM226.8 308.5h6v1.1h-6zM306.3 294.5h5.4v1.1h-5.4zM307.1 322.5h2.8v1.1h-2.8zM307.3 327.5h2.3v1.1h-2.3z"/>
<path fill="#b2d2e8" d="M67.1 296.5h6.8v1.1h-6.8zM67.2 301.5h6.3v1.1h-6.3zM67.4 310.5h5.3v1.1h-5.3zM67.5 312.5h5v1.1h-5zM67.6 314.5h4.8v1.1h-4.8zM226.8 307.5h6.1v1.1h-6.1zM226.9 312.5h5.5v1.1h-5.5zM227.1 318.5h4.7v1.1h-4.7zM227.1 457.2h3v1.1h-3zM306.4 296.5h5.2v1.1h-5.2zM307.1 323.5h2.7v1.1h-2.7z"/>
<path fill="#aed1e7" d="M66.7 452.9h6.4v1.1h-6.4zM67 454.9h5.2v1.1h-5.2zM147.6 316.5h3.5v1.1h-3.5zM226.2 285.5h8.8v1.1h-8.8zM227 315.5h5.1v1.1h-5.1zM306.5 299.5h4.9v1.1h-4.9z"/>
<path fill="#aacfe5" d="M67.4 308.5h5.5v1.1h-5.5zM146.7 283.5h6.3v1.1h-6.3zM146.9 289.5h5.8v1.1h-5.8zM226.4 292.5h8v1.1h-8zM227.2 321.5h4.3v1.1h-4.3zM226.9 456.2h3.4v1.1h-3.4zM306.4 295.5h5.3v1.1h-5.3z"/>
<path fill="#a6cde4" d="M66.9 291.5h7.3v1.1h-7.3zM67.1 299.5h6.5v1.1h-6.5zM66.8 453.9h5.8v1.1h-5.8zM147.3 304.5h4.5v1.1h-4.5zM146.5 449.6h7v1.1h-7zM226.2 287.5h8.6v1.1h-8.6zM226.9 310.5h5.8v1.1h-5.8zM226.9 313.5h5.4v1.1h-5.4zM226.7 454.2h4.3v1.1h-4.3zM306.1 285.5h6.2v1.1h-6.2zM306.9 315.5h3.5v1.1h-3.5zM306.3 450.2h5.4v1.1h-5.4z"/>
<path fill="#a2cce2" d="M66.8 287.5h7.8v1.1h-7.8zM66.9 288.5h7.6v1.1h-7.6zM66.5 451.9h7v1.1h-7zM146.6 277.5h6.8v1.1h-6.8zM146.6 450.6h6.5v1.1h-6.5zM146.8 451.6h6v1.1h-6zM226.6 300.5h7v1.1h-7zM226.5 453.2h4.8v1.1h-4.8zM226.8 455.2h3.9v1.1h-3.9zM306.5 301.5h4.8v1.1h-4.8zM306.4 451.2h5v1.1h-5z"/>
<path fill="#9ecae1" d="M66.7 282.5h8.3v1.1h-8.3zM226.1 284.5h8.9v1.1h-8.9zM226.3 291.5h8.1v1.1h-8.1zM226.5 297.5h7.4v1.1h-7.4zM227.4 330.5h3.1v1.1h-3.1zM305.9 280.5h6.6v1.1h-6.6zM306.2 289.5h5.8v1.1h-5.8zM306.4 297.5h5.1v1.1h-5.1zM307.2 325.5h2.5v1.1h-2.5zM305.9 447.2h6.6v1.1h-6.6z"/>
<path fill="#99c7e0" d="M66.7 281.5h8.4v1.1h-8.4zM226.3 288.5h8.5v1.1h-8.5zM226.3 289.5h8.4v1.1h-8.4zM306 283.5h6.3v1.1h-6.3z"/>
<path fill="#94c4df" d="M147 295.5h5.3v1.1h-5.3zM147.1 298.5h5.1v1.1h-5.1zM226.4 294.5h7.8v1.1h-7.8zM226.7 304.5h6.5v1.1h-6.5zM226.7 305.5h6.4v1.1h-6.4zM306.1 287.5h6v1.1h-6zM306.3 293.5h5.5v1.1h-5.5zM305.8 446.2h7v1.1h-7zM306 448.2h6.2v1.1h-6.2z"/>
<path fill="#8fc2de" d="M226.4 452.2h5.2v1.1h-5.2zM306.5 452.2h4.6v1.1h-4.6z"/>
<path fill="#8abfdd" d="M66.8 286.5h7.9v1.1h-7.9zM66.9 289.5h7.5v1.1h-7.5zM146.5 276.5h6.9v1.1h-6.9zM147 294.5h5.4v1.1h-5.4zM226.1 281.5h9.3v1.1h-9.3zM305.9 277.5h6.8v1.1h-6.8zM305.9 278.5h6.7v1.1h-6.7zM306.1 449.2h5.8v1.1h-5.8z"/>
<path fill="#84bcdc" d="M66.5 276.5h8.9v1.1h-8.9zM66.7 284.5h8.1v1.1h-8.1zM146.7 282.5h6.4v1.1h-6.4zM226.1 282.5h9.2v1.1h-9.2zM226 449.2h6.6v1.1h-6.6zM305.8 275.5h7v1.1h-7z"/>
<path fill="#7fb9da" d="M66.5 275.5h9v1.1h-9zM67.4 309.5h5.4v1.1h-5.4zM146.7 281.5h6.5v1.1h-6.5zM226.3 290.5h8.2v1.1h-8.2zM226.2 450.2h6.1v1.1h-6.1zM226.3 451.2h5.7v1.1h-5.7zM306.1 286.5h6.1v1.1h-6.1z"/>
<path fill="#7ab6d9" d="M226 280.5h9.4v1.1h-9.4zM226.5 298.5h7.3v1.1h-7.3z"/>
<path fill="#75b4d8" d="M67 295.5h6.9v1.1h-6.9zM146.8 287.5h6v1.1h-6zM147.1 297.5h5.2v1.1h-5.2zM225.9 448.2h7v1.1h-7z"/>
<path fill="#70b1d7" d="M146.6 280.5h6.6v1.1h-6.6zM146.8 286.5h6.1v1.1h-6.1zM225.9 276.5h9.9v1.1h-9.9zM226 278.5h9.7v1.1h-9.7zM226.1 283.5h9.1v1.1h-9.1zM306.1 284.5h6.2v1.1h-6.2zM306.2 288.5h5.9v1.1h-5.9z"/>
<path fill="#6baed6" d="M66.6 277.5h8.8v1.1h-8.8zM66.6 280.5h8.5v1.1h-8.5zM66.7 283.5h8.2v1.1h-8.2zM67 294.5h7v1.1h-7zM226 279.5h9.5v1.1h-9.5zM226.5 295.5h7.6v1.1h-7.6zM226.5 296.5h7.5v1.1h-7.5zM306 282.5h6.4v1.1h-6.4z"/>
<path fill="#67abd4" d="M225.9 275.5h10v1.1h-10z"/>
<path fill="#63a8d3" d="M146.6 278.5h6.8v1.1h-6.8zM306 281.5h6.5v1.1h-6.5z"/>
<path fill="#5ba3d0" d="M305.8 276.5h6.9v1.1h-6.9z"/>
<path fill="#56a0ce" d="M66.6 279.5h8.6v1.1h-8.6zM226 277.5h9.8v1.1h-9.8z"/>
<path fill="#e8f1fa" d="M68.5 319.5h2.5v1.1h-2.5zM68.5 325.5h2.1v1.1h-2.1zM68.5 344.5h1v1.1h-1zM307.8 341.5h1v1.1h-1z"/>
<path fill="#e6f0f9" d="M68.5 323.5h2.2v1.1h-2.2zM68.5 339.5h1v1.1h-1zM68.5 345.5h1v1.1h-1zM68.5 347.5h1v1.1h-1zM68.5 349.5h1v1.1h-1zM148.5 330.5h1.3v1.1h-1.3zM148.5 347.5h1v1.1h-1zM227.9 331.5h1.7v1.1h-1.7zM307.8 330.5h1.2v1.1h-1.2z"/>
<path fill="#e3eef9" d="M68.5 322.5h2.3v1.1h-2.3zM68.5 328.5h1.9v1.1h-1.9zM148.5 339.5h1v1.1h-1zM148.5 345.5h1v1.1h-1zM148.5 348.5h1v1.1h-1zM307.8 334.5h1v1.1h-1z"/>
<path fill="#e0edf8" d="M148.5 336.5h1v1.1h-1zM307.8 326.5h1.5v1.1h-1.5zM307.8 332.5h1.1v1.1h-1.1z"/>
<path fill="#deebf7" d="M148.5 320.5h1.9v1.1h-1.9zM148.5 327.5h1.5v1.1h-1.5zM148.5 335.5h1v1.1h-1zM227.9 322.5h2.5v1.1h-2.5zM227.9 326.5h2.2v1.1h-2.2zM227.9 341.5h1v1.1h-1zM307.8 314.5h2.1v1.1h-2.1zM307.8 320.5h1.8v1.1h-1.8zM307.8 328.5h1.3v1.1h-1.3zM307.8 331.5h1.2v1.1h-1.2zM307.8 344.5h1v1.1h-1z"/>
<path fill="#dce9f6" d="M68.5 331.5h1.7v1.1h-1.7zM68.5 332.5h1.6v1.1h-1.6zM68.5 346.5h1v1.1h-1zM148.5 307.5h2.6v1.1h-2.6zM148.5 318.5h2v1.1h-2zM148.5 322.5h1.7v1.1h-1.7zM148.5 325.5h1.6v1.1h-1.6zM148.5 333.5h1.1v1.1h-1.1zM148.5 337.5h1v1.1h-1zM227.9 309.5h3.5v1.1h-3.5zM227.9 337.5h1.2v1.1h-1.2zM227.9 344.5h1v1.1h-1zM307.8 318.5h1.9v1.1h-1.9z"/>
<path fill="#d9e8f5" d="M68.5 306.5h3.4v1.1h-3.4zM68.5 341.5h1v1.1h-1zM68.5 342.5h1v1.1h-1zM68.5 343.5h1v1.1h-1zM68.5 348.5h1v1.1h-1zM148.5 288.5h3.6v1.1h-3.6zM148.5 302.5h2.8v1.1h-2.8zM148.5 315.5h2.1v1.1h-2.1zM148.5 340.5h1v1.1h-1zM148.5 463.6h1v0.3h-1zM227.9 332.5h1.7v1.1h-1.7zM227.9 333.5h1.6v1.1h-1.6zM227.9 335.5h1.4v1.1h-1.4zM227.9 339.5h1v1.1h-1zM307.8 317.5h2v1.1h-2zM307.8 319.5h1.9v1.1h-1.9zM307.8 335.5h1v1.1h-1zM307.8 336.5h1v1.1h-1zM307.8 463.2h1v0.7h-1z"/>
<path fill="#d7e6f5" d="M68.5 316.5h2.7v1.1h-2.7zM68.5 329.5h1.8v1.1h-1.8zM68.5 337.5h1.2v1.1h-1.2zM68.5 461.9h1v1.1h-1zM148.5 346.5h1v1.1h-1zM148.5 462.6h1v1.1h-1zM227.9 329.5h1.9v1.1h-1.9zM227.9 342.5h1v1.1h-1zM227.9 346.5h1v1.1h-1zM307.8 338.5h1v1.1h-1zM307.8 345.5h1v1.1h-1z"/>
<path fill="#d4e5f4" d="M68.5 304.5h3.6v1.1h-3.6zM68.5 327.5h2v1.1h-2zM68.5 338.5h1.1v1.1h-1.1zM148.5 305.5h2.7v1.1h-2.7zM148.5 314.5h2.2v1.1h-2.2zM148.5 342.5h1v1.1h-1zM148.5 461.6h1v1.1h-1zM227.9 306.5h3.8v1.1h-3.8zM227.9 323.5h2.4v1.1h-2.4zM227.9 324.5h2.3v1.1h-2.3zM227.9 338.5h1.1v1.1h-1.1zM307.8 321.5h1.8v1.1h-1.8zM307.8 324.5h1.6v1.1h-1.6zM307.8 333.5h1v1.1h-1zM307.8 343.5h1v1.1h-1z"/>
<path fill="#d2e3f3" d="M68.5 335.5h1.3v1.1h-1.3zM68.5 462.9h1v1h-1zM148.5 299.5h3v1.1h-3zM148.5 344.5h1v1.1h-1zM148.5 457.6h1.8v1.1h-1.8zM227.9 317.5h2.9v1.1h-2.9zM227.9 343.5h1v1.1h-1zM307.8 329.5h1.3v1.1h-1.3z"/>
<path fill="#d0e1f2" d="M68.5 293.5h4.3v1.1h-4.3zM68.5 334.5h1.4v1.1h-1.4zM148.5 323.5h1.7v1.1h-1.7zM148.5 334.5h1v1.1h-1zM148.5 453.6h3v1.1h-3zM227.9 328.5h2v1.1h-2zM227.9 345.5h1v1.1h-1zM227.9 347.5h1v1.1h-1zM307.8 310.5h2.4v1.1h-2.4z"/>
<path fill="#cde0f1" d="M68.5 300.5h3.8v1.1h-3.8zM68.5 330.5h1.7v1.1h-1.7zM68.5 459.9h1.4v1.1h-1.4zM148.5 303.5h2.8v1.1h-2.8zM148.5 324.5h1.6v1.1h-1.6zM148.5 331.5h1.2v1.1h-1.2zM148.5 343.5h1v1.1h-1zM227.9 302.5h4.1v1.1h-4.1zM227.9 325.5h2.3v1.1h-2.3zM307.8 339.5h1v1.1h-1zM307.8 342.5h1v1.1h-1z"/>
<path fill="#cbdef1" d="M68.5 290.5h4.5v1.1h-4.5zM68.5 303.5h3.6v1.1h-3.6zM68.5 318.5h2.6v1.1h-2.6zM68.5 333.5h1.5v1.1h-1.5zM68.5 340.5h1v1.1h-1zM148.5 301.5h2.9v1.1h-2.9zM148.5 312.5h2.3v1.1h-2.3zM148.5 332.5h1.2v1.1h-1.2zM148.5 459.6h1.2v1.1h-1.2zM227.9 314.5h3.1v1.1h-3.1zM227.9 327.5h2.1v1.1h-2.1zM227.9 340.5h1v1.1h-1zM227.9 462.2h1v1.1h-1zM227.9 463.2h1v0.7h-1zM307.8 460.2h1v1.1h-1z"/>
<path fill="#c8ddf0" d="M68.5 302.5h3.7v1.1h-3.7zM68.5 317.5h2.7v1.1h-2.7zM68.5 320.5h2.5v1.1h-2.5zM68.5 458.9h1.7v1.1h-1.7zM148.5 300.5h2.9v1.1h-2.9zM148.5 326.5h1.5v1.1h-1.5zM227.9 319.5h2.7v1.1h-2.7zM227.9 461.2h1v1.1h-1z"/>
<path fill="#c6dbef" d="M68.5 297.5h4v1.1h-4zM68.5 298.5h3.9v1.1h-3.9zM148.5 319.5h1.9v1.1h-1.9zM227.9 316.5h3v1.1h-3zM227.9 334.5h1.5v1.1h-1.5zM307.8 298.5h3v1.1h-3zM307.8 346.5h1v1.1h-1zM307.8 457.2h1.6v1.1h-1.6z"/>
<path fill="#c2d9ee" d="M148.5 317.5h2v1.1h-2zM148.5 454.6h2.7v1.1h-2.7zM227.9 311.5h3.4v1.1h-3.4zM227.9 320.5h2.7v1.1h-2.7zM307.8 302.5h2.8v1.1h-2.8zM307.8 306.5h2.6v1.1h-2.6zM307.8 337.5h1v1.1h-1zM307.8 461.2h1v1.1h-1z"/>
<path fill="#bed8ec" d="M68.5 456.9h2.4v1.1h-2.4zM148.5 285.5h3.7v1.1h-3.7zM148.5 311.5h2.4v1.1h-2.4zM227.9 336.5h1.3v1.1h-1.3zM307.8 312.5h2.3v1.1h-2.3zM307.8 340.5h1v1.1h-1z"/>
<path fill="#bad6eb" d="M68.5 285.5h4.8v1.1h-4.8zM68.5 324.5h2.2v1.1h-2.2zM148.5 291.5h3.4v1.1h-3.4zM148.5 308.5h2.5v1.1h-2.5zM148.5 321.5h1.8v1.1h-1.8zM148.5 341.5h1v1.1h-1zM148.5 456.6h2.1v1.1h-2.1zM227.9 286.5h5.2v1.1h-5.2zM307.8 309.5h2.4v1.1h-2.4zM307.8 458.2h1.3v1.1h-1.3z"/>
<path fill="#b6d4e9" d="M68.5 305.5h3.5v1.1h-3.5zM68.5 315.5h2.8v1.1h-2.8zM68.5 326.5h2v1.1h-2zM148.5 296.5h3.1v1.1h-3.1zM148.5 309.5h2.5v1.1h-2.5zM148.5 458.6h1.5v1.1h-1.5zM227.9 301.5h4.1v1.1h-4.1zM307.8 279.5h4v1.1h-4zM307.8 300.5h2.9v1.1h-2.9zM307.8 304.5h2.7v1.1h-2.7z"/>
<path fill="#b2d2e8" d="M68.5 292.5h4.3v1.1h-4.3zM68.5 311.5h3.1v1.1h-3.1zM68.5 457.9h2.1v1.1h-2.1zM148.5 279.5h4v1.1h-4zM148.5 292.5h3.3v1.1h-3.3zM227.9 293.5h4.7v1.1h-4.7zM227.9 458.2h1.5v1.1h-1.5zM307.8 313.5h2.2v1.1h-2.2zM307.8 453.2h2.5v1.1h-2.5zM307.8 454.2h2.3v1.1h-2.3zM307.8 455.2h2.1v1.1h-2.1zM307.8 456.2h1.8v1.1h-1.8zM307.8 462.2h1v1.1h-1z"/>
<path fill="#aed1e7" d="M68.5 455.9h2.8v1.1h-2.8zM68.5 460.9h1v1.1h-1zM148.5 275.5h4.2v1.1h-4.2zM148.5 290.5h3.5v1.1h-3.5zM148.5 455.6h2.4v1.1h-2.4zM227.9 299.5h4.3v1.1h-4.3zM227.9 459.2h1.2v1.1h-1.2zM307.8 311.5h2.3v1.1h-2.3zM307.8 316.5h2v1.1h-2z"/>
<path fill="#aacfe5" d="M148.5 313.5h2.2v1.1h-2.2zM227.9 460.2h1v1.1h-1zM307.8 291.5h3.4v1.1h-3.4zM307.8 292.5h3.3v1.1h-3.3zM307.8 303.5h2.8v1.1h-2.8zM307.8 459.2h1.1v1.1h-1.1z"/>
<path fill="#a6cde4" d="M148.5 284.5h3.8v1.1h-3.8zM148.5 293.5h3.3v1.1h-3.3zM148.5 310.5h2.4v1.1h-2.4zM148.5 452.6h3.3v1.1h-3.3zM148.5 460.6h1v1.1h-1zM227.9 303.5h4v1.1h-4zM307.8 290.5h3.4v1.1h-3.4zM307.8 308.5h2.5v1.1h-2.5z"/>
<path fill="#a2cce2" d="M68.5 307.5h3.4v1.1h-3.4zM68.5 313.5h2.9v1.1h-2.9zM148.5 328.5h1.4v1.1h-1.4zM148.5 338.5h1v1.1h-1zM227.9 308.5h3.6v1.1h-3.6zM307.8 307.5h2.5v1.1h-2.5zM307.8 322.5h1.7v1.1h-1.7z"/>
<path fill="#9ecae1" d="M68.5 321.5h2.4v1.1h-2.4zM68.5 336.5h1.3v1.1h-1.3zM227.9 312.5h3.3v1.1h-3.3zM227.9 457.2h1.8v1.1h-1.8zM307.8 294.5h3.2v1.1h-3.2zM307.8 299.5h3v1.1h-3zM307.8 327.5h1.4v1.1h-1.4z"/>
<path fill="#99c7e0" d="M68.5 278.5h5.2v1.1h-5.2zM68.5 301.5h3.8v1.1h-3.8zM68.5 310.5h3.2v1.1h-3.2zM227.9 307.5h3.7v1.1h-3.7zM307.8 305.5h2.6v1.1h-2.6z"/>
<path fill="#94c4df" d="M68.5 296.5h4.1v1.1h-4.1zM148.5 306.5h2.6v1.1h-2.6zM148.5 329.5h1.3v1.1h-1.3zM227.9 285.5h5.3v1.1h-5.3zM227.9 315.5h3.1v1.1h-3.1zM227.9 318.5h2.8v1.1h-2.8zM307.8 323.5h1.6v1.1h-1.6z"/>
<path fill="#8fc2de" d="M68.5 308.5h3.3v1.1h-3.3zM68.5 312.5h3v1.1h-3zM148.5 316.5h2.1v1.1h-2.1zM227.9 292.5h4.8v1.1h-4.8zM227.9 310.5h3.5v1.1h-3.5zM307.8 296.5h3.1v1.1h-3.1z"/>
<path fill="#8abfdd" d="M68.5 314.5h2.9v1.1h-2.9zM148.5 283.5h3.8v1.1h-3.8zM148.5 289.5h3.5v1.1h-3.5zM227.9 313.5h3.2v1.1h-3.2zM227.9 321.5h2.6v1.1h-2.6zM227.9 454.2h2.6v1.1h-2.6zM227.9 456.2h2v1.1h-2zM307.8 295.5h3.2v1.1h-3.2z"/>
<path fill="#84bcdc" d="M68.5 452.9h3.8v1.1h-3.8zM68.5 454.9h3.1v1.1h-3.1zM148.5 449.6h4.2v1.1h-4.2zM227.9 455.2h2.3v1.1h-2.3z"/>
<path fill="#7fb9da" d="M68.5 291.5h4.4v1.1h-4.4zM68.5 453.9h3.5v1.1h-3.5zM148.5 277.5h4.1v1.1h-4.1zM148.5 450.6h3.9v1.1h-3.9zM227.9 287.5h5.2v1.1h-5.2zM227.9 291.5h4.9v1.1h-4.9zM227.9 297.5h4.4v1.1h-4.4zM307.8 285.5h3.7v1.1h-3.7z"/>
<path fill="#7ab6d9" d="M68.5 299.5h3.9v1.1h-3.9zM227.9 284.5h5.4v1.1h-5.4zM227.9 289.5h5v1.1h-5zM227.9 300.5h4.2v1.1h-4.2zM227.9 453.2h2.9v1.1h-2.9zM307.8 315.5h2.1v1.1h-2.1z"/>
<path fill="#75b4d8" d="M68.5 287.5h4.7v1.1h-4.7zM68.5 451.9h4.2v1.1h-4.2zM227.9 304.5h3.9v1.1h-3.9zM307.8 297.5h3.1v1.1h-3.1z"/>
<path fill="#70b1d7" d="M68.5 282.5h5v1.1h-5zM68.5 288.5h4.6v1.1h-4.6zM148.5 304.5h2.7v1.1h-2.7zM148.5 451.6h3.6v1.1h-3.6zM227.9 330.5h1.8v1.1h-1.8zM307.8 280.5h3.9v1.1h-3.9zM307.8 283.5h3.8v1.1h-3.8zM307.8 450.2h3.2v1.1h-3.2zM307.8 451.2h3v1.1h-3z"/>
<path fill="#6baed6" d="M227.9 288.5h5.1v1.1h-5.1zM307.8 287.5h3.6v1.1h-3.6zM307.8 301.5h2.9v1.1h-2.9zM307.8 325.5h1.5v1.1h-1.5zM307.8 447.2h4v1.1h-4z"/>
<path fill="#67abd4" d="M148.5 295.5h3.2v1.1h-3.2zM227.9 305.5h3.8v1.1h-3.8zM307.8 289.5h3.5v1.1h-3.5z"/>
<path fill="#63a8d3" d="M68.5 281.5h5v1.1h-5zM148.5 298.5h3v1.1h-3zM227.9 281.5h5.6v1.1h-5.6zM227.9 452.2h3.1v1.1h-3.1zM307.8 293.5h3.3v1.1h-3.3z"/>
<path fill="#5fa6d1" d="M68.5 286.5h4.7v1.1h-4.7zM227.9 294.5h4.7v1.1h-4.7zM307.8 448.2h3.7v1.1h-3.7zM307.8 452.2h2.8v1.1h-2.8z"/>
<path fill="#5ba3d0" d="M68.5 276.5h5.3v1.1h-5.3zM68.5 284.5h4.8v1.1h-4.8zM68.5 289.5h4.5v1.1h-4.5zM227.9 282.5h5.5v1.1h-5.5zM307.8 275.5h4.2v1.1h-4.2zM307.8 277.5h4.1v1.1h-4.1zM307.8 278.5h4v1.1h-4zM307.8 446.2h4.2v1.1h-4.2z"/>
<path fill="#56a0ce" d="M227.9 449.2h3.9v1.1h-3.9zM227.9 450.2h3.7v1.1h-3.7zM307.8 449.2h3.5v1.1h-3.5z"/>
<path fill="#529dcc" d="M68.5 275.5h5.4v1.1h-5.4zM227.9 290.5h4.9v1.1h-4.9z"/>
<path fill="#4e9acb" d="M148.5 276.5h4.2v1.1h-4.2zM148.5 294.5h3.2v1.1h-3.2zM227.9 278.5h5.8v1.1h-5.8zM227.9 280.5h5.7v1.1h-5.7zM227.9 451.2h3.4v1.1h-3.4zM307.8 286.5h3.6v1.1h-3.6z"/>
<path fill="#4a98c9" d="M68.5 309.5h3.2v1.1h-3.2zM148.5 281.5h3.9v1.1h-3.9zM148.5 297.5h3.1v1.1h-3.1z"/>
<path fill="#4695c8" d="M68.5 295.5h4.1v1.1h-4.1zM148.5 282.5h3.9v1.1h-3.9zM148.5 287.5h3.6v1.1h-3.6zM227.9 298.5h4.4v1.1h-4.4z"/>
<path fill="#4292c6" d="M227.9 279.5h5.7v1.1h-5.7zM307.8 282.5h3.8v1.1h-3.8zM307.8 284.5h3.7v1.1h-3.7z"/>
<path fill="#3f8fc4" d="M148.5 286.5h3.7v1.1h-3.7zM227.9 276.5h5.9v1.1h-5.9zM227.9 283.5h5.4v1.1h-5.4zM227.9 296.5h4.5v1.1h-4.5zM227.9 448.2h4.2v1.1h-4.2zM307.8 288.5h3.5v1.1h-3.5z"/>
<path fill="#3b8bc3" d="M68.5 280.5h5.1v1.1h-5.1zM68.5 283.5h4.9v1.1h-4.9zM68.5 294.5h4.2v1.1h-4.2zM148.5 280.5h4v1.1h-4zM227.9 275.5h6v1.1h-6z"/>
<path fill="#3888c1" d="M68.5 277.5h5.3v1.1h-5.3zM227.9 295.5h4.6v1.1h-4.6zM307.8 281.5h3.9v1.1h-3.9z"/>
<path fill="#3282be" d="M148.5 278.5h4.1v1.1h-4.1z"/>
<path fill="#2878b8" d="M227.9 277.5h5.9v1.1h-5.9zM307.8 276.5h4.1v1.1h-4.1z"/>
<path fill="#1f6eb2" d="M68.5 279.5h5.2v1.1h-5.2z"/>
<path fill="#d7e6f5" d="M162.5 432h4.4v1h-4.4zM225.6 407h7.8v1h-7.8zM239.6 428h4.2v1h-4.2z"/>
<path fill="#d2e3f3" d="M222.3 400h5.3v1h-5.3z"/>
<path fill="#d0e1f2" d="M228.1 445h1.3v2h-1.3zM286 423h5v1h-5z"/>
<path fill="#cde0f1" d="M228.1 425h3.1v1.5h-3.1z"/>
<path fill="#cbdef1" d="M69.5 348h6.3v1h-6.3zM61.2 422h6.2v1h-6.2zM150.5 430h2.1v1h-2.1z"/>
<path fill="#c8ddf0" d="M236.4 393h5.3v1h-5.3zM308 358h6.4v1h-6.4z"/>
<path fill="#c6dbef" d="M248.6 359h3.1v1h-3.1zM308.1 437h3v1.5h-3zM316.4 362h5.9v1h-5.9z"/>
<path fill="#c2d9ee" d="M70.5 446h2.1v2h-2.1zM148.9 414h3.2v1h-3.2zM227.8 407h2.8v1.5h-2.8z"/>
<path fill="#bed8ec" d="M148.9 432h3.2v2h-3.2zM237.8 324h4.3v1h-4.3zM226.8 400h3.5v1h-3.5zM228.6 403h2.8v1h-2.8zM229.3 428h1.7v1.5h-1.7zM317 315h7.4v1h-7.4z"/>
<path fill="#bad6eb" d="M55.7 337h3.3v1h-3.3zM149.4 435h2.6v1h-2.6zM147.9 389h4.3v1h-4.3z"/>
<path fill="#b6d4e9" d="M228.1 409h1.8v1h-1.8zM226.6 379h6.9v1h-6.9z"/>
<path fill="#b2d2e8" d="M49.3 301h6.4v1h-6.4zM228.5 400h2v2h-2zM243.2 278h7.6v1h-7.6zM227.4 377h3.7v1h-3.7z"/>
<path fill="#aed1e7" d="M49.1 351h4.6v1h-4.6zM293.4 288h6.2v1h-6.2z"/>
<path fill="#aacfe5" d="M77.7 321h4.8v1h-4.8zM149.2 386h3.8v1.5h-3.8zM228.9 380h4.1v1.5h-4.1zM230 416h1.6v1h-1.6zM309.6 406h2.7v1.5h-2.7zM309.4 423h2v1h-2zM297.5 364h3.3v1h-3.3z"/>
<path fill="#a6cde4" d="M54.6 332h6.4v1h-6.4zM67.4 359h3.2v2h-3.2zM293.2 306h5.2v1h-5.2z"/>
<path fill="#a2cce2" d="M69.3 282h6.5v1h-6.5zM150.6 422h2.1v1h-2.1z"/>
<path fill="#9ecae1" d="M68.7 397h4.1v1h-4.1zM66.3 348h5.4v1.5h-5.4zM69.8 422h3.5v1h-3.5zM142.4 310h7.9v1h-7.9zM228.1 369h3.1v1h-3.1zM227.7 385h2.3v2h-2.3zM226.8 344h4.6v1h-4.6z"/>
<path fill="#99c7e0" d="M67.6 362h4.5v1h-4.5zM149.5 339h4.1v2h-4.1zM236.7 277h4.4v1h-4.4zM228.4 393h4.6v1h-4.6zM308 358h5.2v1.5h-5.2z"/>
<path fill="#94c4df" d="M68.8 407h3.1v1h-3.1zM60.8 287h4.1v1h-4.1zM149.5 412h2.8v1h-2.8zM228.7 403h2.1v2h-2.1z"/>
<path fill="#8fc2de" d="M306.4 362h5v1h-5z"/>
<path fill="#8abfdd" d="M228.6 359h3.6v1.5h-3.6zM302.8 315h6.2v1h-6.2z"/>
<path fill="#84bcdc" d="M306.9 345h4.7v1h-4.7z"/>
<path fill="#7fb9da" d="M68 391h2.4v1.5h-2.4zM141.3 290h4v1h-4zM226.6 324h4.6v1.5h-4.6zM239 276h5.7v1h-5.7zM229.3 399h3.9v1h-3.9zM326 291h3.5v1h-3.5z"/>
<path fill="#7ab6d9" d="M68 300h3.7v1h-3.7zM240.8 285h3.8v1h-3.8zM228.3 345h4.9v1.5h-4.9zM230 380h2.1v2h-2.1zM228.8 393h1.9v2h-1.9zM307.8 315h5.7v1h-5.7z"/>
<path fill="#75b4d8" d="M68.6 337h3.6v2h-3.6zM295.1 291h4.5v1h-4.5z"/>
<path fill="#70b1d7" d="M148.7 313h5.5v1.5h-5.5zM149.9 383h3.8v1h-3.8zM227.8 289h3.1v1h-3.1zM226.6 379h3.9v1.5h-3.9zM308.8 297h4.2v1h-4.2zM295.3 284h3.9v1h-3.9z"/>
<path fill="#6baed6" d="M147.2 293h4.3v2h-4.3zM226.8 333h3.7v1h-3.7zM229.2 285h3v1h-3zM229.9 367h2.1v2h-2.1zM308.7 378h3.2v1.5h-3.2z"/>
<path fill="#67abd4" d="M69.7 301h4.1v1h-4.1zM225.6 278h7.3v1h-7.3zM308.1 276h5v1.5h-5zM306.3 323h4.8v1h-4.8zM308.8 309h3.6v2h-3.6z"/>
<path fill="#63a8d3" d="M148.4 372h3.9v1.5h-3.9zM227.4 335h4.7v2h-4.7z"/>
<path fill="#5fa6d1" d="M66.6 351h5v2h-5zM68.2 277h6.1v1.5h-6.1zM66.9 323h5.6v2h-5.6zM68.9 276h4.3v1h-4.3zM149.9 279h3.9v1h-3.9zM148.9 298h3.3v1h-3.3zM305.5 312h6.4v1.5h-6.4zM309.1 288h3.8v2h-3.8z"/>
<path fill="#56a0ce" d="M68.4 333h4.5v1h-4.5zM226.7 336h4v1.5h-4zM307.2 364h4.4v1h-4.4z"/>
<path fill="#529dcc" d="M67.7 321h5.6v1h-5.6zM70.4 299h3.1v1h-3.1zM146.9 311h5.6v1h-5.6zM228.3 306h4.8v2h-4.8zM228.5 285h5.7v1h-5.7zM307.6 342h3.9v1.5h-3.9zM308.4 326h2.7v1h-2.7zM307.4 306h4.7v1h-4.7z"/>
<path fill="#4e9acb" d="M70 332h3.5v1h-3.5zM69.6 321h3.1v1h-3.1zM307.1 344h5.6v1.5h-5.6z"/>
<path fill="#4a98c9" d="M69.2 314h5.1v1h-5.1zM67.1 282h5.7v1h-5.7z"/>
<path fill="#4695c8" d="M66.3 349h6v1.5h-6zM147.8 318h6.5v2h-6.5z"/>
<path fill="#4292c6" d="M68.8 300h2.8v2h-2.8zM148.3 310h4.9v2h-4.9z"/>
<path fill="#3f8fc4" d="M67.7 295h6.9v2h-6.9zM148.2 303h4.7v1h-4.7zM227 277h3.7v1h-3.7z"/>
<path fill="#3b8bc3" d="M146.7 328h6v2h-6z"/>
<path fill="#3888c1" d="M227.7 309h5.9v1.5h-5.9z"/>
<path fill="#3585bf" d="M66.3 287h7.4v1h-7.4zM226.4 284h7.5v1h-7.5z"/>
<path fill="#3282be" d="M229 318h3.6v1.5h-3.6z"/>
<path fill="#2e7ebc" d="M148.7 313h4.3v1h-4.3z"/>
<path fill="#2b7bba" d="M309.2 315h3.3v2h-3.3z"/>
<path fill="#2878b8" d="M70.5 289h3v1h-3z"/>
<path fill="#2474b7" d="M228.6 301h4.9v2h-4.9zM306.1 278h5.9v1.5h-5.9z"/>
<path fill="#2171b5" d="M226.5 276h6.4v1h-6.4zM306.7 291h3.3v1h-3.3z"/>
<path fill="#1f6eb2" d="M147.8 290h5.7v1.5h-5.7zM148.2 316h6.9v1h-6.9zM309.1 289h2.9v1.5h-2.9z"/>
<path fill="#1c6bb0" d="M67.5 303h5.5v1h-5.5zM226.9 285h3.6v1h-3.6z"/>
<path fill="#1764ab" d="M307.3 291h4.5v1.5h-4.5zM306.4 284h6.4v2h-6.4z"/>
<path fill="#1461a8" d="M66.8 293h5.2v1h-5.2z"/>
<path fill="#125ea6" d="M149.3 289h5.3v1.5h-5.3zM226.7 282h5v1.5h-5zM308.4 305h2.9v1h-2.9z"/>
<path fill="#0f5ba4" d="M307.3 276h3.2v1h-3.2z"/>
<path fill="#084e97" d="M308.2 283h3.1v1.5h-3.1z"/>
<path fill="#084a92" d="M66.5 280h7v1h-7z"/>
</g>
<rect x="34.2" y="275.5" width="62.7" height="188.3" fill="none" stroke="#000" stroke-width="1.2"/>
<line x1="34.2" y1="451.9" x2="96.9" y2="451.9" stroke="#000" stroke-width="2.2"/>
<line x1="68.5" y1="463.8" x2="68.5" y2="465.3" stroke="#000" stroke-width="0.8"/>
<rect x="114.2" y="275.5" width="62.3" height="188.3" fill="none" stroke="#000" stroke-width="1.2"/>
<line x1="114.2" y1="449.6" x2="176.5" y2="449.6" stroke="#000" stroke-width="2.2"/>
<line x1="148.5" y1="463.8" x2="148.5" y2="465.3" stroke="#000" stroke-width="0.8"/>
<rect x="193.6" y="275.5" width="61.9" height="188.3" fill="none" stroke="#000" stroke-width="1.2"/>
<line x1="193.6" y1="448.2" x2="255.5" y2="448.2" stroke="#000" stroke-width="2.2"/>
<line x1="227.9" y1="463.8" x2="227.9" y2="465.3" stroke="#000" stroke-width="0.8"/>
<rect x="273.5" y="275.5" width="61.8" height="188.3" fill="none" stroke="#000" stroke-width="1.2"/>
<line x1="273.5" y1="446.2" x2="335.3" y2="446.2" stroke="#000" stroke-width="2.2"/>
<line x1="307.8" y1="463.8" x2="307.8" y2="465.3" stroke="#000" stroke-width="0.8"/>
<text transform="translate(21.6,363.5) rotate(-90)" text-anchor="middle">Novel TSSs</text>
<text transform="translate(31,363.9) rotate(-90)" text-anchor="middle">n = 891</text>
<text transform="translate(21.6,464.8) rotate(-90)">Novel gene TSSs</text>
<text transform="translate(31,464.8) rotate(-90)">n = 94</text>
<text transform="translate(111.6,377) rotate(-90)">n = 1,361</text>
<text transform="translate(190.4,377) rotate(-90)">n = 1,379</text>
<text transform="translate(269.2,377) rotate(-90)">n = 796</text>
<text transform="translate(111.6,464.5) rotate(-90)">n = 130</text>
<text transform="translate(190.4,464.5) rotate(-90)">n = 142</text>
<text transform="translate(269.2,464.5) rotate(-90)">n = 112</text>
<text x="40.9" y="473.8" text-anchor="middle">-3.0</text>
<text x="69.2" y="473.8" text-anchor="middle">TSS</text>
<text x="92.8" y="473.8" text-anchor="middle">3.0</text>
<text x="66.2" y="482" text-anchor="middle">gene distance (kb)</text>
<text x="121.7" y="473.8" text-anchor="middle">-3.0</text>
<text x="150" y="473.8" text-anchor="middle">TSS</text>
<text x="172.8" y="473.8" text-anchor="middle">3.0</text>
<text x="146.2" y="482" text-anchor="middle">gene distance (kb)</text>
<text x="201.1" y="473.8" text-anchor="middle">-3.0</text>
<text x="229.4" y="473.8" text-anchor="middle">TSS</text>
<text x="252.2" y="473.8" text-anchor="middle">3.0</text>
<text x="225.6" y="482" text-anchor="middle">gene distance (kb)</text>
<text x="281" y="473.8" text-anchor="middle">-3.0</text>
<text x="309.3" y="473.8" text-anchor="middle">TSS</text>
<text x="332.1" y="473.8" text-anchor="middle">3.0</text>
<text x="305.5" y="482" text-anchor="middle">gene distance (kb)</text>
<defs><linearGradient id="cb489" x1="0" x2="1" y1="0" y2="0">
<stop offset="0%" stop-color="#f7fbff"/>
<stop offset="12.5%" stop-color="#deebf7"/>
<stop offset="25%" stop-color="#c6dbef"/>
<stop offset="37.5%" stop-color="#9ecae1"/>
<stop offset="50%" stop-color="#6baed6"/>
<stop offset="62.5%" stop-color="#4292c6"/>
<stop offset="75%" stop-color="#2171b5"/>
<stop offset="87.5%" stop-color="#08519c"/>
<stop offset="100%" stop-color="#08306b"/>
</linearGradient></defs>
<rect x="36" y="489" width="53.5" height="5.6" fill="url(#cb489)" stroke="#000" stroke-width="0.8"/>
<line x1="36.9" y1="493.4" x2="36.9" y2="494.6" stroke="#000" stroke-width="0.6"/>
<text x="36.9" y="503.5" text-anchor="middle">0.0</text>
<line x1="57.9" y1="493.4" x2="57.9" y2="494.6" stroke="#000" stroke-width="0.6"/>
<text x="57.9" y="503.5" text-anchor="middle">0.4</text>
<line x1="79" y1="493.4" x2="79" y2="494.6" stroke="#000" stroke-width="0.6"/>
<text x="79" y="503.5" text-anchor="middle">0.8</text>
<text x="97" y="494">H3k4me3</text>
<text x="363.2" y="10.6" font-size="13" font-weight="bold">C</text>
<line x1="408.2" y1="178.4" x2="411.2" y2="178.4" stroke="#000" stroke-width="0.8"/>
<text x="407.4" y="180.9" text-anchor="end">0</text>
<line x1="408.2" y1="142.7" x2="411.2" y2="142.7" stroke="#000" stroke-width="0.8"/>
<text x="407.4" y="145.2" text-anchor="end">5,000</text>
<line x1="408.2" y1="106.9" x2="411.2" y2="106.9" stroke="#000" stroke-width="0.8"/>
<text x="407.4" y="109.4" text-anchor="end">10,000</text>
<line x1="408.2" y1="71.2" x2="411.2" y2="71.2" stroke="#000" stroke-width="0.8"/>
<text x="407.4" y="73.7" text-anchor="end">15,000</text>
<line x1="408.2" y1="35.4" x2="411.2" y2="35.4" stroke="#000" stroke-width="0.8"/>
<text x="407.4" y="37.9" text-anchor="end">20,000</text>
<rect x="414.9" y="51.1" width="7" height="14.5" fill="#d9281c"/>
<rect x="414.9" y="65.6" width="7" height="112.8" fill="#474b92"/>
<rect x="421.9" y="110" width="7" height="4.2" fill="#d9281c"/>
<rect x="421.9" y="114.3" width="7" height="64.1" fill="#474b92"/>
<line x1="421.9" y1="114.3" x2="421.9" y2="178.4" stroke="#6a6fae" stroke-width="0.5"/>
<rect x="429" y="156.3" width="7" height="7.7" fill="#d9281c"/>
<rect x="429" y="164" width="7" height="14.4" fill="#474b92"/>
<line x1="429" y1="164" x2="429" y2="178.4" stroke="#6a6fae" stroke-width="0.5"/>
<rect x="436" y="177.2" width="7" height="0.8" fill="#d9281c"/>
<rect x="436" y="178" width="7" height="0.4" fill="#474b92"/>
<line x1="436" y1="178" x2="436" y2="178.4" stroke="#6a6fae" stroke-width="0.5"/>
<rect x="414.9" y="180.3" width="28.2" height="7.9" fill="#de5040"/>
<line x1="421.9" y1="180.3" x2="421.9" y2="188.2" stroke="#ffffff" stroke-width="0.3" stroke-opacity="0.5"/>
<line x1="429" y1="180.3" x2="429" y2="188.2" stroke="#ffffff" stroke-width="0.3" stroke-opacity="0.5"/>
<line x1="436" y1="180.3" x2="436" y2="188.2" stroke="#ffffff" stroke-width="0.3" stroke-opacity="0.5"/>
<text transform="translate(416.1,190.6) rotate(90)" font-size="7.5">Annotated TSS</text>
<text transform="translate(423.2,190.6) rotate(90)" font-size="7.5">Classic TSS</text>
<text transform="translate(430.2,190.6) rotate(90)" font-size="7.5">Novel TSS</text>
<text transform="translate(437.3,190.6) rotate(90)" font-size="7.5">Novel gene TSS</text>
<rect x="444.1" y="21.1" width="7" height="18.6" fill="#d9281c"/>
<rect x="444.1" y="39.7" width="7" height="138.7" fill="#474b92"/>
<rect x="451.2" y="72.6" width="7" height="7.4" fill="#d9281c"/>
<rect x="451.2" y="80" width="7" height="98.4" fill="#474b92"/>
<line x1="451.2" y1="80" x2="451.2" y2="178.4" stroke="#6a6fae" stroke-width="0.5"/>
<rect x="458.2" y="142.5" width="7" height="10.6" fill="#d9281c"/>
<rect x="458.2" y="153.1" width="7" height="25.3" fill="#474b92"/>
<line x1="458.2" y1="153.1" x2="458.2" y2="178.4" stroke="#6a6fae" stroke-width="0.5"/>
<rect x="465.2" y="176.4" width="7" height="1.1" fill="#d9281c"/>
<rect x="465.2" y="177.5" width="7" height="0.9" fill="#474b92"/>
<line x1="465.2" y1="177.5" x2="465.2" y2="178.4" stroke="#6a6fae" stroke-width="0.5"/>
<rect x="444.1" y="180.3" width="28.2" height="7.9" fill="#62bdd3"/>
<line x1="451.2" y1="180.3" x2="451.2" y2="188.2" stroke="#ffffff" stroke-width="0.3" stroke-opacity="0.5"/>
<line x1="458.2" y1="180.3" x2="458.2" y2="188.2" stroke="#ffffff" stroke-width="0.3" stroke-opacity="0.5"/>
<line x1="465.2" y1="180.3" x2="465.2" y2="188.2" stroke="#ffffff" stroke-width="0.3" stroke-opacity="0.5"/>
<text transform="translate(445.3,190.6) rotate(90)" font-size="7.5">Annotated TSS</text>
<text transform="translate(452.4,190.6) rotate(90)" font-size="7.5">Classic TSS</text>
<text transform="translate(459.4,190.6) rotate(90)" font-size="7.5">Novel TSS</text>
<text transform="translate(466.5,190.6) rotate(90)" font-size="7.5">Novel gene TSS</text>
<rect x="473.1" y="70.4" width="7" height="16.7" fill="#d9281c"/>
<rect x="473.1" y="87.1" width="7" height="91.3" fill="#474b92"/>
<rect x="480.2" y="103.6" width="7" height="9.4" fill="#d9281c"/>
<rect x="480.2" y="113" width="7" height="65.4" fill="#474b92"/>
<line x1="480.2" y1="113" x2="480.2" y2="178.4" stroke="#6a6fae" stroke-width="0.5"/>
<rect x="487.2" y="156.6" width="7" height="8.3" fill="#d9281c"/>
<rect x="487.2" y="164.9" width="7" height="13.5" fill="#474b92"/>
<line x1="487.2" y1="164.9" x2="487.2" y2="178.4" stroke="#6a6fae" stroke-width="0.5"/>
<rect x="494.2" y="174.9" width="7" height="1.7" fill="#d9281c"/>
<rect x="494.2" y="176.6" width="7" height="1.8" fill="#474b92"/>
<line x1="494.2" y1="176.6" x2="494.2" y2="178.4" stroke="#6a6fae" stroke-width="0.5"/>
<rect x="473.1" y="180.3" width="28.2" height="7.9" fill="#3a9c86"/>
<line x1="480.2" y1="180.3" x2="480.2" y2="188.2" stroke="#ffffff" stroke-width="0.3" stroke-opacity="0.5"/>
<line x1="487.2" y1="180.3" x2="487.2" y2="188.2" stroke="#ffffff" stroke-width="0.3" stroke-opacity="0.5"/>
<line x1="494.2" y1="180.3" x2="494.2" y2="188.2" stroke="#ffffff" stroke-width="0.3" stroke-opacity="0.5"/>
<text transform="translate(474.3,190.6) rotate(90)" font-size="7.5">Annotated TSS</text>
<text transform="translate(481.4,190.6) rotate(90)" font-size="7.5">Classic TSS</text>
<text transform="translate(488.4,190.6) rotate(90)" font-size="7.5">Novel TSS</text>
<text transform="translate(495.5,190.6) rotate(90)" font-size="7.5">Novel gene TSS</text>
<rect x="502" y="38.8" width="7" height="20.9" fill="#d9281c"/>
<rect x="502" y="59.7" width="7" height="118.7" fill="#474b92"/>
<rect x="509.1" y="109" width="7" height="3.1" fill="#d9281c"/>
<rect x="509.1" y="112.1" width="7" height="66.3" fill="#474b92"/>
<line x1="509.1" y1="112.1" x2="509.1" y2="178.4" stroke="#6a6fae" stroke-width="0.5"/>
<rect x="516.1" y="158.4" width="7" height="7.2" fill="#d9281c"/>
<rect x="516.1" y="165.5" width="7" height="12.9" fill="#474b92"/>
<line x1="516.1" y1="165.5" x2="516.1" y2="178.4" stroke="#6a6fae" stroke-width="0.5"/>
<rect x="523.1" y="172.5" width="7" height="3" fill="#d9281c"/>
<rect x="523.1" y="175.5" width="7" height="2.9" fill="#474b92"/>
<line x1="523.1" y1="175.5" x2="523.1" y2="178.4" stroke="#6a6fae" stroke-width="0.5"/>
<rect x="502" y="180.3" width="28.2" height="7.9" fill="#414c80"/>
<line x1="509.1" y1="180.3" x2="509.1" y2="188.2" stroke="#ffffff" stroke-width="0.3" stroke-opacity="0.5"/>
<line x1="516.1" y1="180.3" x2="516.1" y2="188.2" stroke="#ffffff" stroke-width="0.3" stroke-opacity="0.5"/>
<line x1="523.1" y1="180.3" x2="523.1" y2="188.2" stroke="#ffffff" stroke-width="0.3" stroke-opacity="0.5"/>
<text transform="translate(503.2,190.6) rotate(90)" font-size="7.5">Annotated TSS</text>
<text transform="translate(510.3,190.6) rotate(90)" font-size="7.5">Classic TSS</text>
<text transform="translate(517.3,190.6) rotate(90)" font-size="7.5">Novel TSS</text>
<text transform="translate(524.4,190.6) rotate(90)" font-size="7.5">Novel gene TSS</text>
<rect x="530.8" y="54.8" width="7" height="21.2" fill="#d9281c"/>
<rect x="530.8" y="75.9" width="7" height="102.5" fill="#474b92"/>
<rect x="537.8" y="139.6" width="7" height="2" fill="#d9281c"/>
<rect x="537.8" y="141.6" width="7" height="36.8" fill="#474b92"/>
<line x1="537.8" y1="141.6" x2="537.8" y2="178.4" stroke="#6a6fae" stroke-width="0.5"/>
<rect x="544.9" y="166" width="7" height="4.7" fill="#d9281c"/>
<rect x="544.9" y="170.7" width="7" height="7.7" fill="#474b92"/>
<line x1="544.9" y1="170.7" x2="544.9" y2="178.4" stroke="#6a6fae" stroke-width="0.5"/>
<rect x="551.9" y="173.7" width="7" height="2.4" fill="#d9281c"/>
<rect x="551.9" y="176.1" width="7" height="2.3" fill="#474b92"/>
<line x1="551.9" y1="176.1" x2="551.9" y2="178.4" stroke="#6a6fae" stroke-width="0.5"/>
<rect x="530.8" y="180.3" width="28.2" height="7.9" fill="#f4a08c"/>
<line x1="537.8" y1="180.3" x2="537.8" y2="188.2" stroke="#ffffff" stroke-width="0.3" stroke-opacity="0.5"/>
<line x1="544.9" y1="180.3" x2="544.9" y2="188.2" stroke="#ffffff" stroke-width="0.3" stroke-opacity="0.5"/>
<line x1="551.9" y1="180.3" x2="551.9" y2="188.2" stroke="#ffffff" stroke-width="0.3" stroke-opacity="0.5"/>
<text transform="translate(532,190.6) rotate(90)" font-size="7.5">Annotated TSS</text>
<text transform="translate(539.1,190.6) rotate(90)" font-size="7.5">Classic TSS</text>
<text transform="translate(546.1,190.6) rotate(90)" font-size="7.5">Novel TSS</text>
<text transform="translate(553.2,190.6) rotate(90)" font-size="7.5">Novel gene TSS</text>
<rect x="559.9" y="40.6" width="7" height="35" fill="#d9281c"/>
<rect x="559.9" y="75.7" width="7" height="102.7" fill="#474b92"/>
<rect x="566.9" y="137.4" width="7" height="2.9" fill="#d9281c"/>
<rect x="566.9" y="140.4" width="7" height="38" fill="#474b92"/>
<line x1="566.9" y1="140.4" x2="566.9" y2="178.4" stroke="#6a6fae" stroke-width="0.5"/>
<rect x="574" y="163.7" width="7" height="6.4" fill="#d9281c"/>
<rect x="574" y="170.1" width="7" height="8.3" fill="#474b92"/>
<line x1="574" y1="170.1" x2="574" y2="178.4" stroke="#6a6fae" stroke-width="0.5"/>
<rect x="581" y="172.5" width="7" height="3.6" fill="#d9281c"/>
<rect x="581" y="176.1" width="7" height="2.3" fill="#474b92"/>
<line x1="581" y1="176.1" x2="581" y2="178.4" stroke="#6a6fae" stroke-width="0.5"/>
<rect x="559.9" y="180.3" width="28.2" height="7.9" fill="#8b93c0"/>
<line x1="566.9" y1="180.3" x2="566.9" y2="188.2" stroke="#ffffff" stroke-width="0.3" stroke-opacity="0.5"/>
<line x1="574" y1="180.3" x2="574" y2="188.2" stroke="#ffffff" stroke-width="0.3" stroke-opacity="0.5"/>
<line x1="581" y1="180.3" x2="581" y2="188.2" stroke="#ffffff" stroke-width="0.3" stroke-opacity="0.5"/>
<text transform="translate(561.1,190.6) rotate(90)" font-size="7.5">Annotated TSS</text>
<text transform="translate(568.2,190.6) rotate(90)" font-size="7.5">Classic TSS</text>
<text transform="translate(575.2,190.6) rotate(90)" font-size="7.5">Novel TSS</text>
<text transform="translate(582.3,190.6) rotate(90)" font-size="7.5">Novel gene TSS</text>
<line x1="411.6" y1="14.3" x2="411.6" y2="178.9" stroke="#000" stroke-width="1.1"/>
<line x1="411.1" y1="178.4" x2="591.6" y2="178.4" stroke="#000" stroke-width="1.1"/>
<line x1="411.1" y1="14.3" x2="591.6" y2="14.3" stroke="#000" stroke-width="1.1"/>
<line x1="443.5" y1="14.3" x2="443.5" y2="178.4" stroke="#000" stroke-width="1.5"/>
<line x1="472.5" y1="14.3" x2="472.5" y2="178.4" stroke="#000" stroke-width="1.5"/>
<line x1="501.4" y1="14.3" x2="501.4" y2="178.4" stroke="#000" stroke-width="1.5"/>
<line x1="530.1" y1="14.3" x2="530.1" y2="178.4" stroke="#000" stroke-width="1.5"/>
<line x1="559.3" y1="14.3" x2="559.3" y2="178.4" stroke="#000" stroke-width="1.5"/>
<line x1="591.3" y1="14.3" x2="591.3" y2="178.4" stroke="#000" stroke-width="1.5"/>
<text x="599.6" y="21.9">Variable</text>
<rect x="599.6" y="29.4" width="5.8" height="3" fill="#474b92"/>
<text x="608" y="33.3" font-style="italic">Supported by CAGE</text>
<rect x="599.6" y="39.5" width="5.8" height="3" fill="#d9281c"/>
<text x="608" y="43.4" font-style="italic">Not supported by CAGE</text>
<text x="599.6" y="64.5">Group</text>
<rect x="599.6" y="74" width="6.2" height="3" fill="#de5040"/>
<text x="608.5" y="78">1-cell</text>
<rect x="599.6" y="87.2" width="6.2" height="3" fill="#62bdd3"/>
<text x="608.5" y="91.2">Oblong</text>
<rect x="599.6" y="100.3" width="6.2" height="3" fill="#3a9c86"/>
<text x="608.5" y="104.3">Shield</text>
<rect x="599.6" y="113.5" width="6.2" height="3" fill="#414c80"/>
<text x="608.5" y="117.5">14-19 Somietes</text>
<rect x="599.6" y="126.6" width="6.2" height="3" fill="#f4a08c"/>
<text x="608.5" y="130.6">Prim-5</text>
<rect x="599.6" y="139.8" width="6.2" height="3" fill="#8b93c0"/>
<text x="608.5" y="143.8">Prim-25</text>
<text x="12.8" y="521.6" font-size="13" font-weight="bold">D</text>
<text x="209.5" y="516" text-anchor="middle">Chr13:2,248,323-2,311,225</text>
<rect x="330" y="541.5" width="4.2" height="160" fill="#e9e9e9"/>
<line x1="72.2" y1="524" x2="344" y2="524" stroke="#111" stroke-width="1.2"/>
<path d="M69.2 524l4 -2v4z" fill="#111"/>
<path d="M347 524l-4 -2v4z" fill="#111"/>
<rect x="197.8" y="521" width="23.5" height="6" fill="#fff"/>
<text x="209.6" y="526.5" text-anchor="middle">62 kb</text>
<line x1="70.7" y1="539.2" x2="346" y2="539.2" stroke="#111" stroke-width="1.3"/>
<line x1="78.7" y1="536" x2="78.7" y2="539" stroke="#111" stroke-width="1.0"/>
<text x="80.7" y="534.6" text-anchor="middle">2,250 kb</text>
<line x1="100.5" y1="536" x2="100.5" y2="539" stroke="#111" stroke-width="1.0"/>
<line x1="122.2" y1="536" x2="122.2" y2="539" stroke="#111" stroke-width="1.0"/>
<text x="124.2" y="534.6" text-anchor="middle">2,260 kb</text>
<line x1="143.9" y1="536" x2="143.9" y2="539" stroke="#111" stroke-width="1.0"/>
<line x1="165.7" y1="536" x2="165.7" y2="539" stroke="#111" stroke-width="1.0"/>
<text x="167.7" y="534.6" text-anchor="middle">2,270 kb</text>
<line x1="187.4" y1="536" x2="187.4" y2="539" stroke="#111" stroke-width="1.0"/>
<line x1="209.2" y1="536" x2="209.2" y2="539" stroke="#111" stroke-width="1.0"/>
<text x="211.2" y="534.6" text-anchor="middle">2,280 kb</text>
<line x1="230.9" y1="536" x2="230.9" y2="539" stroke="#111" stroke-width="1.0"/>
<line x1="252.7" y1="536" x2="252.7" y2="539" stroke="#111" stroke-width="1.0"/>
<text x="254.7" y="534.6" text-anchor="middle">2,290 kb</text>
<line x1="274.4" y1="536" x2="274.4" y2="539" stroke="#111" stroke-width="1.0"/>
<line x1="296.2" y1="536" x2="296.2" y2="539" stroke="#111" stroke-width="1.0"/>
<text x="298.2" y="534.6" text-anchor="middle">2,300 kb</text>
<line x1="317.9" y1="536" x2="317.9" y2="539" stroke="#111" stroke-width="1.0"/>
<line x1="339.7" y1="536" x2="339.7" y2="539" stroke="#111" stroke-width="1.0"/>
<text x="341.7" y="534.6" text-anchor="middle">2,310 kb</text>
<rect x="70" y="540.2" width="275" height="1.6" fill="#f4f4f4"/>
<text x="69" y="552.3" text-anchor="end">Unfertilized RNA-seq</text>
<path fill="#2c2f8c" d="M111.4 553.5v-2.5h1.2v2.5zM130.8 553.5v-2.5h1.2v2.5zM135.9 553.5v-2h1.2v2zM154.3 553.5v-1h1.2v1zM164.9 553.5v-1.5h1.2v1.5zM170.7 553.5v-1.5h1.2v1.5zM181.9 553.5v-1.5h1.2v1.5zM194.6 553.5v-1.5h1.2v1.5zM219.5 553.5v-1h1.2v1zM221.6 553.5v-0.5h1.2v0.5zM331.1 553.5v-3h1.2v3z"/>
<path fill="#2c2f8c" d="M96.9 553.5L96.9 553.5L97.1 553.5L97.3 553.2L97.5 552.5L97.7 551.7L97.9 551.4L98.1 551.4L98.3 551.7L98.5 552.5L98.7 553.2L98.9 553.5L99.1 553.5L99.1 553.5zM98.1 553.5L98.1 553.5L98.3 553.5L98.5 553L98.7 552.3L98.9 552.1L99.1 552.3L99.3 553L99.5 553.5L99.7 553.5L99.7 553.5zM99.7 553.5L99.7 553.5L99.9 553.5L100.1 553L100.3 551.9L100.5 551L100.7 550.8L100.9 551L101.1 551.9L101.3 553L101.5 553.5L101.7 553.5L101.7 553.5zM100.4 553.5L100.4 553.5L100.6 553.5L100.8 553.1L101 552.2L101.2 551.1L101.4 550.7L101.6 550.7L101.8 551.1L102 552.2L102.2 553.1L102.4 553.5L102.6 553.5L102.6 553.5zM96.6 553.5L96.6 553.5L96.8 553.5L97 553.5L97.2 553.5L97.4 553.5L97.6 553.4L97.8 553.4L98 553.3L98.2 553.1L98.4 553L98.6 552.9L98.8 552.7L99 552.6L99.2 552.6L99.4 552.5L99.6 552.5L99.8 552.5L100 552.5L100.2 552.5L100.4 552.6L100.6 552.6L100.8 552.7L101 552.9L101.2 553L101.4 553.1L101.6 553.3L101.8 553.4L102 553.4L102.2 553.5L102.4 553.5L102.6 553.5L102.8 553.5L103 553.5L103 553.5z"/>
<line x1="70.2" y1="553.5" x2="346" y2="553.5" stroke="#2c2f8c" stroke-width="1.15"/>
<text x="72" y="550.9" font-size="5" style="stroke-width:0.12px">[0 - 416]</text>
<text x="69" y="563.3" text-anchor="end">Unfertilized H3K4me3</text>
<line x1="70.2" y1="564.5" x2="346" y2="564.5" stroke="#c77cc2" stroke-width="1.15"/>
<text x="72" y="561.9" font-size="5" style="stroke-width:0.12px">[0 - 20]</text>
<text x="69" y="574.3" text-anchor="end">2-cell RNA-seq</text>
<path fill="#2c2f8c" d="M111.4 575.5v-7.5h1.2v7.5zM130.8 575.5v-6h1.2v6zM135.9 575.5v-4h1.2v4zM154.3 575.5v-3h1.2v3zM164.9 575.5v-4h1.2v4zM170.7 575.5v-4h1.2v4zM181.9 575.5v-3h1.2v3zM194.6 575.5v-4h1.2v4zM219.5 575.5v-4h1.2v4zM221.6 575.5v-2h1.2v2zM331.1 575.5v-2h1.2v2z"/>
<path fill="#2c2f8c" d="M96.9 575.5L96.9 575.5L97.1 575.4L97.3 574.7L97.5 572.7L97.7 570.4L97.9 569.5L98.1 569.5L98.3 570.4L98.5 572.7L98.7 574.7L98.9 575.4L99.1 575.5L99.1 575.5zM98.1 575.5L98.1 575.5L98.3 575.4L98.5 574L98.7 572L98.9 571.5L99.1 572L99.3 574L99.5 575.4L99.7 575.5L99.7 575.5zM99.7 575.5L99.7 575.5L99.9 575.4L100.1 574.1L100.3 570.9L100.5 568.4L100.7 567.9L100.9 568.4L101.1 570.9L101.3 574.1L101.5 575.4L101.7 575.5L101.7 575.5zM100.4 575.5L100.4 575.5L100.6 575.4L100.8 574.5L101 571.7L101.2 568.7L101.4 567.5L101.6 567.5L101.8 568.7L102 571.7L102.2 574.5L102.4 575.4L102.6 575.5L102.6 575.5zM96.6 575.5L96.6 575.5L96.8 575.5L97 575.5L97.2 575.5L97.4 575.4L97.6 575.3L97.8 575.1L98 574.8L98.2 574.5L98.4 574.1L98.6 573.7L98.8 573.3L99 573L99.2 572.8L99.4 572.7L99.6 572.7L99.8 572.7L100 572.7L100.2 572.7L100.4 572.8L100.6 573L100.8 573.3L101 573.7L101.2 574.1L101.4 574.5L101.6 574.8L101.8 575.1L102 575.3L102.2 575.4L102.4 575.5L102.6 575.5L102.8 575.5L103 575.5L103 575.5z"/>
<line x1="70.2" y1="575.5" x2="346" y2="575.5" stroke="#2c2f8c" stroke-width="1.15"/>
<text x="72" y="572.9" font-size="5" style="stroke-width:0.12px">[0 - 175]</text>
<text x="69" y="585.3" text-anchor="end">2-cell H3K4me3</text>
<line x1="70.2" y1="586.5" x2="346" y2="586.5" stroke="#c77cc2" stroke-width="1.15"/>
<text x="72" y="583.9" font-size="5" style="stroke-width:0.12px">[0 - 28]</text>
<text x="69" y="596.3" text-anchor="end">128-cell RNA-seq</text>
<path fill="#2c2f8c" d="M111.4 597.5v-5h1.2v5zM130.8 597.5v-5h1.2v5zM135.9 597.5v-3h1.2v3zM154.3 597.5v-3h1.2v3zM164.9 597.5v-4h1.2v4zM170.7 597.5v-4h1.2v4zM181.9 597.5v-4h1.2v4zM194.6 597.5v-4h1.2v4zM219.5 597.5v-4h1.2v4zM221.6 597.5v-2h1.2v2zM331.1 597.5v-4h1.2v4z"/>
<path fill="#2c2f8c" d="M96.9 597.5L96.9 597.5L97.1 597.4L97.3 596.9L97.5 595.2L97.7 593.4L97.9 592.7L98.1 592.7L98.3 593.4L98.5 595.2L98.7 596.9L98.9 597.4L99.1 597.5L99.1 597.5zM98.1 597.5L98.1 597.5L98.3 597.4L98.5 596.3L98.7 594.6L98.9 594.2L99.1 594.6L99.3 596.3L99.5 597.4L99.7 597.5L99.7 597.5zM99.7 597.5L99.7 597.5L99.9 597.4L100.1 596.4L100.3 593.8L100.5 591.7L100.7 591.3L100.9 591.7L101.1 593.8L101.3 596.4L101.5 597.4L101.7 597.5L101.7 597.5zM100.4 597.5L100.4 597.5L100.6 597.4L100.8 596.7L101 594.4L101.2 592L101.4 591L101.6 591L101.8 592L102 594.4L102.2 596.7L102.4 597.4L102.6 597.5L102.6 597.5zM96.6 597.5L96.6 597.5L96.8 597.5L97 597.5L97.2 597.5L97.4 597.4L97.6 597.3L97.8 597.2L98 597L98.2 596.7L98.4 596.3L98.6 596L98.8 595.7L99 595.5L99.2 595.3L99.4 595.3L99.6 595.2L99.8 595.2L100 595.2L100.2 595.3L100.4 595.3L100.6 595.5L100.8 595.7L101 596L101.2 596.3L101.4 596.7L101.6 597L101.8 597.2L102 597.3L102.2 597.4L102.4 597.5L102.6 597.5L102.8 597.5L103 597.5L103 597.5z"/>
<line x1="70.2" y1="597.5" x2="346" y2="597.5" stroke="#2c2f8c" stroke-width="1.15"/>
<text x="72" y="594.9" font-size="5" style="stroke-width:0.12px">[0 - 152]</text>
<text x="69" y="607.3" text-anchor="end">128-cell H3K4me3</text>
<path fill="#c77cc2" fill-opacity="0.9" d="M71 608.5L71 608.2L71.5 608.3L72 608.3L72.5 608.2L73 608.3L73.5 608.2L74 608.2L74.5 607.9L75 607.4L75.5 607.5L76 607.9L76.5 608.1L77 608.2L77.5 608.3L78 608.3L78.5 608.2L79 608.2L79.5 608L80 607.8L80.5 607.2L81 606.2L81.5 605.3L82 605.2L82.5 605.9L83 606.5L83.5 606.9L84 607.3L84.5 607.7L85 608L85.5 608.1L86 608.1L86.5 608.2L87 608.2L87.5 608.2L88 608.1L88.5 608.3L89 608.2L89.5 608.3L90 608.3L90.5 608.2L91 608.3L91.5 608.3L92 608.2L92.5 608.3L93 608.1L93.5 608L94 607.7L94.5 607.3L95 606.5L95.5 606L96 606L96.5 606.5L97 607.2L97.5 607.6L98 608L98.5 608.2L99 608.2L99.5 608.3L100 608.3L100.5 608.3L101 608.2L101.5 608.3L102 608.3L102.5 608.3L103 608.2L103.5 608.3L104 608.3L104.5 608.2L105 608.3L105.5 608.2L106 608.2L106.5 608.3L107 608.2L107.5 608.2L108 608.3L108.5 608.3L109 608.3L109.5 608.2L110 608.3L110.5 608.3L111 608.2L111.5 608.2L112 608.2L112.5 608.3L113 608.3L113.5 608.3L114 608.2L114.5 608.2L115 608.3L115.5 608.2L116 608.3L116.5 608.2L117 608.2L117.5 608.2L118 608.2L118.5 608L119 607.8L119.5 607.4L120 607.2L120.5 607.2L121 607.2L121.5 606.9L122 606.6L122.5 606L123 605.2L123.5 605L124 605.4L124.5 606L125 606.1L125.5 606.5L126 606.9L126.5 607.1L127 607.3L127.5 606.9L128 606.3L128.5 605.8L129 605.9L129.5 606.5L130 607L130.5 607.6L131 607.8L131.5 608.1L132 608.2L132.5 608.2L133 608.3L133.5 608.2L134 608.3L134.5 608.3L135 608.2L135.5 608.3L136 608.3L136.5 608.3L137 608.2L137.5 608.2L138 608.3L138.5 608.2L139 608.2L139.5 608.3L140 608.3L140.5 608.3L141 608.3L141.5 608.3L142 608.3L142.5 608.3L143 608.2L143.5 608.3L144 608.3L144.5 608.2L145 608.3L145.5 608.3L146 608.2L146.5 608.2L147 607.7L147.5 607L148 606.6L148.5 607.2L149 607.9L149.5 608.2L150 608.3L150.5 608.3L151 608.2L151.5 608.2L152 608.3L152.5 608.3L153 608.3L153.5 608.3L154 608.2L154.5 608.3L155 608.2L155.5 608.3L156 608.3L156.5 608.3L157 608.2L157.5 608.1L158 607.3L158.5 606.5L159 607.2L159.5 608L160 608.3L160.5 608.2L161 608.1L161.5 608.1L162 608.2L162.5 608.3L163 608.3L163.5 608.3L164 608.3L164.5 608.3L165 608.3L165.5 608.3L166 608.3L166.5 608.3L167 608.2L167.5 608.3L168 608.2L168.5 608.3L169 608.2L169.5 608.2L170 608.2L170.5 608.3L171 608.3L171.5 608.2L172 608.3L172.5 608.2L173 608.2L173.5 608.3L174 608.3L174.5 608.2L175 608.3L175.5 608.2L176 607.9L176.5 607.7L177 607.3L177.5 607.2L178 607.2L178.5 607.5L179 607.8L179.5 607.8L180 607.4L180.5 607L181 606.8L181.5 607.3L182 607.7L182.5 608L183 608.2L183.5 608.2L184 608.3L184.5 608.3L185 608.3L185.5 608.3L186 608.3L186.5 608.3L187 608.3L187.5 608.3L188 608.3L188.5 608.3L189 608.2L189.5 608.2L190 608.2L190.5 608.3L191 608.1L191.5 607.2L192 606.9L192.5 607.4L193 608L193.5 607.9L194 607.8L194.5 607.6L195 607.5L195.5 607.6L196 607.5L196.5 607.5L197 607.6L197.5 607.4L198 607.2L198.5 607.1L199 607.2L199.5 607.5L200 607.7L200.5 608L201 608.1L201.5 608.1L202 608.1L202.5 608L203 608.1L203.5 608.1L204 608.1L204.5 608.1L205 608L205.5 607.9L206 607.8L206.5 607.6L207 607.4L207.5 607.4L208 607.4L208.5 607.6L209 607.8L209.5 607.9L210 608.1L210.5 608.2L211 608.2L211.5 608.2L212 608L212.5 607.8L213 607.5L213.5 607.4L214 607.6L214.5 607.8L215 608L215.5 608.2L216 608.3L216.5 608.2L217 608.2L217.5 608.3L218 608.2L218.5 608L219 607.9L219.5 607.6L220 607.3L220.5 607.2L221 607.1L221.5 607.2L222 607.3L222.5 607.6L223 607.5L223.5 607.2L224 607L224.5 606.8L225 607L225.5 607.4L226 607.8L226.5 608.1L227 608.2L227.5 608.1L228 608.2L228.5 608.2L229 608.2L229.5 608.2L230 608.2L230.5 608.3L231 608.2L231.5 608.3L232 608.3L232.5 608.2L233 608.3L233.5 608.2L234 608.2L234.5 607.9L235 607.8L235.5 607.5L236 606.9L236.5 606.3L237 605.9L237.5 606.2L238 606.6L238.5 607.1L239 607.6L239.5 608L240 608.1L240.5 608.2L241 608.2L241.5 608L242 607.9L242.5 607.7L243 607.2L243.5 606.8L244 606.8L244.5 607.1L245 607.5L245.5 607.5L246 607.6L246.5 607.8L247 607.8L247.5 607.9L248 608.2L248.5 608.1L249 608.2L249.5 608.1L250 607.6L250.5 607.4L251 607.7L251.5 607.9L252 607.9L252.5 607.8L253 607.7L253.5 607.9L254 608.1L254.5 608.3L255 608.3L255.5 608.3L256 608.3L256.5 608.3L257 608.1L257.5 608.2L258 608.2L258.5 608.2L259 608.3L259.5 608.2L260 607.9L260.5 607.6L261 607.5L261.5 607.9L262 608.1L262.5 607.9L263 607L263.5 606.5L264 607.3L264.5 607.7L265 607.7L265.5 607.8L266 608L266.5 608.2L267 608.2L267.5 608.2L268 608.2L268.5 608.2L269 608.2L269.5 608.3L270 608.3L270.5 608.1L271 608L271.5 607.9L272 607.8L272.5 607.5L273 607.3L273.5 607.2L274 607.3L274.5 607.7L275 607.9L275.5 608.1L276 608.2L276.5 608.2L277 608.2L277.5 608.2L278 608.3L278.5 608.2L279 608.2L279.5 608.2L280 608.2L280.5 608.2L281 608.3L281.5 608.3L282 608.2L282.5 608.3L283 608.2L283.5 608.3L284 608.3L284.5 608.3L285 608.2L285.5 608.2L286 608.1L286.5 607.7L287 607.4L287.5 607L288 606.8L288.5 606.9L289 607.3L289.5 607.7L290 608L290.5 607.9L291 608L291.5 608L292 608L292.5 608L293 608.1L293.5 608.2L294 608.2L294.5 608.3L295 608.3L295.5 608.2L296 608.3L296.5 608.3L297 608.2L297.5 608.2L298 608.3L298.5 608.3L299 608.3L299.5 608.2L300 608.3L300.5 608.3L301 608.2L301.5 608.3L302 608.2L302.5 608.2L303 608.2L303.5 608.3L304 608.2L304.5 608.3L305 608.3L305.5 608.3L306 608.2L306.5 608.2L307 608.3L307.5 608.3L308 608.2L308.5 608.2L309 608.2L309.5 608.2L310 608.3L310.5 608.3L311 608.2L311.5 608.3L312 608.2L312.5 608.2L313 608.2L313.5 608L314 607.6L314.5 607.2L315 606.8L315.5 606.5L316 606.6L316.5 606.9L317 607L317.5 607L318 606.7L318.5 606.9L319 607.1L319.5 607.1L320 607L320.5 606.9L321 607.2L321.5 607.6L322 607.9L322.5 607.9L323 608L323.5 608.1L324 608.1L324.5 608.2L325 608.2L325.5 608L326 607.9L326.5 607.5L327 607.1L327.5 606.6L328 606.1L328.5 605.6L329 604.9L329.5 604L330 602.9L330.5 601.9L331 601.4L331.5 601.7L332 602.8L332.5 604.2L333 605.5L333.5 605.8L334 605.7L334.5 606.7L335 607.6L335.5 607.9L336 608.1L336.5 608.2L337 608.2L337.5 608.3L338 608.3L338.5 608.3L339 608.2L339.5 608L340 607.8L340.5 608L341 608.1L341.5 608L342 607.7L342.5 607L343 606.5L343.5 605.8L344 605.5L344.5 605.4L345 605.7L345.5 606.3L345.5 608.5z"/>
<line x1="70.2" y1="608.5" x2="346" y2="608.5" stroke="#c77cc2" stroke-width="1.15"/>
<text x="72" y="605.9" font-size="5" style="stroke-width:0.12px">[0 - 1.75]</text>
<text x="69" y="618.3" text-anchor="end">1k-cell RNA-seq</text>
<path fill="#2c2f8c" d="M111.4 619.5v-5h1.2v5zM130.8 619.5v-5h1.2v5zM135.9 619.5v-2.5h1.2v2.5zM154.3 619.5v-3h1.2v3zM164.9 619.5v-3h1.2v3zM170.7 619.5v-3h1.2v3zM181.9 619.5v-4h1.2v4zM194.6 619.5v-5h1.2v5zM219.5 619.5v-5h1.2v5zM221.6 619.5v-2h1.2v2zM331.1 619.5v-2h1.2v2z"/>
<path fill="#2c2f8c" d="M96.9 619.5L96.9 619.5L97.1 619.4L97.3 618.7L97.5 616.7L97.7 614.4L97.9 613.5L98.1 613.5L98.3 614.4L98.5 616.7L98.7 618.7L98.9 619.4L99.1 619.5L99.1 619.5zM98.1 619.5L98.1 619.5L98.3 619.4L98.5 618L98.7 616L98.9 615.5L99.1 616L99.3 618L99.5 619.4L99.7 619.5L99.7 619.5zM99.7 619.5L99.7 619.5L99.9 619.4L100.1 618.1L100.3 614.9L100.5 612.4L100.7 611.9L100.9 612.4L101.1 614.9L101.3 618.1L101.5 619.4L101.7 619.5L101.7 619.5zM100.4 619.5L100.4 619.5L100.6 619.4L100.8 618.5L101 615.7L101.2 612.7L101.4 611.5L101.6 611.5L101.8 612.7L102 615.7L102.2 618.5L102.4 619.4L102.6 619.5L102.6 619.5zM96.6 619.5L96.6 619.5L96.8 619.5L97 619.5L97.2 619.5L97.4 619.4L97.6 619.3L97.8 619.1L98 618.8L98.2 618.5L98.4 618.1L98.6 617.7L98.8 617.3L99 617L99.2 616.8L99.4 616.7L99.6 616.7L99.8 616.7L100 616.7L100.2 616.7L100.4 616.8L100.6 617L100.8 617.3L101 617.7L101.2 618.1L101.4 618.5L101.6 618.8L101.8 619.1L102 619.3L102.2 619.4L102.4 619.5L102.6 619.5L102.8 619.5L103 619.5L103 619.5z"/>
<line x1="70.2" y1="619.5" x2="346" y2="619.5" stroke="#2c2f8c" stroke-width="1.15"/>
<text x="72" y="616.9" font-size="5" style="stroke-width:0.12px">[0 - 173]</text>
<text x="69" y="629.3" text-anchor="end">1k-cell H3K4me3</text>
<path fill="#c77cc2" fill-opacity="0.9" d="M71 630.5L71 630.4L71.5 630.4L72 630.4L72.5 630.4L73 630.4L73.5 630.4L74 630.4L74.5 630.4L75 630.4L75.5 630.4L76 630.4L76.5 630.4L77 630.4L77.5 630.4L78 630.4L78.5 630.4L79 630.4L79.5 630.4L80 630.4L80.5 630.4L81 630.4L81.5 630.4L82 630.4L82.5 630.4L83 630.4L83.5 630.4L84 630.4L84.5 630.4L85 630.4L85.5 630.4L86 630.3L86.5 630.3L87 630.2L87.5 630.2L88 630.1L88.5 630.2L89 630.2L89.5 630.3L90 630.3L90.5 630.4L91 630.4L91.5 630.4L92 630.4L92.5 630.4L93 630.4L93.5 630.4L94 630.4L94.5 630.4L95 630.4L95.5 630.4L96 630.4L96.5 630.4L97 630.4L97.5 630.4L98 630.4L98.5 630.4L99 630.4L99.5 630.4L100 630.4L100.5 630.4L101 630.4L101.5 630.4L102 630.4L102.5 630.4L103 630.4L103.5 630.4L104 630.4L104.5 630.4L105 630.4L105.5 630.4L106 630.4L106.5 630.4L107 630.4L107.5 630.4L108 630.4L108.5 630.4L109 630.4L109.5 630.4L110 630.4L110.5 630.4L111 630.4L111.5 630.4L112 630.4L112.5 630.4L113 630.4L113.5 630.4L114 630.4L114.5 630.4L115 630.4L115.5 630.4L116 630.4L116.5 630.4L117 630.4L117.5 630.4L118 630.4L118.5 630.4L119 630.4L119.5 630.4L120 630.4L120.5 630.4L121 630.3L121.5 630.2L122 630.2L122.5 630.3L123 630.3L123.5 630.4L124 630.4L124.5 630.4L125 630.4L125.5 630.4L126 630.4L126.5 630.4L127 630.4L127.5 630.4L128 630.4L128.5 630.4L129 630.4L129.5 630.4L130 630.4L130.5 630.4L131 630.4L131.5 630.4L132 630.4L132.5 630.4L133 630.4L133.5 630.4L134 630.4L134.5 630.4L135 630.4L135.5 630.4L136 630.4L136.5 630.4L137 630.4L137.5 630.4L138 630.4L138.5 630.4L139 630.4L139.5 630.4L140 630.4L140.5 630.4L141 630.4L141.5 630.4L142 630.4L142.5 630.4L143 630.4L143.5 630.4L144 630.4L144.5 630.4L145 630.4L145.5 630.4L146 630.4L146.5 630.4L147 630.4L147.5 630.4L148 630.4L148.5 630.4L149 630.4L149.5 630.4L150 630.4L150.5 630.4L151 630.4L151.5 630.4L152 630.4L152.5 630.4L153 630.4L153.5 630.4L154 630.4L154.5 630.4L155 630.4L155.5 630.4L156 630.4L156.5 630.4L157 630.4L157.5 630.4L158 630.4L158.5 630.4L159 630.4L159.5 630.4L160 630.4L160.5 630.4L161 630.4L161.5 630.4L162 630.4L162.5 630.4L163 630.4L163.5 630.4L164 630.4L164.5 630.4L165 630.4L165.5 630.4L166 630.4L166.5 630.4L167 630.4L167.5 630.4L168 630.4L168.5 630.4L169 630.4L169.5 630.4L170 630.4L170.5 630.4L171 630.4L171.5 630.4L172 630.4L172.5 630.4L173 630.4L173.5 630.4L174 630.4L174.5 630.4L175 630.4L175.5 630.4L176 630.4L176.5 630.4L177 630.4L177.5 630.4L178 630.4L178.5 630.4L179 630.4L179.5 630.4L180 630.4L180.5 630.4L181 630.4L181.5 630.4L182 630.4L182.5 630.4L183 630.4L183.5 630.4L184 630.4L184.5 630.4L185 630.4L185.5 630.4L186 630.4L186.5 630.4L187 630.4L187.5 630.4L188 630.4L188.5 630.4L189 630.4L189.5 630.4L190 630.4L190.5 630.4L191 630.4L191.5 630.4L192 630.4L192.5 630.4L193 630.4L193.5 630.4L194 630.4L194.5 630.4L195 630.4L195.5 630.4L196 630.4L196.5 630.4L197 630.4L197.5 630.4L198 630.4L198.5 630.4L199 630.4L199.5 630.4L200 630.4L200.5 630.4L201 630.4L201.5 630.4L202 630.4L202.5 630.4L203 630.4L203.5 630.4L204 630.4L204.5 630.4L205 630.4L205.5 630.4L206 630.4L206.5 630.4L207 630.4L207.5 630.4L208 630.4L208.5 630.4L209 630.4L209.5 630.4L210 630.3L210.5 630.4L211 630.3L211.5 630.3L212 630.3L212.5 630.2L213 630.3L213.5 630.3L214 630.3L214.5 630.3L215 630.4L215.5 630.4L216 630.4L216.5 630.4L217 630.4L217.5 630.4L218 630.4L218.5 630.4L219 630.3L219.5 630.2L220 630.1L220.5 629.9L221 629.7L221.5 629.7L222 629.8L222.5 630.1L223 630.3L223.5 630.4L224 630.4L224.5 630.4L225 630.4L225.5 630.4L226 630.4L226.5 630.4L227 630.4L227.5 630.4L228 630.4L228.5 630.4L229 630.4L229.5 630.4L230 630.4L230.5 630.4L231 630.4L231.5 630.4L232 630.4L232.5 630.4L233 630.4L233.5 630.4L234 630.4L234.5 630.4L235 630.4L235.5 630.4L236 630.4L236.5 630.4L237 630.4L237.5 630.4L238 630.4L238.5 630.4L239 630.4L239.5 630.4L240 630.4L240.5 630.4L241 630.4L241.5 630.4L242 630.4L242.5 630.4L243 630.4L243.5 630.4L244 630.4L244.5 630.4L245 630.4L245.5 630.4L246 630.4L246.5 630.4L247 630.4L247.5 630.4L248 630.4L248.5 630.4L249 630.4L249.5 630.4L250 630.4L250.5 630.4L251 630.4L251.5 630.4L252 630.4L252.5 630.4L253 630.4L253.5 630.4L254 630.4L254.5 630.4L255 630.4L255.5 630.4L256 630.4L256.5 630.4L257 630.4L257.5 630.4L258 630.4L258.5 630.4L259 630.4L259.5 630.4L260 630.4L260.5 630.4L261 630.4L261.5 630.4L262 630.4L262.5 630.4L263 630.4L263.5 630.4L264 630.4L264.5 630.4L265 630.4L265.5 630.4L266 630.4L266.5 630.4L267 630.2L267.5 630.1L268 630L268.5 630.1L269 630.3L269.5 630.3L270 630.4L270.5 630.4L271 630.4L271.5 630.4L272 630.4L272.5 630.4L273 630.4L273.5 630.4L274 630.4L274.5 630.4L275 630.4L275.5 630.4L276 630.4L276.5 630.4L277 630.3L277.5 630.4L278 630.3L278.5 630.2L279 630.3L279.5 630.3L280 630.3L280.5 630.4L281 630.4L281.5 630.4L282 630.4L282.5 630.4L283 630.4L283.5 630.4L284 630.4L284.5 630.4L285 630.4L285.5 630.4L286 630.4L286.5 630.4L287 630.4L287.5 630.4L288 630.4L288.5 630.4L289 630.3L289.5 630.3L290 630.3L290.5 630.2L291 630.2L291.5 630.3L292 630.3L292.5 630.3L293 630.3L293.5 630.4L294 630.3L294.5 630.3L295 630.2L295.5 630.1L296 630.2L296.5 630.3L297 630.4L297.5 630.4L298 630.4L298.5 630.4L299 630.4L299.5 630.4L300 630.4L300.5 630.4L301 630.4L301.5 630.4L302 630.4L302.5 630.4L303 630.4L303.5 630.4L304 630.4L304.5 630.4L305 630.4L305.5 630.4L306 630.4L306.5 630.4L307 630.4L307.5 630.4L308 630.4L308.5 630.4L309 630.4L309.5 630.4L310 630.4L310.5 630.4L311 630.4L311.5 630.4L312 630.4L312.5 630.4L313 630.3L313.5 630.2L314 629.9L314.5 629.7L315 629.8L315.5 630L316 630.3L316.5 630.3L317 630.4L317.5 630.4L318 630.4L318.5 630.4L319 630.4L319.5 630.4L320 630.4L320.5 630.4L321 630.4L321.5 630.4L322 630.4L322.5 630.4L323 630.4L323.5 630.4L324 630.4L324.5 630.4L325 630.4L325.5 630.4L326 630.4L326.5 630.4L327 630.4L327.5 630.4L328 630.3L328.5 630.4L329 630.2L329.5 630L330 629.5L330.5 628.8L331 628.2L331.5 627.9L332 628.1L332.5 628.8L333 629.4L333.5 630L334 630.2L334.5 630.3L335 630.4L335.5 630.4L336 630.4L336.5 630.4L337 630.4L337.5 630.4L338 630.4L338.5 630.4L339 630.4L339.5 630.4L340 630.4L340.5 630.4L341 630.4L341.5 630.4L342 630.4L342.5 630.4L343 630.4L343.5 630.4L344 630.4L344.5 630.4L345 630.4L345.5 630.4L345.5 630.5z"/>
<line x1="70.2" y1="630.5" x2="346" y2="630.5" stroke="#c77cc2" stroke-width="1.15"/>
<text x="72" y="627.9" font-size="5" style="stroke-width:0.12px">[0 - 2.51]</text>
<text x="69" y="640.3" text-anchor="end">1-cell RNA-seq</text>
<path fill="#2c2f8c" d="M111.4 641.5v-4h1.2v4zM130.8 641.5v-3h1.2v3zM135.9 641.5v-2h1.2v2zM154.3 641.5v-2h1.2v2zM164.9 641.5v-3h1.2v3zM170.7 641.5v-3h1.2v3zM181.9 641.5v-2h1.2v2zM194.6 641.5v-2h1.2v2zM219.5 641.5v-3h1.2v3zM221.6 641.5v-1h1.2v1zM331.1 641.5v-2h1.2v2z"/>
<path fill="#2c2f8c" d="M96.9 641.5L96.9 641.5L97.1 641.4L97.3 640.9L97.5 639.4L97.7 637.7L97.9 637L98.1 637L98.3 637.7L98.5 639.4L98.7 640.9L98.9 641.4L99.1 641.5L99.1 641.5zM98.1 641.5L98.1 641.5L98.3 641.4L98.5 640.4L98.7 638.9L98.9 638.5L99.1 638.9L99.3 640.4L99.5 641.4L99.7 641.5L99.7 641.5zM99.7 641.5L99.7 641.5L99.9 641.4L100.1 640.5L100.3 638.1L100.5 636.2L100.7 635.8L100.9 636.2L101.1 638.1L101.3 640.5L101.5 641.4L101.7 641.5L101.7 641.5zM100.4 641.5L100.4 641.5L100.6 641.4L100.8 640.7L101 638.7L101.2 636.4L101.4 635.5L101.6 635.5L101.8 636.4L102 638.7L102.2 640.7L102.4 641.4L102.6 641.5L102.6 641.5zM96.6 641.5L96.6 641.5L96.8 641.5L97 641.5L97.2 641.5L97.4 641.4L97.6 641.3L97.8 641.2L98 641L98.2 640.7L98.4 640.4L98.6 640.1L98.8 639.9L99 639.6L99.2 639.5L99.4 639.4L99.6 639.4L99.8 639.4L100 639.4L100.2 639.4L100.4 639.5L100.6 639.6L100.8 639.9L101 640.1L101.2 640.4L101.4 640.7L101.6 641L101.8 641.2L102 641.3L102.2 641.4L102.4 641.5L102.6 641.5L102.8 641.5L103 641.5L103 641.5z"/>
<line x1="70.2" y1="641.5" x2="346" y2="641.5" stroke="#2c2f8c" stroke-width="1.15"/>
<text x="72" y="638.9" font-size="5" style="stroke-width:0.12px">[0 - 211]</text>
<text x="69" y="650" text-anchor="end">1-cell CAGE-seq</text>
<line x1="331.8" y1="653.5" x2="331.8" y2="655.5" stroke="#000" stroke-width="0.8"/>
<text x="69" y="663.7" text-anchor="end" fill="#2b55a5" stroke="#2b55a5">GRCz11</text>
<text x="69" y="676.4" text-anchor="end">[-] strand</text>
<text x="69" y="695" text-anchor="end" fill="#c0312b" stroke="#c0312b">Novel isoform</text>
<line x1="97" y1="661.3" x2="222.8" y2="661.3" stroke="#2b3d95" stroke-width="0.8"/>
<rect x="97.2" y="658.3" width="4.7" height="6.2" fill="#2b3d95"/>
<line x1="106" y1="658" x2="106" y2="664.6" stroke="#2b3d95" stroke-width="0.9"/>
<line x1="112" y1="658" x2="112" y2="664.6" stroke="#2b3d95" stroke-width="0.9"/>
<line x1="119.5" y1="658" x2="119.5" y2="664.6" stroke="#2b3d95" stroke-width="0.9"/>
<line x1="123" y1="658" x2="123" y2="664.6" stroke="#2b3d95" stroke-width="0.9"/>
<line x1="130.5" y1="658" x2="130.5" y2="664.6" stroke="#2b3d95" stroke-width="0.9"/>
<line x1="132" y1="658" x2="132" y2="664.6" stroke="#2b3d95" stroke-width="0.9"/>
<line x1="137.2" y1="658" x2="137.2" y2="664.6" stroke="#2b3d95" stroke-width="0.9"/>
<line x1="143" y1="658" x2="143" y2="664.6" stroke="#2b3d95" stroke-width="0.9"/>
<line x1="148.5" y1="658" x2="148.5" y2="664.6" stroke="#2b3d95" stroke-width="0.9"/>
<line x1="152.4" y1="658" x2="152.4" y2="664.6" stroke="#2b3d95" stroke-width="0.9"/>
<line x1="155" y1="658" x2="155" y2="664.6" stroke="#2b3d95" stroke-width="0.9"/>
<line x1="160.5" y1="658" x2="160.5" y2="664.6" stroke="#2b3d95" stroke-width="0.9"/>
<line x1="166" y1="658" x2="166" y2="664.6" stroke="#2b3d95" stroke-width="0.9"/>
<line x1="171" y1="658" x2="171" y2="664.6" stroke="#2b3d95" stroke-width="0.9"/>
<line x1="176" y1="658" x2="176" y2="664.6" stroke="#2b3d95" stroke-width="0.9"/>
<line x1="180.5" y1="658" x2="180.5" y2="664.6" stroke="#2b3d95" stroke-width="0.9"/>
<line x1="186" y1="658" x2="186" y2="664.6" stroke="#2b3d95" stroke-width="0.9"/>
<line x1="191.5" y1="658" x2="191.5" y2="664.6" stroke="#2b3d95" stroke-width="0.9"/>
<line x1="195.2" y1="658" x2="195.2" y2="664.6" stroke="#2b3d95" stroke-width="0.9"/>
<line x1="199.5" y1="658" x2="199.5" y2="664.6" stroke="#2b3d95" stroke-width="0.9"/>
<line x1="204" y1="658" x2="204" y2="664.6" stroke="#2b3d95" stroke-width="0.9"/>
<line x1="209" y1="658" x2="209" y2="664.6" stroke="#2b3d95" stroke-width="0.9"/>
<line x1="214" y1="658" x2="214" y2="664.6" stroke="#2b3d95" stroke-width="0.9"/>
<line x1="218.5" y1="658" x2="218.5" y2="664.6" stroke="#2b3d95" stroke-width="0.9"/>
<line x1="222.5" y1="658" x2="222.5" y2="664.6" stroke="#2b3d95" stroke-width="0.9"/>
<path d="M103.9 660l-1.2 1.3 1.2 1.3" fill="none" stroke="#2b3d95" stroke-width="0.5"/>
<path d="M107.9 660l-1.2 1.3 1.2 1.3" fill="none" stroke="#2b3d95" stroke-width="0.5"/>
<path d="M111.9 660l-1.2 1.3 1.2 1.3" fill="none" stroke="#2b3d95" stroke-width="0.5"/>
<path d="M115.9 660l-1.2 1.3 1.2 1.3" fill="none" stroke="#2b3d95" stroke-width="0.5"/>
<path d="M119.9 660l-1.2 1.3 1.2 1.3" fill="none" stroke="#2b3d95" stroke-width="0.5"/>
<path d="M123.9 660l-1.2 1.3 1.2 1.3" fill="none" stroke="#2b3d95" stroke-width="0.5"/>
<path d="M127.9 660l-1.2 1.3 1.2 1.3" fill="none" stroke="#2b3d95" stroke-width="0.5"/>
<path d="M131.9 660l-1.2 1.3 1.2 1.3" fill="none" stroke="#2b3d95" stroke-width="0.5"/>
<path d="M135.9 660l-1.2 1.3 1.2 1.3" fill="none" stroke="#2b3d95" stroke-width="0.5"/>
<path d="M139.9 660l-1.2 1.3 1.2 1.3" fill="none" stroke="#2b3d95" stroke-width="0.5"/>
<path d="M143.9 660l-1.2 1.3 1.2 1.3" fill="none" stroke="#2b3d95" stroke-width="0.5"/>
<path d="M147.9 660l-1.2 1.3 1.2 1.3" fill="none" stroke="#2b3d95" stroke-width="0.5"/>
<path d="M151.9 660l-1.2 1.3 1.2 1.3" fill="none" stroke="#2b3d95" stroke-width="0.5"/>
<path d="M155.9 660l-1.2 1.3 1.2 1.3" fill="none" stroke="#2b3d95" stroke-width="0.5"/>
<path d="M159.9 660l-1.2 1.3 1.2 1.3" fill="none" stroke="#2b3d95" stroke-width="0.5"/>
<path d="M163.9 660l-1.2 1.3 1.2 1.3" fill="none" stroke="#2b3d95" stroke-width="0.5"/>
<path d="M167.9 660l-1.2 1.3 1.2 1.3" fill="none" stroke="#2b3d95" stroke-width="0.5"/>
<path d="M171.9 660l-1.2 1.3 1.2 1.3" fill="none" stroke="#2b3d95" stroke-width="0.5"/>
<path d="M175.9 660l-1.2 1.3 1.2 1.3" fill="none" stroke="#2b3d95" stroke-width="0.5"/>
<path d="M179.9 660l-1.2 1.3 1.2 1.3" fill="none" stroke="#2b3d95" stroke-width="0.5"/>
<path d="M183.9 660l-1.2 1.3 1.2 1.3" fill="none" stroke="#2b3d95" stroke-width="0.5"/>
<path d="M187.9 660l-1.2 1.3 1.2 1.3" fill="none" stroke="#2b3d95" stroke-width="0.5"/>
<path d="M191.9 660l-1.2 1.3 1.2 1.3" fill="none" stroke="#2b3d95" stroke-width="0.5"/>
<path d="M195.9 660l-1.2 1.3 1.2 1.3" fill="none" stroke="#2b3d95" stroke-width="0.5"/>
<path d="M199.9 660l-1.2 1.3 1.2 1.3" fill="none" stroke="#2b3d95" stroke-width="0.5"/>
<path d="M203.9 660l-1.2 1.3 1.2 1.3" fill="none" stroke="#2b3d95" stroke-width="0.5"/>
<path d="M207.9 660l-1.2 1.3 1.2 1.3" fill="none" stroke="#2b3d95" stroke-width="0.5"/>
<path d="M211.9 660l-1.2 1.3 1.2 1.3" fill="none" stroke="#2b3d95" stroke-width="0.5"/>
<path d="M215.9 660l-1.2 1.3 1.2 1.3" fill="none" stroke="#2b3d95" stroke-width="0.5"/>
<path d="M219.9 660l-1.2 1.3 1.2 1.3" fill="none" stroke="#2b3d95" stroke-width="0.5"/>
<text x="160.5" y="673.5" text-anchor="middle">lrrc1</text>
<line x1="97.5" y1="683.2" x2="333" y2="683.2" stroke="#8fa9c0" stroke-width="1.0"/>
<rect x="97.2" y="681.7" width="4.6" height="3" fill="#d9534f"/>
<rect x="111.3" y="681.7" width="0.9" height="3" fill="#d9534f" fill-opacity="0.75"/>
<rect x="130.9" y="681.7" width="0.9" height="3" fill="#d9534f" fill-opacity="0.75"/>
<rect x="136" y="681.7" width="0.9" height="3" fill="#d9534f" fill-opacity="0.75"/>
<rect x="154.6" y="681.7" width="0.9" height="3" fill="#d9534f" fill-opacity="0.75"/>
<rect x="165.1" y="681.7" width="0.9" height="3" fill="#d9534f" fill-opacity="0.75"/>
<rect x="170.9" y="681.7" width="0.9" height="3" fill="#d9534f" fill-opacity="0.75"/>
<rect x="182.1" y="681.7" width="0.9" height="3" fill="#d9534f" fill-opacity="0.75"/>
<rect x="194.8" y="681.7" width="0.9" height="3" fill="#d9534f" fill-opacity="0.75"/>
<rect x="219.6" y="681.7" width="0.9" height="3" fill="#d9534f" fill-opacity="0.75"/>
<rect x="221.6" y="681.7" width="0.9" height="3" fill="#d9534f" fill-opacity="0.75"/>
<rect x="331.3" y="681.7" width="1.6" height="3" fill="#d9534f"/>
<line x1="97.5" y1="691.2" x2="333" y2="691.2" stroke="#8fa9c0" stroke-width="1.0"/>
<rect x="97.2" y="689.7" width="1.8" height="3" fill="#d9534f"/>
<rect x="111.3" y="689.7" width="0.9" height="3" fill="#d9534f" fill-opacity="0.75"/>
<rect x="130.9" y="689.7" width="0.9" height="3" fill="#d9534f" fill-opacity="0.75"/>
<rect x="136" y="689.7" width="0.9" height="3" fill="#d9534f" fill-opacity="0.75"/>
<rect x="154.6" y="689.7" width="0.9" height="3" fill="#d9534f" fill-opacity="0.75"/>
<rect x="165.1" y="689.7" width="0.9" height="3" fill="#d9534f" fill-opacity="0.75"/>
<rect x="170.9" y="689.7" width="0.9" height="3" fill="#d9534f" fill-opacity="0.75"/>
<rect x="182.1" y="689.7" width="0.9" height="3" fill="#d9534f" fill-opacity="0.75"/>
<rect x="194.8" y="689.7" width="0.9" height="3" fill="#d9534f" fill-opacity="0.75"/>
<rect x="219.6" y="689.7" width="0.9" height="3" fill="#d9534f" fill-opacity="0.75"/>
<rect x="221.6" y="689.7" width="0.9" height="3" fill="#d9534f" fill-opacity="0.75"/>
<rect x="331.3" y="689.7" width="1.6" height="3" fill="#d9534f"/>
<line x1="97.5" y1="699.6" x2="333" y2="699.6" stroke="#8fa9c0" stroke-width="1.0"/>
<rect x="97.2" y="698.1" width="4.6" height="3" fill="#d9534f"/>
<rect x="111.3" y="698.1" width="0.9" height="3" fill="#d9534f" fill-opacity="0.75"/>
<rect x="130.9" y="698.1" width="0.9" height="3" fill="#d9534f" fill-opacity="0.75"/>
<rect x="136" y="698.1" width="0.9" height="3" fill="#d9534f" fill-opacity="0.75"/>
<rect x="154.6" y="698.1" width="0.9" height="3" fill="#d9534f" fill-opacity="0.75"/>
<rect x="165.1" y="698.1" width="0.9" height="3" fill="#d9534f" fill-opacity="0.75"/>
<rect x="170.9" y="698.1" width="0.9" height="3" fill="#d9534f" fill-opacity="0.75"/>
<rect x="182.1" y="698.1" width="0.9" height="3" fill="#d9534f" fill-opacity="0.75"/>
<rect x="194.8" y="698.1" width="0.9" height="3" fill="#d9534f" fill-opacity="0.75"/>
<rect x="219.6" y="698.1" width="0.9" height="3" fill="#d9534f" fill-opacity="0.75"/>
<rect x="221.6" y="698.1" width="0.9" height="3" fill="#d9534f" fill-opacity="0.75"/>
<rect x="331.3" y="698.1" width="1.6" height="3" fill="#d9534f"/>
<text x="12.6" y="732" font-size="13" font-weight="bold">E</text>
<text x="204.2" y="731.7" text-anchor="middle">Chr1:989,552-1,015,458</text>
<rect x="332.1" y="761.5" width="3.8" height="150" fill="#e9e9e9"/>
<line x1="84.4" y1="740.2" x2="339.5" y2="740.2" stroke="#111" stroke-width="1.2"/>
<path d="M81.4 740.2l4 -2v4z" fill="#111"/>
<path d="M342.5 740.2l-4 -2v4z" fill="#111"/>
<rect x="192.8" y="737.2" width="23.5" height="6" fill="#fff"/>
<text x="204.5" y="742.7" text-anchor="middle">25 kb</text>
<line x1="82.5" y1="755.6" x2="342.3" y2="755.6" stroke="#111" stroke-width="1.3"/>
<line x1="87.3" y1="752.4" x2="87.3" y2="755.5" stroke="#111" stroke-width="1.0"/>
<text x="89.3" y="750.8" text-anchor="middle">990 kb</text>
<line x1="137.1" y1="752.4" x2="137.1" y2="755.5" stroke="#111" stroke-width="1.0"/>
<line x1="186.9" y1="752.4" x2="186.9" y2="755.5" stroke="#111" stroke-width="1.0"/>
<text x="188.9" y="750.8" text-anchor="middle">1,000 kb</text>
<line x1="236.7" y1="752.4" x2="236.7" y2="755.5" stroke="#111" stroke-width="1.0"/>
<line x1="286.5" y1="752.4" x2="286.5" y2="755.5" stroke="#111" stroke-width="1.0"/>
<text x="288.5" y="750.8" text-anchor="middle">1,010 kb</text>
<line x1="336.3" y1="752.4" x2="336.3" y2="755.5" stroke="#111" stroke-width="1.0"/>
<rect x="82.5" y="756.6" width="260" height="1.6" fill="#f4f4f4"/>
<text x="79.4" y="767.2" text-anchor="end">Unfertilized RNA-seq</text>
<path fill="#2c2f8c" d="M103 768.5L103 768.5L103.3 768.4L103.7 767.6L104 765.8L104.4 764.8L104.7 764.7L105.1 765.5L105.4 767.4L105.8 768.4L106.1 768.5L106.1 768.5zM108.6 768.5L108.6 768.5L109 768.4L109.3 767.6L109.6 765.8L110 764.8L110.3 764.7L110.7 765.5L111 767.4L111.4 768.4L111.7 768.5L111.7 768.5zM115.3 768.5L115.3 768.5L115.7 768.4L116 767.6L116.3 765.8L116.7 764.8L117 764.7L117.4 765.5L117.7 767.4L118.1 768.4L118.4 768.5L118.4 768.5zM156.9 768.5L156.9 768.5L157.2 768.4L157.6 767.6L157.9 765.9L158.3 765L158.6 764.9L159 765.7L159.3 767.4L159.7 768.4L160 768.5L160 768.5zM160.8 768.5L160.8 768.5L161.2 768.5L161.5 768.1L161.8 766.8L162.2 765.3L162.5 764.6L162.9 764.5L163.2 764.8L163.6 766.1L163.9 767.6L164.3 768.4L164.6 768.5L164.6 768.5zM163.4 768.5L163.4 768.5L163.8 768.4L164.1 767.6L164.4 765.9L164.8 765L165.1 764.9L165.5 765.7L165.8 767.4L166.2 768.4L166.5 768.5L166.5 768.5zM179.9 768.5L179.9 768.5L180.2 768.4L180.6 767.9L180.9 766.3L181.3 764.8L181.6 764.5L182 764.6L182.3 765.8L182.7 767.5L183 768.4L183.4 768.5L183.4 768.5zM235.7 768.5L235.7 768.5L236 768.4L236.4 767.8L236.7 766.7L237.1 766.5L237.4 766.7L237.8 767.8L238.1 768.4L238.5 768.5L238.5 768.5zM248.5 768.5L248.5 768.5L248.8 768.5L249.2 768.4L249.5 768.2L249.9 767.9L250.2 767.7L250.6 767.7L250.9 767.8L251.3 768L251.6 768.3L252 768.5L252.3 768.5L252.3 768.5zM252.3 768.5L252.3 768.5L252.7 768.5L253 768.4L253.3 768.2L253.7 767.8L254 767.1L254.4 766.3L254.7 765.8L255.1 765.5L255.4 765.5L255.8 765.5L256.1 765.7L256.5 766.1L256.9 766.9L257.2 767.6L257.6 768.1L257.9 768.4L258.3 768.5L258.6 768.5L258.6 768.5zM255.8 768.5L255.8 768.5L256.2 768.5L256.5 768.1L256.9 767L257.2 765.6L257.6 765L257.9 764.9L258.3 765.2L258.6 766.3L259 767.7L259.3 768.4L259.7 768.5L259.7 768.5zM280.5 768.5L280.5 768.5L280.9 768.4L281.2 767.9L281.6 766.4L281.9 765L282.3 764.7L282.6 764.8L283 765.9L283.3 767.5L283.7 768.4L284 768.5L284 768.5zM283.5 768.5L283.5 768.5L283.9 768.4L284.2 767.9L284.6 766.4L284.9 765L285.3 764.7L285.6 764.8L286 765.9L286.3 767.5L286.7 768.4L287 768.5L287 768.5zM305 768.5L305 768.5L305.4 768.5L305.7 768.2L306.1 767.3L306.4 765.9L306.8 765L307.1 764.7L307.5 764.7L307.8 765.3L308.2 766.5L308.5 767.8L308.9 768.4L309.2 768.5L309.2 768.5z"/>
<line x1="82.8" y1="768.5" x2="342.3" y2="768.5" stroke="#2c2f8c" stroke-width="1.15"/>
<text x="84.5" y="765.9" font-size="5" style="stroke-width:0.12px">[0 - 416]</text>
<text x="79.4" y="778.2" text-anchor="end">Unfertilized H3K4me3</text>
<line x1="82.8" y1="779.5" x2="342.3" y2="779.5" stroke="#c77cc2" stroke-width="1.15"/>
<text x="84.5" y="776.9" font-size="5" style="stroke-width:0.12px">[0 - 20]</text>
<text x="79.4" y="789.2" text-anchor="end">2-cell RNA-seq</text>
<path fill="#2c2f8c" d="M108.8 790.5L108.8 790.5L109.1 790.5L109.5 790.2L109.8 789.9L110.2 789.9L110.5 790.2L110.9 790.5L110.9 790.5zM252.6 790.5L252.6 790.5L252.9 790.5L253.3 790.5L253.6 790.3L254 790L254.3 789.5L254.7 788.8L255 788.2L255.4 787.8L255.7 787.5L256.1 787.5L256.4 787.5L256.8 787.6L257.2 787.9L257.5 788.4L257.9 789.1L258.2 789.7L258.6 790.2L258.9 790.4L259.3 790.5L259.6 790.5L259.6 790.5zM255.6 790.5L255.6 790.5L256 790.4L256.3 790L256.7 788.5L257 786.8L257.4 786L257.7 785.9L258.1 786.3L258.4 787.7L258.8 789.5L259.1 790.3L259.5 790.5L259.5 790.5zM280.5 790.5L280.5 790.5L280.9 790.5L281.2 790L281.6 788.7L281.9 787.6L282.3 787.3L282.6 787.4L283 788.3L283.3 789.7L283.7 790.4L284 790.5L284 790.5zM282.7 790.5L282.7 790.5L283.1 790.5L283.4 790.3L283.8 789.8L284.1 788.9L284.5 788.1L284.8 787.7L285.2 787.7L285.5 787.8L285.9 788.3L286.2 789.2L286.6 790L286.9 790.4L287.3 790.5L287.3 790.5zM305 790.5L305 790.5L305.4 790.5L305.7 790.3L306.1 789.6L306.4 788.6L306.8 787.9L307.1 787.7L307.5 787.7L307.8 788.1L308.2 789L308.5 790L308.9 790.4L309.2 790.5L309.2 790.5z"/>
<line x1="82.8" y1="790.5" x2="342.3" y2="790.5" stroke="#2c2f8c" stroke-width="1.15"/>
<text x="84.5" y="787.9" font-size="5" style="stroke-width:0.12px">[0 - 175]</text>
<text x="79.4" y="801.2" text-anchor="end">2-cell H3K4me3</text>
<line x1="82.8" y1="802.5" x2="342.3" y2="802.5" stroke="#c77cc2" stroke-width="1.15"/>
<text x="84.5" y="799.9" font-size="5" style="stroke-width:0.12px">[0 - 28]</text>
<text x="79.4" y="812.2" text-anchor="end">128-cell RNA-seq</text>
<path fill="#2c2f8c" d="M251.9 813.5L251.9 813.5L252.2 813.5L252.6 813.5L252.9 813.4L253.3 813.1L253.6 812.7L254 812.1L254.3 811.6L254.7 811.2L255 811L255.4 811L255.7 811L256.1 811.1L256.4 811.3L256.8 811.8L257.2 812.3L257.5 812.9L257.9 813.2L258.2 813.4L258.6 813.5L258.9 813.5L258.9 813.5zM255.4 813.5L255.4 813.5L255.7 813.5L256.1 813L256.4 811.7L256.8 810.1L257.2 809.4L257.5 809.3L257.9 809.7L258.2 811L258.6 812.6L258.9 813.4L259.3 813.5L259.3 813.5zM280.5 813.5L280.5 813.5L280.9 813.5L281.2 813L281.6 811.7L281.9 810.6L282.3 810.3L282.6 810.4L283 811.3L283.3 812.7L283.7 813.4L284 813.5L284 813.5zM282.7 813.5L282.7 813.5L283.1 813.5L283.4 813.3L283.8 812.9L284.1 812L284.5 811.3L284.8 810.9L285.2 810.9L285.5 811L285.9 811.5L286.2 812.3L286.6 813.1L286.9 813.4L287.3 813.5L287.3 813.5zM305 813.5L305 813.5L305.4 813.5L305.7 813.2L306.1 812.5L306.4 811.3L306.8 810.5L307.1 810.3L307.5 810.3L307.8 810.8L308.2 811.8L308.5 812.9L308.9 813.4L309.2 813.5L309.2 813.5z"/>
<line x1="82.8" y1="813.5" x2="342.3" y2="813.5" stroke="#2c2f8c" stroke-width="1.15"/>
<text x="84.5" y="810.9" font-size="5" style="stroke-width:0.12px">[0 - 152]</text>
<text x="79.4" y="823.2" text-anchor="end">128-cell H3K4me3</text>
<path fill="#c77cc2" fill-opacity="0.9" d="M83 824.5L83 824.2L83.5 824.3L84 824.2L84.5 824.2L85 824.2L85.5 824.3L86 824.3L86.5 824.3L87 824.2L87.5 824.2L88 824.2L88.5 824.3L89 824.1L89.5 824.1L90 824.1L90.5 824.1L91 824.3L91.5 824.2L92 824.3L92.5 824.1L93 824.3L93.5 824.2L94 824.2L94.5 824.2L95 824.2L95.5 824.3L96 824.2L96.5 824.2L97 824.1L97.5 824.2L98 824.2L98.5 824.1L99 824L99.5 824.1L100 824L100.5 824L101 823.9L101.5 823.9L102 824L102.5 824L103 824.1L103.5 824.1L104 824.3L104.5 824.1L105 824L105.5 824.1L106 824.1L106.5 823.8L107 823.9L107.5 823.7L108 823.6L108.5 823.4L109 823.3L109.5 823.2L110 823.2L110.5 823.3L111 823.3L111.5 823.4L112 823.5L112.5 823.6L113 823.7L113.5 823.6L114 823.4L114.5 823L115 822.7L115.5 822.6L116 823L116.5 823.5L117 823.9L117.5 824.2L118 824.2L118.5 824.2L119 824.1L119.5 824.1L120 824.2L120.5 824.1L121 824L121.5 823.8L122 823.6L122.5 823.5L123 823.3L123.5 823.1L124 822.8L124.5 822.5L125 822.3L125.5 822.2L126 822.4L126.5 822.5L127 823L127.5 823.3L128 823.6L128.5 823.7L129 823.8L129.5 824.1L130 824.1L130.5 824.1L131 824.2L131.5 824.2L132 824.1L132.5 824.1L133 823.9L133.5 823.6L134 823.3L134.5 823.2L135 823.1L135.5 823L136 823.3L136.5 823.6L137 823.8L137.5 824L138 824.1L138.5 824.2L139 824.1L139.5 824.2L140 824.2L140.5 824.1L141 824.3L141.5 824.2L142 824.2L142.5 824L143 823.7L143.5 823.3L144 823.2L144.5 823.7L145 824L145.5 824.1L146 824.2L146.5 824.1L147 823.8L147.5 823.4L148 823.1L148.5 822.9L149 823.3L149.5 823.6L150 823.9L150.5 824.1L151 824.3L151.5 824.2L152 824.3L152.5 824.2L153 824.2L153.5 824.2L154 823.8L154.5 823.3L155 823.8L155.5 824.2L156 824.1L156.5 824L157 823.9L157.5 823.7L158 823.2L158.5 823.1L159 823L159.5 823L160 822.8L160.5 822.7L161 822.7L161.5 823L162 823.1L162.5 823.3L163 823.5L163.5 823.8L164 824.1L164.5 824.1L165 824.2L165.5 824.1L166 824.1L166.5 824.1L167 824.3L167.5 824.3L168 824.1L168.5 824.2L169 824.2L169.5 824.2L170 824.1L170.5 824.2L171 824.2L171.5 824.2L172 824.2L172.5 824.2L173 824.1L173.5 824.3L174 824.3L174.5 824.2L175 824.2L175.5 824.3L176 824.2L176.5 824.3L177 824.3L177.5 824.1L178 824.1L178.5 824.1L179 824.2L179.5 824.2L180 824.1L180.5 824.2L181 824.1L181.5 823.9L182 823.5L182.5 823.1L183 823L183.5 823.1L184 823.7L184.5 824.1L185 824.2L185.5 824.2L186 824.2L186.5 824.3L187 824.1L187.5 824.1L188 824.1L188.5 823.9L189 823.9L189.5 823.9L190 824L190.5 824.2L191 824.1L191.5 824.1L192 824.2L192.5 824.1L193 824.1L193.5 824.2L194 824.1L194.5 824.1L195 824.1L195.5 824.3L196 824.2L196.5 824.2L197 824.2L197.5 824.1L198 824.1L198.5 824.2L199 824L199.5 824.1L200 824.1L200.5 824.2L201 824.1L201.5 824.2L202 824.1L202.5 824.2L203 824.1L203.5 824.2L204 824.3L204.5 824.2L205 824.2L205.5 824.1L206 824L206.5 824.1L207 824.1L207.5 824.2L208 824.1L208.5 824.1L209 824.2L209.5 823.9L210 823.9L210.5 824L211 823.9L211.5 824.1L212 824.1L212.5 824.2L213 824.2L213.5 824.2L214 824.2L214.5 824.2L215 824.1L215.5 824.1L216 824.2L216.5 824.2L217 824.2L217.5 824.2L218 824.2L218.5 824.2L219 824.2L219.5 824.2L220 824.3L220.5 824.1L221 824.2L221.5 824.1L222 824.2L222.5 824.2L223 824.1L223.5 824.2L224 824.2L224.5 824L225 823.4L225.5 823.1L226 823.3L226.5 823.6L227 824.1L227.5 824.2L228 824.1L228.5 824.1L229 824.2L229.5 824.3L230 824.2L230.5 824.1L231 824.2L231.5 824.1L232 824L232.5 823.6L233 823.1L233.5 822.4L234 821.4L234.5 820.5L235 819.8L235.5 819.3L236 819.1L236.5 819.5L237 820.2L237.5 821.2L238 821.9L238.5 822.6L239 823.2L239.5 823.4L240 823.5L240.5 823.6L241 823.6L241.5 823.8L242 823.9L242.5 824.1L243 824.2L243.5 824.2L244 824.2L244.5 824.2L245 824.3L245.5 824.2L246 824.2L246.5 824.2L247 824.2L247.5 824.3L248 824.3L248.5 824.3L249 824.2L249.5 824.2L250 824.3L250.5 824.1L251 824.2L251.5 824.3L252 824.1L252.5 824.1L253 824.1L253.5 824L254 823.8L254.5 823.7L255 823.4L255.5 823.1L256 822.9L256.5 822.8L257 822.6L257.5 822.6L258 822.7L258.5 822.8L259 822.9L259.5 822.8L260 822.6L260.5 822.1L261 822.9L261.5 823.7L262 823.9L262.5 824.1L263 824.2L263.5 824.2L264 824.3L264.5 824.1L265 824.2L265.5 824.2L266 824.3L266.5 824.3L267 824.3L267.5 824.3L268 824.2L268.5 824.1L269 824.3L269.5 824.3L270 824.2L270.5 824.3L271 824.2L271.5 824.1L272 824.3L272.5 824.2L273 824.2L273.5 824.3L274 824.3L274.5 824.2L275 824.3L275.5 824.3L276 824.2L276.5 824.1L277 824.2L277.5 824.2L278 824.3L278.5 824.1L279 824L279.5 823.7L280 823.7L280.5 823.6L281 823.8L281.5 823.8L282 823.9L282.5 824L283 824.1L283.5 824.2L284 824.1L284.5 824.3L285 824.1L285.5 824.1L286 824.2L286.5 824.2L287 824.3L287.5 824.2L288 824.2L288.5 824.2L289 824.2L289.5 824.1L290 824.1L290.5 823.7L291 823.4L291.5 823L292 822.8L292.5 822.9L293 823.1L293.5 823.1L294 823.3L294.5 823.6L295 823.9L295.5 824.2L296 824.2L296.5 824.1L297 824.2L297.5 824L298 823.9L298.5 823.8L299 823.5L299.5 823.4L300 823.3L300.5 823.3L301 823.5L301.5 823.6L302 823.8L302.5 823.8L303 823.9L303.5 824L304 824.2L304.5 824.2L305 824.1L305.5 824.2L306 824.2L306.5 824.3L307 824.2L307.5 824.2L308 824.2L308.5 824.2L309 824.2L309.5 824.2L310 824.1L310.5 824.1L311 824.2L311.5 824.2L312 824.2L312.5 824.1L313 824.1L313.5 824.3L314 824.2L314.5 824.1L315 824.2L315.5 824.1L316 824.1L316.5 824.3L317 824.1L317.5 824.2L318 824.2L318.5 824.1L319 824.3L319.5 824.2L320 824.2L320.5 824.2L321 824.2L321.5 824.1L322 824L322.5 823.9L323 823.9L323.5 823.9L324 823.9L324.5 824L325 824L325.5 824L326 823.9L326.5 823.8L327 823.5L327.5 823.3L328 823.1L328.5 822.7L329 822.3L329.5 821.8L330 821.2L330.5 820.5L331 819.6L331.5 819.2L332 819.6L332.5 820L333 820.4L333.5 820.6L334 821.2L334.5 821.7L335 822.4L335.5 822.9L336 823.2L336.5 823.4L337 823.3L337.5 823.2L338 823.3L338.5 823.4L339 823.5L339.5 823.4L340 823.1L340.5 823.2L341 823.1L341.5 823.3L342 823.4L342 824.5z"/>
<line x1="82.8" y1="824.5" x2="342.3" y2="824.5" stroke="#c77cc2" stroke-width="1.15"/>
<text x="84.5" y="821.9" font-size="5" style="stroke-width:0.12px">[0 - 1.75]</text>
<text x="79.4" y="835.2" text-anchor="end">1k-cell RNA-seq</text>
<path fill="#2c2f8c" d="M246.8 836.5L246.8 836.5L247.2 836.5L247.5 836.3L247.8 835.8L248.2 835.5L248.5 835.5L248.9 835.7L249.2 836.2L249.6 836.5L249.9 836.5L249.9 836.5zM251 836.5L251 836.5L251.3 836.5L251.7 836.4L252 836.3L252.4 835.9L252.7 835.4L253.1 834.9L253.4 834.6L253.8 834.5L254.1 834.5L254.5 834.6L254.8 834.8L255.2 835.3L255.5 835.8L255.9 836.2L256.2 836.4L256.6 836.5L256.9 836.5L256.9 836.5zM254.9 836.5L254.9 836.5L255.2 836.4L255.6 835.9L255.9 834.4L256.3 832.5L256.6 831.6L257 831.5L257.4 831.9L257.7 833.5L258.1 835.4L258.4 836.3L258.8 836.5L258.8 836.5zM280.5 836.5L280.5 836.5L280.9 836.5L281.2 836L281.6 834.7L281.9 833.6L282.3 833.3L282.6 833.4L283 834.3L283.3 835.7L283.7 836.4L284 836.5L284 836.5zM282.7 836.5L282.7 836.5L283.1 836.5L283.4 836.3L283.8 835.9L284.1 835L284.5 834.3L284.8 833.9L285.2 833.9L285.5 834L285.9 834.5L286.2 835.3L286.6 836.1L286.9 836.4L287.3 836.5L287.3 836.5zM305 836.5L305 836.5L305.4 836.5L305.7 836.3L306.1 835.6L306.4 834.6L306.8 833.9L307.1 833.7L307.5 833.7L307.8 834.1L308.2 835L308.5 836L308.9 836.4L309.2 836.5L309.2 836.5z"/>
<line x1="82.8" y1="836.5" x2="342.3" y2="836.5" stroke="#2c2f8c" stroke-width="1.15"/>
<text x="84.5" y="833.9" font-size="5" style="stroke-width:0.12px">[0 - 173]</text>
<text x="79.4" y="846.2" text-anchor="end">1k-cell H3K4me3</text>
<path fill="#c77cc2" fill-opacity="0.9" d="M83 847.5L83 847.2L83.5 847L84 847L84.5 847.1L85 847.2L85.5 847.2L86 847.3L86.5 847.3L87 847.3L87.5 847.3L88 847.2L88.5 847.2L89 847.2L89.5 847.2L90 847.1L90.5 847.1L91 847L91.5 847L92 847.3L92.5 847.3L93 847.3L93.5 847.3L94 847.3L94.5 847.3L95 847.2L95.5 847.2L96 847.3L96.5 847.3L97 847.3L97.5 847.2L98 847.3L98.5 847.2L99 847.3L99.5 847.2L100 847.2L100.5 847.2L101 847.3L101.5 847.2L102 847.2L102.5 847.2L103 847L103.5 846.9L104 846.8L104.5 846.6L105 846.5L105.5 846.6L106 846.9L106.5 847.1L107 847L107.5 846.6L108 846.2L108.5 846.2L109 846.6L109.5 846.9L110 847.2L110.5 847.2L111 847.2L111.5 847.1L112 847L112.5 846.6L113 846.1L113.5 846.1L114 846.2L114.5 846.3L115 846.5L115.5 846.7L116 847L116.5 847.2L117 847.1L117.5 847.2L118 847.2L118.5 847.2L119 847.2L119.5 847.3L120 847.3L120.5 847.2L121 847.3L121.5 847.3L122 847.3L122.5 847.2L123 847.1L123.5 847L124 846.9L124.5 846.9L125 847L125.5 847.1L126 847.3L126.5 847.2L127 847.2L127.5 847.3L128 847.2L128.5 847.3L129 847.2L129.5 847.2L130 847.1L130.5 847L131 847L131.5 847.1L132 847.1L132.5 847L133 847.1L133.5 847.2L134 847.1L134.5 846.9L135 846.8L135.5 846.8L136 846.8L136.5 846.8L137 847.1L137.5 847.2L138 847.2L138.5 847.1L139 847.1L139.5 847.2L140 847.2L140.5 847.1L141 847.2L141.5 847.3L142 847.3L142.5 847.2L143 847.3L143.5 847.2L144 847.2L144.5 847.3L145 847.2L145.5 847.2L146 847.2L146.5 847.2L147 847.2L147.5 847.1L148 847.1L148.5 847.2L149 847L149.5 847.1L150 846.9L150.5 846.6L151 846.5L151.5 846.3L152 846.4L152.5 846.7L153 847L153.5 847.2L154 847.2L154.5 847.3L155 847.2L155.5 847.2L156 847.2L156.5 847.2L157 847.2L157.5 847.3L158 847.3L158.5 847.2L159 847.2L159.5 847.1L160 847L160.5 847L161 846.9L161.5 846.9L162 846.9L162.5 847L163 847L163.5 847.1L164 847.2L164.5 847.2L165 847.3L165.5 847.2L166 847.3L166.5 847.2L167 847.2L167.5 847.2L168 847.3L168.5 847.2L169 847.2L169.5 847.1L170 847.1L170.5 847.1L171 847L171.5 847.1L172 847L172.5 847L173 847L173.5 847.2L174 847.2L174.5 847.3L175 847.3L175.5 847.3L176 847.2L176.5 847.3L177 847.2L177.5 847.2L178 847.2L178.5 847.3L179 847.2L179.5 847.2L180 847.2L180.5 847.3L181 847.2L181.5 847.2L182 847.3L182.5 847.2L183 847.2L183.5 847.2L184 847.2L184.5 847.1L185 847.1L185.5 847L186 846.9L186.5 846.9L187 846.9L187.5 847L188 847.2L188.5 847.2L189 847.2L189.5 847.3L190 847.2L190.5 847.3L191 847.3L191.5 847.3L192 847.2L192.5 847.2L193 847.3L193.5 847.2L194 847.2L194.5 847.3L195 847.2L195.5 847.2L196 847.3L196.5 847.2L197 847.3L197.5 847.3L198 847.3L198.5 847.2L199 847.3L199.5 847.3L200 847.3L200.5 847.2L201 847.3L201.5 847.2L202 847.3L202.5 847.2L203 847.2L203.5 847.3L204 847.2L204.5 847.2L205 847.2L205.5 847.3L206 847.2L206.5 847.3L207 847.3L207.5 847.3L208 847.2L208.5 847.2L209 847.2L209.5 847.3L210 847.2L210.5 847.2L211 847.2L211.5 847.2L212 847.2L212.5 847.2L213 847.1L213.5 847.1L214 846.8L214.5 846.8L215 846.8L215.5 846.8L216 846.7L216.5 846.8L217 847L217.5 847.2L218 847.1L218.5 847.2L219 847.3L219.5 847.3L220 847.2L220.5 847.2L221 847.2L221.5 847.1L222 847.1L222.5 847.2L223 847.3L223.5 847.1L224 847.1L224.5 846.9L225 846.8L225.5 846.5L226 846.4L226.5 846.2L227 846.3L227.5 846.5L228 846.8L228.5 846.9L229 847.1L229.5 847.2L230 847.1L230.5 847L231 847L231.5 846.9L232 847L232.5 847L233 847.1L233.5 847.1L234 847.3L234.5 847.3L235 847.2L235.5 847.2L236 847.2L236.5 847.2L237 847.3L237.5 847.2L238 847.2L238.5 847.2L239 847.3L239.5 847.2L240 847.3L240.5 847.3L241 847.3L241.5 847.2L242 847.3L242.5 847.2L243 847.3L243.5 847.2L244 847.1L244.5 847.1L245 847.2L245.5 847L246 846.8L246.5 846.2L247 846L247.5 846L248 846.6L248.5 847L249 847.2L249.5 847.2L250 847.3L250.5 847.2L251 847.1L251.5 847.2L252 846.9L252.5 846.8L253 846.6L253.5 846.6L254 846.5L254.5 846.5L255 846.2L255.5 846L256 845.6L256.5 845.2L257 845L257.5 845.2L258 845.8L258.5 846.2L259 846.5L259.5 846.6L260 846.7L260.5 846.8L261 846.9L261.5 847L262 847.1L262.5 847.1L263 847.2L263.5 847.1L264 847.3L264.5 847.2L265 847.2L265.5 847.2L266 847.3L266.5 847.2L267 847.2L267.5 847.3L268 847.2L268.5 847.2L269 847.3L269.5 847.2L270 847.3L270.5 847.2L271 847.1L271.5 847L272 847L272.5 847.2L273 847.1L273.5 847.2L274 847.1L274.5 847.1L275 846.9L275.5 846.8L276 846.7L276.5 846.7L277 846.9L277.5 847L278 847.2L278.5 847.2L279 847.3L279.5 847.2L280 847.3L280.5 847.2L281 847.2L281.5 847.2L282 847.3L282.5 847.2L283 847.2L283.5 847.3L284 847.1L284.5 847.1L285 847L285.5 847L286 846.8L286.5 846.7L287 846.4L287.5 846.4L288 846.3L288.5 846.3L289 846.6L289.5 846.8L290 847L290.5 847.1L291 847.1L291.5 847.2L292 847.1L292.5 847.2L293 847.2L293.5 847.1L294 847.2L294.5 847.1L295 847.1L295.5 847.1L296 847.1L296.5 847.1L297 847.1L297.5 847.2L298 847.1L298.5 847.3L299 847.2L299.5 847.2L300 847.3L300.5 847.2L301 847.1L301.5 847.1L302 847.1L302.5 847.2L303 847.3L303.5 847.3L304 847.2L304.5 847.2L305 847.2L305.5 847.1L306 846.8L306.5 846.8L307 846.7L307.5 846.7L308 846.9L308.5 846.9L309 847.1L309.5 847.2L310 847.1L310.5 847.3L311 847.3L311.5 847.2L312 847.2L312.5 847.2L313 847.3L313.5 847.2L314 847.2L314.5 847.2L315 847.2L315.5 847.1L316 847.3L316.5 847.3L317 847.1L317.5 847.2L318 847.1L318.5 847.1L319 847L319.5 847L320 847L320.5 846.9L321 846.8L321.5 846.9L322 847.1L322.5 847L323 847.2L323.5 847.1L324 847.1L324.5 847L325 847L325.5 847.1L326 847L326.5 847L327 847.1L327.5 847L328 846.8L328.5 846.3L329 845.7L329.5 845.1L330 844.6L330.5 843.9L331 843.2L331.5 842.5L332 842.3L332.5 842.6L333 843.3L333.5 844.4L334 845.4L334.5 846L335 846.5L335.5 846.6L336 846.4L336.5 846.4L337 846.3L337.5 846.3L338 846.4L338.5 846.5L339 846.9L339.5 847L340 847L340.5 847.2L341 847.2L341.5 847.2L342 847.3L342 847.5z"/>
<line x1="82.8" y1="847.5" x2="342.3" y2="847.5" stroke="#c77cc2" stroke-width="1.15"/>
<text x="84.5" y="844.9" font-size="5" style="stroke-width:0.12px">[0 - 2.51]</text>
<text x="79.4" y="857.2" text-anchor="end">1-cell RNA-seq</text>
<path fill="#2c2f8c" d="M252.8 858.5L252.8 858.5L253.2 858.5L253.5 858.5L253.8 858.3L254.2 858L254.5 857.5L254.9 857.1L255.2 856.7L255.6 856.5L255.9 856.5L256.3 856.5L256.6 856.6L257 856.9L257.4 857.4L257.7 857.9L258.1 858.3L258.4 858.4L258.8 858.5L259.1 858.5L259.1 858.5zM256 858.5L256 858.5L256.4 858.5L256.7 858.1L257.1 857L257.4 855.6L257.8 855L258.1 854.9L258.5 855.2L258.8 856.3L259.2 857.7L259.5 858.4L259.9 858.5L259.9 858.5zM280.5 858.5L280.5 858.5L280.9 858.5L281.2 858L281.6 856.9L281.9 855.9L282.3 855.7L282.6 855.8L283 856.6L283.3 857.8L283.7 858.4L284 858.5L284 858.5zM282.7 858.5L282.7 858.5L283.1 858.5L283.4 858.3L283.8 857.9L284.1 857L284.5 856.3L284.8 855.9L285.2 855.9L285.5 856L285.9 856.5L286.2 857.3L286.6 858.1L286.9 858.4L287.3 858.5L287.3 858.5zM304.8 858.5L304.8 858.5L305.2 858.5L305.5 858.4L305.9 858L306.2 857.3L306.6 856.6L306.9 856.3L307.3 856.3L307.6 856.4L308 856.8L308.3 857.5L308.7 858.1L309 858.4L309.4 858.5L309.4 858.5z"/>
<line x1="82.8" y1="858.5" x2="342.3" y2="858.5" stroke="#2c2f8c" stroke-width="1.15"/>
<text x="84.5" y="855.9" font-size="5" style="stroke-width:0.12px">[0 - 211]</text>
<text x="79.4" y="867.8" text-anchor="end">1-cell CAGE-seq</text>
<line x1="239.7" y1="866" x2="239.7" y2="868" stroke="#000" stroke-width="0.8"/>
<line x1="335.2" y1="866" x2="335.2" y2="868" stroke="#000" stroke-width="0.8"/>
<text x="78.8" y="881" text-anchor="end" fill="#2b55a5" stroke="#2b55a5">GRCz11</text>
<text x="78.8" y="891.7" text-anchor="end">[-] strand</text>
<line x1="83.2" y1="878.7" x2="182.2" y2="878.7" stroke="#2b3d95" stroke-width="0.8"/>
<rect x="104.5" y="875" width="1.6" height="7.4" fill="#2b3d95"/>
<rect x="108.7" y="875" width="2.7" height="7.4" fill="#2b3d95"/>
<rect x="115.7" y="875" width="1.3" height="7.4" fill="#2b3d95"/>
<rect x="157.8" y="875" width="1.2" height="7.4" fill="#2b3d95"/>
<rect x="159.7" y="875" width="3.5" height="7.4" fill="#2b3d95"/>
<rect x="164.2" y="875" width="1.8" height="7.4" fill="#2b3d95"/>
<rect x="181.7" y="875" width="1.4" height="7.4" fill="#2b3d95"/>
<path d="M87.9 877.4l-1.2 1.3 1.2 1.3" fill="none" stroke="#2b3d95" stroke-width="0.5"/>
<path d="M92.9 877.4l-1.2 1.3 1.2 1.3" fill="none" stroke="#2b3d95" stroke-width="0.5"/>
<path d="M97.9 877.4l-1.2 1.3 1.2 1.3" fill="none" stroke="#2b3d95" stroke-width="0.5"/>
<path d="M102.9 877.4l-1.2 1.3 1.2 1.3" fill="none" stroke="#2b3d95" stroke-width="0.5"/>
<path d="M122.9 877.4l-1.2 1.3 1.2 1.3" fill="none" stroke="#2b3d95" stroke-width="0.5"/>
<path d="M127.9 877.4l-1.2 1.3 1.2 1.3" fill="none" stroke="#2b3d95" stroke-width="0.5"/>
<path d="M132.9 877.4l-1.2 1.3 1.2 1.3" fill="none" stroke="#2b3d95" stroke-width="0.5"/>
<path d="M137.9 877.4l-1.2 1.3 1.2 1.3" fill="none" stroke="#2b3d95" stroke-width="0.5"/>
<path d="M142.9 877.4l-1.2 1.3 1.2 1.3" fill="none" stroke="#2b3d95" stroke-width="0.5"/>
<path d="M147.9 877.4l-1.2 1.3 1.2 1.3" fill="none" stroke="#2b3d95" stroke-width="0.5"/>
<path d="M152.9 877.4l-1.2 1.3 1.2 1.3" fill="none" stroke="#2b3d95" stroke-width="0.5"/>
<path d="M157.9 877.4l-1.2 1.3 1.2 1.3" fill="none" stroke="#2b3d95" stroke-width="0.5"/>
<path d="M172.9 877.4l-1.2 1.3 1.2 1.3" fill="none" stroke="#2b3d95" stroke-width="0.5"/>
<path d="M177.9 877.4l-1.2 1.3 1.2 1.3" fill="none" stroke="#2b3d95" stroke-width="0.5"/>
<text x="137" y="890.3" text-anchor="middle">gart</text>
<line x1="83" y1="898" x2="237.6" y2="898" stroke="#9db3c6" stroke-width="1.0"/>
<line x1="83" y1="899.7" x2="237.6" y2="899.7" stroke="#9db3c6" stroke-width="1.0"/>
<line x1="83" y1="901.5" x2="237.6" y2="901.5" stroke="#9db3c6" stroke-width="1.0"/>
<line x1="83" y1="903.7" x2="162.4" y2="903.7" stroke="#9db3c6" stroke-width="1.0"/>
<line x1="83" y1="906" x2="109.7" y2="906" stroke="#9db3c6" stroke-width="1.0"/>
<line x1="83" y1="908.9" x2="237.6" y2="908.9" stroke="#9db3c6" stroke-width="1.0"/>
<line x1="83" y1="911.2" x2="237.6" y2="911.2" stroke="#9db3c6" stroke-width="1.0"/>
<line x1="83" y1="913.6" x2="237.6" y2="913.6" stroke="#9db3c6" stroke-width="1.0"/>
<line x1="83" y1="916.4" x2="237.6" y2="916.4" stroke="#9db3c6" stroke-width="1.0"/>
<line x1="83" y1="925.1" x2="237.6" y2="925.1" stroke="#9db3c6" stroke-width="1.0"/>
<line x1="104.8" y1="896.5" x2="104.8" y2="927" stroke="#cfc6bd" stroke-width="0.6" stroke-opacity="0.8"/>
<line x1="110" y1="896.5" x2="110" y2="927" stroke="#cfc6bd" stroke-width="0.6" stroke-opacity="0.8"/>
<line x1="116" y1="896.5" x2="116" y2="927" stroke="#cfc6bd" stroke-width="0.6" stroke-opacity="0.8"/>
<line x1="158.6" y1="896.5" x2="158.6" y2="927" stroke="#cfc6bd" stroke-width="0.6" stroke-opacity="0.8"/>
<line x1="161.5" y1="896.5" x2="161.5" y2="927" stroke="#cfc6bd" stroke-width="0.6" stroke-opacity="0.8"/>
<line x1="165" y1="896.5" x2="165" y2="927" stroke="#cfc6bd" stroke-width="0.6" stroke-opacity="0.8"/>
<line x1="182" y1="896.5" x2="182" y2="927" stroke="#cfc6bd" stroke-width="0.6" stroke-opacity="0.8"/>
<rect x="115.6" y="909" width="0.8" height="2.4" fill="#d9822b"/>
<rect x="115.6" y="912.4" width="0.8" height="2.4" fill="#d9822b"/>
<rect x="181.6" y="907.7" width="0.8" height="2.4" fill="#d9822b"/>
<rect x="181.6" y="910" width="0.8" height="2.4" fill="#d9822b"/>
<rect x="181.6" y="912.4" width="0.8" height="2.4" fill="#d9822b"/>
<rect x="181.6" y="923.9" width="0.8" height="2.4" fill="#d9822b"/>
<rect x="115.6" y="923.9" width="0.8" height="2.4" fill="#d9822b"/>
<rect x="109.6" y="923.9" width="0.8" height="2.4" fill="#d9822b"/>
<rect x="164.6" y="923.9" width="0.8" height="2.4" fill="#d9822b"/>
<line x1="246.2" y1="898.5" x2="333.6" y2="898.5" stroke="#8fa9c0" stroke-width="1.0"/>
<rect x="246.2" y="897" width="3.5" height="3" fill="#d9534f"/>
<rect x="250.5" y="897" width="7.5" height="3" fill="#d9534f"/>
<rect x="280.5" y="897" width="1.6" height="3" fill="#d9534f"/>
<rect x="283.6" y="897" width="1.8" height="3" fill="#d9534f"/>
<rect x="305.7" y="897" width="2.2" height="3" fill="#d9534f"/>
<rect x="333" y="897" width="0.9" height="3" fill="#d9534f"/>
<line x1="254.8" y1="905.6" x2="333.6" y2="905.6" stroke="#8fa9c0" stroke-width="1.0"/>
<rect x="254.8" y="904.1" width="3.5" height="3" fill="#d9534f"/>
<rect x="280.5" y="904.1" width="1.6" height="3" fill="#d9534f"/>
<rect x="283.6" y="904.1" width="1.8" height="3" fill="#d9534f"/>
<rect x="305.7" y="904.1" width="2.2" height="3" fill="#d9534f"/>
<rect x="333" y="904.1" width="0.9" height="3" fill="#d9534f"/>
<text x="295.2" y="920.8" text-anchor="middle" fill="#c0312b" stroke="#c0312b">Novel gene</text>
<text x="362.8" y="267.2" font-size="13" font-weight="bold">F</text>
<line x1="405.6" y1="277.7" x2="405.6" y2="318.8" stroke="#222" stroke-width="1.0"/>
<line x1="405.1" y1="318.3" x2="622.9" y2="318.3" stroke="#222" stroke-width="1.0"/>
<line x1="403.6" y1="284.2" x2="405.6" y2="284.2" stroke="#222" stroke-width="0.8"/>
<text x="401.8" y="286.7" text-anchor="end">0.015</text>
<line x1="403.6" y1="294.6" x2="405.6" y2="294.6" stroke="#222" stroke-width="0.8"/>
<text x="401.8" y="297.1" text-anchor="end">0.010</text>
<line x1="403.6" y1="305" x2="405.6" y2="305" stroke="#222" stroke-width="0.8"/>
<text x="401.8" y="307.5" text-anchor="end">0.005</text>
<line x1="403.6" y1="315.4" x2="405.6" y2="315.4" stroke="#222" stroke-width="0.8"/>
<text x="401.8" y="317.9" text-anchor="end">0.000</text>
<text transform="translate(378.7,293.4) rotate(-90)" text-anchor="middle">Density</text>
<path d="M415.2 278.4L415.7 278.7L416.4 278.9L417.3 279.3L418.2 279.8L419.1 280.5L420 281.3L420.8 282.4L421.6 283.6L422.4 285.1L423.2 286.6L424 288.2L424.8 289.7L425.6 291.3L426.4 292.9L427.3 294.6L428.1 296.3L428.9 297.9L429.7 299.4L430.5 300.8L431.3 302.1L432.1 303.4L432.9 304.6L433.7 305.7L434.5 306.6L435.3 307.4L436 308L436.8 308.5L437.5 308.9L438.4 309.2L439.3 309.5L440 309.8L440.4 309.9L440.8 310L441.7 310.1L443.5 310.2L446.5 310.2L451.1 310.2L457.1 310.2L464 310.1L471.3 310L478.4 310L485 310L491 310.1L497 310.3L502.8 310.4L508.5 310.6L514.3 310.8L520 311L525.7 311.2L531.4 311.3L537 311.5L542.6 311.6L548.3 311.7L554 311.8L560.1 311.8L566.7 311.8L573.3 311.7L579.5 311.6L584.9 311.4L589 311.3L591.6 311.2L592.9 311L593.4 310.8L593.6 310.6L593.8 310.4L594.5 310L595.7 309.5L597.1 308.9L598.6 308.2L600 307.5L601.4 306.9L602.6 306.4L603.7 306L604.6 305.7L605.5 305.4L606.3 305.2L607.2 305L608 304.8L608.9 304.7L609.9 304.6L610.8 304.6L611.6 304.6L612.4 304.6L612.9 304.6" fill="none" stroke="#222" stroke-width="1.2" stroke-linejoin="round"/>
<rect x="414" y="342.6" width="194" height="6.3" fill="#2f8f45"/>
<path fill="none" stroke="#4650a2" stroke-width="2.9" stroke-linecap="round" stroke-opacity="0.62" d="M540.5 362.6h0M426 378.6h0M439.5 409.9h0M474.1 381h0M452.8 358h0M519.6 348.2h0M504.4 406.5h0M508.1 494.2h0M578.4 380h0M606.2 386.2h0M595.4 347.8h0M420 349.7h0M459.6 417.9h0M419.1 428.5h0M501.9 378.2h0M495.2 352h0M583.4 369.2h0M569.1 483.3h0M457.7 354.9h0M489.3 355.7h0M582.9 352.4h0M476 499.3h0M595.7 366.5h0M560.7 358.7h0M424.9 417.9h0M484.7 399.9h0M565.6 371.7h0M497.9 352.1h0M421.1 383.4h0M508.3 356.7h0M488.7 546.5h0M592.6 424.8h0M538.6 355.8h0M527.5 440.9h0M599.5 364.5h0M468 446.5h0M441.3 521.3h0M563.8 355.8h0M605.1 354.4h0M421.6 377.3h0M570.4 377.3h0M594.5 455.3h0M526.9 375.8h0M480.8 351.4h0M481.9 362.8h0M462.6 371.8h0M454.3 510.3h0M574.1 359.8h0M559.7 356.2h0M537.7 487.1h0M589.9 359.4h0M419.8 358.9h0M502.9 388.2h0M518.3 419.4h0M575.9 382.8h0M553.9 362.1h0M524.2 358h0M522.8 417.3h0M532.8 350.1h0M445.2 361.8h0M484.9 387.3h0M450.9 349.2h0M453.5 463.7h0M421.6 381.8h0M594.8 372.9h0M534.8 419h0M539.5 379.7h0M440.9 467.3h0M453.6 442h0M564 393.8h0M467.2 406.9h0M503.7 373.4h0M605.5 440h0M441 366.5h0M556.3 402.9h0M506 477.4h0M444.2 493.2h0M485.1 415.8h0M456.2 349.5h0M552.6 396.7h0M540.4 354.8h0M450.4 354.4h0M526.7 354.2h0M563 348.2h0M482 392.4h0M539 385h0M562.9 404.6h0M515.4 396.1h0M499.5 368h0M502.9 375.2h0M542.5 363.1h0M525 357.7h0M453.1 357.3h0M577.8 444.7h0M575.2 355.3h0M502.1 450.4h0M562 495.5h0M552.3 374.4h0M525.1 430.7h0M516.8 374.1h0M480.9 371.8h0M581.7 440.3h0M588.4 373h0M469.1 367.8h0M589.7 355h0M532.8 433.5h0M602.1 347.8h0M531.6 423.3h0M419.2 396.4h0M480.4 368.9h0M535.6 371.6h0M601.9 463.6h0M587.3 399.5h0M449.1 361.4h0M534.1 370.7h0M503.6 351.5h0M472.3 396.6h0M603.6 394.5h0M532.4 375.3h0M428.6 381.6h0M495.8 382.2h0M533.2 375.4h0M474 349.6h0M478.3 455h0M512.9 365.7h0M599.2 423.6h0M569.5 396.7h0M564.9 398.3h0M534.4 376.4h0M506.2 483.3h0M497.6 378.7h0M555 442.2h0M445.6 461.3h0M497.9 405.2h0M487.9 456.6h0M523.6 382.1h0M480.8 350.2h0M491.8 352.4h0M482.3 402.2h0M573.9 359.4h0M562.4 477.8h0M578.3 415h0M523.2 351.5h0M510.6 400.9h0M477.1 503.6h0M503.6 354.6h0M551.7 350.2h0M530.2 357.3h0M432.2 364.7h0M462.1 377.4h0M516.2 350.4h0M567.7 456h0M497.2 354.1h0M447.5 391h0M579.3 365.5h0M416 364.5h0M498.5 365.4h0M500.3 366.9h0M586.4 386.4h0M498.3 367.1h0M559.7 486.8h0M492.4 355.8h0M606.9 417.5h0M468.6 390.1h0M512.2 350.5h0M539.6 351.7h0M529.4 365.4h0M546.6 394.3h0M574.3 398.3h0M528.1 349.3h0M549.9 392.7h0M545.2 389.4h0M559 348.2h0M572.9 365.9h0M560.3 352.1h0M464.8 362.4h0M471.7 356.4h0M485.6 395.3h0M459.7 486h0M606 366.6h0M440.6 448.6h0M472.4 351.6h0M606.9 359.3h0M451.3 358.2h0M537.7 374.3h0M526.7 354.8h0M444.7 402.3h0M492.1 386.9h0M602.8 371.1h0M591.7 385.7h0M459.7 457.5h0M600.1 363.9h0M506.4 382.5h0M533.3 446.6h0M532.1 370.1h0M521.2 355.4h0M600.5 400h0M543.9 494.7h0M487.8 393.4h0M507 462.4h0M561.6 427.5h0M553.5 368.4h0M551.4 348.9h0M471 381.4h0M494.6 375.8h0M512.5 392.1h0M437.6 358h0M601.5 427.6h0M533.6 350h0M472.7 382.4h0M471.5 399.1h0M527.5 356.6h0M570.1 398.5h0M580.6 366.3h0M502.5 360.2h0M451 394h0M494.5 373h0M490.9 386.8h0M523.1 350h0M582.1 354.9h0M567 377.4h0M418.2 387.6h0M560.3 372.9h0M427.1 419.1h0M533.1 375.1h0M525.3 462.5h0M546.2 362.7h0M535 387.8h0M594.6 365.2h0M441.5 464.5h0M552.1 354.1h0M543.4 361.6h0M463.9 407.3h0M463.5 377.5h0M523 385.9h0M539.5 349.8h0M539.8 367h0M571.4 534.7h0M515 390.5h0M527.9 422.3h0M602 515h0M565.8 397.8h0M426.4 462.2h0M588.5 488.8h0M528.8 411.2h0M454.3 380.7h0M434.1 359.8h0M416.3 361h0M518.9 374.4h0M591.1 385h0M504.6 364.4h0M515.7 364.9h0M516.9 375.6h0M528 356.9h0M524.4 410h0M449.6 383.7h0M474.3 523.5h0M561.7 375.4h0M603.3 351.3h0M490.8 355.8h0M414.6 454.9h0M414.6 538.9h0M415.5 405.7h0M415.6 464.3h0M415.6 361.6h0M415.2 377.8h0M414.6 350.4h0M414.5 453.9h0M415.5 527.6h0M415.1 515.7h0M414.8 371.6h0M415.8 378.3h0M414.8 507.2h0M415.3 383.8h0M414.5 459.8h0M415 443.9h0M415.1 540.8h0M414.5 450.7h0M415 388.2h0M414.5 364.5h0M414.9 362.5h0M415.6 484.9h0M415.4 361.7h0M415.1 348.6h0M415.2 348.5h0M414.8 351.8h0M414.9 436.6h0M414.9 547.5h0M414.8 547.7h0M414.9 547.1h0M415.1 547.2h0M414.9 547.3h0M414.8 547.3h0M428.9 547.3h0M434.8 547.3h0M516.3 502.5h0M584.1 537.2h0M479.4 510.2h0M486.7 497.3h0M524.2 515.8h0M470.3 543.6h0"/>
<path fill="none" stroke="#4650a2" stroke-width="2.9" stroke-linecap="round" stroke-opacity="0.62" d="M536.8 386h0M512.2 391.3h0M468.1 359.7h0M510.6 355.8h0M569.4 370.2h0M470.7 391.6h0M497.1 356.6h0M441.9 352.2h0M474.2 361.2h0M569.7 441.3h0M582.4 389.5h0M604.8 360.7h0M494.6 395.5h0M587.3 443.2h0M442.6 357.6h0M541.4 366.8h0M437.7 358.8h0M431.3 378.1h0M455.3 368.2h0M475.1 394.8h0M596.8 419.4h0M431.9 399.4h0M579.7 355.9h0M585.8 459.5h0M500.5 415.2h0M487.9 430h0M561.2 392.4h0M483.4 488.2h0M580 349.3h0M504.5 357.1h0M553.2 466.6h0M550.3 493h0M563.5 363.7h0M421.7 439.2h0M417 382.9h0M587.5 394.4h0M464.9 401.4h0M481.1 347.6h0M450.9 393.1h0M580.2 351.6h0M479.9 433.4h0M426.3 393h0M482.2 379.4h0M526.9 374.9h0M483.2 354.8h0M459.1 364.3h0M536 378.7h0M513 358.4h0M593.4 349h0M532 351.8h0M567.8 421.5h0M418.9 365.8h0M460.1 373.9h0M471.2 467.3h0M418.8 391.4h0M495.2 354.5h0M473.1 378.7h0M531.3 406.9h0M494.3 348.6h0M447.1 377.5h0M536.7 382.6h0M466 377.5h0M591.5 356.8h0M438.8 357h0M591.1 388.9h0M466.4 354.8h0M492.6 381.8h0M555.2 415.2h0M530.7 361h0M460.6 355h0M524.4 454.7h0M508.5 357.6h0M452.7 375h0M427.4 498.9h0M560.3 422.5h0M457.1 349.1h0M461.5 433h0M549.3 373.2h0M455.2 378.6h0M602.4 446.8h0M542.4 491.4h0M597.7 358.1h0M460.6 361.6h0M565.1 355.7h0M578 379.9h0M514.7 390.1h0M494.9 387.5h0M525.7 385.4h0M501.4 417.5h0M599 441.8h0M584.7 395.9h0M503.1 396.5h0M579.3 364h0M477.1 374.3h0M579.4 375.4h0M596.9 379.6h0M598.6 421.6h0M577.6 374.9h0M450.1 406.1h0M445.5 472.4h0M491.5 350h0M484.9 382.4h0M474.1 357.4h0M520.5 400h0M592.9 353.8h0M565.9 423.9h0M548.1 405.2h0M453.1 356.6h0M572.8 414.8h0M508.9 370.4h0M432.9 359.8h0M456.3 352.5h0M460.2 356.6h0M458.7 431.1h0M422.8 401.2h0M598.2 362.5h0M538 522.4h0M432.7 458.6h0M566.5 356.8h0M563.3 393.9h0M579.7 464.3h0M574.8 358.9h0M501.4 353.4h0M498.7 370.2h0M602.6 358.1h0M592.5 356.9h0M523.5 355.9h0M529.7 431.3h0M546.4 440.9h0M582.3 364.1h0M449.5 407.4h0M424.5 384.7h0M560.4 358.8h0M536.1 381.2h0M489.4 467.1h0M606.7 365.5h0M569.2 382.1h0M596.9 459.7h0M455.3 414.7h0M479.9 377.1h0M449.3 366.4h0M573.1 364.8h0M441.5 391.3h0M578.3 367.1h0M425.4 353.2h0M538.2 424.8h0M565.6 452.7h0M568.4 364.8h0M596.9 368.3h0M552.4 366.1h0M420.4 399.6h0M453.9 413.2h0M549.4 423h0M525.9 405.6h0M578.7 351.6h0M553.8 404.9h0M568.6 365h0M476.2 371.4h0M420.3 408.4h0M472.6 375.9h0M596.7 349.2h0M599.4 515.4h0M575.3 393.7h0M461.7 510.2h0M521.4 358.6h0M526.3 372.2h0M464.2 386.6h0M536.3 358.2h0M508.4 369.9h0M529.2 386.3h0M600.4 373.6h0M549.2 350.6h0M430.7 354.3h0M577.9 357.2h0M578 409.8h0M484.5 370.4h0M581.1 395.2h0M431 378.8h0M567.2 384h0M555.9 352.4h0M416.9 352.6h0M437.6 385.9h0M466.6 393h0M604.4 388.4h0M497.5 459.5h0M499.6 368.9h0M436.5 365.9h0M474.5 367.2h0M547.6 381.8h0M597.4 467.1h0M537 403.8h0M586.5 381.9h0M511 546.4h0M426.3 372.9h0M587.4 386.2h0M452.4 354.8h0M604.6 362.6h0M542.7 364.5h0M606.8 410.1h0M497.9 487.4h0M474.1 373.4h0M513.6 371.2h0M537.3 379.4h0M579.7 452.2h0M550.9 397.1h0M589.1 382.6h0M522.5 403.4h0M553.9 362.7h0M496.3 351.9h0M467.6 428.7h0M496.6 361.9h0M437.1 371h0M590.2 493.7h0M539.3 404.9h0M540.3 353.5h0M567.9 357.1h0M469.2 380.1h0M533.2 372.9h0M454.5 386.9h0M507.7 433.8h0M525.4 360.6h0M438.7 431.2h0M579.8 366.5h0M601.2 461.2h0M574.8 353.8h0M520.7 382.4h0M590.6 367.6h0M430.4 388.6h0M481.2 397h0M427.4 349.6h0M521.6 356h0M504.9 361.5h0M456.9 424.5h0M589.1 380.1h0M423.1 409.7h0M500.8 371.7h0M539.2 449.9h0M594.9 371.9h0M426.9 481.8h0M444.3 365.3h0M475.8 353.3h0M600.2 413h0M524.6 386.3h0M515.8 354.9h0M469.6 356.3h0M416.7 357.6h0M512.4 368.2h0M600.3 411.6h0M476.6 379.2h0M531.3 354.1h0M547.2 352.3h0M528.8 487.8h0M438.7 360.4h0M465.9 392.1h0M442.3 351h0M496.3 354.1h0M550 357.7h0M570.3 377.5h0M538.9 374h0M439.1 371.9h0M462.7 421.6h0M414.7 514.5h0M414.8 351h0M414.4 444.1h0M414.8 356.2h0M414.5 353h0M415.1 414.5h0M414.8 383.6h0M415 376.1h0M414.8 473.9h0M415.7 388.3h0M414.4 473.8h0M415.6 416.5h0M415.6 372.2h0M414.8 349.6h0M415.3 354h0M414.5 491.4h0M414.8 489.4h0M414.4 422.9h0M414.8 516.2h0M415.4 396.3h0M414.6 413.8h0M415.4 447.9h0M414.7 402.6h0M415 447.1h0M415.8 499h0M414.6 422.9h0M415.2 379h0M414.5 474.6h0M415.2 422.3h0M415.3 379.4h0M414.7 469.5h0M415.3 398.5h0M415.2 349h0M415.4 364.3h0M414.8 547.7h0M415.1 547.7h0M414.6 547.6h0M415.1 547.6h0M415.1 547.2h0M415.5 547.2h0M415.4 547.2h0M415 547.2h0M415.4 547.7h0M454.6 547.3h0M466.5 547.3h0M484.3 547.3h0M523.9 547.3h0M585.7 506.8h0M418.4 513.9h0M461.1 530.5h0"/>
<path fill="none" stroke="#4650a2" stroke-width="2.9" stroke-linecap="round" stroke-opacity="0.62" d="M558.8 440.6h0M432.7 349.3h0M465.8 379.9h0M570.7 373.7h0M459.5 404.8h0M452 358h0M520.1 420.1h0M554.5 362.3h0M438.4 367.2h0M498.2 444.7h0M588 417.2h0M427.9 359.7h0M557.1 383.8h0M581.8 365.4h0M471.2 391.6h0M418.2 412h0M586.5 393.4h0M575 383.5h0M560.8 383.3h0M451.5 370.8h0M563.9 358h0M605.1 375.8h0M534.1 347.3h0M563.7 350.6h0M433.7 352.4h0M598.3 401.5h0M466.2 358.9h0M552.4 380.8h0M419.3 395.3h0M590.1 362.6h0M531.8 406.7h0M479 361.3h0M474.1 380.8h0M570.5 367.7h0M511.5 395.3h0M514.5 363.6h0M551.1 376.2h0M581.4 361.2h0M587.7 355.2h0M604 370.9h0M465.7 524.7h0M481.7 365.3h0M595.4 392.1h0M549.4 387.6h0M468.5 419.6h0M574.5 400.3h0M471.7 350h0M531.6 377.3h0M418.7 409.3h0M502.7 363h0M569.3 382.6h0M430 359.4h0M479.6 509.8h0M440.8 366.4h0M488 381.6h0M502.5 380.9h0M447.4 372.7h0M434.3 352.3h0M528.3 465.6h0M590.7 347.6h0M566 411.2h0M518.3 362.5h0M607 366.5h0M438.2 364.7h0M570.7 384.9h0M604.1 397.7h0M417.7 381.7h0M423.2 488.2h0M588.2 409.6h0M484.7 369.5h0M599.6 376.4h0M435.5 355.9h0M459 368.8h0M466.4 454.5h0M511.2 358.3h0M570.4 386h0M503.2 424h0M468.4 367.1h0M503.5 351.3h0M429.2 374.3h0M479.9 362.1h0M584.3 405.5h0M575.2 424.1h0M457.7 404.7h0M420.1 356.9h0M460.3 349h0M516.8 361.9h0M472.5 395.8h0M492.5 366.9h0M567.3 411.9h0M445.5 410.6h0M602.5 358.4h0M483.8 406.9h0M601.8 358.8h0M419.4 380h0M460 398.1h0M438.8 367.4h0M580.9 441.6h0M473.5 360.2h0M509.5 398.3h0M594 348.9h0M480.5 363.5h0M487.7 370.5h0M553.4 397.8h0M541.1 378.1h0M592.5 425.5h0M563.2 434h0M464.7 431.9h0M583.1 368.5h0M594.1 359.2h0M454.1 356.1h0M580.2 472h0M471.7 362.4h0M488.2 350.6h0M532.2 359.6h0M589.5 372.3h0M509 392.3h0M603 370.9h0M498.8 433.5h0M549.5 382.9h0M423.4 349.6h0M573.9 396.6h0M485.5 349.1h0M475.2 395.3h0M594.1 472.1h0M463.4 423.7h0M534.9 464h0M421.4 385.2h0M594.2 358h0M526.8 353h0M523.9 351.9h0M578.6 437.5h0M580.4 358h0M430 412.2h0M539.4 374.6h0M427 374.2h0M478.4 356.1h0M479.7 427.7h0M594.3 419.7h0M574 348.9h0M556.7 357.6h0M549.5 405.5h0M602.8 511.5h0M555.3 369.1h0M465.9 362.7h0M529.3 389.7h0M451.3 396h0M573.5 415.5h0M508.5 355.6h0M428.8 350.1h0M488.1 367.2h0M470.6 472.3h0M421.9 512h0M431.8 363.6h0M479.7 361.8h0M584 445.7h0M598 350.4h0M454.9 399.6h0M505.6 481.2h0M525.9 347.6h0M537.3 361.3h0M432.8 384.9h0M498.1 356.1h0M434.2 448.8h0M514.1 350.9h0M500.7 383h0M514 361.6h0M508.9 420.5h0M454.9 435h0M493.5 460.8h0M523.7 430.3h0M554.2 398.1h0M558.7 347.5h0M528.8 413.5h0M580.7 384h0M537.1 363.9h0M531.8 352.6h0M448.2 355.1h0M527.2 401.9h0M488.7 380.2h0M446.4 410.8h0M456.2 391.7h0M453 405.3h0M564.9 348.5h0M580 377.9h0M474.9 424.2h0M423.5 447.1h0M416.1 359.8h0M417.6 403.5h0M423.8 478.5h0M494.3 348h0M471 360.6h0M534.7 364.4h0M565.3 364.8h0M438.8 464.3h0M502 484.7h0M512.4 520.1h0M510 437.2h0M455.5 415.8h0M489.3 372.8h0M556.6 402.1h0M597.7 382.8h0M434.1 389.6h0M562.2 350.4h0M443.2 362.2h0M582.4 449h0M536.5 401.7h0M517.1 365.6h0M456.7 348.4h0M590.3 348.8h0M569.2 378.2h0M481.4 355.3h0M544.3 429h0M474.4 451h0M555.3 370.2h0M425.7 400.1h0M488.9 460.8h0M422.3 350.7h0M502.2 366.7h0M509.1 365.5h0M528.4 359.1h0M583.2 428h0M567.8 462.6h0M517.3 387.1h0M488.3 354.7h0M477.8 365.3h0M428.6 359.1h0M478.3 351h0M555.4 351.5h0M600.4 387.6h0M603.9 396.1h0M454.8 416.8h0M488.1 401.1h0M496.1 363.7h0M443.8 475.6h0M476.6 377.7h0M515.6 352.4h0M492.5 411.2h0M487.2 356.4h0M441.1 354.6h0M414.6 349.8h0M414.6 529.3h0M415.2 496.6h0M415.4 431.8h0M414.9 445.8h0M415.7 364.3h0M415 479.3h0M415.2 419.6h0M415.6 358.4h0M415.4 434.6h0M415.5 351.3h0M415.4 535.9h0M415.2 490.9h0M414.9 368.7h0M415.3 462.5h0M415.4 392.6h0M415.6 354.8h0M415.2 479.4h0M414.9 362.9h0M414.5 501.2h0M415.8 398.4h0M415.6 472.5h0M415 408.2h0M414.9 541.5h0M414.7 474.4h0M414.4 454.2h0M414.4 456.3h0M415 387.6h0M415 358h0M415.6 432.3h0M415.4 370.6h0M414.8 380.8h0M415.5 547.5h0M415.2 547.1h0M414.6 547.2h0M415.6 547.7h0M415.6 547.5h0M415.5 547.7h0M415.3 547.7h0M415.5 547.2h0M471.4 547.3h0M474.4 547.3h0M427.2 519.9h0M563.9 532.3h0M586.9 541.7h0"/>
<path fill="none" stroke="#4650a2" stroke-width="2.9" stroke-linecap="round" stroke-opacity="0.62" d="M426.7 353.7h0M456.8 363.1h0M437 356.4h0M506.5 375.1h0M451.4 352.9h0M600.6 412.4h0M601 438.8h0M534.2 436.8h0M501.8 347.9h0M423.9 422.2h0M452 391.3h0M591.3 453.2h0M438.8 366.6h0M471.3 366.7h0M588.5 364.7h0M552.6 493.5h0M475.5 387.8h0M454.2 382h0M590.5 409.1h0M595 409.4h0M511.2 400.5h0M416.4 380.5h0M522.7 424.2h0M564.6 422.7h0M481 440.4h0M558.2 386.8h0M479 356.1h0M540.7 367.4h0M594.9 435.4h0M542.8 364.9h0M605.5 438.8h0M422.1 369.5h0M565.1 389h0M442.8 456.2h0M485.6 362.2h0M468.6 456h0M473.6 364.5h0M586.7 352.3h0M600.7 351.3h0M573.5 398.7h0M578.9 355.2h0M422.6 410.5h0M436.7 418.4h0M436.7 390.5h0M493.1 351h0M501.2 383.1h0M585.2 377h0M505.8 365.9h0M554.5 412.9h0M458.9 358.5h0M437.4 371.4h0M465.3 355.1h0M421.3 350.9h0M483.2 360.9h0M500.1 352.8h0M439.9 399.4h0M486 398.5h0M470 433.3h0M439.5 395.6h0M501.9 350.3h0M420.5 377h0M568 397.2h0M510.9 393.2h0M562.5 393.5h0M524.6 376.4h0M482.9 407.7h0M465.7 368.2h0M540.5 369.2h0M453.1 372.9h0M542.2 368.7h0M554.6 438.7h0M542.1 372.4h0M575.4 381.1h0M579.6 377.8h0M549.3 429.2h0M561.6 451.9h0M572.2 351.3h0M585.7 368.9h0M439.7 375.1h0M566.4 360.2h0M443.6 353.1h0M488.5 365.6h0M588.1 379.2h0M569.3 353.3h0M449.3 388.7h0M444.9 351.7h0M574.1 388.3h0M578.1 371.6h0M421 395.1h0M545.7 398.2h0M556 365.8h0M573.1 422.5h0M573.2 350.4h0M506.4 347.9h0M458.7 370h0M510.5 349.4h0M561.4 360.3h0M446.6 356.3h0M493.2 352.8h0M504 420.7h0M511.9 362.5h0M462.7 456.9h0M463.8 352.6h0M570.5 416.2h0M438.4 349.2h0M591.2 353.9h0M574.9 431.1h0M571.1 461.4h0M601.3 425.9h0M506.2 349h0M567.6 442h0M547.5 416.9h0M595.5 413.3h0M515.1 371.7h0M435.3 404.4h0M471.1 348.5h0M480.2 364.8h0M518.5 359.3h0M517.8 397.6h0M470.9 348.2h0M458.4 359.7h0M521.8 389.8h0M495.3 390.8h0M460.5 384.2h0M433.3 395.9h0M468.6 348.8h0M440.3 378.1h0M480.5 382.3h0M523.8 375.4h0M505.3 403.3h0M457.4 402.7h0M597.3 381.1h0M599.1 365.5h0M569.7 377.8h0M462.3 424.9h0M519.2 431.7h0M604.3 501.3h0M520.8 413.8h0M572.8 421.4h0M562.7 404.7h0M420.1 391h0M511.5 349.1h0M513.4 382.9h0M552.5 355.5h0M499.9 357h0M495.5 435.7h0M532 410.5h0M562.3 365.1h0M507.3 364.2h0M600.9 406.9h0M489.1 363.4h0M556 349.2h0M541.9 356.4h0M480.5 349.4h0M434.2 371.9h0M484.2 360.2h0M465.1 429.4h0M416.3 390.3h0M457.7 348.4h0M596.2 444.3h0M496.5 456.4h0M580.6 438.9h0M525 388.1h0M564.5 363.9h0M601.7 398.7h0M477 517.6h0M513.6 348h0M589.7 456.2h0M586 382.3h0M606.3 349.2h0M441.2 398.5h0M466 350.3h0M490.1 352.3h0M513.6 389.2h0M588.9 454.3h0M521.5 362h0M564.7 386.9h0M512.3 449.1h0M496.5 389.7h0M471.7 352.6h0M432.9 369h0M443.5 365.3h0M581.8 379.1h0M431.3 392.5h0M498.1 403.8h0M589.2 356.2h0M515.7 351.6h0M591.2 429.2h0M425.7 371.9h0M442.4 524.9h0M465.4 365.7h0M585.2 390.3h0M554.3 405.5h0M479.8 402.6h0M600.8 364.9h0M553.4 377.3h0M580.9 366.1h0M530.5 446.3h0M600.8 401.7h0M445.8 353.1h0M564.1 355.8h0M496 376.8h0M557.8 352.6h0M571.7 389.4h0M438.3 373.9h0M550.8 358.9h0M418.3 372.5h0M585.5 408.2h0M479.9 395.5h0M471.8 351.5h0M521.6 353.5h0M454.2 350.9h0M509.6 438h0M477 403.7h0M587.3 412h0M430.6 366.4h0M435.2 348.1h0M468.1 356.4h0M589.2 383.5h0M577.3 483.7h0M460.3 378.8h0M525.2 482.7h0M569.4 348.9h0M447.5 390.2h0M596.3 436h0M420.4 377.6h0M598.2 405.9h0M494.7 350.1h0M508.4 375.9h0M516.4 356.3h0M571.1 362.5h0M509 406h0M509.7 368.2h0M541.6 350.4h0M531 426.5h0M439.3 350.8h0M415.7 481.9h0M414.4 411.8h0M415.3 448.8h0M415.4 533.6h0M414.7 361.8h0M414.6 481.2h0M414.5 350.2h0M414.8 352.3h0M414.4 347.7h0M415.4 365.6h0M414.7 464.2h0M414.6 453.4h0M415 529.2h0M415.3 392.6h0M414.7 438.3h0M415.2 545.7h0M415.2 541.7h0M415.3 371h0M415.4 431.8h0M414.7 469.4h0M415.4 518.4h0M415.4 362.9h0M415.7 506.1h0M414.6 545.3h0M415.8 389.7h0M415 518h0M415.1 389.7h0M415.5 427.7h0M415.1 458.2h0M415.1 402.7h0M415 547.3h0M414.8 547.7h0M415.5 547.6h0M415 546.9h0M414.7 547.6h0M415.4 547.8h0M459.6 547.3h0M460.5 544.3h0M579.1 526.6h0M494 538.2h0"/>
<path fill="none" stroke="#4650a2" stroke-width="2.9" stroke-linecap="round" stroke-opacity="0.62" d="M451.6 455.7h0M473.6 392.9h0M497.4 407.9h0M427 364.5h0M527.5 361.9h0M571.5 459.2h0M568.7 368.4h0M479.5 353.6h0M454.8 351.1h0M460.9 393.1h0M480.4 351.2h0M474.5 361.1h0M446.5 350h0M514.6 419.2h0M590.9 375h0M520.5 364.6h0M540.2 426h0M427.9 404.3h0M479.8 372.8h0M472.7 363.6h0M480.4 357.4h0M431.8 396.9h0M492.4 383.7h0M557.4 441.6h0M485.8 421h0M485.7 361.3h0M542 425.6h0M597.9 394.7h0M501.3 348.4h0M584.6 377.8h0M486.4 407.3h0M489.3 402.4h0M567.7 356.1h0M498.5 472.8h0M493.4 428.1h0M568 392.5h0M470.6 502.6h0M479.5 426.5h0M426.9 428.6h0M587.4 371.7h0M595.9 392.6h0M540.4 463.3h0M448.2 428.8h0M491.5 393.3h0M458.7 400.4h0M450.4 416.3h0M588.5 351.5h0M598 377.8h0M597.2 402.8h0M543 385.9h0M530.1 540.2h0M451.1 355.8h0M494.8 399.9h0M576.6 365.4h0M474.6 487.5h0M443.5 435.8h0M536.4 391.9h0M558.1 467.9h0M540.4 400.7h0M582.1 416.1h0M535.7 357.7h0M419.4 354.5h0M483.2 384.6h0M454.8 369.8h0M477.8 355.1h0M591.3 353.6h0M463.4 379.1h0M547.9 443.3h0M424.4 364.8h0M598.8 385.8h0M447.6 356.3h0M586.9 440.3h0M563.8 394.8h0M454.1 360.3h0M430.4 410h0M487.3 354.5h0M567.1 368h0M554.6 361.3h0M532.5 382h0M588.9 404.7h0M543.1 459.9h0M572.3 360.4h0M436.9 395.5h0M472.4 434.9h0M479.8 431.8h0M460.4 364.3h0M468 365.1h0M426.3 471.1h0M476.4 424.4h0M476.1 362h0M545.9 536h0M419.4 360.6h0M457.5 374.1h0M496.4 388.7h0M592.2 423.6h0M420.3 357.1h0M526.8 397.5h0M559 380.5h0M560.4 356.2h0M560.6 361.9h0M583.5 358.9h0M447.8 366.1h0M460.7 392.8h0M422.7 475.4h0M429.2 351.4h0M551.1 368.1h0M606.3 350.4h0M574.8 352.3h0M542.7 385.7h0M481.7 358.2h0M578.2 392.5h0M510.6 453.5h0M418.5 372.5h0M521.8 475.6h0M596.1 384.5h0M447.9 371.3h0M487.2 468.7h0M586.7 361.5h0M440.9 364.1h0M518.3 349h0M528.5 361.9h0M446 381.5h0M442.6 367.2h0M421.7 350.1h0M417.6 367.2h0M472.8 367.4h0M524.5 351.9h0M502.3 365.1h0M585.4 357.3h0M461.1 379.4h0M487.5 368.3h0M534.6 398.5h0M512.7 443.7h0M434.8 374.9h0M606.2 401.6h0M478.2 355.1h0M551.6 481.1h0M550.5 376.3h0M568 354.2h0M562.4 378.9h0M427.8 352h0M516.5 403.3h0M494.2 359.7h0M470.2 351.3h0M574.3 399.6h0M554.2 360h0M418.7 352h0M451.6 382.3h0M431 409.2h0M598.9 373.9h0M451.8 369.6h0M441.5 374.9h0M416 352.2h0M561 358.5h0M497.9 355.4h0M467.7 381.7h0M439.9 378h0M508.4 411.2h0M481.6 354.7h0M498.2 358.2h0M461 347.6h0M517.3 369.3h0M460.5 353.3h0M539.9 391.2h0M570.2 439.1h0M567.2 364.6h0M480.2 450.1h0M433.2 362.2h0M419.8 364.8h0M498.4 420.4h0M546.6 380.4h0M539.3 455.3h0M515.5 390.9h0M536.5 363.7h0M600.1 429.8h0M577.4 361.8h0M423.3 400.7h0M535.9 385.7h0M559 417.9h0M540.9 475.9h0M602.8 382.2h0M484.9 377.7h0M560.3 492.8h0M457.4 349.1h0M476.9 381.2h0M452.4 391.3h0M465.5 348.7h0M434 389.3h0M483.9 420.4h0M484.9 398.1h0M452.1 433.8h0M529.1 357h0M469.8 355.2h0M515.7 412h0M494.7 356.9h0M491.1 371.9h0M478.4 395.1h0M553 354.5h0M443.6 432.4h0M594.9 413h0M480.4 422.9h0M566 378.4h0M579 493.9h0M531.4 373.6h0M482.7 388.2h0M474.2 352.9h0M470 370h0M538.1 410.7h0M595.1 348.6h0M571 350.9h0M522.4 394.2h0M418.6 373.1h0M578.2 508.2h0M537.2 467.3h0M419.1 414.7h0M452.9 362.2h0M450.1 369h0M492.5 493.1h0M517.3 448.5h0M587.6 358h0M527.2 394.2h0M529.5 427.8h0M499.2 353h0M528.1 382.1h0M445.1 362.5h0M603.1 430.1h0M558.1 356.9h0M550.2 349.2h0M415.7 482.7h0M414.7 357.9h0M415.6 528.9h0M415.3 536.2h0M414.8 448.3h0M414.6 421.8h0M414.4 393.1h0M415.2 509.9h0M415.8 367.1h0M415.7 356.1h0M415.4 353.3h0M415.7 407.7h0M414.9 409.7h0M414.8 411h0M414.6 430.6h0M414.8 544.9h0M414.8 353.6h0M415.4 532.2h0M415.6 347.7h0M415.7 356.5h0M415.7 527.9h0M414.4 387.3h0M415.1 387.6h0M414.7 354.1h0M414.6 359.7h0M415.5 381.4h0M415.5 444.8h0M414.4 469.9h0M415.3 358.2h0M415.5 381.5h0M415.6 372h0M415.6 481h0M414.5 493.1h0M414.9 433h0M415.2 411h0M414.9 547.7h0M415 546.9h0M415.1 547.6h0M415 547.3h0M414.9 547.1h0M414.9 547.2h0M424.9 547.3h0M598.9 496.5h0M419.4 524.4h0M451.7 532.2h0M469.3 528.1h0M535.9 525.7h0"/>
<path fill="none" stroke="#4650a2" stroke-width="2.9" stroke-linecap="round" stroke-opacity="0.62" d="M501.1 381.9h0M522.2 466.3h0M444.4 353.2h0M566 382.3h0M507.9 350.8h0M437.2 416.3h0M585.8 364.9h0M559.4 439.3h0M593 351.2h0M598.7 394.1h0M555.5 363.1h0M460.8 392.2h0M434.8 370.9h0M517.4 450.9h0M567 388h0M512.8 378.1h0M519.9 382.4h0M574 364.3h0M573.3 374.3h0M478.7 426.8h0M484 379.6h0M570.7 356.3h0M518.3 350.7h0M532.8 394.9h0M605.3 360.3h0M420.5 356.4h0M492 520.3h0M438.9 390.9h0M575.8 442.2h0M605.1 361.3h0M516.8 438.1h0M545 370h0M486.9 452.8h0M484.7 449.7h0M548.7 350.7h0M557.1 354.3h0M424.3 407.9h0M527.6 414.4h0M416.5 350.9h0M501.9 376.2h0M546 468.3h0M444.7 349.2h0M448.9 388.2h0M518.4 421.3h0M435.3 383.1h0M448.3 370.9h0M597.5 361.3h0M533.5 385.8h0M598.5 422.5h0M543.4 360.8h0M571.1 397.7h0M573.9 362.1h0M481.9 348.3h0M416.9 409.9h0M602.8 486.9h0M551.4 358.6h0M555.4 376h0M456.5 348h0M486.8 395.6h0M416.7 348.8h0M490.7 365.9h0M489.3 375.3h0M420.6 371.1h0M542.5 374.1h0M573.6 411.4h0M441.9 440.2h0M471.3 371.4h0M602.2 360h0M432.4 415h0M417.1 364.7h0M479.8 390.7h0M488.3 352.7h0M537.5 473.1h0M447.8 384.4h0M426.2 357.7h0M461.5 389.5h0M461.4 369.5h0M507 365.7h0M420.4 357.3h0M596.3 512.3h0M468.9 384.7h0M453.7 416.3h0M536.6 392.4h0M580.4 423.1h0M558.2 385.8h0M528.4 368.5h0M537.5 366.1h0M442.1 374.2h0M600.5 355.6h0M586.8 348.7h0M432.5 357.5h0M530.3 454h0M464.8 359.5h0M472.8 426.3h0M537.8 359.4h0M439.8 426.7h0M549.6 366.5h0M426.4 358.5h0M549.5 383.3h0M553.7 380.8h0M565.9 363.1h0M483.7 361.1h0M433.9 362.7h0M566.3 379.3h0M494.1 408.4h0M583.4 376.2h0M595.4 436.5h0M513.4 360.3h0M518.7 361.2h0M545 367.2h0M582.6 398.6h0M472.8 420.9h0M605.7 408.3h0M435.4 386.9h0M580.8 417h0M422.9 421.9h0M594.8 382.7h0M450.4 407.1h0M467 370.1h0M431 375.9h0M527.6 354.2h0M543.2 434.8h0M451.4 417.1h0M417 481.5h0M495.4 364.3h0M475.8 370.4h0M489.7 464.9h0M426.5 361.9h0M444.3 393.6h0M522.3 355.6h0M591.8 363.6h0M442.4 368.3h0M546.1 466.9h0M477.3 351.7h0M553.8 428h0M505.5 388.4h0M602.7 353.4h0M474.7 354.8h0M514.6 380.3h0M524.9 501.4h0M602.3 375.2h0M533 351.9h0M515.2 413.4h0M571.1 416.5h0M457.7 388h0M598.7 390.6h0M477.7 355.3h0M477.1 377.8h0M495.4 350h0M505.9 424h0M486.2 363.1h0M441.2 354h0M519.7 366.2h0M477.4 379.6h0M522.9 402.7h0M580 436.9h0M595.8 349.7h0M455.8 377.6h0M606.8 472.4h0M476.9 461.3h0M597.2 353h0M490.7 362h0M450.5 369.1h0M570.8 392.8h0M483.5 386h0M587.4 358.3h0M599.4 533.2h0M483.2 354.2h0M491.4 359.9h0M544.8 392h0M606.1 380.9h0M455 371.4h0M576.1 419h0M449.9 468.5h0M479.4 353.5h0M587.3 421.7h0M549.5 451.9h0M433.7 437.5h0M471.5 368.4h0M493.3 353.8h0M460.2 395.5h0M427.8 477.5h0M486.1 410.8h0M422.2 360.8h0M528.2 402.4h0M518.8 387.9h0M482.2 419.2h0M526.6 383h0M424.2 359.4h0M436 352.5h0M471.1 380h0M603.6 352.9h0M441.3 355.6h0M468.4 420.3h0M586.6 384.5h0M547.5 348.1h0M568.5 368.6h0M494.9 471.2h0M562.8 386.4h0M502.9 351.3h0M589.2 349.3h0M487.1 376.8h0M576.9 363.7h0M444.3 348.3h0M513.4 371.2h0M512.2 374.1h0M482 348.7h0M438 401.5h0M440.5 458.5h0M520.8 382.7h0M544.1 365.7h0M453.3 359.1h0M543 349.7h0M550.7 473.8h0M577.2 349.8h0M516.7 470.6h0M463.7 354h0M572.8 367.1h0M503.5 377.1h0M467.3 372.9h0M470.7 373.6h0M523.5 467.2h0M506.2 381.2h0M512 386.8h0M519.9 366.2h0M421.7 349.5h0M457.2 383.8h0M543.1 377.7h0M565.9 359.5h0M439.4 406.2h0M425.7 442.9h0M536.6 404.6h0M588.1 392.8h0M514 368.1h0M471.3 362.5h0M549.3 373.7h0M475.7 371.6h0M521.3 418.4h0M498.9 388.5h0M447.9 514.6h0M498.6 381.1h0M599.9 412.8h0M584.5 355h0M454.5 350.5h0M546.7 361.6h0M542.2 389.5h0M425 355.8h0M529.8 434.3h0M532.9 371.9h0M429.2 376.6h0M527.4 355.4h0M573.5 360.4h0M516.4 348.4h0M479.7 416.7h0M543.7 410.9h0M510.2 396.7h0M562.8 349.4h0M497.7 351.6h0M506.7 381.3h0M501.2 352.5h0M451.4 362.8h0M415.5 425.3h0M414.7 427.4h0M414.9 478.5h0M414.4 348.5h0M414.9 431.6h0M414.6 354.6h0M414.9 537.9h0M415.4 349.5h0M414.7 465.6h0M414.9 459.6h0M414.9 473.8h0M414.6 500.3h0M415.8 507.8h0M415.1 393.1h0M415.2 414.5h0M414.5 514.4h0M415.6 453.5h0M414.7 516.3h0M414.9 383.3h0M415.7 517.4h0M415.4 361.4h0M415.7 477h0M415.2 390.5h0M415.4 432.2h0M414.7 349.6h0M415.5 523.1h0M414.7 489.1h0M415.7 363.5h0M414.8 478.9h0M415.6 411.8h0M414.5 455.1h0M414.8 363.5h0M415.3 428.6h0M415 453.1h0M415.2 474h0M415.1 460.8h0M414.6 407.9h0M415.3 431.4h0M415.2 349.8h0M414.8 361.4h0M415 350.6h0M414.6 410.3h0M414.8 547.7h0M415.3 547.4h0M414.7 547.1h0M415.1 547.2h0M415.1 547.7h0M430.8 547.3h0M437.8 547.3h0M596.5 519.6h0M507.3 532h0M575.1 523.4h0M597 541.5h0M601.8 543.1h0"/>
<path fill="none" stroke="#2f8f45" stroke-width="2.2" stroke-linecap="round" stroke-opacity="0.8" d="M573.5 343.2h0M538.4 342.5h0M450.1 343h0M457.5 343.4h0M559.4 343h0M541.9 343.1h0M424 343h0M477.8 342.7h0M433 342.8h0M550.4 343.5h0M540.5 342.6h0M568.6 342.1h0M461.7 343.2h0M480.5 341.8h0M553.6 342.8h0M487.3 341.9h0M442 342.8h0M581.2 343.4h0M436.5 342.3h0M468.2 343.1h0M505.5 342.3h0M539.2 341.9h0M546.7 342.2h0M521 343.1h0M481.9 342.1h0M423.4 342.9h0M436.2 343.4h0M498.6 341.9h0M501.4 342.8h0M510.6 342.7h0M528.5 342.2h0M581.4 342.4h0M583 343.2h0M473.8 342.2h0M607.5 343.4h0M454.8 343.1h0M570.3 342.6h0M522.4 342h0M497.4 342.1h0M433.6 342.9h0M536.8 342.6h0M466.5 342.7h0M544.6 342.5h0M485.6 343.5h0M533 343.3h0M501.3 342.8h0M516.8 343.4h0M424.2 342.8h0M606 343.6h0M511.4 343.4h0M588.4 342.8h0M422 341.8h0M553.3 343h0M597.3 343.5h0M529.1 343.5h0M511.7 341.8h0M589.6 343.3h0M506.1 342.2h0M605 342.5h0M519.9 343.2h0M561.9 343.1h0M424.6 343.2h0M520.9 343.5h0M433.4 343.5h0M460.7 343.5h0M469.5 341.9h0M416.1 342.4h0M571.4 342.4h0M502.9 342.4h0M434.3 342.7h0M436.3 343.2h0M543.9 343.6h0M430.3 342.4h0M543.3 342.6h0M591.8 342.7h0M521 343.6h0M418.7 342.1h0M445.2 342.4h0M582.4 343.6h0M514.5 342h0M599.9 341.8h0M508 343.2h0M435.8 343.4h0M426.2 342.1h0M496.8 343.2h0M515.5 342.2h0M512.3 343.2h0M570.2 343h0M469.6 342.9h0M459.9 342.3h0M546.6 343.2h0M531.7 342.2h0M476.3 343h0M520.3 342.5h0M571.5 343.2h0M509.5 343.2h0M513.1 341.9h0M604.2 342.4h0M566.9 343.4h0M518.5 342.2h0M454 343.2h0M562.8 343.4h0M415.6 343h0M560.4 342.1h0M513 342.3h0M428.1 343.3h0M475.4 342.1h0M591.7 342.5h0M579.1 343.5h0M479.5 343.2h0M488 342.2h0M467.7 342.1h0M510.8 342.3h0M416 343h0M448.4 343.1h0M502.1 342.8h0M444.6 343.2h0M478.3 343.4h0M565 341.9h0M596.2 342.6h0M487 343.3h0M425.3 342.1h0M504.7 341.9h0M480.5 342.6h0M509.1 342.8h0M498.1 342.6h0M474.6 342.8h0M594.5 342.8h0M482.3 342.7h0M512.4 342.4h0M539.2 343.1h0M592.7 342.3h0M556.9 343.6h0M489.5 343.1h0M507.6 342.7h0M423.3 343.1h0M572 342.1h0M448.3 342.5h0"/>
<path fill="none" stroke="#2f8f45" stroke-width="2.2" stroke-linecap="round" stroke-opacity="0.8" d="M491.1 342.1h0M563.1 342.1h0M587.9 342.7h0M534.8 342.3h0M563.3 343.3h0M507.3 343.2h0M567.2 342.8h0M533.1 343h0M469.5 343h0M467.4 343.5h0M497.5 342.2h0M505.5 342.7h0M433.6 343.4h0M592.1 342.5h0M478.7 343.3h0M580.9 343.5h0M504.4 343.1h0M438.4 342.3h0M472.7 342.7h0M423.7 342.5h0M571.7 343.4h0M530.3 342.8h0M431.3 341.8h0M603.5 342.5h0M561.2 342.8h0M588.9 343.2h0M519.5 343.2h0M463.3 343.6h0M486.4 343h0M421.7 342h0M458.9 342.8h0M592.4 342.4h0M597.2 342.8h0M426.3 342.9h0M540.7 343h0M590.3 343.4h0M419.6 343.1h0M451.4 342.2h0M521 343.5h0M420.5 343.2h0M585.5 342.2h0M567.9 343.1h0M552.5 343.3h0M470.7 343.1h0M525.8 342.2h0M599 343.5h0M463.8 342.5h0M545.4 342.4h0M527 342.4h0M514.1 343.5h0M538.8 343.3h0M585.3 343.6h0M598.5 343.5h0M430.8 342.4h0M518 343.1h0M579.9 342.2h0M535.3 343h0M418.6 342.6h0M587.2 342.1h0M535 342.5h0M577.6 342.1h0M548.9 343.1h0M546.9 343.2h0M462.5 342.8h0M524.8 341.9h0M427.8 343.6h0M569.3 342.3h0M486.7 342.4h0M551.3 342.4h0M497.5 342.6h0M539.5 343.3h0M565.1 342.6h0M454.9 342.2h0M592.6 341.8h0M565.9 342.4h0M461.4 341.8h0M456.3 343.3h0M437.3 342.9h0M581.9 342.1h0M521.3 342.7h0M491.2 343.2h0M418.6 342.5h0M603.2 341.9h0M493.7 343h0M508.8 343.1h0M416.8 342.1h0M552.3 343.2h0M452.3 341.9h0M521.9 342.1h0M432.5 342.3h0M564.7 342.5h0M526.6 343.4h0M447.7 342.2h0M455.2 343.6h0M604.2 343h0M447.9 343.3h0M595.3 342.9h0M595.5 341.8h0M530.6 342.1h0M415.7 342.4h0M418.7 342.9h0M550.5 341.9h0M551.3 342.4h0M481.9 341.8h0M588.7 343h0M580.3 342.8h0M472 343.3h0M606.7 343.1h0M499.6 343.2h0M561.6 343.4h0M505.7 343.4h0M579.7 342.7h0M565.6 341.9h0M566.4 342.6h0M551.6 342.2h0M463.3 343.4h0M483 343.3h0M462.6 343.2h0M455 342.7h0M420.9 341.9h0M439.9 342.1h0M454.4 342.3h0"/>
<rect x="608" y="342.6" width="5.5" height="6.3" fill="#c4c4c4"/>
<path fill="none" stroke="#8a2aa6" stroke-width="2.6" stroke-linecap="round" stroke-opacity="0.6" d="M612.2 347.6h0M611.4 416.6h0M611.6 360.7h0M611.2 397.8h0M611.3 374.7h0M612.7 367.2h0M612.4 368.6h0M610.9 348.8h0M612.1 404.3h0M612.5 439h0M612.2 368.1h0M611.1 381h0M611.5 360.5h0M611.6 399.8h0M612.6 368.6h0M611.6 399.2h0M611 358.2h0M611.6 351.8h0M612.2 348h0M611.6 403.6h0M612 438.1h0M610.6 355.6h0M613.2 354.1h0M612.2 347.8h0M610.7 350.3h0M611.2 354.4h0M610.9 384h0M613.2 442.8h0M612.8 433.5h0M613.4 365.3h0M612 364.5h0M612 365.6h0M612.5 349.5h0M611.1 377.6h0M611.6 445.6h0M613 446.9h0"/>
<path fill="none" stroke="#8a2aa6" stroke-width="2.6" stroke-linecap="round" stroke-opacity="0.6" d="M612.5 397h0M611.8 441.2h0M610.9 351.2h0M612 350.3h0M611.5 371.3h0M612.2 396.3h0M611.5 347.8h0M611 352h0M613 355.4h0M610.7 442.7h0M613.3 349.7h0M611.9 388.2h0M611.5 397.6h0M610.9 438.6h0M611.4 353.2h0M610.6 348.6h0M613.4 447.5h0M612.1 348.7h0M611.7 402.9h0M611.3 349.5h0M611.7 368.2h0M610.7 348.2h0M613.3 354.5h0M612.5 349.9h0M613.4 347.8h0M611.6 432.1h0M611.5 450h0M612.3 416.5h0M612.5 403h0M612.7 355.2h0M613.5 350.8h0M612.7 358.7h0M610.8 347.6h0M610.9 381.4h0M613.2 424.9h0M612.3 347.7h0M612.5 436.3h0M611 431.2h0M612.7 390.3h0M613 348.4h0M611.8 419.5h0M613 547.3h0"/>
<path fill="none" stroke="#8a2aa6" stroke-width="2.6" stroke-linecap="round" stroke-opacity="0.6" d="M613.4 407.6h0M612.6 444.1h0M610.9 353.4h0M612.7 433.1h0M612.9 349.5h0M613.2 391.6h0M612.2 357.5h0M613.1 364.5h0M611.1 357.4h0M611.7 379.6h0M610.9 425.8h0M611.8 435.7h0M613.2 350.1h0M610.6 369.4h0M613.4 389.9h0M612.7 376.1h0M611.6 421.5h0M612.7 386h0M611 352.7h0M610.6 418.5h0M612.8 347.9h0M613.3 349.4h0M610.7 356.6h0M611 424.7h0M612.1 355.5h0M611.5 355.5h0M612.3 349.6h0M611.1 444.8h0M611.2 396.1h0M612.5 352.8h0M611.8 347.7h0M612.4 383.9h0M613.2 448h0M611 420.3h0M610.9 393.2h0M612.8 360.6h0M611.8 350h0M611.8 353h0M611.7 353.9h0M611.3 369.6h0M612.4 352.3h0M612.7 433.3h0M611.9 366.6h0M611.2 367.6h0"/>
<rect x="405.6" y="333.1" width="217.1" height="224.4" fill="none" stroke="#222" stroke-width="1.0"/>
<line x1="607.7" y1="333.6" x2="607.7" y2="557" stroke="#111" stroke-width="0.7" stroke-dasharray="2 1.6"/>
<line x1="406" y1="348.9" x2="622.3" y2="348.9" stroke="#111" stroke-width="0.7" stroke-dasharray="2 1.6"/>
<line x1="403.6" y1="342.5" x2="405.6" y2="342.5" stroke="#222" stroke-width="0.8"/>
<text x="402.6" y="345" text-anchor="end">0</text>
<line x1="403.6" y1="393.7" x2="405.6" y2="393.7" stroke="#222" stroke-width="0.8"/>
<text x="402.6" y="396.2" text-anchor="end">−50</text>
<line x1="403.6" y1="444.9" x2="405.6" y2="444.9" stroke="#222" stroke-width="0.8"/>
<text x="402.6" y="447.4" text-anchor="end">−100</text>
<line x1="403.6" y1="496.1" x2="405.6" y2="496.1" stroke="#222" stroke-width="0.8"/>
<text x="402.6" y="498.6" text-anchor="end">−150</text>
<line x1="403.6" y1="547.3" x2="405.6" y2="547.3" stroke="#222" stroke-width="0.8"/>
<text x="402.6" y="549.8" text-anchor="end">−200</text>
<line x1="415" y1="557.5" x2="415" y2="559.5" stroke="#222" stroke-width="0.8"/>
<text x="415" y="567" text-anchor="middle">−200</text>
<line x1="464.5" y1="557.5" x2="464.5" y2="559.5" stroke="#222" stroke-width="0.8"/>
<text x="464.5" y="567" text-anchor="middle">−150</text>
<line x1="514" y1="557.5" x2="514" y2="559.5" stroke="#222" stroke-width="0.8"/>
<text x="514" y="567" text-anchor="middle">−100</text>
<line x1="563.5" y1="557.5" x2="563.5" y2="559.5" stroke="#222" stroke-width="0.8"/>
<text x="563.5" y="567" text-anchor="middle">−50</text>
<line x1="613" y1="557.5" x2="613" y2="559.5" stroke="#222" stroke-width="0.8"/>
<text x="613" y="567" text-anchor="middle">0</text>
<text x="513.5" y="577.6" text-anchor="middle">BlastP log10(e-value+1e-200)</text>
<text transform="translate(381,445) rotate(-90)" text-anchor="middle">Pfam log10(e-value+1e-200)</text>
<rect x="527.5" y="487.5" width="78" height="45" fill="#fff"/>
<circle cx="532.3" cy="494" r="2.1" fill="#7f86c4"/>
<text x="539.5" y="496.5">Blasp&amp;Pfam (4,465)</text>
<circle cx="532.3" cy="505.1" r="2.1" fill="#5fc08a"/>
<text x="539.5" y="507.6">Only Blastp (13,456)</text>
<circle cx="532.3" cy="516.1" r="2.1" fill="#b06ac4"/>
<text x="539.5" y="518.6">Only Pfam (169)</text>
<circle cx="532.3" cy="527.2" r="2.1" fill="#d0d0d0"/>
<text x="539.5" y="529.7">None (2,313)</text>
<line x1="636.9" y1="333.3" x2="636.9" y2="557.9" stroke="#222" stroke-width="1.0"/>
<line x1="636.4" y1="557.5" x2="671.8" y2="557.5" stroke="#222" stroke-width="1.0"/>
<line x1="638.6" y1="557.5" x2="638.6" y2="559.5" stroke="#222" stroke-width="0.8"/>
<text x="638.6" y="567" text-anchor="middle">0.0</text>
<line x1="652.6" y1="557.5" x2="652.6" y2="559.5" stroke="#222" stroke-width="0.8"/>
<text x="652.6" y="567" text-anchor="middle">0.1</text>
<line x1="666.6" y1="557.5" x2="666.6" y2="559.5" stroke="#222" stroke-width="0.8"/>
<text x="666.6" y="567" text-anchor="middle">0.2</text>
<text x="656.6" y="578.6" text-anchor="middle">Density</text>
<path d="M639.3 342.9L663.5 344.8L669.6 347L640.1 349.2L639 352L638.6 420L638.7 540L639.3 546.6L638.8 547.5" fill="none" stroke="#222" stroke-width="0.9" stroke-linejoin="round"/>
<line x1="638.2" y1="350" x2="638.2" y2="546" stroke="#222" stroke-width="0.9"/>
<text x="363.8" y="608.2" font-size="13" font-weight="bold">G</text>
<line x1="401.5" y1="615.5" x2="401.5" y2="656.9" stroke="#222" stroke-width="1.0"/>
<line x1="401" y1="656.4" x2="623.3" y2="656.4" stroke="#222" stroke-width="1.0"/>
<line x1="399.5" y1="622.7" x2="401.5" y2="622.7" stroke="#222" stroke-width="0.8"/>
<text x="398.6" y="625.2" text-anchor="end">2.0</text>
<line x1="399.5" y1="630.8" x2="401.5" y2="630.8" stroke="#222" stroke-width="0.8"/>
<text x="398.6" y="633.3" text-anchor="end">1.5</text>
<line x1="399.5" y1="638.9" x2="401.5" y2="638.9" stroke="#222" stroke-width="0.8"/>
<text x="398.6" y="641.4" text-anchor="end">1.0</text>
<line x1="399.5" y1="647" x2="401.5" y2="647" stroke="#222" stroke-width="0.8"/>
<text x="398.6" y="649.5" text-anchor="end">0.5</text>
<line x1="399.5" y1="655.1" x2="401.5" y2="655.1" stroke="#222" stroke-width="0.8"/>
<text x="398.6" y="657.6" text-anchor="end">0.0</text>
<text transform="translate(376.8,633.5) rotate(-90)" text-anchor="middle">Density</text>
<path d="M411.8 616.5L412.4 616.8L413.3 617.2L414.4 617.7L415.5 618.3L416.6 619L417.6 619.9L418.5 621L419.3 622.3L420.1 623.7L420.8 625.2L421.6 626.8L422.4 628.5L423.2 630.4L424 632.5L424.9 634.7L425.7 636.9L426.5 638.9L427.3 640.6L428.1 642L428.8 643.2L429.5 644.3L430.2 645.2L431.1 646L432 646.8L433 647.5L434.1 648.1L435.2 648.7L436.4 649.1L437.8 649.5L439.3 649.7L440.9 649.8L442.5 649.8L444.2 649.8L446.2 649.6L448.5 649.4L451.3 649.2L454.6 649L458.4 648.7L462.6 648.4L466.9 648.1L471.2 647.7L475.4 647.3L479.4 646.9L483.4 646.4L487.4 646L491.5 645.5L495.5 644.9L499.5 644.4L503.5 643.8L507.5 643.2L511.6 642.6L515.6 642L519.6 641.3L523.6 640.6L527.7 639.9L531.8 639.1L536 638.3L540 637.4L544 636.6L547.7 635.8L551.3 635L554.7 634.1L558 633.3L561.1 632.5L564.1 631.7L567 631L569.7 630.3L572.3 629.6L574.8 628.9L577.1 628.3L579.3 627.8L581.4 627.6L583.3 627.5L585 627.6L586.5 627.8L588 628.2L589.4 628.7L591 629.5L592.6 630.6L594.2 631.9L595.9 633.4L597.5 635.1L599.1 636.7L600.7 638.2L602.4 639.7L604.1 641.3L605.8 642.8L607.5 644.3L609 645.7L610.3 646.8L611.4 647.7L612.4 648.4L613.3 649L614 649.5L614.6 649.9L615.1 650.2" fill="none" stroke="#222" stroke-width="1.2" stroke-linejoin="round"/>
<path fill="none" stroke="#ababab" stroke-width="2.6" stroke-linecap="round" stroke-opacity="0.5" d="M440.3 793.9h0M548 742.9h0M496.9 775.9h0M527.5 768.7h0M524.4 763.2h0M562.5 777.7h0M575.8 753.4h0M491.4 784.1h0M579.9 776.9h0M573.9 735.2h0M535.2 766.8h0M496.8 779.1h0M565.5 759h0M454.6 821.6h0M551.2 783h0M588.2 742h0M557.7 745h0M507.1 757.9h0M560.4 739.7h0M509.5 756.7h0M532.3 782.2h0M490.7 782.8h0M545.6 751.9h0M503.4 770.8h0M571.5 751.5h0M563.7 758.9h0M538.7 773.5h0M577.9 766.1h0M506.7 761.6h0M546.3 786.2h0M437.5 825.7h0M482.5 748.3h0M593.9 768.3h0M514.6 771.3h0M565.6 749.6h0M476.6 803.2h0M535.4 758.4h0M495.7 768.6h0M560.6 798.9h0M499.3 779.1h0M576.5 751.2h0M579.3 752.7h0M513.7 778.5h0M578.6 745.4h0M594 765.6h0M571.8 799.6h0M487.9 790.2h0M499 771.3h0M468.2 795.7h0M508.6 771.4h0M535.7 777.9h0M490.5 769.8h0M542.8 791.3h0M531.8 750.9h0M483.8 812h0M472.3 801.2h0M572.5 759.8h0M590.2 746.2h0M553 768.5h0M548.6 749.5h0M497.3 778.9h0M584.6 782.2h0M551.9 783.4h0M561.2 757.9h0M515.5 771.9h0M469.2 778.3h0M486.6 775.7h0M559.8 747.5h0M581 775.1h0M485.3 785.8h0M582.6 759h0M589.4 757.2h0M518.8 765.8h0M538.1 766.5h0M472.3 797.9h0M516.9 754.2h0M523.9 795.4h0M590.8 759.4h0M585 754.7h0M593.8 756.7h0M553 739.9h0M593.7 752h0M530.9 749.8h0M520 791.4h0M589.7 757.1h0M589.4 753h0M555.3 741.1h0M479.7 744h0M540 755.8h0M444.8 795.8h0M590.8 774.4h0M585.3 737.7h0M574.9 770.9h0M594.1 754.5h0M544.6 752.8h0M509.7 749.1h0M543.3 777.3h0M571.6 741.4h0M556.4 764.2h0M432.9 830.5h0M591.7 761.1h0M575 764.4h0M482.2 764.5h0M566.8 759.5h0M552.3 753.5h0M574.1 792.3h0M506 756.2h0M533.6 760h0M541.7 769.6h0M466.8 829.5h0M534.3 802.6h0M541 776.9h0M476.6 800.9h0M556.9 764.9h0M562.4 747h0M465.1 780.3h0M579.4 736.7h0M525 761.6h0M589.3 763.3h0M523.7 737.6h0M540.9 758.6h0M541.7 781.6h0M554.5 762.2h0M589.3 742.4h0M553.2 760.5h0M520.8 779.2h0M522.8 768.7h0M516.8 803.5h0M575.8 752.3h0M448.6 781.2h0M581 775.3h0M488.3 776.7h0M509.5 770.5h0M461 805.8h0M588.7 741.4h0M540.4 748.2h0M519 783.5h0M520.4 797.9h0M591.2 740.2h0M585.5 761.5h0M468.4 782.5h0M487.8 784.5h0M489.5 767.9h0M468.5 763.3h0M584.9 742.6h0M579.4 742h0M519.6 760.1h0M441.2 822.8h0M453.1 794.3h0M592.4 759.7h0M461.2 771h0M532.1 756h0M477.9 759h0M478.4 752h0M498.8 745h0M575.3 779.9h0M486.5 808.4h0M553.8 764.4h0M568.8 756.7h0M594 750.4h0M585.5 752.4h0M568.1 736.1h0M558.5 783.3h0M581.7 771.7h0M565 743.3h0M565.8 781.2h0M544.2 766.9h0M495.2 760.4h0M568.6 752.2h0M571.3 756.4h0M567.4 766.2h0M484.9 803.4h0M591.2 764.8h0M567.4 752.4h0M485.7 796.1h0M456.2 810.6h0M513.1 754.4h0M509.1 781.5h0M546.6 737.3h0M520.2 744.2h0M529.2 775.8h0M580.9 751.5h0M585.2 769.4h0M528.2 763.9h0M591.2 759.4h0M510 738.1h0M479.3 750.5h0M580.8 779.1h0M514 768.9h0M588.7 765.3h0M528.9 747h0M544.9 756.7h0M567.2 787.3h0M535.1 768.8h0M540.4 758.9h0M589.6 745.8h0M458.1 762.3h0M569.2 752.3h0M544.4 772h0M501.7 768h0M590.1 751.8h0M544.8 773.9h0M574.2 749.1h0M497.9 765.1h0M554.2 771.5h0M548.7 756.2h0M527.6 739.5h0M571.6 764.1h0M542.5 776.6h0M534.5 749.4h0M524.8 789.4h0M555.2 740.1h0M517.7 747.3h0M579.3 779h0M562.9 756.3h0M526 770.7h0M530.7 776.9h0M545.7 770.6h0M560.6 742h0M538 746h0M526 760.5h0M521.8 746.9h0M551.6 775.1h0M591.2 748.5h0M571.1 737h0M509.7 739.3h0M478.1 747.3h0M566.7 737.7h0M582.8 755.6h0M562.8 748.5h0M546.1 779.8h0M583.4 789.9h0M483 807h0M554.8 774.4h0M521.9 738.7h0M591.2 735.3h0M512.2 780.1h0M500.2 780.5h0M516.7 765.1h0M587.4 769.4h0M589.9 756.5h0M507.8 793.2h0M530.3 776.6h0M590.9 773.4h0M525.4 795.4h0M591.3 749.5h0M477.3 769.2h0M533.1 764.6h0M494.2 752.1h0M559.8 755.8h0M587.1 735.7h0M537 752.4h0M462 780.5h0M513.6 760.6h0M495.7 751.8h0M559.5 758.6h0M587.2 740.5h0M578.4 753.6h0M555.4 750.7h0M586.1 739h0M548.2 740.6h0M580 778.7h0M570.9 744.9h0M578.7 808.9h0M455.9 809.7h0M580.7 760.1h0M472.9 801h0M428.7 810.1h0M474.5 775.9h0M584.6 737.3h0M489.9 751.1h0M562.7 753.9h0M536.1 747.8h0M547.9 778.4h0M502.8 774.1h0M573.6 757.2h0M510.8 785.1h0M514.8 758.9h0M506.8 771.2h0M570.1 736.3h0M429 813.9h0M559.6 753.8h0M453.2 792.8h0M553.8 755.5h0M550.4 767.3h0M522.8 786.4h0M540.7 737.1h0M562.7 799.3h0M567.8 741.2h0M591 745.7h0M558.8 782.4h0M542.7 793.8h0M516.2 751.3h0M579.4 769.5h0M562.2 766.6h0M517.7 780.1h0M482.5 807.5h0M471.3 755.1h0M478.2 800.1h0M574.6 772.8h0M516.1 760.4h0M457 810.8h0M544.2 738.3h0M593.3 770.3h0M574.6 736.7h0M581.2 751.1h0M518.1 750.2h0M593.3 764h0M546.8 788.4h0M589.4 739.1h0M572 776.4h0M544 757.2h0M525.3 748.8h0M529.6 765.3h0M445.4 788.4h0M510.3 754.1h0M535.4 840.5h0M545.8 755.4h0M487.2 743.7h0M567.2 749.9h0M522.9 781.7h0M579 744h0M577.3 784.9h0M482.4 798.8h0M573.5 749.7h0M443.9 798.1h0M447.7 773.8h0M554.7 768.5h0M586.3 775.6h0M491.5 820.8h0M572.6 782.3h0M459.5 749.9h0M583.8 756.2h0M549.7 778.8h0M537.5 750.9h0M556.1 755.2h0M510.7 745.1h0M556.3 757.7h0M572.3 776.9h0M573.9 780.8h0M593.7 784.7h0M572.8 789.7h0M583.6 737.4h0M465.8 739.1h0M514.1 765.6h0M477.9 759.3h0M590 751.5h0M494 798h0M503.4 797.5h0M581 766.2h0M439.5 814.7h0M585.8 750.6h0M569.7 775.6h0M546.5 752.1h0M556.3 792.1h0M465.1 768.2h0M579.6 783.8h0M529.9 774h0M565.7 738.6h0M584.6 771.2h0M560.8 774.8h0M579.2 767h0M570.3 755.9h0M593.9 752.1h0M557.4 762.8h0M464.7 795.4h0M532.7 736h0M564.2 771.1h0M583.8 799.1h0M559.8 782.6h0M542.3 756.4h0M565.4 739.1h0M546.3 744.5h0M512.8 763.3h0M590 790.9h0M554.5 747.6h0M560.3 764.7h0M577 760.6h0M552.4 745.8h0M582.1 747h0M592.3 765.5h0M458.7 752.1h0M501.8 789.3h0M498 766.1h0M584.2 757.9h0M541.1 767.3h0M532.1 769.8h0M537.4 800.9h0M516.4 775.6h0M468.3 789.2h0M554.3 749.6h0M557.8 748.8h0M532.5 774.3h0M436.2 788.7h0M498.9 747.1h0M549.3 735.5h0M579.7 771.1h0M434.1 807h0M575.5 775h0M548.7 764.6h0M470.3 792.7h0M507.4 765.3h0M539.3 772.8h0M513.8 758.2h0M512.4 786.4h0M569.6 761.3h0M452 795.5h0M588.3 743.3h0M466.5 766.7h0M569.7 739.8h0M547.8 760.1h0M511.8 775.9h0M585.1 754.1h0M477.1 790.7h0M544.2 752.3h0M532.2 768.5h0M561.1 750.8h0M555.2 762.3h0M535.1 738.5h0M549.1 780h0M497.8 753.7h0M550.7 748.9h0M547.5 749h0M572.8 767.4h0M489.3 778.5h0M546.7 736.5h0M548.8 770.5h0M525.6 776.6h0M576.9 774.5h0M528 756.5h0M517.9 757.9h0M507 752.4h0M589.5 745.1h0M588.1 738.1h0M581.7 779.7h0M543 735.9h0M510.4 762h0M556.4 761.4h0M577.9 755.8h0M572.5 758.1h0M462.7 786.5h0M546 759h0M577 741.3h0M543.7 753.8h0M585.5 788.4h0M550.8 752h0M573.3 745.7h0M547.7 761.2h0M551.8 758.5h0M522.3 782.4h0M590.7 759.8h0M489.8 774.5h0M540.3 738.2h0M551.5 805.2h0M514.4 763h0M525.1 776.6h0M547.1 745h0M535.7 778.4h0M430.5 772.3h0M529 771.6h0M558.1 737.3h0M443.1 792.9h0M495.8 766.3h0M564.1 770.6h0M530.9 766h0M591.4 760.4h0M538.6 760.5h0M551.5 744.7h0M454.7 794.2h0M494 748.6h0M537.3 762.5h0M554.4 784.7h0M435.1 806.6h0M550.4 748h0M553.8 785.9h0M553.5 786h0M582.8 768.4h0M562.7 769.1h0M560.9 762.3h0M520.5 768.9h0M539.3 756.3h0M543.8 741.8h0M592.6 765.4h0M497.5 802.8h0M588.5 742.7h0M583.4 744h0M448 798.1h0M520.4 797.2h0M506.4 776.8h0M470.5 760.4h0M503.6 751.3h0M540.2 756.7h0M511.2 736.4h0M553.7 742.1h0M587.1 754.2h0M454.8 741.1h0M534 781.9h0M582.9 760.3h0M584.6 752.7h0M459.8 789.4h0M548.1 784.1h0M585.8 757.3h0M581 770.4h0M563.3 744.3h0M581.6 745.8h0M486.5 750.3h0M586.3 752.2h0M519 793.9h0M586.7 759.7h0M548.5 790.2h0M586.6 768h0M538.7 739.2h0M594.1 766.2h0M489.5 774.1h0M564.1 754.5h0M591.8 740.4h0M516.4 768.3h0M522.8 735.7h0M493.3 751.5h0M559.4 736.5h0M592.5 761.6h0M511 767.7h0M580.5 788.3h0M557.4 783.8h0M590.5 781.5h0M459.6 764.8h0M479.1 794.9h0M559.4 747.2h0M580.5 740.1h0M574.2 742.5h0M495.3 791h0M593.7 752.6h0M590.9 789.6h0M569.3 768.5h0M504.4 791h0M498.3 771.6h0M511.3 752.5h0M473.5 762.7h0M571.7 757.1h0M540.6 795.1h0M550.7 798h0M559.8 736.2h0M541.9 790h0M558.8 785.8h0M525.2 768.5h0M487.9 756.4h0M500.4 787.7h0M509 781.3h0M547.2 775.7h0M478.6 760.4h0M465.1 773.7h0M538 797.6h0M552.2 745.3h0M500.1 748.6h0M530.2 769.4h0M479.9 775.1h0M507.3 753.8h0M505.2 757h0M571.9 749.4h0M540.9 746.1h0M580.9 770.5h0M485.1 763.8h0M580.2 736.4h0M523.1 751.8h0M593.2 746h0M577.5 803.3h0M577.6 745.3h0M520.9 771.8h0M544.9 752.2h0M512.1 759.5h0M572.7 759.1h0M534 757.6h0M514.9 749.2h0M546.9 775.8h0M593.3 735.3h0M580.8 774.2h0M581.7 780.2h0M503 780.4h0M556.1 771.4h0M577.2 767.7h0M558 760.1h0M573.4 737.3h0M526.7 762.6h0M493.2 823.2h0M459.5 786.3h0M589.1 766h0M467.6 735.7h0M566.3 775.7h0M546.9 751.3h0M491.9 763.3h0M566.7 764.3h0M517.1 736.7h0M551.4 756.9h0M464.4 811.8h0M571.9 755.9h0M546.2 751.1h0M591.8 761.6h0M583.8 753.4h0M591 765.6h0M507.8 755.2h0M575.6 744.7h0M424.5 812.6h0M540 776.1h0M450 780.3h0M509 781.6h0M495 812.8h0M473.9 755.7h0M527.9 765.8h0M488.9 802.3h0M565.9 740.9h0M569.4 763.9h0M488.3 788.2h0M448.2 785.7h0M562.4 750.3h0M540.8 765.3h0M528.8 767.7h0M527.6 769.2h0M498.7 770.7h0M516.4 735.2h0M570.4 759.1h0M580.8 781.7h0M458.4 776.9h0M571.6 737.8h0M552.1 746.5h0M553.4 767.2h0M554.4 749.7h0M589.9 738.9h0M556.6 760.7h0M493.7 788.8h0M575.5 742.2h0M518.6 760.9h0M586.5 739.8h0M587 767.3h0M569.8 764.1h0M497.1 753.6h0M544.4 755.1h0M540.1 765.6h0M584.5 760.7h0M571.4 744.9h0M562.2 745.5h0M589.7 743.5h0M479.4 772.4h0M492.2 775.5h0M475 811.9h0M573.2 759.9h0M589.3 776.6h0M505.7 750h0M426.6 795.1h0M573.4 756.2h0M565.3 765h0M575 767.3h0M563.1 779.1h0M563.6 753.2h0M487.3 796.2h0M551.6 776.5h0M563 787.4h0M577.1 768.5h0M561.9 773.3h0M579.9 749.8h0M442.8 795.8h0M593.5 772.6h0M557.3 763.2h0M550.6 773.3h0M586.6 776.1h0M579.2 780.6h0M510.8 742.2h0M481.6 744.4h0M453.2 804.2h0M556.5 782.9h0M481.7 793.7h0M576 785.1h0M573 772.1h0M556.1 740.8h0M519.9 773.8h0M554.2 760.7h0M468.7 757.8h0M572 745h0M520.5 762h0M510.5 767.6h0M541.7 762.8h0M570.3 773.6h0M571.5 751h0M575.3 750.3h0M525.6 756.6h0M520.9 755.9h0M533.3 782.8h0M496.9 747.5h0M494.3 794.4h0M559.4 754.6h0M575.6 786.7h0M583.9 759.8h0M515.5 741.5h0M587.1 740h0M472 820.3h0M460.3 786.7h0M592.4 743.1h0M456.7 798.9h0M542.3 757.8h0M529.7 760h0M530.9 761.4h0M481.1 791.3h0M505 752.5h0M560.9 776.3h0M592.3 738.8h0M546.5 777.5h0M521.1 739.8h0M553.3 763.7h0M505.2 769.7h0M513.7 772.2h0M458.3 803.7h0M511.6 740.8h0M467.3 794.9h0M505.5 775.8h0M422.6 831.2h0M491.6 782.3h0M530.4 744h0M474.7 799.2h0M527.6 788.9h0M541.5 782.7h0M481 775h0M591.4 777.1h0M577.3 758.9h0M545.7 762h0M426 830h0M433.5 851.7h0M434.5 836h0M434 880.5h0M431 823.9h0M425.3 834.8h0M428 888.2h0M423.5 844.6h0M430.4 857.5h0M430.8 864.8h0M431.3 863.5h0M435.3 812h0M415.4 873.7h0M414.9 804.8h0"/>
<path fill="none" stroke="#ababab" stroke-width="2.6" stroke-linecap="round" stroke-opacity="0.5" d="M574.6 768h0M500 756.3h0M552 786.7h0M451.7 753.3h0M531.5 791.4h0M532.2 750.5h0M480.9 796.7h0M530.9 754.3h0M433.6 809.9h0M448.2 781.1h0M474.4 797.2h0M594.2 758.6h0M537.6 754h0M566 751.5h0M533.4 779.9h0M500.2 802.5h0M545.3 737.6h0M485.2 778.8h0M559.7 765.4h0M581.6 740.3h0M483.1 768.9h0M593.8 742.5h0M591.7 775.6h0M591.6 755.4h0M513.1 786.4h0M572.7 739.3h0M513.5 744.7h0M581.5 739.4h0M544.6 786.4h0M469.6 765.7h0M478.8 760.8h0M588.5 747.6h0M569.7 775.1h0M537.3 746.7h0M577 755.1h0M556.5 738.4h0M524.4 750h0M564.5 751.3h0M565.1 788.2h0M577 736h0M510.1 755.4h0M501 755.8h0M527.6 735.4h0M551.4 776.3h0M490.5 765.9h0M580.1 757.3h0M536.1 772.1h0M488 775.4h0M591.4 742.8h0M571.8 763.5h0M450.3 784.4h0M543.3 767.9h0M534.6 764h0M513.1 773.3h0M590.9 762.2h0M518.4 774.7h0M533.9 781.5h0M437.3 827.9h0M550.4 748.7h0M447.7 797.5h0M575.6 741.1h0M506.3 776.6h0M581.8 770.8h0M559.6 777.1h0M571.6 743.9h0M576.4 777h0M567.8 766.9h0M593.2 763.4h0M529.9 771.6h0M496.6 780.6h0M578.3 756.1h0M472.3 806.5h0M527.6 758.7h0M467.9 786.2h0M554.5 768.7h0M574 750.4h0M589.5 745.6h0M543.3 802.5h0M541.9 742.6h0M593.6 746.1h0M454.2 783.2h0M525.6 760h0M563.7 764.5h0M592 747.6h0M527.3 760.8h0M530.5 750.6h0M522.1 749.2h0M561 758.4h0M514.9 772.5h0M570.5 762.1h0M582 748.5h0M572.6 770.3h0M522.6 764.2h0M537.7 759.6h0M506 779.1h0M572.6 761.7h0M563.1 763.3h0M573.6 771.4h0M580.1 798.9h0M491.2 774.7h0M563.5 741.3h0M559 767.1h0M522.5 788h0M558.8 766h0M502.5 739.2h0M421 808.7h0M518 760.7h0M577.2 752.2h0M552.3 747.1h0M469.5 807.5h0M484.1 788.7h0M569.6 771.5h0M557.5 768h0M492.2 796.4h0M557.9 794.3h0M449.8 768.2h0M490.1 771.5h0M579.2 759.8h0M554.7 778.4h0M514.1 751.3h0M524.7 763.2h0M511 780.4h0M574 754h0M527.6 754.6h0M591.1 758.6h0M528.9 770.1h0M585.9 744.2h0M577.3 779.8h0M522.2 765h0M558 764.6h0M585.4 771.5h0M465.8 775h0M505.7 802.7h0M505.5 762.6h0M572.7 767.7h0M484 766.1h0M474.8 799.9h0M563.3 741.8h0M568.3 748.6h0M463.7 796.4h0M563.4 755.9h0M531.2 772.8h0M576.5 780.7h0M526.5 778.9h0M528.8 764.8h0M582.7 783.4h0M522.5 787h0M550.9 791.1h0M564.5 755.8h0M488.9 809h0M543.1 810h0M586.1 755h0M456.2 763.1h0M580.1 761.5h0M551.5 771.4h0M547.3 738.2h0M534.3 770.8h0M578 755.5h0M590.3 740h0M536.7 770.3h0M573.2 764.4h0M560.7 763.5h0M465.2 754.3h0M443.3 795.3h0M427.3 807.1h0M573 745.2h0M507.2 759h0M584.8 743.6h0M593.5 744.7h0M497 788.6h0M529.5 777.4h0M519.3 736.8h0M492.2 762.1h0M561.7 762.4h0M474.3 799.7h0M501.1 790.7h0M524.1 780.9h0M513.6 795.3h0M513.9 752.3h0M576.6 746.3h0M567 744.6h0M492.6 783.9h0M574.4 797.9h0M478.2 780.1h0M558.1 756.5h0M537.3 783.1h0M468.7 797.1h0M487.6 757.5h0M505 779.4h0M495.2 761.8h0M487.8 804.8h0M453.2 795.1h0M593.4 750.3h0M498.2 767.4h0M528 755.9h0M559.3 763.8h0M523.1 751.3h0M531.2 783.1h0M503.6 746.9h0M551.7 751h0M561.2 789.7h0M508.4 783.1h0M544 768.9h0M454.7 819.4h0M481.6 797.7h0M550.8 757.1h0M510.5 756.5h0M583.2 750.4h0M517.5 767.6h0M587.8 747.6h0M500.3 769.2h0M457.2 776.8h0M560.5 747.2h0M461.2 801.9h0M454.1 795.1h0M474.2 789.6h0M520 772.7h0M573.4 792.7h0M532.8 767h0M512.7 739h0M573.1 749h0M558.8 759.5h0M589.4 749.8h0M560.7 749.6h0M542.7 755h0M573.7 785.4h0M589.8 744.9h0M569.1 763.2h0M487.8 771.8h0M440.7 808.8h0M504.8 745.4h0M492.9 775.7h0M502.4 752.8h0M510.6 758.9h0M547.8 779h0M533.3 788.9h0M584.4 775.2h0M496.7 765.9h0M585.9 766.8h0M531.4 742h0M485.7 789.4h0M525.2 793.5h0M590.7 761.6h0M561.7 750.8h0M527.9 787.4h0M462.6 777.9h0M541.8 784.6h0M452.9 763.5h0M485.2 771.5h0M473.6 804.3h0M490.2 797.1h0M528.6 759.8h0M589.4 769.7h0M540.1 761.7h0M587.3 755.9h0M500.9 801.5h0M579.8 757h0M560 755.8h0M507.6 753.4h0M528.6 736.6h0M489.6 803.4h0M582.4 752.9h0M497.6 747.4h0M510.8 758.4h0M516.4 769.8h0M551.9 757.3h0M576.5 741.1h0M512 779.7h0M586.4 786.2h0M591.8 750.3h0M452.6 772.9h0M526.7 761.6h0M485.3 791.1h0M589.7 763.7h0M444.6 801.5h0M560.1 739.9h0M528.9 784.3h0M447.2 792.5h0M588.7 776.3h0M575.3 742.8h0M575.9 755.1h0M471 786h0M542.6 758h0M585.1 741.1h0M502.3 790.2h0M549.9 764.9h0M551.2 752.2h0M585.2 766.4h0M559.6 762.4h0M507.2 776.8h0M539.9 752.8h0M473.5 741.3h0M570.8 749.1h0M518.9 771h0M583 778.1h0M546.6 738.7h0M586.5 784.2h0M485.2 779.4h0M565.3 757.2h0M588 746.6h0M558.6 767.7h0M540.7 789.2h0M486.4 796.7h0M538.9 749.9h0M559.8 767.6h0M525.6 782.1h0M549.1 755.4h0M505.3 762.7h0M498.7 784h0M565.8 743.9h0M558 745.8h0M588.5 741.9h0M503.5 745.8h0M557.5 808.1h0M593.9 762.6h0M569.9 776.5h0M568.4 777.1h0M458.7 766.3h0M491.4 767.1h0M593.3 784.5h0M515.8 749.1h0M496.3 767.8h0M538.6 747.6h0M578.4 758.3h0M572.6 735.4h0M461.6 790.6h0M578.5 757.4h0M540.7 757.7h0M565.4 764.2h0M472.8 769h0M534.6 754.4h0M527 768.4h0M457 776.3h0M588.5 769.2h0M503.6 759.2h0M567.5 777h0M473.4 778.1h0M454.1 780h0M581.1 786.3h0M541.7 766.4h0M529 757.4h0M566.6 744.5h0M564.2 764.3h0M520.5 759.6h0M562.6 777.8h0M566 759.4h0M553 756.1h0M525.2 782h0M592.5 761.3h0M584.9 787.5h0M558.7 765.5h0M574.4 743.7h0M577.1 744.7h0M507.2 791.4h0M498.6 750.3h0M482.4 793.6h0M565.7 746.3h0M472.3 756.5h0M562.8 773.5h0M522.6 748.6h0M471.6 785.4h0M561.6 762h0M589.7 755.8h0M543.6 753.3h0M587.4 748.7h0M544.4 762.6h0M565 749.8h0M547.2 746.9h0M541.9 753.8h0M529.1 760.6h0M584.1 782.6h0M493.9 764.1h0M530.7 771.4h0M525.5 735.4h0M552.8 739.5h0M451.3 789.7h0M497.2 778.7h0M593.6 795.6h0M536.6 768.9h0M496.1 815.9h0M500.8 765.1h0M585.6 746.1h0M490.1 758.7h0M470.9 781.1h0M494.9 802.7h0M554.5 753.5h0M592.8 743.1h0M549.6 778.1h0M485 753.6h0M465.4 765.1h0M564.2 777.6h0M579 749.5h0M531.4 760.9h0M578 755.6h0M592.2 770.6h0M519.3 743.4h0M552.2 784.5h0M552.2 739.9h0M452.2 792.8h0M522.4 767h0M589.8 764.5h0M488.1 797.5h0M539.5 783h0M563.9 815.4h0M558.9 755.7h0M475.9 763.1h0M461.4 809.3h0M496.3 762h0M570.3 773h0M442.6 782.4h0M574.2 764h0M590.4 767.7h0M583.6 800.1h0M472.7 800.7h0M552.2 758.8h0M544.5 745h0M483.7 795.2h0M451.8 773.5h0M577 766h0M538.9 750.6h0M547.7 811.8h0M488.3 758h0M545.3 786.1h0M579.7 779.1h0M514.1 746.4h0M551.9 741.7h0M517.2 773.7h0M490.7 792.9h0M530.6 776.2h0M592.5 788.2h0M509.7 738.8h0M566.3 750.3h0M566.5 761h0M580.3 747.4h0M505.7 785.9h0M567.8 763h0M579.3 769.1h0M571 747.7h0M582.6 762.1h0M582.3 765.2h0M521.7 770.7h0M540 760.8h0M553.3 760.2h0M485.4 815.7h0M590.4 780.9h0M545.1 758.2h0M589.1 787.7h0M552.6 755.8h0M524.5 781.3h0M482.3 812.5h0M518.9 755.1h0M462.5 789.3h0M589.3 746.7h0M527.8 754.2h0M438.2 842.4h0M577.6 740.7h0M587.5 750.6h0M474.2 738.7h0M483.2 781.7h0M474.1 783.3h0M526.4 752.1h0M493.5 743.1h0M469.3 796.1h0M570.9 766.8h0M492.3 775.8h0M492.5 767.5h0M445.3 817.1h0M527.6 737.1h0M592.9 742.7h0M495.5 769h0M499.5 746.2h0M463.7 803h0M511.6 794.9h0M575.7 738h0M539.6 792.8h0M483.4 745.7h0M574.2 744.7h0M482.2 782.5h0M588.7 743.3h0M587.4 747h0M538.5 766.9h0M504.8 785.1h0M553.5 780.4h0M558.9 755.8h0M494.3 797.9h0M578.2 741h0M575.6 742.8h0M583.1 773.4h0M564.6 763.1h0M504.6 771.9h0M549.2 762.9h0M446.1 753.5h0M589.3 774.7h0M539.1 750.6h0M545.9 735.4h0M532.2 760.6h0M565.3 742.8h0M530.4 771.9h0M556.8 799.2h0M551.3 820.8h0M510.6 748.9h0M561.4 767.9h0M577.8 772.5h0M573.8 751.3h0M555.6 750.2h0M573.5 769.7h0M555.9 761.4h0M548.6 789.2h0M560.3 760.6h0M545.1 757.8h0M549.8 736.3h0M529 775.7h0M510.4 777.9h0M588 755.4h0M566.5 758.1h0M516.5 749.2h0M457.3 790.4h0M490 779.3h0M447.2 800.7h0M579.6 741.4h0M581.6 781.6h0M514.6 756h0M536 748.5h0M524.9 768.8h0M528.2 830h0M520.6 769.9h0M455.6 755.8h0M571.9 745.4h0M556 769.3h0M473.1 755h0M587.6 775h0M549.9 796.8h0M579.6 756.6h0M590.1 771.1h0M530.1 799h0M582.6 736.7h0M460.8 772.1h0M575.1 759.7h0M522.9 761.1h0M457.2 770.8h0M593.7 796.7h0M586.1 745.2h0M482.2 783.9h0M573.8 762.4h0M439.5 824.3h0M566.6 767.7h0M570.2 755.3h0M524.9 780.9h0M572.1 755.8h0M560.7 776.9h0M585.6 771.8h0M498.1 739.2h0M541.8 786.4h0M565.3 749.1h0M581.7 749.2h0M548.5 774.9h0M493.9 754.1h0M526.8 788.1h0M578.1 737.1h0M457.8 796h0M544.2 799.2h0M561.1 773.6h0M561.2 736.4h0M492.3 764.6h0M440.2 829.8h0M550.5 760.4h0M500.6 764.5h0M518.3 771.7h0M539 745.6h0M563 746.7h0M508.6 778.5h0M591.4 774.9h0M593.4 745.6h0M586 743.8h0M478.7 786.3h0M567 764.1h0M551.4 749.6h0M509 757.2h0M550.3 742.1h0M540.7 738.7h0M477.3 757.8h0M581.3 766.5h0M578.2 795h0M474.1 794.5h0M490.9 782.9h0M527.3 736.2h0M566.2 779h0M515.5 741.5h0M586 773.6h0M501.6 809.2h0M567.4 740.9h0M520.5 754.6h0M544.7 790.5h0M509.5 778.7h0M496.9 803.7h0M537.2 765.9h0M472.2 748.7h0M468.2 778.7h0M506.7 769.3h0M545.5 766.6h0M539.2 763.3h0M588.4 770h0M435.4 851.4h0M583.8 771.1h0M580.9 766.3h0M593.3 785.4h0M538.1 740h0M567.2 776.5h0M551.5 757.5h0M588 736h0M524 742.4h0M431.9 826.1h0M525.3 762.7h0M537.6 737.5h0M574.5 755.3h0M508.4 794.2h0M530.1 766.9h0M537.4 738.1h0M520 735.6h0M492.1 790.7h0M564.7 760.4h0M560.7 771.3h0M562.1 746.8h0M495.5 786.8h0M470.6 800.9h0M520.2 755.4h0M500.3 747.8h0M539.1 758.4h0M583.5 763.1h0M444.3 746.1h0M456.7 788.6h0M567.5 754.4h0M589 754.1h0M471.8 760h0M443 825.4h0M569 772h0M576.8 753h0M585.7 771.5h0M424.1 830.2h0M544.3 781.8h0M536 741.4h0M544.5 786h0M582.6 754.7h0M580.8 736.1h0M535.1 739.5h0M569.5 790.1h0M593.4 763.4h0M592.5 755.2h0M568.1 764.6h0M492.9 736.9h0M465.5 766.6h0M559.2 793.1h0M591.2 760.2h0M579.5 764h0M483.7 774.6h0M464.9 761h0M519.4 773.8h0M458.6 788.8h0M476.8 769.4h0M580.4 783.2h0M591.6 747.3h0M535.6 738.4h0M587.3 742.8h0M569.2 760.9h0M593.7 768.9h0M513.2 790.7h0M584.2 776.5h0M559.7 737.2h0M505.9 777.1h0M525 746.1h0M505.1 762.3h0M543.9 743.2h0M462.3 810.7h0M584.8 747h0M559.2 767.2h0M592.8 746.4h0M555.3 777.6h0M446.2 780.8h0M585.3 740.5h0M556.7 749h0M588 781.4h0M567.5 795.1h0M506.5 745.4h0M558.6 755.2h0M572.4 785.8h0M494.3 812.3h0M423.4 844.7h0M542.4 749.8h0M462.1 798.8h0M512.5 742.6h0M461.4 748.3h0M520.5 783.1h0M531.6 790h0M549.1 735.1h0M463.3 771.8h0M565.3 788h0M500.3 739.9h0M565.8 757.5h0M491.1 755.8h0M510 756.7h0M446.6 760.1h0M549 758.6h0M573.9 750.4h0M419.9 816.5h0M427 863.8h0M414.2 855.3h0M414.4 823.2h0M421.6 866.6h0M418.2 834.8h0M431.9 880.6h0M414.5 856.5h0M429 802.5h0M426.8 803.4h0M426.9 799.2h0M421.3 817.8h0M428 870.4h0M417.2 827.5h0M435.1 809.1h0"/>
<path fill="none" stroke="#ababab" stroke-width="2.6" stroke-linecap="round" stroke-opacity="0.5" d="M537.3 746.1h0M444.4 776.9h0M485.4 755.9h0M575.3 745.1h0M500.6 760.6h0M508.2 785.4h0M510.7 760.6h0M593.6 758.2h0M590 749.6h0M589.8 751.8h0M558.2 758h0M501.1 752.6h0M584.4 737.1h0M581 778.7h0M563.4 764.3h0M591.5 754.7h0M496.4 753.6h0M526 771.1h0M551.4 764.3h0M581.3 749.5h0M526.7 772.7h0M539.7 770.8h0M569.1 752.9h0M572.6 769.1h0M543.7 739.8h0M581.7 819.1h0M496.9 767.1h0M527.3 742.4h0M581.1 773.1h0M503 765.7h0M578.3 753.1h0M591.3 775.7h0M522.2 743.8h0M570.3 763.2h0M476.7 774.5h0M572.8 741.2h0M536.6 763.5h0M585 742.8h0M443 747.6h0M573.7 753h0M473.2 767.5h0M518.8 779.1h0M563.8 778.6h0M479.4 759.8h0M488.2 776.8h0M558.4 764.2h0M593.5 752.4h0M530.6 773h0M547.1 759.9h0M537.9 738.4h0M572.7 774.3h0M557.5 769.7h0M466.6 753.9h0M519.2 791.6h0M509.7 748.1h0M510.7 767.3h0M501.6 789h0M559.7 738.1h0M529.3 750.4h0M584.1 758.8h0M464.9 765.1h0M500.5 780.9h0M562.8 746.9h0M469.9 789.2h0M527.1 747.3h0M507 774.6h0M486.1 741.4h0M566.9 767.5h0M515.8 762.3h0M536 748.6h0M538.3 746.6h0M529.8 768.3h0M569.6 771.7h0M513.3 772.6h0M531.3 752.7h0M470.6 761.2h0M582.1 745.5h0M545.4 782.8h0M480.6 757.1h0M580.1 753.2h0M537.3 744.6h0M538.4 752.1h0M544.7 778.6h0M461.6 785.3h0M589.2 766h0M534.2 744.5h0M544.9 745.1h0M553.6 766.5h0M579.7 745.9h0M555.1 778.4h0M536.4 770.9h0M572.8 778.4h0M494.6 783.2h0M534.3 772.1h0M556.6 750.3h0M484.3 784.4h0M510.8 774.2h0M547.8 762.6h0M508.7 738.8h0M522.8 766.5h0M521.8 750.3h0M432.2 795.1h0M539 764.4h0M533.8 775.5h0M551.8 750.9h0M433.2 850.7h0M576.2 735.5h0M545.1 768.3h0M587.4 754.1h0M566.7 740.2h0M444.1 780h0M577.5 770.4h0M584.8 737h0M590.2 783.5h0M553.8 766h0M443.2 797h0M521 752h0M566.5 758.3h0M516.1 742.2h0M520.2 740.8h0M548.5 777.7h0M471.9 775.8h0M533.9 778.2h0M500.6 748.5h0M513.3 816.2h0M427.3 839.4h0M493 782.8h0M589.4 796.6h0M559.2 739.7h0M511.2 760.8h0M530.1 763.7h0M553.1 773h0M565.6 773.2h0M565.1 737.5h0M551.1 739h0M581.3 769.4h0M506.4 764.5h0M584.4 751.5h0M549.3 739.5h0M555.7 774.5h0M594.2 744.4h0M551.9 748.6h0M547 759.8h0M556.8 759.3h0M557.6 739.8h0M465.5 777.4h0M505.5 791.7h0M417.6 836h0M499 791.7h0M564 742.5h0M576.9 738.1h0M538.7 788.4h0M464.4 815.3h0M575.3 750.2h0M573.3 759.3h0M582.4 750.5h0M473.6 755.2h0M502 788.2h0M583.3 753.3h0M563.4 738.6h0M570.1 743.6h0M578.6 783.9h0M547.4 771.9h0M443.3 798.3h0M547 778.1h0M593.9 760.1h0M501.8 779.1h0M535.7 785.8h0M515.2 760.4h0M558.3 760.6h0M592.5 759.3h0M587 770h0M510.1 783.5h0M559.2 760.7h0M561.5 778.2h0M472.9 772.7h0M509.6 779.6h0M500 788.9h0M459.3 816.2h0M575.6 766h0M508.6 748.8h0M557.7 744.9h0M519.3 787.7h0M521.4 753.4h0M514.6 767.7h0M446.9 761.5h0M582.7 768.4h0M578.9 773.3h0M474 789.2h0M507.4 754.5h0M507.4 760.4h0M472.2 751.3h0M562.8 760.7h0M483.9 785.9h0M530.2 774.2h0M459.2 799h0M533.5 768.6h0M519.3 773.5h0M470.6 792.7h0M569.4 747.1h0M591.4 765.2h0M564.1 757.9h0M543.2 773.9h0M569.2 750.1h0M520.3 772.4h0M476.4 792.2h0M586.9 736.1h0M530 743.5h0M478.3 736.6h0M459.2 767.5h0M538.6 765.2h0M580.3 749.5h0M467.7 790.8h0M568.1 745h0M514.2 771.5h0M584.6 739.8h0M581.3 751.1h0M516.4 759h0M532.3 751h0M450.4 794.4h0M553.7 769.5h0M580.1 738.7h0M539.9 788.3h0M470.6 775.1h0M592.6 751.3h0M498.8 776.9h0M512.3 771.2h0M531.4 755.9h0M592 747.9h0M501.2 759h0M561.7 764.1h0M520.1 789.5h0M486.6 804.2h0M574.1 756.8h0M565.2 741.3h0M570.1 771.7h0M516.3 739h0M577.4 746.8h0M475.8 742.1h0M578.3 772.3h0M531.1 754.8h0M507 787.1h0M576.2 752.6h0M513.6 753.9h0M589.9 790.6h0M504.3 768.9h0M422.1 851h0M570 761.4h0M461.3 781.8h0M442 742.4h0M579 762.2h0M512.3 770.1h0M553.2 735.6h0M513.6 781.8h0M506.7 772.9h0M572.9 761.5h0M591.6 774.1h0M554.9 789.1h0M515.4 767.4h0M560.5 749.9h0M581 784.6h0M541.5 782.1h0M520.4 751.8h0M512.3 781.7h0M456.7 749.4h0M593.6 747.9h0M523.7 771.9h0M590.2 735.3h0M510.8 739.4h0M515.5 759h0M551.8 747.8h0M487.4 764.2h0M555.6 739.4h0M466.5 813.1h0M553.1 766h0M581.7 770.2h0M436.5 778h0M454.6 810.5h0M521.9 762.8h0M591.9 763.4h0M486.3 784.2h0M532 744.9h0M503.4 769.2h0M483.6 809.7h0M592.4 737.2h0M535 752h0M574.2 771h0M500.4 756.9h0M572.8 753.1h0M517.8 747.1h0M572 775.2h0M578.8 749h0M578.9 750.3h0M589.3 771.7h0M547.9 780.2h0M528.9 759.3h0M558.6 753.7h0M496.1 756h0M586.8 764.7h0M587.4 779h0M568.3 771.6h0M588.6 767.4h0M468 837.5h0M574 740.8h0M493.8 789.8h0M436.9 824.8h0M533.2 752.5h0M593.5 756.4h0M541.4 760.5h0M518.7 743.8h0M426.5 820h0M499.2 752.3h0M553.1 762.5h0M557.4 760.3h0M565 760.1h0M581.8 742.9h0M467.2 775.8h0M579.2 772.9h0M537.7 751.8h0M577.4 762.1h0M523.6 751.8h0M528 743.3h0M581 772.8h0M503 746.4h0M476.3 774.4h0M570 794.2h0M553.6 771.7h0M575.2 750.9h0M487.4 747.9h0M575 757h0M588.8 747h0M584.2 761.6h0M575.5 754.9h0M491.5 766.3h0M529.6 833.5h0M460.9 790.8h0M516.7 757.9h0M577.9 753.3h0M529.7 750.1h0M550.9 738.5h0M545.3 776.3h0M538.7 739.8h0M568.5 763.5h0M589.5 765.4h0M432.5 790.3h0M527.3 779.1h0M504.5 753.6h0M569.5 748.6h0M541.3 768.2h0M544.1 745.6h0M535.8 748.1h0M563 746.4h0M501.3 796.9h0M521.4 750.8h0M539.9 752.7h0M562.6 755.4h0M568.8 742.1h0M591.8 766h0M513.8 792.8h0M518.4 782h0M492.4 739.6h0M573.7 737.6h0M535.6 746.5h0M485.2 767.2h0M577 751.8h0M499.1 755.4h0M507.1 792.6h0M576.1 783.4h0M583.4 754.6h0M549.6 760.9h0M540.6 768.1h0M466 783.2h0M576 751.6h0M490.4 762.8h0M591.7 741h0M579.8 743.5h0M585.4 753.3h0M507.4 780.2h0M590.6 740.1h0M544.4 736.9h0M580.2 768.4h0M502.7 780.2h0M540 776.2h0M579.3 767h0M532.1 744.9h0M574.1 737.5h0M587.9 797.6h0M515.6 760.7h0M588.7 740.6h0M438.2 804h0M462 768.6h0M490.5 782.3h0M489.6 784.6h0M553 756.1h0M540.7 759h0M569.8 750.9h0M552.7 744.3h0M488.9 785.4h0M489.1 773.7h0M546.8 791.3h0M471.2 757.4h0M526.6 753.1h0M576.7 741.5h0M524.3 771.4h0M507.5 774.1h0M486.2 828.4h0M589.5 737.3h0M578.1 774h0M495.5 751.5h0M577.4 775.1h0M518.5 781.9h0M446.2 794.6h0M562.3 761.8h0M568 745.7h0M539.9 740.5h0M583 753.8h0M520.2 764.3h0M514.3 759.2h0M548.2 764.6h0M583.4 764.5h0M560.7 771.6h0M591.8 749h0M459.4 792h0M593.2 751h0M509.7 780.5h0M585.4 739.9h0M586.2 757.9h0M455.2 809.5h0M586.8 765.9h0M542.9 776.7h0M563.6 761.5h0M503.2 747.1h0M564 758.6h0M505.6 760h0M589.5 761.6h0M514.7 754.4h0M506.7 770.2h0M544.7 804.2h0M588.7 758h0M498.8 813.4h0M454.9 828.4h0M578.5 744.2h0M521.6 783.4h0M546.8 740.8h0M556.4 738.9h0M558.3 776.3h0M552.3 760.2h0M583.6 775h0M567.2 767.2h0M581 775.1h0M567.4 793.1h0M546.6 755.6h0M593.8 750.2h0M545.4 784.3h0M489.2 779.5h0M539.4 783.3h0M469.5 773.2h0M509.2 778.7h0M511.3 803.7h0M527.5 776.3h0M529.5 767.3h0M490.2 792.2h0M500.4 762.7h0M581.8 754.3h0M496.6 774.1h0M490.6 819.5h0M570.1 735.8h0M593.9 778.4h0M502.7 792.5h0M533.6 736.7h0M473.5 775.9h0M457.3 818.1h0M500.8 776.2h0M533.2 761.9h0M585.1 741.8h0M509.3 775.2h0M500.2 751.1h0M592.2 750.9h0M480.4 778.4h0M507.5 742h0M517 759.7h0M585.5 738.3h0M467.5 781h0M568.2 760.8h0M520.4 766.7h0M516 774.3h0M457.4 807h0M541.5 767.6h0M530.2 766.4h0M531.9 795.7h0M569.9 767.9h0M556.2 771.1h0M566.5 772.4h0M590.7 741.9h0M561.3 789.5h0M558.5 758.8h0M590.6 791.6h0M526.6 780.9h0M573.8 746.1h0M557.2 757.8h0M559.7 748.3h0M538.5 769.1h0M453.9 802.4h0M499.8 761.3h0M533.6 781.6h0M477.3 800.6h0M548.4 770.5h0M585.2 748.4h0M592 751h0M539 777.2h0M570.7 749.8h0M464.2 768.4h0M488.3 756.5h0M549.7 750.3h0M584.8 767.4h0M503.2 769.9h0M535.2 754.9h0M571.8 754.1h0M480.1 790.6h0M593.7 754.4h0M587 754.5h0M537 764.9h0M570 764.3h0M559.3 771.4h0M563.5 759.6h0M560.5 747.9h0M505.9 782.5h0M555.8 743.4h0M581.8 751.1h0M480.3 783.4h0M578.4 757.2h0M541.5 764.3h0M503.8 754.4h0M456 773.6h0M492.7 765.5h0M562.3 769.7h0M586.9 740.7h0M492.5 801.2h0M588.4 754.6h0M453.8 790.1h0M578.3 783.3h0M471 743.2h0M505.1 735.4h0M517.3 759.3h0M591.9 790.5h0M492.3 765.8h0M563.4 772.4h0M486.9 760.8h0M521.2 746.5h0M538.9 782.2h0M528.6 767.5h0M492.6 798.4h0M521.3 759.1h0M573.1 737.7h0M486.2 746.3h0M593.7 746.4h0M593 767.4h0M436.7 824.1h0M570.8 761h0M535.1 780.9h0M498.9 768.1h0M548.2 748.7h0M539.3 788.6h0M588.6 737.2h0M544.3 753.6h0M505.6 765.8h0M588.7 754.9h0M564.7 780.2h0M495.3 761.3h0M508.5 781.4h0M549.8 762h0M563.3 758.2h0M587.3 752.2h0M566 746.7h0M557 737.6h0M564.1 746.8h0M583.1 770.6h0M517.4 744.9h0M437.5 796h0M551.3 747h0M503 763.3h0M587.7 775.2h0M525.1 767.4h0M570.7 782.4h0M502.6 764.1h0M578.7 777.7h0M551.1 749.2h0M585.1 780.1h0M542.5 771.4h0M537.5 775.8h0M566.3 761.4h0M546.2 756.9h0M501.2 770.2h0M581.5 783.1h0M520.5 757.6h0M524.6 768h0M544.8 737.7h0M520.1 755h0M454.1 804.9h0M561.8 762.5h0M501.3 801.8h0M472.2 779.8h0M571.3 753.8h0M582.9 759.9h0M523 785h0M517.5 796.4h0M576.7 745.6h0M491.9 768.8h0M516.2 751.6h0M505.8 769.2h0M481.6 755.7h0M514.2 765h0M452.3 774.6h0M494.7 748.6h0M561.1 767.3h0M574.3 766.9h0M485.4 766.3h0M457.3 771h0M523.6 800.1h0M451.3 820.3h0M517.7 791.1h0M576 750.9h0M577.9 749.5h0M585.7 757.7h0M582.6 745.5h0M432.4 800.2h0M581.6 796.7h0M503.1 752.8h0M474.4 756.6h0M502.7 789.7h0M575.8 760.5h0M574.8 740.3h0M576.7 771.9h0M566.2 780.7h0M559.4 751.3h0M563.8 761.7h0M552 778.4h0M547.8 783.5h0M543.3 742.6h0M562.9 762.6h0M491 774.9h0M516.5 766.6h0M446.3 821.9h0M586.9 754.1h0M506.8 738.5h0M519.4 749.8h0M593.8 781.7h0M574.9 757.8h0M572.5 750.9h0M479.8 750.7h0M592.5 776.6h0M542.4 759.6h0M564.2 747.8h0M559.6 783.3h0M562.4 784.2h0M539.4 768.7h0M576 753.4h0M546.5 753.7h0M552.5 760.4h0M508.1 781.5h0M546 735.4h0M592.7 742.5h0M531.9 780.9h0M452.8 777.4h0M551.5 774.2h0M517.5 745.6h0M487.4 750h0M565.3 757.5h0M563 768.5h0M574.9 772h0M487.4 758.9h0M527.6 773h0M569.2 763.6h0M466.8 813h0M442.3 808.4h0M532.4 752.6h0M518.3 780.3h0M573 768.3h0M491.7 743.6h0M499.2 774.3h0M557.7 769.3h0M567.3 744.6h0M532.2 787.2h0M591.7 737.6h0M556.9 777.4h0M570.8 752h0M567.2 742.3h0M587.7 744.5h0M575.8 762.6h0M568.6 749.4h0M581.8 751.3h0M533.4 748.8h0M533.4 766.4h0M545.2 758.9h0M575 744.1h0M557.6 749.9h0M505.6 783.6h0M535.9 775.6h0M570.7 739.9h0M469.8 777.5h0M530.2 762.9h0M563.7 760.4h0M547.6 735.1h0M464.7 800.2h0M492.1 781.9h0M552.9 771.7h0M581.6 751h0M592.7 736.8h0M516 778.9h0M474.5 772.3h0M564.1 751.5h0M592.3 756.6h0M494.7 816.3h0M577.2 772.4h0M514.7 757.1h0M486.9 760.2h0M566.7 752h0M533.4 758.8h0M592.3 760.3h0M593.7 767.3h0M434 867h0M437.2 840.8h0M431 851.9h0M419.9 882.5h0M434 838.3h0M413.8 851.4h0M416.9 776.4h0"/>
<path fill="none" stroke="#ababab" stroke-width="2.6" stroke-linecap="round" stroke-opacity="0.5" d="M584.5 745.6h0M585.1 775.8h0M590.2 775.8h0M578 737.6h0M528 768.9h0M491.7 780.9h0M500.5 767.1h0M464.8 762.1h0M563.4 774.6h0M585.1 754.9h0M568.8 745.2h0M476.9 801.3h0M563.3 738.6h0M464.2 754.1h0M529.2 757.7h0M577.1 754.2h0M576.2 739.1h0M506.2 762.3h0M579.3 762.4h0M477.2 789h0M575.1 751h0M546.6 757.6h0M429.1 788.5h0M528.5 800.8h0M566.2 747.6h0M554.2 748.7h0M531.4 748.2h0M540.4 751.1h0M534.1 779.5h0M485.1 797.1h0M577.8 770h0M594 739.6h0M580.1 785.3h0M532.5 764.9h0M536.6 779h0M589.8 739.8h0M502.8 778.1h0M545.1 772.1h0M526.2 802.4h0M572.2 752.3h0M584.4 747.9h0M524.3 777.6h0M551.5 789.9h0M492.2 773h0M501.7 735.1h0M552.5 754.8h0M562.4 766.6h0M492 770.2h0M585.3 764.4h0M536.2 764h0M520 771.1h0M552.7 763.5h0M572.7 800h0M529.6 764.3h0M499.9 740.3h0M543.7 773.9h0M554.3 748.7h0M548.6 760.4h0M541.5 748.7h0M589.4 747.5h0M547.3 775.6h0M457.4 805.6h0M542.8 751.1h0M529.1 816.4h0M585 735.2h0M527.6 770.8h0M551.2 760.4h0M551 757.1h0M502.6 762.8h0M508.1 764.8h0M552.1 791h0M524.8 758.2h0M519.3 765h0M593.3 749.3h0M517 752.2h0M512.4 769.9h0M495.6 755.7h0M447.1 795.2h0M586.9 764.8h0M547.3 780.6h0M572.3 745.9h0M485.3 776.9h0M550.6 758.5h0M533.6 752.2h0M513.5 750.5h0M548 772.5h0M535.7 754.6h0M457.9 819.3h0M445.4 799.3h0M529.3 788.2h0M503.6 795h0M519 747.8h0M525.3 751.8h0M580.7 769.6h0M494.5 790.8h0M512.1 774.9h0M540.5 789.7h0M557.9 786.9h0M548.1 769.3h0M589.5 752.9h0M542.6 768.1h0M479.4 746.2h0M484.6 767.1h0M498 762.9h0M546.1 782.2h0M479.9 770.2h0M485.2 774.6h0M566.9 740.9h0M582.2 741h0M477 763.3h0M517.4 782.3h0M562.4 758.2h0M553.1 778.6h0M550.1 777h0M579.2 743.6h0M517.6 789.1h0M545.3 792.5h0M477 787.1h0M470.6 758h0M564 776.5h0M496.2 771.6h0M589.8 808.8h0M519.8 744.6h0M512.3 754.8h0M525.8 758.1h0M575.2 803.6h0M567 768.9h0M592.9 746.5h0M460.1 763.9h0M521.8 765.5h0M542.4 757.5h0M498.2 745.2h0M593.9 755.5h0M460.6 773.4h0M593.9 751h0M557.6 755.8h0M592.6 753.9h0M486.9 809.9h0M582 778h0M464.3 799.1h0M501.6 751.2h0M588.4 777.2h0M493 751.6h0M552.5 766.9h0M552.8 758.9h0M564.4 744.1h0M585.5 774.6h0M495.4 783.6h0M508.8 775.5h0M560.6 784.1h0M545 766.9h0M469.7 800.9h0M589.1 773.4h0M436.4 836.9h0M530.6 762.2h0M546.2 736.1h0M556.1 776h0M589.5 747.8h0M512.9 781.5h0M577.6 748.1h0M582.3 745.2h0M542.8 756.1h0M566.8 767.7h0M536.8 779.3h0M545.6 772.3h0M541.2 743.7h0M564.8 758.6h0M456.8 783.5h0M469.7 802.8h0M455.7 810.6h0M512.3 798.9h0M541.9 762.9h0M539.5 741.1h0M484.9 778.6h0M442.9 832.7h0M591.5 775h0M587.8 769.4h0M587.4 744h0M488.3 779h0M470.8 797.2h0M521.4 744.6h0M512.1 799.9h0M498 761.8h0M504.9 753.2h0M568.4 774.6h0M551.4 772.1h0M499.2 735.5h0M507 762.9h0M553.8 772.1h0M575.1 735.4h0M567.3 746h0M575.9 771.8h0M518.7 752.8h0M492.6 755.5h0M468.5 763.8h0M577.4 759.1h0M504.6 801.4h0M565.7 736.9h0M520.9 755.5h0M437.6 795.6h0M487.7 777.7h0M535.3 737.4h0M441.3 770.2h0M518.1 759.7h0M531.2 779.4h0M444.7 771.1h0M533.8 751.7h0M467.4 739.4h0M550.6 753.1h0M587.1 739h0M562.4 768.1h0M564.9 744h0M499.9 766.2h0M563.2 783.2h0M539 759.9h0M536.6 746.9h0M587.7 757.1h0M587 760.4h0M574.8 797.5h0M534.9 797.4h0M539.7 742.2h0M580.7 753.8h0M508.5 758.9h0M578.2 779.7h0M512.7 769h0M588.8 761.4h0M415.4 839.2h0M533.9 774.9h0M519.6 781.8h0M477.9 782.6h0M536.3 777.7h0M539.3 792.6h0M492.3 750.4h0M473.8 811.5h0M516 755.8h0M543.2 783.2h0M538.4 774.5h0M487.8 760.3h0M570.6 766.9h0M460.7 800.8h0M525.4 767.3h0M511.2 779.3h0M570.8 745.2h0M573 742.4h0M492.3 817.6h0M545.7 754.8h0M501.7 772.7h0M580.1 758.6h0M491.2 758.9h0M552.9 770.8h0M589.8 771.7h0M523.8 793h0M574.9 782.1h0M579.7 762.2h0M471.2 793.6h0M498.3 756.4h0M566.9 767h0M579.2 752.3h0M549.3 748.6h0M569 755.2h0M489.5 786.2h0M588.1 766.4h0M561 760.8h0M554.2 766.7h0M552.7 735.2h0M459.7 811.5h0M576.6 758.8h0M514.2 756.9h0M551.2 761.4h0M505.5 777.3h0M506.2 750.8h0M574.4 766.8h0M576.2 749.5h0M513 746.1h0M457.9 809h0M559.7 750.8h0M502.7 748h0M591.4 759.8h0M482.6 817.2h0M588 752.5h0M570.9 788.9h0M461.2 773.3h0M517.8 794.7h0M578.2 744.5h0M513.3 762.5h0M480 800.9h0M529.9 755.7h0M541.7 747.8h0M588.3 749.9h0M575.2 742.7h0M588.9 748.2h0M484.7 746.4h0M581.2 757.2h0M549 763.4h0M517 783.3h0M551.6 762.9h0M574.9 741.1h0M552 781.1h0M571 740.4h0M562 770.6h0M563.5 792.6h0M562.2 767.9h0M494.2 765.6h0M548.9 749.4h0M575 758.2h0M428.6 828.7h0M478 788h0M523.5 770.1h0M518.1 749.6h0M482.9 774.5h0M444.3 773.9h0M575.2 754.1h0M457.4 758.6h0M518 770.6h0M521.3 741.3h0M500.8 761.6h0M480.9 794.4h0M583.7 774.5h0M530.6 762.4h0M588.3 763.5h0M577.4 762.7h0M471.1 801.1h0M551.7 758.9h0M581.5 792.4h0M555.3 758.5h0M588.3 755.5h0M512.8 793.3h0M490.6 737.5h0M506.2 805.8h0M586.4 765.1h0M427.9 807.3h0M497 764.3h0M590.5 759.7h0M568.7 758.7h0M483.2 786.9h0M590.8 769.9h0M536.3 761.4h0M572 757.5h0M575.1 773.1h0M501.4 763.8h0M582.4 771.4h0M529.4 765.1h0M566.9 773.8h0M557.6 807.8h0M541.3 744.1h0M583.3 779.6h0M437.3 787.8h0M524.3 745.5h0M517.4 753.1h0M474.8 769.7h0M534.9 788.7h0M564.2 793.7h0M562 761.3h0M576.8 770.6h0M591.7 750.2h0M441.7 789.8h0M577.2 764.2h0M443.3 810.3h0M588.4 758.2h0M478.8 784.6h0M510.3 754.2h0M523.1 751.8h0M565.9 740.7h0M539.1 735.8h0M590.3 778.6h0M584.9 794h0M482.5 792h0M449.3 763h0M484.5 776.7h0M580.3 796.4h0M515.6 770.1h0M520.2 771.9h0M553.9 773.8h0M531.9 766.6h0M589.3 760.2h0M493 787.1h0M519 792h0M514.9 767.5h0M570.4 762.2h0M519.7 788.3h0M579 773.8h0M532.2 750.9h0M484.8 750.2h0M583.4 766.8h0M535.3 762.8h0M472.9 739.7h0M528.5 773.8h0M587.3 741.6h0M580.3 793.9h0M573.5 748.6h0M560.7 762.9h0M478 776h0M465.6 777h0M550.9 750.4h0M518.7 770.7h0M530.8 771.9h0M562.8 768.6h0M559.8 739.2h0M584.3 757.7h0M534.6 742.5h0M547.4 783.5h0M486.6 765.6h0M514.3 770.2h0M494.9 793.6h0M485.1 774.1h0M565.4 766.2h0M567.9 756.3h0M491.5 784h0M591.6 735.1h0M480 799.4h0M523.1 758.9h0M521.2 767.5h0M523 750.9h0M553.5 785h0M488.1 760h0M581.2 764.7h0M587.3 743.3h0M496.2 780.2h0M591 763.5h0M518.1 747.9h0M471.5 761.1h0M545.6 776.4h0M546.8 741.8h0M576.7 780.2h0M563.7 742.8h0M496.8 777.8h0M553.8 744.6h0M535.6 754h0M591.1 776.8h0M570.3 751.1h0M591.4 776h0M446.2 794.2h0M585 760.7h0M560.8 770.3h0M530.2 776.3h0M571.3 769.8h0M575.6 741.9h0M557.6 805.3h0M505.8 755.4h0M583.4 789.8h0M530.2 746h0M567.8 738.5h0M545.9 777.5h0M582.4 759.2h0M457.6 793.3h0M528.2 776.3h0M590.6 757.3h0M528.3 749.7h0M547.7 783.9h0M575.9 743.1h0M554.3 763h0M558.5 743.6h0M562.5 774h0M581.8 756.3h0M499.1 790h0M594 759.1h0M516.3 739.9h0M478.4 792h0M505.8 741.6h0M558.3 789.5h0M568.5 745.8h0M543.8 752.6h0M503.9 756.8h0M572 736.7h0M580.4 775h0M586.2 750.4h0M587.6 754.5h0M505.6 742.9h0M516.6 769.7h0M546.1 744.1h0M578.6 745.7h0M574.5 780.6h0M488 741.5h0M550.3 759h0M526.7 762.1h0M557.8 773.6h0M520.4 765h0M532.8 738.7h0M548.5 786.1h0M550.2 783.9h0M555.9 780.6h0M490.1 767h0M449.4 778.8h0M583.8 781.7h0M524.5 768.7h0M492 759.7h0M548.6 754.8h0M545.2 750.4h0M559.4 754.1h0M568.3 786.6h0M531 753.5h0M556.2 770.8h0M552 762.2h0M570 790.9h0M509.5 772.9h0M571.2 743.8h0M505.4 752h0M570.6 749.8h0M528.2 774.5h0M577.4 739.3h0M572.4 747.5h0M502.6 779.1h0M560.7 790.6h0M491.5 787.4h0M550.6 735h0M576 765.1h0M532.1 796.1h0M532.1 765.3h0M533.2 783.9h0M554 781.5h0M550.2 770.1h0M519.5 794.9h0M484.1 763.3h0M494.5 792.7h0M477.2 755.3h0M507.4 790.8h0M526.2 752h0M521.9 759.1h0M513.7 776h0M575.8 781.8h0M545.6 748.5h0M516 770.9h0M558.8 740.6h0M569.6 774.2h0M478.4 763.1h0M575.3 770.7h0M566.6 777.1h0M494.9 783.3h0M540.4 739.5h0M562.6 767.4h0M558.4 785.3h0M575.4 737.1h0M535.7 735.9h0M560.1 758.6h0M537.7 743.2h0M544.9 756.8h0M526.4 751h0M593 735.4h0M517.2 759.3h0M593 745.6h0M500.6 803.2h0M492.8 760.6h0M487.7 766.4h0M509.2 784.4h0M550.1 753.9h0M589.9 745.5h0M558 755.5h0M506.9 770.3h0M568.5 775.9h0M580.2 758.3h0M470.5 805.9h0M531.3 761.1h0M591.2 768.6h0M542.2 736.2h0M566.5 759.9h0M577.4 782.8h0M530.9 773.2h0M510.3 771.2h0M500.5 774.4h0M513.4 799.1h0M523.5 783.3h0M589.1 743.9h0M535.1 756.6h0M520.7 753.6h0M508.1 774.9h0M552.3 764.6h0M461.2 795.7h0M443.2 787.1h0M497.9 770.2h0M524.6 748.4h0M480.8 746.2h0M578.2 806.6h0M533.5 786.5h0M536.8 752.1h0M554.4 768.8h0M548.5 755.3h0M529.2 767.5h0M519.4 743.4h0M585 749.6h0M562.8 747.1h0M566 777.3h0M528.3 746.5h0M579.1 794.2h0M477.2 786.6h0M593.8 758.5h0M537.6 778h0M527 743.4h0M587 773.8h0M527.3 827.3h0M494.4 802.4h0M549.7 768.9h0M503 739h0M470 818.8h0M550.8 762.5h0M544.1 752.2h0M574.3 762h0M587.2 743h0M547.5 782.1h0M588.3 780.2h0M593.5 757.4h0M514 790.3h0M537.5 746.1h0M429.3 810.2h0M574.5 743.5h0M587.8 776.5h0M589.8 744.1h0M521.2 750.9h0M491.3 815.1h0M550 772.6h0M539.2 744h0M552 784.3h0M573.6 750.5h0M592.4 748h0M535.1 737.1h0M448.8 800.4h0M550.7 779.4h0M485.2 769.9h0M446 783.5h0M469.8 740.3h0M588.7 795.7h0M517.1 757.7h0M480 810.4h0M512.5 739.2h0M577.8 790.9h0M518.3 768.7h0M574.2 756.2h0M521.9 797.3h0M534.1 751.5h0M570.8 795.2h0M565.8 735.6h0M452 827.1h0M592.1 759.4h0M537.5 774.7h0M417.1 828h0M470 779.9h0M564.3 753.2h0M545 775.5h0M551.5 761.5h0M540.1 743.4h0M547.3 748.3h0M438.6 791.3h0M475.7 751.2h0M590.4 746h0M511.1 756.7h0M495.8 736.2h0M515.1 741.9h0M576.7 771.4h0M586.5 778.2h0M541.3 757.9h0M498.5 784.3h0M575.2 742h0M570.9 760.4h0M573.6 767.9h0M509 750.4h0M567 749.7h0M448 803.5h0M478.9 813.6h0M581.5 775.8h0M522.2 782.9h0M534.8 771.1h0M497.7 792.2h0M587.1 758.2h0M499.5 804.8h0M522.8 750.3h0M589.8 804.5h0M578.4 745.3h0M463.5 785.2h0M558.2 759.2h0M555.2 741.9h0M575.7 778.8h0M579.5 747h0M516.9 782.5h0M566.4 791h0M451.8 789.3h0M541.8 767h0M591.6 760.3h0M458.5 765.3h0M488.8 783.1h0M574.2 762.5h0M586.1 738.8h0M441.5 826.8h0M473.7 770.5h0M593.5 782.7h0M512.5 781.9h0M547.3 740.8h0M433.1 835.3h0M592.4 757.7h0M522.8 795.3h0M532 736.7h0M585.6 783.6h0M571.6 740.4h0M564.7 742.1h0M592.8 743.4h0M585.7 769.1h0M565.2 747.6h0M520 758.1h0M550.6 748.3h0M517.6 790.7h0M545.4 756.6h0M508.3 754.8h0M545.1 798.3h0M534.9 777.4h0M493.9 773.2h0M526.1 767.1h0M590.3 769.1h0M587.9 739.3h0M533.4 782.1h0M542.5 760.5h0M513 754h0M434.4 797.4h0M560.9 751.1h0M448.6 805.1h0M543.3 771.7h0M472.7 762.6h0M574.3 772.2h0M488.2 815.9h0M466 786.5h0M552.2 741.3h0M520.3 795.8h0M581.1 803.3h0M566.5 745.9h0M575.1 748.4h0M567.8 758.5h0M591.3 783.8h0M512 796h0M543.6 771.3h0M506.1 736h0M567.1 773.4h0M560 766.4h0M500.2 760h0M589.5 744.2h0M525.4 755.5h0M590.4 761.8h0M590.7 777.3h0M568 763.4h0M443.5 764.9h0M562.8 769.6h0M588.3 747.3h0M422.9 811.1h0M421.5 880.3h0M416.4 878.3h0M420.8 800.2h0M435.7 821.1h0M418.8 869.2h0M434.3 852.8h0M435.6 841.5h0M420.8 799.3h0M421.9 818.9h0M425.8 851.3h0M413.1 810.2h0M425.4 840.4h0"/>
<path fill="none" stroke="#ababab" stroke-width="2.6" stroke-linecap="round" stroke-opacity="0.5" d="M503 760.5h0M571.5 751.2h0M520.5 748.6h0M565.1 758.7h0M455.3 785.5h0M566.2 768.3h0M524.3 804.4h0M569 757.3h0M549.8 802.1h0M523.7 747.2h0M489.8 754.3h0M538.9 738.9h0M468.4 739.2h0M518.2 759h0M470.1 784.3h0M554.3 792.4h0M509.3 823h0M475.9 771h0M563.7 774.1h0M531.1 766.6h0M537 742.2h0M509.9 760h0M505.5 760.4h0M551.3 765.7h0M507.7 763.5h0M574 762.2h0M537.7 758.7h0M544.1 754.6h0M504.4 752.8h0M445 799.6h0M548.2 761.4h0M557.2 740.4h0M530.7 770.5h0M519.8 751.8h0M574.4 747.7h0M582.1 779h0M587.4 781.1h0M572.7 799.6h0M568.8 743.6h0M562.5 735.3h0M501.2 777.7h0M581.4 742.9h0M502.5 775.3h0M570.6 742.5h0M517.8 744.5h0M467 772.2h0M452.8 838.6h0M583.3 740.7h0M474.9 784.3h0M578.3 749.9h0M557.7 768.3h0M569 779.1h0M515 757.3h0M556.8 751.1h0M477 806.9h0M550.9 789.9h0M498.9 779.3h0M563.8 768.3h0M497.8 766.7h0M583.3 744.4h0M580.7 757.4h0M564.3 744.2h0M579.9 735.6h0M506.4 789.6h0M457.5 759.2h0M585.6 742.1h0M489.2 758.6h0M530.5 757.4h0M526 740.6h0M548.9 770.4h0M536 759.4h0M558.3 771.2h0M525.1 744.2h0M442.7 819.6h0M583.6 772.2h0M507.9 770.4h0M592.9 741.8h0M580 741h0M573.3 769.9h0M531.4 753.7h0M504.7 748.3h0M544.2 774.7h0M522.7 766h0M473.7 757.5h0M499.8 797.8h0M593.3 746.8h0M563.6 759.2h0M543.3 796h0M511.1 778.8h0M544.4 770.4h0M578.9 741.9h0M463.7 780.3h0M572.6 747.1h0M572.3 763.2h0M535 749.5h0M511.3 783.7h0M474.3 772.6h0M591 747.8h0M569.3 757.5h0M467.2 761.3h0M501.1 757.5h0M565.3 778.3h0M518.1 748.3h0M580.2 747.7h0M593.6 778.8h0M566.9 740h0M435 806.1h0M525.2 803.9h0M579.3 753.4h0M439.5 764.5h0M503.9 782.3h0M574.5 772.3h0M514.7 782.7h0M494.9 802.4h0M589.7 789.8h0M500.2 780.6h0M576.8 752h0M455.2 769h0M556.1 774.3h0M502.4 765.3h0M467.4 775.1h0M575.1 758.8h0M495.5 738.9h0M521.3 744.5h0M521.2 740.6h0M567.7 766.1h0M569 773.4h0M479.7 785.7h0M593 749.6h0M553 783.2h0M513.7 782.7h0M430 827.7h0M492 755.1h0M482.6 808.3h0M585.5 752.7h0M558.1 761.7h0M565.1 747.9h0M507.5 757.1h0M590.6 742.3h0M560.4 765.7h0M590.2 741.4h0M521.4 767.5h0M488.9 744.5h0M582.7 739.7h0M591.3 754.4h0M585.8 782.8h0M577.3 774.3h0M584.2 796.5h0M538.9 742.5h0M565.6 783.6h0M533.7 807h0M574.9 754.6h0M518.1 780.8h0M540.1 763.8h0M527.8 768.6h0M535.4 750.2h0M489.3 798.2h0M576.5 751.2h0M589.7 741.9h0M547.6 766.4h0M453.4 768.6h0M504.1 777.9h0M559.5 800.9h0M435.8 761.3h0M594.1 789h0M517 778.1h0M537.9 764h0M575.7 739.6h0M565.7 739.8h0M568.6 753.9h0M568.9 742.4h0M544.4 781.8h0M584.9 772.9h0M549.6 784.2h0M499.6 776.1h0M518 760.7h0M501.9 774.8h0M475.4 791.1h0M583.7 768.7h0M538.9 758.3h0M561.8 775.5h0M572.2 777.4h0M577.5 736.6h0M582 785.9h0M479.4 791.8h0M590.1 768.5h0M579 745.7h0M591 752.1h0M565.5 746.7h0M590.3 759.8h0M503.1 785.8h0M511 781h0M576 780.8h0M583.4 755.8h0M557.9 750.6h0M495.9 780.5h0M503.2 768.7h0M535.2 739.8h0M521.2 777.9h0M504 791.9h0M544.2 741.7h0M589 749h0M525.9 799h0M441.4 816.5h0M506 737h0M454.4 785.8h0M551.6 759.8h0M588.3 798.5h0M528 760.4h0M430.8 793.4h0M472.5 796.8h0M594.1 750.6h0M546.6 747.6h0M573.5 778.6h0M589 739.8h0M521.5 798.5h0M559 768.1h0M513.2 766.5h0M511.7 751.3h0M572.7 737.7h0M573.4 783.9h0M546.4 755.7h0M586.9 760.1h0M545.9 743.8h0M542.4 759.4h0M560.8 754.5h0M466 762.7h0M454.7 788.8h0M587.9 785.2h0M469.9 738.9h0M470.7 786.2h0M564.1 765.5h0M576 777.1h0M581.2 751.4h0M500.2 755.3h0M523.6 772.6h0M480.1 774h0M581.8 746.3h0M479.8 796.3h0M466.5 777.7h0M451.2 801.4h0M576.1 743.2h0M475.8 788h0M544.9 740.8h0M569 765h0M565.8 773.4h0M569.3 770.9h0M565.6 783.6h0M541.8 751h0M500.6 759.3h0M542.7 765.4h0M488.2 745.8h0M532.4 755.2h0M586.3 781.1h0M525.8 745.6h0M563.4 737.5h0M526.2 787.8h0M518.9 783.9h0M523.7 771.9h0M578.1 735.7h0M582.9 742h0M583.8 775.4h0M591.2 749.7h0M578.1 760.5h0M566 754.1h0M572.7 749.8h0M555.3 755.7h0M585.4 784.4h0M570.9 766.2h0M571.6 754.5h0M577.6 736.6h0M583.1 755.4h0M498.4 771.5h0M467.9 807.3h0M589.7 747h0M537.8 775.6h0M574.7 745h0M546.4 740.4h0M478.3 797.9h0M454.7 771.6h0M532 751.8h0M571.1 751.3h0M556.6 761.7h0M559.5 735.4h0M578.4 735.7h0M578.7 765.5h0M452.5 795.5h0M476.1 781.1h0M494 781.9h0M544.3 783.8h0M577.1 775.9h0M490.7 776.8h0M593.9 743.7h0M500.8 769.3h0M469.9 781.6h0M575.4 778.3h0M538.6 741.2h0M561.8 767.3h0M508 790.8h0M589.1 752.4h0M531 747.5h0M563.2 769.8h0M543.1 760.1h0M543.4 783.8h0M588.7 772.5h0M545.7 766.2h0M575.6 738h0M518 771.6h0M584.3 753.7h0M477.5 760h0M479.6 751.2h0M585.4 746.5h0M505.8 745.7h0M568.4 751.4h0M495.2 755.3h0M505.6 752.7h0M493 770.3h0M559.1 771h0M552.2 790.8h0M592.7 765.3h0M447.9 821.8h0M563.8 738.7h0M573.2 741.1h0M509.1 775h0M552 752.9h0M562.7 756.1h0M516.6 752.8h0M572.4 746.1h0M512.7 755h0M588.6 766.5h0M579.5 770.1h0M587 799.2h0M552.1 740.6h0M425.8 759h0M466.1 816.7h0M473.6 783.8h0M546.8 751.6h0M583.4 745.7h0M521 772.9h0M441 784.9h0M502.7 780h0M536.4 765.5h0M484.1 786h0M527.1 737.2h0M467 789.8h0M574.7 742.8h0M591.9 773.3h0M523.6 769.8h0M562 769.4h0M583 777.9h0M585.7 749.5h0M586.8 738.8h0M525.3 789.8h0M567.1 767.5h0M583.6 747.2h0M531.9 764.3h0M489.1 750.2h0M462.8 841.2h0M468.1 793.7h0M472.1 793.2h0M572.9 778.6h0M579.1 768.8h0M527.2 753.7h0M509.3 775.5h0M592.8 742.3h0M552.8 764.9h0M477 745.1h0M537.4 741.9h0M495 776.5h0M573.8 747.2h0M590.2 792.5h0M523.3 749.8h0M593.9 756.5h0M443.3 801.9h0M446.7 818.4h0M588.7 737.3h0M476.9 765.3h0M590 768.2h0M470.5 800h0M494.3 759.4h0M491.4 769.9h0M479.1 758.9h0M591.3 760.1h0M585.2 742.7h0M550 767.4h0M481.7 751.5h0M570.5 744.4h0M532.1 777.5h0M537.5 765.5h0M516 741.7h0M533.8 764.8h0M503.7 749.6h0M441.7 768h0M589.5 756.1h0M495.2 795.9h0M425.8 825h0M567.8 772.5h0M475.8 797.9h0M555.8 748.1h0M508.4 756.4h0M541.3 768.1h0M533.1 784.6h0M586.1 763.8h0M581.5 759.7h0M516.8 769.1h0M527 782.4h0M563.6 766.7h0M593.8 765.1h0M477.8 781.4h0M531.8 761h0M527.1 775.2h0M548.3 769.5h0M549.6 760.8h0M582.1 751.8h0M584.2 740.4h0M562.4 753.8h0M485.5 836.3h0M556.8 756.4h0M558.3 755.1h0M557.9 754.4h0M494 754h0M468.1 797.5h0M555.7 774.3h0M571.4 747.3h0M575.2 756.7h0M498.1 748.5h0M532.2 768.8h0M564.6 751.3h0M579.1 758.6h0M592.9 739.9h0M564 758.6h0M565.7 763.9h0M548.5 759.7h0M552.6 749.2h0M495.2 777.5h0M575.3 772.7h0M569 744.5h0M490.8 754.6h0M551.9 784.6h0M498.9 735.8h0M591.5 768.6h0M561.2 757h0M548.5 780.2h0M566.2 742.8h0M568.8 752.5h0M465.9 801h0M574.7 773.8h0M568.9 765.9h0M579.9 756.4h0M524.4 738.3h0M503.8 749.7h0M580.4 753.4h0M572.6 784.6h0M547.7 767h0M591.2 752.7h0M585 774.2h0M578.2 746.2h0M532.1 755h0M558 752.1h0M480.4 809.1h0M532.2 761.2h0M575.5 772.6h0M585.2 743.1h0M518.5 768.6h0M538.1 748.7h0M526.1 745.2h0M514.5 749.4h0M577.1 748.1h0M511.6 773.6h0M551 769.4h0M591.4 736.3h0M591.9 778.9h0M487.7 781.8h0M536.4 741.3h0M540.8 752.2h0M561.1 768.1h0M535.3 741.5h0M587.3 750.5h0M565.1 748h0M588.5 763.5h0M570.2 750h0M567.5 765.8h0M571.2 768.4h0M447.6 771.6h0M521.7 750h0M483 793.2h0M592.6 774.1h0M590.5 780.6h0M500.2 811.2h0M574.2 781.6h0M494.6 747.3h0M496.8 774.1h0M523.2 747h0M492.5 774.5h0M504.1 779.5h0M548.6 775h0M585.1 738.4h0M486.3 773.6h0M528.3 740.9h0M470.3 777.8h0M491.3 742.4h0M462.3 783.2h0M467.5 773.7h0M511.5 745.6h0M442.1 763.3h0M537 759.3h0M514.7 811.8h0M489.6 766h0M473.2 778h0M429.4 799h0M473.8 797.8h0M558.2 740.6h0M519.4 747.8h0M594.2 757.1h0M497 788.9h0M522.3 757.7h0M475.1 776.5h0M479 806.1h0M530.3 764.4h0M509.6 747.2h0M436.1 804.8h0M522.1 758h0M544.5 783.1h0M566.5 740.5h0M523.2 786.7h0M443 819.4h0M534.7 791.8h0M593.2 757.1h0M566.2 748.8h0M498.2 736.2h0M594.2 738.6h0M562.6 740h0M460.8 795.7h0M553.6 757.8h0M575 812.5h0M593 768.9h0M585.4 744.5h0M459.6 796.9h0M565 750.2h0M458.8 776.6h0M582.4 738.1h0M579.7 736.5h0M503.4 790.5h0M574.8 752.9h0M575.9 769.7h0M567.1 747.9h0M569 760.4h0M594 750.3h0M473.8 808.5h0M545.3 757.3h0M519.9 772h0M528.2 752.4h0M510.5 797.5h0M474.6 810h0M563 761.7h0M591.5 735.7h0M531.4 741.5h0M502 770.4h0M475.5 813.7h0M465.1 791.7h0M518.2 738.6h0M554 751.2h0M551.4 779.3h0M589.9 745.7h0M433.9 823.5h0M557.7 753.7h0M531.8 746.2h0M443.1 820h0M568 791.4h0M579.6 800.3h0M482.7 775.7h0M522.5 775.1h0M475.2 798.6h0M464 818.5h0M573.9 753.4h0M481.7 788.1h0M534.2 792.8h0M539.1 791.3h0M575.3 766.3h0M502.7 793.8h0M587.5 746h0M560.3 792.5h0M580.6 756.9h0M576.9 785h0M434.8 821.4h0M573.4 768.7h0M534 771.5h0M585.7 747.8h0M591.7 769.8h0M515.9 780.4h0M518.8 759.2h0M453.9 811.3h0M507.7 750h0M448.8 824.2h0M477.3 816.9h0M568.1 747.5h0M529 750.8h0M561 776.3h0M486.7 746.8h0M491.6 781.7h0M525.7 760.2h0M548.3 742.7h0M589 754.1h0M571.4 753.2h0M590.2 758.9h0M489 787.8h0M510.8 746.8h0M526.6 742h0M562.3 768.9h0M504.1 759.3h0M498.9 764.3h0M509.2 750.1h0M584.3 745.7h0M584.1 775.2h0M542.9 763.7h0M474.7 771h0M431 804.5h0M590 766.6h0M502.8 780.8h0M497.1 758.8h0M537 762.7h0M494 767.3h0M568.6 799.7h0M535.5 745.3h0M496.5 756.3h0M539.2 753.7h0M522.2 764.2h0M529.6 771.7h0M493.9 748.7h0M491.3 772.9h0M593.8 760h0M565 764.5h0M553.7 756.2h0M538.3 775.3h0M545.4 756.9h0M525.9 755.4h0M593.9 752h0M443.4 805.5h0M552.1 761.9h0M587.5 818.4h0M503.5 790.7h0M456.5 764h0M569.2 777.4h0M456.2 790.3h0M581.7 737.1h0M552.4 768h0M587 747h0M553.8 779.8h0M480.2 767.1h0M583.5 762.7h0M446.7 805h0M576.2 772.8h0M538.6 751.1h0M576.9 778h0M557.6 772.4h0M572.3 744.4h0M525.6 781h0M592 791.3h0M593 740.3h0M508.4 799.5h0M590.7 768.3h0M521.5 774.3h0M538.4 770.2h0M591.8 796h0M532.8 774.4h0M529.2 788.8h0M590.2 772.4h0M566.8 768.9h0M576.7 774.8h0M587.7 745.4h0M523.3 768.6h0M537 755.6h0M559.1 784.4h0M548.7 784.2h0M454.1 788.6h0M559.7 759.1h0M500 796.2h0M499.2 766.7h0M522.2 759.3h0M593.4 737.2h0M554.5 743.4h0M577.3 753.8h0M526.9 758.5h0M488.7 750.3h0M588.8 741.2h0M577.6 777.9h0M551.2 748.9h0M591.2 759.6h0M523.5 749.5h0M559.8 801.5h0M567.2 748.5h0M514.5 763h0M512.4 764.6h0M516.3 807.4h0M500.3 763.7h0M414 834.7h0M419.6 821.8h0M416.6 847.1h0M413.3 821.5h0M423.9 807h0M433.3 855.9h0M435.8 815.4h0M418.6 829.7h0M434.3 837.4h0M419 857.1h0M419.3 852.9h0"/>
<path fill="none" stroke="#ababab" stroke-width="2.6" stroke-linecap="round" stroke-opacity="0.5" d="M524.3 765.4h0M585.1 748.6h0M533 763.7h0M443.4 803.3h0M467.9 786.3h0M556 745.1h0M541.9 778.2h0M457.9 804.5h0M590.2 752.4h0M445.2 800.4h0M456.3 792h0M481.5 790h0M530.2 804.4h0M466.4 784.4h0M520.6 792.6h0M498.5 758.1h0M544 740.5h0M545.5 754.8h0M464.9 782.2h0M581.9 741.7h0M577.8 773.8h0M582.1 752.9h0M581.1 782.6h0M521.8 741.4h0M546.4 751.2h0M504 775.9h0M589.6 769.5h0M541.2 743.1h0M566.3 768.2h0M432.2 831.9h0M560.1 744.5h0M588.8 783.2h0M493.4 759.2h0M573.3 738.7h0M592.4 751.6h0M468.1 789.5h0M589.6 742.3h0M588.9 775.9h0M577.3 746.5h0M465.2 809.7h0M483.7 787.7h0M501.3 768.1h0M451.6 795.6h0M535.9 768.1h0M592.5 791.3h0M562.9 760h0M526 774.9h0M489.1 771.8h0M532.1 737.1h0M560.5 737.5h0M479.1 795.8h0M553.7 751.9h0M472.1 785.4h0M545.4 752.2h0M484.4 797.8h0M555.4 740.6h0M548.9 757.1h0M517.2 740.3h0M532.9 754h0M452.9 774.6h0M568.6 759.6h0M564.5 755.8h0M552.2 753.2h0M557.9 774h0M574.8 750.9h0M579.2 763.1h0M540.8 809.4h0M558.1 762.7h0M542.1 774.2h0M468.3 802.4h0M464.5 789.3h0M475.6 755.8h0M547.6 754.8h0M528.9 751.4h0M531.4 790h0M501.9 762.5h0M544.8 786.5h0M559.1 736.1h0M512.4 787.4h0M513.9 751.8h0M580.1 741.4h0M531.1 767.9h0M522.9 761.9h0M566.2 778.6h0M537.1 747.8h0M487.7 763.7h0M532.2 769.4h0M544 791.4h0M485.3 769.8h0M553.2 786h0M570.8 758h0M588.6 770.9h0M541.5 790.3h0M575 777.3h0M533.9 764h0M526.4 773.8h0M463.1 753.2h0M538 760.6h0M552.5 753.8h0M566.6 770h0M501.4 769.9h0M577.3 750.4h0M512.3 813.1h0M550.3 796h0M586.7 751h0M553.3 775.8h0M460.8 736.7h0M577.5 784.7h0M505.8 765.9h0M588.4 774.3h0M545 776.3h0M572.7 751.7h0M536.7 754.6h0M530.6 745.6h0M459.2 803.3h0M570.7 754.7h0M573.7 749.3h0M593 759.5h0M495 778.8h0M573.9 767.5h0M467.5 791.5h0M570.7 802.9h0M587.5 753.7h0M459.8 775h0M574.9 762.6h0M439.9 840.5h0M592.3 745.3h0M585.4 748.2h0M553.3 778.6h0M516.6 741.9h0M560.2 764.4h0M547.8 740.7h0M525.2 756.8h0M578.6 780.9h0M525.7 780h0M513.9 748.7h0M540.6 773.7h0M544.9 784h0M460.7 780.6h0M538.6 772.7h0M551.7 742.1h0M571.5 744.9h0M523.6 772.9h0M589.5 750.5h0M582.9 763.7h0M583.3 753.4h0M561.9 798.3h0M537.8 752.2h0M562.8 774.4h0M528.2 800.9h0M580.5 761.9h0M555.6 761.3h0M574.4 757.9h0M478.8 766.5h0M525.6 764.8h0M535.1 761.2h0M560.6 761.9h0M499.4 756.9h0M580.5 763.8h0M566.5 767.9h0M438.9 801.5h0M564 735.3h0M558.1 755.3h0M528.8 775.7h0M576.2 748h0M503.8 790.3h0M550.5 781.4h0M452.9 781.8h0M573.9 753.1h0M586.9 758.5h0M576.9 772.4h0M540.6 745.2h0M486.3 746.7h0M517.7 771.4h0M559 768.7h0M536.6 757.3h0M496.5 788.8h0M451.5 793h0M516 752.6h0M521.7 778.4h0M557.9 741.7h0M539 794.1h0M536.2 739.7h0M449.6 782.6h0M593.4 749.9h0M564 753.6h0M472.9 778.3h0M521.6 772h0M522.8 740.5h0M486.4 758.2h0M576.2 770.7h0M476.9 765.4h0M581.6 748.8h0M533.9 766.3h0M555.6 779.9h0M505.1 769.2h0M588.7 772.7h0M506.6 745.9h0M472.6 749.6h0M565.9 764h0M570 749.1h0M549.8 774.8h0M458.5 782.3h0M543.2 748.6h0M466.5 766h0M457.9 787.5h0M587.5 741.5h0M539.3 772.9h0M444.9 771.5h0M575.1 752.1h0M579.9 755.8h0M510.4 799.8h0M588.3 786.4h0M540.4 743.7h0M562 769.1h0M499.3 760.9h0M507.9 765.4h0M553.7 783.2h0M582.1 742.9h0M581.5 743.5h0M578.8 757.1h0M471.3 817.5h0M495.7 811h0M477.6 764.7h0M495.8 779.9h0M533.1 780.5h0M574.8 763.7h0M588.3 751.8h0M495.4 742.1h0M427.6 820h0M436.9 796.5h0M588 740.1h0M516.3 772.5h0M505.2 753h0M587.3 761.3h0M573.6 760.5h0M526.7 758.1h0M530 774.6h0M542 747.9h0M593.5 779.1h0M592.5 740.8h0M579.4 742.4h0M495.5 765h0M477 755.5h0M514.1 763.1h0M558.2 767.7h0M556.7 775.3h0M513.9 778.1h0M505.1 803.6h0M538.4 758.6h0M478.1 795.3h0M492.9 822.9h0M536.4 766.1h0M550.9 755.3h0M521.2 766.3h0M588.9 745.9h0M553.9 736.6h0M465.8 812.5h0M555.8 793.1h0M574.4 759.9h0M593.1 748.8h0M518.2 747.6h0M477.6 770.3h0M459.6 755.7h0M474.7 793.1h0M539 759.5h0M542.7 852.6h0M520.5 784.8h0M484.9 766.7h0M544.7 749.8h0M574.8 759.4h0M571.7 756.2h0M477.9 771h0M524.2 791h0M526.3 773.4h0M423.8 838.1h0M458 838.5h0M533.6 762.6h0M506.7 778.9h0M531.1 782.9h0M565.9 758.7h0M469.2 784.4h0M569.8 791.3h0M488.1 773.5h0M485.7 798.1h0M473.2 809.6h0M585.1 791h0M518.5 771.6h0M588.4 744h0M566.4 751.6h0M462.7 782.3h0M576.6 767h0M591.3 759.2h0M517.9 778.4h0M536.3 787.1h0M519.6 769.3h0M548.7 745.8h0M526.1 757.7h0M589.6 788.2h0M474 774h0M513 788.7h0M543.4 744.6h0M571.4 740.3h0M593.3 791.3h0M496.3 759.2h0M576.9 763.3h0M583.8 778.6h0M575.7 768.1h0M556.7 786.3h0M578.3 781.8h0M528.5 791.4h0M542.3 755.1h0M485.2 756.1h0M573.2 785.9h0M487.7 770.3h0M583.1 741.6h0M557 759.8h0M525.4 742.8h0M559.5 793.5h0M482.7 777.1h0M584.9 756h0M576.8 768.8h0M456.8 779.3h0M523.5 768.3h0M436.5 848.7h0M590.6 743.4h0M464.6 792.7h0M548 761.6h0M555.4 766.9h0M574 774h0M592.7 735.7h0M530.7 736.9h0M539.6 770.2h0M583.4 769.5h0M511.3 782.5h0M527.2 763.4h0M591.5 742.6h0M505.2 781.8h0M567.2 758.2h0M519.6 768.6h0M561 764h0M549.8 768.9h0M567.2 742.6h0M571.2 761.3h0M551.6 747.7h0M573.4 757h0M493 777.9h0M570.9 738.3h0M533.4 763.9h0M537.9 755.8h0M443.2 780h0M507.9 762h0M521.8 753.4h0M544.2 770.1h0M588 747.5h0M480.3 751.7h0M573.7 757.4h0M506.6 755.9h0M531.4 763.2h0M560.2 750.8h0M535.8 744.3h0M504.8 788.7h0M583.6 745.9h0M474.5 781.6h0M573.4 775.5h0M484 784h0M578.1 757.1h0M508.4 754.1h0M502.3 757.6h0M564.6 745.3h0M544.2 764.3h0M519.1 735.2h0M564.2 769.3h0M576.7 740.8h0M586.4 736.8h0M430.4 825.2h0M531.3 752.3h0M449.5 810.3h0M503.6 794.9h0M567.3 759.4h0M567.7 744.4h0M490.3 768.4h0M487.7 737.1h0M483.2 773.4h0M515.1 799.5h0M544.1 745.9h0M555 760.8h0M545.6 768.8h0M553.3 758.7h0M591.3 758.6h0M592.3 736.6h0M544.3 738.3h0M510.1 756.8h0M480 794.4h0M489.8 785.9h0M551.1 771.4h0M581.5 771.4h0M462.2 784.9h0M566.6 756.1h0M554.1 781.5h0M434.8 792.5h0M534.3 793.3h0M590 770.5h0M502.5 772.8h0M518.2 744.5h0M513.7 737.7h0M577 750.7h0M507.1 810.2h0M538.3 744.5h0M542.4 741.3h0M506.6 768.4h0M568.1 754.5h0M480.6 790.4h0M551.7 745.1h0M572.5 748.7h0M509.7 799.3h0M559.6 788.4h0M587 766.7h0M570.5 778.7h0M589.8 778.3h0M581.2 762.8h0M525.6 770.3h0M557.6 806.5h0M485.4 758.1h0M590.3 778h0M586.2 757.9h0M518.8 771.5h0M586.8 740.7h0M558 758.7h0M542.2 777.1h0M475.3 797.1h0M535.8 771.8h0M423.9 861.9h0M508.6 764.7h0M568.7 778.5h0M571.3 758.5h0M519.1 769h0M515.1 768.9h0M484.7 767.9h0M505.5 761.7h0M521.4 781.6h0M474.9 777.2h0M470.7 782.3h0M521.6 755.8h0M586.9 771.3h0M564.7 743.6h0M585.5 746.9h0M481 814.3h0M442.8 791.4h0M548.2 781.6h0M447.3 794.3h0M543.9 763.8h0M492.4 743.7h0M514.9 763.1h0M547.8 745.6h0M571.7 760h0M566.7 768.3h0M524.3 750.8h0M519.1 764.3h0M577.2 740h0M577.3 746.1h0M582.2 736.9h0M543.1 773.3h0M478 748h0M568.5 780.6h0M553.5 741.1h0M529.6 750.8h0M574.6 737.7h0M503.4 777.9h0M510.2 758.5h0M529.1 764.4h0M583.2 769.2h0M460 786h0M484.5 759.8h0M546.9 761.3h0M479 786.4h0M556.6 753.5h0M528.4 770.6h0M569.3 771h0M505.4 754.8h0M590.5 755.2h0M539.4 763.4h0M529.1 773.1h0M541.6 751.1h0M455.1 774h0M546.9 766.9h0M509.9 766.4h0M492.7 770.4h0M583.7 750.6h0M558.5 751.9h0M572.2 764h0M525.5 783.7h0M470.6 783.1h0M518.7 773.9h0M521.7 780.7h0M540.9 743.1h0M549.9 742.1h0M585.5 813.6h0M581.9 755.9h0M553.5 758.8h0M519.6 740.4h0M497.5 765.9h0M547.4 757.2h0M542.7 783.3h0M495.1 794.6h0M501.3 770.3h0M480.2 764.3h0M517 774.8h0M490.9 795.1h0M586.1 796.9h0M551.3 755.5h0M460 769.7h0M465.3 798.2h0M586.2 770.7h0M585.3 766.6h0M582 764.9h0M593.6 740.3h0M594.1 741.3h0M591.5 749.5h0M535.4 763h0M591 754h0M576.2 766.9h0M543.6 771.4h0M535.4 742.9h0M585.8 754.5h0M490.2 770.4h0M586.2 743.3h0M574.4 756.6h0M560.1 742.1h0M554.4 735.7h0M518.5 768.4h0M477.2 767.4h0M560.1 762.4h0M546.9 755.9h0M522.1 739.6h0M431.9 800.2h0M572.3 760.8h0M504 737h0M586.6 792h0M585.1 758.3h0M579.1 791.3h0M548.2 767.8h0M529 736.5h0M576.9 749.8h0M590.4 746.6h0M529.8 766.3h0M523.7 754.2h0M521.9 750h0M505.9 736.9h0M582.4 739.5h0M478.9 772.8h0M563.3 779.9h0M486.6 769.6h0M535 774.1h0M577.6 759.6h0M502.4 782.3h0M537.2 760.1h0M504.8 750.2h0M569.2 758.2h0M580.9 760.9h0M516.9 754.6h0M567.7 739.3h0M564.9 748.5h0M535.3 738.3h0M484.4 754.1h0M499.3 742h0M449 783.1h0M556.7 753.9h0M585 780.4h0M476.5 760.2h0M592.1 758h0M449.9 783.6h0M544.8 754.5h0M576.9 770.2h0M559.3 767.9h0M485.4 770.5h0M526.4 759.6h0M511.5 743.9h0M529.4 818.8h0M495.4 756.9h0M569.4 760.3h0M548.5 743.8h0M570.8 744.6h0M568.5 750.8h0M503.1 775.6h0M550.1 740.2h0M482.4 805.7h0M542.7 794h0M521.1 762.2h0M496.7 767.5h0M565 771.5h0M560.4 776.7h0M475.8 747h0M575.7 757h0M501.6 746.4h0M570.6 749.1h0M590.9 769.7h0M486.4 782.2h0M580.8 806h0M560.8 749.2h0M573.8 746.6h0M513.2 812.5h0M557.4 758.2h0M479.6 785.7h0M566.3 755.2h0M554.2 759h0M591.1 750.4h0M577.1 783.4h0M583.8 752.2h0M499.1 749.6h0M544.8 776.5h0M584.5 758.2h0M535.5 757h0M469.2 802.8h0M510.8 756.5h0M556 782.1h0M576.2 746.9h0M507.4 753.8h0M460.8 779.5h0M544.9 787h0M504.8 744.3h0M588.2 759.7h0M524.3 751.2h0M440 782.3h0M475.1 790h0M594.1 774.2h0M560.5 786.2h0M560 775.7h0M583.6 770.3h0M487.3 788.1h0M481 767.9h0M543.5 739.9h0M555.4 763.6h0M538.4 771.6h0M552.1 743.3h0M518.8 739.1h0M587.3 739.3h0M527.3 782h0M543.2 748.9h0M589.5 749h0M543.5 801.8h0M480.5 758.2h0M525.5 751.8h0M528 793.9h0M499.9 776.1h0M582.5 737.9h0M588.2 776.8h0M477.7 774.1h0M574 737.5h0M501.1 743.3h0M580.1 744.7h0M541.6 757.4h0M493.4 787.7h0M589.3 750.7h0M513.1 774.1h0M517.5 759.2h0M490.7 767h0M569.9 742.5h0M500.2 798.6h0M586.9 763.3h0M512.3 763.1h0M588.8 785.7h0M492.9 781.6h0M524.8 737.6h0M588.6 784.3h0M562.2 761.1h0M562 780.8h0M583 787h0M558.3 776.5h0M523.5 788.1h0M590.7 756.7h0M527.2 748.3h0M571 735.3h0M567 760.4h0M537.7 743.7h0M510.5 762.6h0M503.8 756.7h0M520.4 768.2h0M473.9 766.3h0M473.1 755.5h0M570.2 777.7h0M570 752.9h0M496.1 811.8h0M525.2 757.3h0M546.6 771.9h0M506.5 762.6h0M481.1 778.4h0M577.5 762.7h0M528.7 767.5h0M493.7 790.9h0M563.2 742.4h0M497.8 770.6h0M428.3 801.8h0M580.1 776.3h0M488.4 770h0M532.6 766.9h0M505 751h0M589.3 778.1h0M576 737.7h0M464.5 808.2h0M569.3 772.6h0M481.5 821h0M565.4 784h0M544.5 756.2h0M486.2 760.1h0M423.1 808.4h0M533.2 745.5h0M577.7 756.5h0M538.1 756.7h0M501.2 748.8h0M528.7 749.1h0M570.4 748.3h0M568.4 758.1h0M537.7 742.1h0M537 764.6h0M566.9 757.8h0M548.1 787.5h0M535.8 740.5h0M538.8 768.1h0M551.8 779.2h0M417.3 852.3h0M432 890h0M425.2 801.5h0M416.3 872.3h0M422 890.2h0M433.5 869.6h0M426.6 873.7h0M436.4 846.9h0M436.7 856.6h0M428.5 861.6h0M416.5 834.3h0M436.5 808.2h0M412.8 776.4h0"/>
<path fill="none" stroke="#2b9652" stroke-width="2.6" stroke-linecap="round" stroke-opacity="0.7" d="M561.4 727.7h0M503.2 734.7h0M588.1 711.8h0M504.8 728h0M593.2 715.9h0M582.7 715.5h0M510 730.1h0M583.3 723.9h0M591.4 728.2h0M593.5 729.6h0M557.1 726.6h0M594.2 728.7h0M559.3 732.1h0M566.8 727.2h0M579.6 724.7h0M579.2 734.2h0M538.4 733.8h0M560.6 727.2h0M563.3 722.6h0M582.4 732.3h0M575.7 713.6h0M575 734.3h0M514.4 730.8h0M560 725.7h0M586.7 724.2h0M592.4 730.9h0M590.4 734.7h0M588.2 729.6h0M591.2 734.4h0M571.6 705.9h0M570.9 734.6h0M521.4 732.3h0M593.4 730h0M548.2 727.7h0M564.3 718.1h0M585.7 715.8h0M584.7 730.1h0M560.2 726.6h0M593.2 726.6h0M547.8 716.3h0M546.7 731.3h0M581.8 714.7h0M588.2 734.9h0M541.2 733.5h0M546.1 731.9h0M584.8 720.9h0M565.2 727.7h0M589.1 722.4h0M592.6 723.9h0M572.6 725.8h0M580.4 720.2h0M592.9 713h0M520.5 729.7h0M588.5 720.9h0M590.8 709.9h0M594.2 722.4h0M577.3 732.3h0M562.9 731h0M567.6 732.4h0M583 730.1h0M547.9 732h0M593.7 730.3h0M562.1 729.6h0M587.9 718.1h0M571.1 730.1h0M580.5 731.3h0M594.1 724h0M530.2 715.6h0M513.5 734.6h0M593.8 733.8h0M577.2 713.1h0M509.6 728.6h0M594.1 733.8h0M560.8 733.8h0M533.1 731.4h0M594.1 721h0M582.1 709.7h0M533.8 728h0M558 729.7h0M559.7 729.7h0M573.1 718.3h0M589.2 721.1h0M591.5 732.4h0M592.4 724.6h0M592.6 719.1h0M543.4 729.5h0M532.2 726.9h0M591.6 726h0M584.1 725.9h0M553.1 729.5h0M531 731.2h0M501.2 731.1h0M505.9 727h0M593.4 720.5h0M586.6 726h0M528.8 719.2h0M588.8 724h0M593.2 734.6h0M551.3 720.7h0M504.9 729.9h0M594.1 708.9h0M592 732.2h0M594.1 727h0M509.3 731.7h0M512.7 731h0M533.5 733.7h0M516.5 728.6h0M582 693.6h0M524.9 718.4h0"/>
<path fill="none" stroke="#2b9652" stroke-width="2.6" stroke-linecap="round" stroke-opacity="0.7" d="M591.7 709.2h0M533 734.8h0M552.2 719.5h0M534 732.3h0M544.1 734.1h0M576.1 731.9h0M594.1 732.1h0M532.7 728.2h0M591.3 720.7h0M535.4 723.8h0M593.4 729.2h0M594.2 725.5h0M584.9 728.7h0M590.8 732.8h0M524.6 732.4h0M588.9 719.1h0M591.3 732.2h0M583 726.7h0M582.5 733.2h0M562.7 720.7h0M593.9 726.7h0M593.4 729.9h0M557.1 728.5h0M594.2 723.8h0M592.3 728.1h0M561.8 730.2h0M512.5 727.9h0M594 724.7h0M590.8 709.8h0M569.5 726.6h0M536.7 733.3h0M586.2 726.7h0M593.4 727.4h0M593.7 730.8h0M590.3 733.5h0M498.7 730h0M501.2 729.2h0M576.2 733.5h0M559 729.1h0M514.3 731.7h0M585.7 730.6h0M590.8 733.7h0M499.5 731.6h0M590.9 727h0M586.1 723.7h0M562 723.3h0M592.6 732.2h0M593.8 729h0M593.5 720.5h0M571 723h0M579.3 713.3h0M524.6 724.3h0M575.3 727.2h0M546.4 735h0M525 731.6h0M589.8 731.1h0M578.2 723.5h0M578.5 729.6h0M541.7 724.9h0M564.1 723.2h0M519 721.1h0M570.2 729.2h0M527.7 729.9h0M551.9 718.6h0M575.9 724.4h0M543.7 731.9h0M580.7 707.7h0M538.3 731h0M585 734.8h0M574.8 733.4h0M588.3 734.5h0M574.6 731h0M573.4 727.8h0M572.7 734.8h0M566.1 734.5h0M593.3 728.5h0M526.5 733.6h0M508.9 733h0M553.6 734.2h0M520.8 728.5h0M593.7 733.9h0M570.7 731.8h0M593.2 730h0M513.6 731.7h0M583.1 733.1h0M573.9 731.7h0M576.2 725.1h0M589.1 730.7h0M593.8 726.2h0M527 723.2h0M566.3 732.4h0M571.8 726.3h0M579.7 728.3h0M539.3 729.1h0M565.3 726.7h0M531.4 733.4h0M594.2 728.9h0M515.1 734.4h0M593.8 722.4h0M588.2 723h0M592.6 727h0M571.8 714.7h0M594.1 708h0M592.4 729.6h0M593.7 720.2h0M557.5 728.2h0M591.6 702.6h0M575.8 707.4h0M535.1 721.2h0"/>
<path fill="none" stroke="#2b9652" stroke-width="2.6" stroke-linecap="round" stroke-opacity="0.7" d="M515.4 733.8h0M544.5 730.3h0M568.7 733.2h0M499.7 734.6h0M584.2 725.3h0M594 723.9h0M576 728h0M591 719.1h0M504.1 727h0M510.5 734.6h0M594.1 719.5h0M593.8 728.5h0M557.5 721.8h0M565.4 726.6h0M574.7 714.2h0M541.4 733.9h0M592.4 729.9h0M594.2 728.3h0M581.4 716.7h0M570.7 731.7h0M573.2 733.2h0M519.4 726.3h0M570.9 726.1h0M594.1 731.3h0M593 725.2h0M546.3 732.4h0M586.4 718.5h0M593.3 730.3h0M572.7 723.5h0M579.4 721.2h0M557.5 731.3h0M594 730.4h0M523 734.2h0M591.5 732h0M594.1 726.1h0M557.2 731.7h0M594 706.5h0M581.2 729.2h0M561.9 734.5h0M550.1 734.4h0M547.1 733.9h0M527 731h0M588.6 722.9h0M551.8 729.8h0M579.6 724.2h0M579.9 721.4h0M567.6 730.9h0M590.9 723.2h0M545.7 727.9h0M577.4 718.1h0M593.8 715.5h0M545.7 727.3h0M559.9 713.5h0M537.5 719.5h0M511.5 733h0M548.8 727.9h0M594 728.3h0M499.7 729.2h0M590.4 719.6h0M555.5 732.2h0M527.4 731.1h0M570 726.2h0M586.8 704.7h0M504.5 728.6h0M517 732.5h0M593.9 718.2h0M538.4 722.6h0M501.4 734h0M500.5 733.4h0M502.3 726h0M511.9 731h0M582.2 718.3h0M587.4 724.7h0M507.4 734h0M589.3 734.5h0M591.5 718.1h0M591.2 726.4h0M578.7 726.8h0M587.2 726.6h0M567.3 718.2h0M594.2 723.8h0M580 718.5h0M528 726.9h0M588.7 723.2h0M593.7 718.6h0M519.3 728.8h0M577.4 718.1h0M591.5 715.4h0M572 734.9h0M594.1 718.1h0M532.6 717.5h0M593.3 727.9h0M553.3 728.9h0M534 714h0M546.4 721.7h0M580.6 720.8h0M594.1 717.9h0M579.2 726.7h0M508 733.2h0M592.7 724.4h0M583.5 696.1h0M559.4 729.3h0M582.8 731.3h0M560.6 727.9h0M593.5 724.8h0M523.3 734.3h0M594 720.4h0M586 710.7h0M583.2 722h0M572.2 733.7h0M530.2 733.5h0M502.1 728.6h0M570.7 727.4h0M574.2 697.7h0M504.1 732.4h0M573.3 734.6h0M588.1 690.8h0M502.5 724h0"/>
<path fill="none" stroke="#6a1c8c" stroke-width="2.6" stroke-linecap="round" stroke-opacity="0.7" d="M595.9 738.8h0M604 736.5h0M596.7 755.5h0M598.3 739.3h0M602.6 747h0M596 753.1h0M597.8 743.2h0M603.2 738.7h0M607.2 737.2h0M610.2 748.6h0M595.2 740.3h0M601.2 752.4h0M599.2 735.7h0M601.6 763h0M596.6 752h0M594.8 742.7h0M595.3 759.6h0M594.7 735.8h0M600.2 744.6h0M596.5 735.6h0M602 738.2h0M600.9 735.1h0M598.6 754.5h0M595.2 745.6h0M597 745.4h0M606.1 745.3h0M601.5 743.6h0M595.6 752.1h0M596.5 752.4h0M597.4 739.6h0M601.3 735.6h0M595.5 747.7h0M612.8 756h0M597.3 758h0M597.8 736.5h0M598.9 737.8h0M597.9 743.4h0M601.3 757.5h0M595.2 755.4h0M598.2 737.5h0M604.8 738.8h0M603.9 747.8h0M599.5 770.2h0M596.9 741.4h0M594.7 763h0M601.1 746.6h0M597.1 737.5h0M605.7 751.6h0M599.4 758.2h0M597.6 755.9h0M600.3 755.4h0M596.2 768h0M602.9 737.5h0M603.7 740.6h0M604.9 773.8h0M598.4 740.8h0M599.5 748.1h0M613.5 761.2h0M600.2 743.1h0M594.2 746.2h0M599.5 736h0M607.8 737.4h0M600.9 743.9h0M598.5 766.6h0M599.3 746.9h0M611.5 746.1h0M595.3 744.5h0M598.2 767.4h0M594.4 735.7h0M599.2 741.6h0M596.3 737.2h0M597.9 763.8h0M599.1 763.3h0M598.4 753.5h0M600.1 761.6h0M601.6 746.2h0M602.2 744.2h0M594.6 758.4h0M594.5 759.9h0M599.1 768.6h0M600.2 779.2h0M594.9 735.3h0M594.3 750.9h0M600.3 744.5h0M603.7 741.2h0M597.3 754.8h0M599.9 740h0M596.9 735.6h0M597.9 742.5h0M605.4 735.3h0M594.2 746.4h0M600.5 739.3h0M600.1 739.2h0M602.9 736.2h0M594.4 747.1h0M600 766.1h0M599.2 736.3h0M598.2 748.4h0M595.6 749.8h0M603.8 751.8h0M598.5 751.2h0M594.9 740.3h0M603.6 762.8h0M596.7 764.8h0M597.5 763.2h0M599.1 740.1h0M597.7 741.3h0M606.5 749.7h0M595 756.6h0M595.3 753h0M596.9 737.6h0M597.7 757.4h0M595.6 744.2h0M601.7 735.9h0M594.5 770.2h0M599.7 744.4h0M600.1 746.6h0M609.4 738.5h0M594.8 753h0M601.3 758.9h0M598.8 746.6h0"/>
<path fill="none" stroke="#6a1c8c" stroke-width="2.6" stroke-linecap="round" stroke-opacity="0.7" d="M596.4 773.6h0M594.8 745.1h0M594.5 748.8h0M603.2 754.5h0M604.5 747h0M602.1 757.8h0M602 748.1h0M597.3 736.9h0M603.9 740.2h0M601.4 736.2h0M596.3 744.8h0M598.4 768.2h0M597.3 751.3h0M599.1 754.5h0M596.4 762.3h0M596.8 737.8h0M597.8 752.5h0M596 750.5h0M595.4 735.8h0M606 736.4h0M595.9 740.9h0M600.8 754.2h0M598.2 747.2h0M596.9 747.7h0M597.3 746.1h0M597.8 744.1h0M595.9 737.9h0M602.1 737.2h0M599 746.7h0M596.5 737.3h0M596.1 748.1h0M606.2 741.5h0M601.5 748.3h0M602.1 777.6h0M598.4 752.6h0M610.7 782.4h0M594.9 739.9h0M604.2 747.6h0M597.9 741.2h0M596 753.7h0M597.9 781.2h0M599 740.7h0M596.9 756.3h0M596.2 744h0M604.5 748.3h0M598.2 758.1h0M603.5 740.3h0M595.9 752.9h0M601.9 743.5h0M594.3 741.6h0M603.8 751.3h0M601.5 737h0M600.2 758h0M605.7 757h0M609.9 745.1h0M602.9 758.3h0M605.6 764h0M594.2 746.6h0M597.3 756.6h0M605.5 756.7h0M602.1 735.4h0M598.3 742.6h0M596.1 739.1h0M602.7 736.5h0M609.1 740.3h0M606.6 760.6h0M604.1 741.6h0M603.6 740.5h0M600.1 758.1h0M596.9 757h0M597.2 751.7h0M604.1 770.6h0M603.5 741.4h0M597.1 747.1h0M601.4 747h0M610.7 778.7h0M596.9 744.2h0M595.2 746h0M596.2 758.7h0M595.9 744.5h0M595.3 747.3h0M598.4 739.6h0M596.5 741.9h0M603.7 740.2h0M602.1 740.3h0M594.7 741.1h0M602.8 748.4h0M595.3 753.5h0M604.5 775.2h0M594.3 736.1h0M606 744.9h0M598.7 743.3h0M596.7 758.2h0M599.1 759.8h0M598 744h0M596.4 741.5h0M596 755.9h0M606 759h0M602.2 741.5h0M596.3 744.4h0M611.9 741.6h0M603.3 770.4h0M605.5 760.5h0M595 754h0M604.2 750.7h0M599.9 750.1h0M596.1 755.3h0M595.4 759.6h0M606.7 745.3h0M609.5 742h0M600.5 752.5h0M597.3 745h0M604 748.9h0M605.3 761.1h0"/>
<path fill="none" stroke="#6a1c8c" stroke-width="2.6" stroke-linecap="round" stroke-opacity="0.7" d="M598.7 749.2h0M595.6 772.4h0M603.4 750.5h0M595.5 747.5h0M596.6 740.1h0M596.9 735.8h0M602.1 762.2h0M604 740.7h0M594.6 738.8h0M595.7 744.7h0M602.4 765.9h0M600.6 749.4h0M610.6 759.3h0M595.6 739.6h0M601.9 749.4h0M600.7 759.7h0M595.6 746.7h0M611.8 757.8h0M605.6 750h0M607.6 737.5h0M598.4 750.1h0M595.9 740.5h0M613.5 761.2h0M602.1 739.9h0M605.4 742.1h0M605.3 740.8h0M601.3 743.1h0M611.5 772h0M608.1 751.7h0M597 755.3h0M605.4 760.2h0M597 756.2h0M606.2 737.1h0M594.5 764.1h0M600.7 744.6h0M596.9 765.9h0M594.9 750.5h0M604.1 750h0M602.6 749.3h0M599.6 754.7h0M601.1 778.4h0M603.2 743.5h0M596.3 769.2h0M597.3 745.9h0M608.5 745.9h0M597.7 742.7h0M594.8 749.7h0M605.3 745.4h0M602.6 748.8h0M597.6 745h0M599.1 736.7h0M597.1 746h0M606 780.7h0M596.1 756h0M605.2 752.7h0M596.2 748.3h0M610.7 754.1h0M600.1 766.1h0M596.4 739.6h0M605.3 743.6h0M601.8 736h0M603.8 754.9h0M597.8 772.8h0M601.8 740.4h0M594.2 745.4h0M597.6 748.7h0M594.3 736.6h0M602.8 747.5h0M607.3 761.8h0M599.9 741.8h0M607.2 746.8h0M608 750.2h0M606.6 748h0M601.6 746.1h0M598.7 751.8h0M603.6 747h0M596.8 745.6h0M601.4 748.2h0M597.4 749.4h0M607.7 743.4h0M610.4 772.8h0M595.5 746.4h0M595.9 754.4h0M601.9 748.8h0M597.3 760.6h0M597.9 743h0M596.3 735.9h0M598.7 738.3h0M613.5 752.3h0M598.3 756.7h0M600.6 749.4h0M594.4 736.5h0M595.1 759h0M606 745.7h0M599.9 747.7h0M598 748.6h0M599.1 736.5h0M602.4 739.6h0M602.5 749.5h0M596.5 745.1h0M596.6 752.8h0M604.6 741h0M596.2 762.7h0M599.2 739.1h0M595.5 747.3h0M599 742.9h0M603.3 740.6h0M595.5 737.8h0M606 764.6h0M598.3 737.1h0M597.3 785.2h0M603.8 742h0M597.1 754.4h0M599.7 736.1h0M596.5 742.1h0M603.4 746.5h0M601.2 743.6h0M596.8 745.7h0M594.7 735.6h0M598.9 744.1h0M601.3 744.4h0M597 738.1h0M601.9 748.1h0M597.7 738.4h0"/>
<path fill="none" stroke="#4350a2" stroke-width="2.6" stroke-linecap="round" stroke-opacity="0.65" d="M598.3 727.3h0M594.9 723.4h0M604.3 723.6h0M600.4 723.9h0M595.8 728.5h0M597.6 726.9h0M594.2 728.6h0M595.8 726.3h0M600.3 719.1h0M596.4 725.6h0M601.6 727.6h0M600.7 718.6h0M596.2 722.8h0M595.6 734.5h0M597.9 730.4h0M604.3 734.8h0M596.3 731.4h0M596.6 720.3h0M612.5 732h0M595.3 732.6h0M596.3 726.3h0M600.5 727.6h0M601.1 725.6h0M594.3 726.1h0M604.8 728h0M599.8 730.2h0M597.5 724.6h0M597.1 728.1h0M605.9 734.7h0M599.4 715.9h0M598.7 733.1h0M598.2 727.2h0M596.1 733.5h0M597.9 734.9h0M602.9 723.1h0M602 723.5h0M595.3 729.2h0M600.3 681.2h0M602.3 703.3h0M606.4 714.3h0"/>
<path fill="none" stroke="#4350a2" stroke-width="2.6" stroke-linecap="round" stroke-opacity="0.65" d="M599.6 732h0M594.9 727.4h0M601.8 727.1h0M594.2 732.8h0M599.9 721.3h0M603 718.3h0M594.7 733.1h0M596.4 721.5h0M594.6 730.4h0M603.2 731.2h0M594.5 721.9h0M603.6 730.3h0M602.8 728.4h0M599.1 722.4h0M594.6 716.4h0M602.2 728.9h0M599.6 731.7h0M596.5 729.3h0M602.1 731.7h0M598.9 733.1h0M605.2 719.1h0M595.6 729.9h0M599.5 724.9h0M595.8 718.4h0M601.7 716.8h0M600.3 730h0M612.5 727.4h0M604.6 714.2h0M599.3 728.3h0M596.9 726.3h0M600.2 727.2h0M596.3 727.2h0M599.4 710.7h0M611.9 727.6h0M597.5 734.4h0M596.7 728h0M600.1 733.8h0M595.8 734h0M603 725.8h0M598.9 732.3h0M598 729.9h0M597.1 727.6h0M599.8 733.2h0M606.4 733.2h0M598.6 734.6h0M604.4 685.3h0"/>
<path fill="none" stroke="#4350a2" stroke-width="2.6" stroke-linecap="round" stroke-opacity="0.65" d="M595 727.1h0M602.8 718.9h0M598.9 724.5h0M594.4 727.1h0M598.7 729.8h0M598.9 716.9h0M594.2 729.6h0M599.4 727.2h0M601.3 723.6h0M601.1 731.9h0M601.5 730.5h0M595.2 728.6h0M599.7 729.4h0M596.6 732.3h0M597.9 724h0M607.3 726h0M601.1 725.2h0M602.3 720.2h0M606.8 729.6h0M597.7 726.5h0M595.2 725h0M606 734h0M594.4 732.9h0M596.7 733h0M595.9 733.7h0M597.7 730.9h0M605.1 721.6h0M604 732h0M596.1 730.3h0M597.9 731.2h0M599.2 732.5h0M603.8 729.7h0M605.3 731.3h0M604.4 733.3h0M604.6 726.8h0M600.1 731.6h0M601.6 730.1h0M597.9 731.5h0M596.2 707.4h0"/>
<rect x="401.7" y="671.9" width="221.6" height="224.9" fill="none" stroke="#222" stroke-width="1.0"/>
<line x1="594.4" y1="672.3" x2="594.4" y2="896.4" stroke="#111" stroke-width="0.7" stroke-dasharray="2 1.6"/>
<line x1="402" y1="735" x2="623" y2="735" stroke="#111" stroke-width="0.7" stroke-dasharray="2 1.6"/>
<line x1="399.7" y1="721.2" x2="401.7" y2="721.2" stroke="#222" stroke-width="0.8"/>
<text x="398.8" y="723.7" text-anchor="end">0.4</text>
<line x1="399.7" y1="776.4" x2="401.7" y2="776.4" stroke="#222" stroke-width="0.8"/>
<text x="398.8" y="778.9" text-anchor="end">0.0</text>
<line x1="399.7" y1="831.6" x2="401.7" y2="831.6" stroke="#222" stroke-width="0.8"/>
<text x="398.8" y="834.1" text-anchor="end">−0.4</text>
<line x1="399.7" y1="886.8" x2="401.7" y2="886.8" stroke="#222" stroke-width="0.8"/>
<text x="398.8" y="889.3" text-anchor="end">−0.8</text>
<line x1="412.8" y1="896.8" x2="412.8" y2="898.8" stroke="#222" stroke-width="0.8"/>
<text x="412.8" y="908.2" text-anchor="middle">0.00</text>
<line x1="463.8" y1="896.8" x2="463.8" y2="898.8" stroke="#222" stroke-width="0.8"/>
<text x="463.8" y="908.2" text-anchor="middle">0.25</text>
<line x1="514.7" y1="896.8" x2="514.7" y2="898.8" stroke="#222" stroke-width="0.8"/>
<text x="514.7" y="908.2" text-anchor="middle">0.50</text>
<line x1="565.7" y1="896.8" x2="565.7" y2="898.8" stroke="#222" stroke-width="0.8"/>
<text x="565.7" y="908.2" text-anchor="middle">0.75</text>
<line x1="616.6" y1="896.8" x2="616.6" y2="898.8" stroke="#222" stroke-width="0.8"/>
<text x="616.6" y="908.2" text-anchor="middle">1.00</text>
<text x="513" y="918.2" text-anchor="middle">Best 200-bp sliding window</text>
<text x="513" y="925.8" text-anchor="middle">PhastCons</text>
<text transform="translate(376.8,787.5) rotate(-90)" text-anchor="middle">Fraction of bases</text>
<text transform="translate(386.4,787.5) rotate(-90)" text-anchor="middle">PhyloP</text>
<rect x="496" y="847.5" width="100" height="44" fill="#fff"/>
<circle cx="501.9" cy="854" r="2.1" fill="#7f86c4"/>
<text x="508.2" y="856.5">PhastCons&amp;PhyloP (229)</text>
<circle cx="501.9" cy="864.6" r="2.1" fill="#9a4fb8"/>
<text x="508.2" y="867.1">Only PhastCons (662)</text>
<circle cx="501.9" cy="875.2" r="2.1" fill="#4fb87f"/>
<text x="508.2" y="877.7">Only PhyloP (488)</text>
<circle cx="501.9" cy="885.8" r="2.1" fill="#cfcfcf"/>
<text x="508.2" y="888.3">None (11,441)</text>
<line x1="639.4" y1="671.5" x2="639.4" y2="897.3" stroke="#222" stroke-width="1.0"/>
<line x1="638.9" y1="896.8" x2="676.9" y2="896.8" stroke="#222" stroke-width="1.0"/>
<line x1="640.9" y1="896.8" x2="640.9" y2="898.8" stroke="#222" stroke-width="0.8"/>
<text x="640.9" y="908.2" text-anchor="middle">0</text>
<line x1="650.4" y1="896.8" x2="650.4" y2="898.8" stroke="#222" stroke-width="0.8"/>
<text x="650.4" y="908.2" text-anchor="middle">2</text>
<line x1="659.6" y1="896.8" x2="659.6" y2="898.8" stroke="#222" stroke-width="0.8"/>
<text x="659.6" y="908.2" text-anchor="middle">4</text>
<line x1="669.1" y1="896.8" x2="669.1" y2="898.8" stroke="#222" stroke-width="0.8"/>
<text x="669.1" y="908.2" text-anchor="middle">6</text>
<text x="659.6" y="918.6" text-anchor="middle">Density</text>
<path d="M640.9 681.6L640.9 685.1L640.9 690.1L640.9 695.4L641 700L641 703.4L641 706.3L641.1 709L641.5 712L642.2 715.3L643.1 718.8L644.2 722.5L645.2 726.3L646.3 730.5L647.4 735.1L648.5 739.6L649.5 743.6L650.5 746.9L651.4 749.7L652.1 752.3L652.4 755.2L651.8 758.5L650.5 762L649.4 765.4L649.5 768.2L651.1 770.3L653.7 772L656.8 773.4L660 774.5L664 775.3L668.9 775.9L672.9 776.3L674.6 776.8L673 777.4L669 778L664.2 778.7L660 779.5L656.3 780.2L652.6 780.7L649.2 781.7L646.6 783.5L645 786.3L644 789.8L643.5 793.8L642.9 798.4L642.3 803.5L641.7 809.1L641.3 815.2L641 821.5L640.8 828L640.8 834.8L640.9 842.1L640.9 850L640.9 859.7L640.9 870.7L640.9 880.9L640.9 887.9" fill="none" stroke="#222" stroke-width="0.9" stroke-linejoin="round"/>
<line x1="640.6" y1="681.6" x2="640.6" y2="710" stroke="#222" stroke-width="1.2"/>
<line x1="640.6" y1="825" x2="640.6" y2="887.9" stroke="#222" stroke-width="1.2"/>
</svg></body></html>
